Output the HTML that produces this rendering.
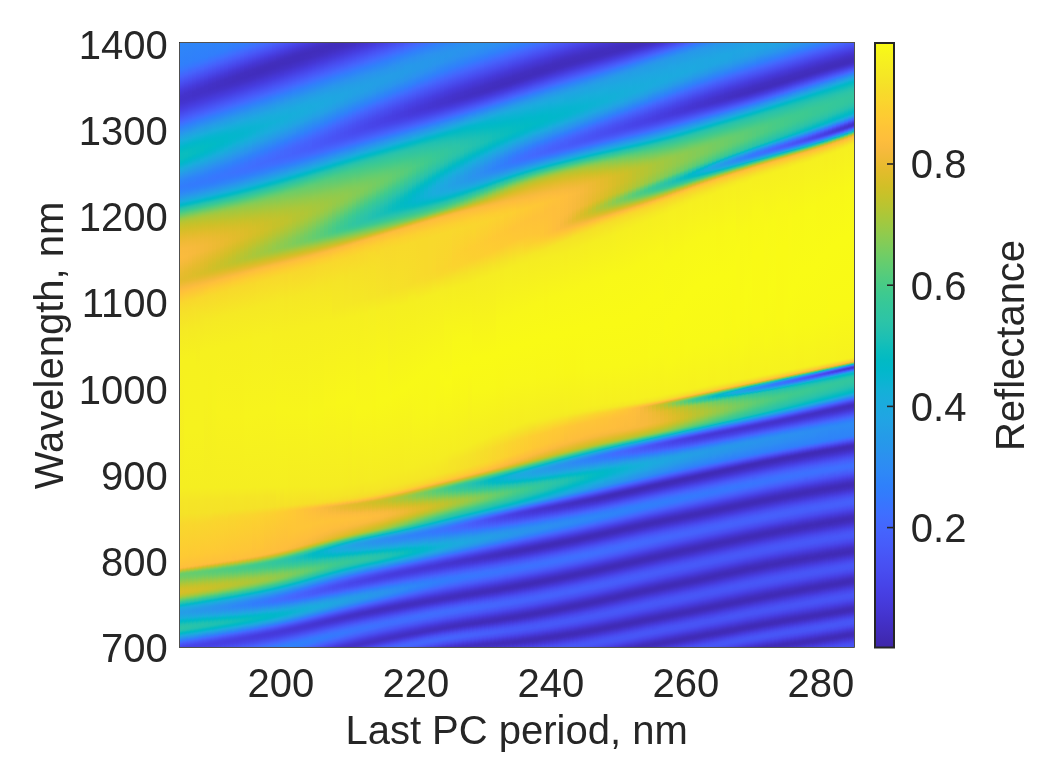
<!DOCTYPE html>
<html lang="en"><head><meta charset="utf-8"><title>Reflectance map</title>
<style>
html,body{margin:0;padding:0;background:#fff;}
body{width:1042px;height:769px;overflow:hidden;}
svg{display:block;position:absolute;left:0;top:0;}
#hm{position:absolute;left:179.6px;top:42.6px;width:674.8px;height:604.8px;overflow:hidden;}
#sk{position:absolute;left:0.4px;top:0.4px;width:675px;height:776px;transform-origin:0 0;transform:skewY(-14deg);}
#hm i{position:absolute;top:0;height:776px;display:block;}
text{font-family:"Liberation Sans",Arial,sans-serif;fill:#262626;}
.t{font-size:40.00px;}
.l{font-size:40.00px;}
</style></head><body>
<div id="hm"><div id="sk">
<i style="left:0px;width:4px;background:linear-gradient(#2e87f7 0px,#3080fa 22px,#3777fe 27px,#4562fc 34px,#484ff2 40px,#463bdd 47px,#4433cc 53px,#4332ca 57px,#4435d1 61px,#473fe3 67px,#475cfa 76px,#4368fe 79px,#3d71ff 81px,#2f82f9 85px,#2b91ef 89px,#22a2e4 94px,#19addc 98px,#02b7cb 104px,#02bac4 107px,#09bdbe 111px,#09bcbe 116px,#02bac5 119px,#02b7cb 121px,#1aacdd 126px,#249fe6 130px,#2b91ef 134px,#2e85f8 138px,#327cfc 144px,#2e84f9 149px,#2d8df2 152px,#249ee6 156px,#1aacdd 159px,#01b7ca 162px,#02bbc3 163px,#28c2ab 166px,#3eca90 169px,#56cc7b 171px,#96ca48 176px,#aac73a 178px,#b9c431 180px,#c6c22a 183px,#d3bf27 187px,#e6bb2d 194px,#efba35 199px,#f8ba3d 206px,#fabb3d 215px,#f7ba3c 219px,#e7bb2e 231px,#e3bb2c 237px,#e9bb2f 240px,#f8ba3d 245px,#febe3c 248px,#fec437 251px,#f9d82c 261px,#f6e028 270px,#f5ea23 289px,#f6f11e 318px,#f5ee21 445px,#f5e526 459px,#f5e227 472px,#f8d82c 481px,#feca33 514px,#fec338 522px,#febe3c 525px,#f3ba39 526px,#dfbc2a 527px,#c2c22c 528px,#84cc56 530px,#6fcd65 531px,#6acd6a 532px,#6fcd66 534px,#7ccc5c 536px,#b3c534 542px,#c4c22b 544px,#d0c027 546px,#d8be28 549px,#d2bf27 551px,#bcc42f 553px,#acc739 554px,#97ca48 555px,#66cd6d 557px,#3bc993 559px,#20c1b1 561px,#09bdbe 562px,#01b8c9 563px,#18addb 565px,#1da8e0 566px,#249ee6 569px,#249ee6 571px,#1aabdd 575px,#14b0d8 576px,#02b7cb 578px,#02bac4 579px,#21c1b0 582px,#2bc3a8 584px,#2cc4a7 586px,#28c3aa 587px,#22c1b0 588px,#15bfb7 589px,#06bcc0 590px,#01b8ca 591px,#1babde 593px,#2699e9 595px,#3479fd 598px,#3f6efe 599px,#4563fd 600px,#484cef 603px,#4743e7 605px,#4742e6 607px)"></i>
<i style="left:4px;width:4px;background:linear-gradient(#2e87f7 0px,#307ffb 22px,#3876fe 27px,#4564fd 33px,#484df1 40px,#463adb 47px,#4433cc 52px,#4332ca 57px,#4435d1 61px,#4740e4 67px,#475af9 75px,#3f6eff 80px,#3080fb 84px,#259de7 92px,#18aedb 98px,#04b6cd 103px,#01b8ca 104px,#02bac3 107px,#06bcc0 109px,#0abdbe 112px,#09bcbe 115px,#02bac4 118px,#01b8ca 120px,#08b4d0 122px,#18addb 125px,#23a1e4 129px,#2c90f0 134px,#2e84f8 138px,#327cfc 144px,#2e83f9 149px,#2d8df2 152px,#249ee6 156px,#1aabdd 159px,#14b0d8 160px,#02b7cb 162px,#02bac4 163px,#27c2ac 166px,#3dc991 169px,#54cc7c 171px,#94ca4a 176px,#a8c73b 178px,#b7c532 180px,#c4c22a 183px,#d2bf27 187px,#e5bb2d 194px,#f0ba36 200px,#f8ba3d 207px,#f9bb3d 215px,#f6ba3b 219px,#e6bb2d 230px,#e2bc2b 236px,#e5bb2d 239px,#f8ba3d 245px,#febe3c 248px,#fec537 251px,#f9d72d 260px,#f6df29 269px,#f5ea24 288px,#f6f11e 318px,#f6f21e 391px,#f5ee21 446px,#f5e626 459px,#f5e327 472px,#f9d82c 482px,#feca33 514px,#fec03b 525px,#f9bb3d 526px,#e9bb2f 527px,#d0bf27 528px,#b1c635 529px,#91ca4c 530px,#77cc60 531px,#6acd6a 532px,#69cd6b 533px,#76cc60 536px,#adc638 542px,#bec32e 544px,#ccc028 546px,#d6be28 549px,#d3bf27 551px,#c1c32c 553px,#b2c635 554px,#9fc942 555px,#70cd65 557px,#41ca8c 559px,#27c2ac 561px,#12beb9 562px,#02bac5 563px,#07b5d0 564px,#15afd9 565px,#1caadf 566px,#249ee6 569px,#259de7 571px,#23a1e4 573px,#19addc 576px,#01b8c9 579px,#04bbc1 580px,#24c1af 583px,#2bc3a8 585px,#29c3a9 587px,#25c2ae 588px,#1bc0b4 589px,#0bbdbd 590px,#01b9c6 591px,#08b4d0 592px,#17aeda 593px,#1fa6e2 594px,#317efb 598px,#3c72ff 599px,#4367fd 600px,#465dfb 601px,#4848ec 604px,#4742e6 606px,#4743e7 608px)"></i>
<i style="left:8px;width:4px;background:linear-gradient(#2e86f7 1px,#3080fa 21px,#3777fe 26px,#4562fc 33px,#484ff2 39px,#463bdd 46px,#4433cd 51px,#4332c9 56px,#4434cf 60px,#473fe2 66px,#475bfa 75px,#3e6fff 80px,#2f81fa 84px,#22a1e4 93px,#17aeda 98px,#03b7cc 103px,#02bac3 107px,#07bcbf 110px,#07bcc0 115px,#02bac3 117px,#01b8c9 119px,#06b5cf 121px,#1aacdd 125px,#239fe5 129px,#2c8ff1 134px,#2e83f9 138px,#337bfc 144px,#317efb 147px,#2e85f8 150px,#2b90f0 153px,#22a2e4 157px,#15afd9 160px,#03b7cc 162px,#02bac5 163px,#0bbdbd 164px,#26c2ad 166px,#3cc992 169px,#5fcd73 172px,#92ca4b 176px,#a6c83d 178px,#b5c533 180px,#c3c22b 183px,#d0bf27 187px,#dcbd29 191px,#efba35 200px,#f7ba3c 207px,#f8ba3d 214px,#f3ba38 220px,#e5bb2d 229px,#e0bc2a 236px,#e7bb2e 240px,#f8ba3d 245px,#febe3c 248px,#fec338 250px,#f9d72c 260px,#f6e028 270px,#f5ea23 289px,#f6f11e 319px,#f6f21e 391px,#f5ee21 447px,#f5e526 460px,#f5e227 473px,#f9d82c 482px,#fdca33 514px,#fec13a 525px,#fdbd3d 526px,#f1ba37 527px,#dcbd29 528px,#bfc32d 529px,#82cc58 531px,#6dcd67 532px,#67cd6c 533px,#6ccd69 535px,#77cc5f 537px,#b0c636 543px,#c0c32d 545px,#cdc028 547px,#d5be28 550px,#cec028 552px,#c4c22b 553px,#a6c83d 555px,#79cc5e 557px,#49cb85 559px,#37c897 560px,#2dc4a6 561px,#1bc0b4 562px,#06bbc1 563px,#03b7cc 564px,#11b1d6 565px,#1aacdd 566px,#1fa6e1 567px,#259ce7 570px,#259ce7 572px,#1ca9df 576px,#17aedb 577px,#05b6ce 579px,#01b9c6 580px,#07bcbf 581px,#1ec0b2 583px,#29c3aa 585px,#2ac3a9 587px,#26c2ac 588px,#1fc0b2 589px,#11beb9 590px,#03bbc2 591px,#03b6cc 592px,#12b1d6 593px,#1ca9df 594px,#2d8df2 597px,#2f82fa 598px,#3776fe 599px,#416bfe 600px,#4661fc 601px,#484aee 604px,#4742e6 606px,#4743e7 609px)"></i>
<i style="left:12px;width:4px;background:linear-gradient(#2e86f7 2px,#307ffb 21px,#3876fe 26px,#4564fd 32px,#484df0 39px,#463ada 46px,#4332c9 52px,#4331c8 56px,#4434cf 60px,#473fe3 66px,#475dfa 75px,#4368fe 78px,#3c71ff 80px,#317efb 83px,#249fe5 92px,#19addc 97px,#05b6ce 102px,#01b8c9 104px,#05bbc1 109px,#06bcc0 114px,#02bac3 116px,#02b7cb 119px,#18addb 124px,#22a1e4 128px,#2b91ef 133px,#2f83f9 138px,#337bfd 144px,#317dfc 147px,#2e85f8 150px,#2c90f0 153px,#22a1e4 157px,#16afd9 160px,#04b6cd 162px,#01bac5 163px,#09bdbe 164px,#25c2ae 166px,#3ac993 169px,#44cb89 170px,#5dcc74 172px,#90ca4d 176px,#a4c83e 178px,#b3c534 180px,#c5c22a 184px,#d2bf27 188px,#e4bb2c 195px,#eeba34 200px,#f6ba3b 207px,#f7ba3c 214px,#e6bb2d 227px,#dfbc2a 232px,#debd29 236px,#e7bb2e 240px,#f8ba3d 245px,#febf3c 248px,#fec338 250px,#f9d72c 260px,#f6e029 269px,#f5ea23 289px,#f6f11e 319px,#f6f21e 391px,#f5ee21 448px,#f5e526 461px,#f5e227 474px,#f9d72c 484px,#fec934 516px,#febf3c 526px,#f7ba3c 527px,#e6bb2d 528px,#cdc028 529px,#aec637 530px,#8fcb4e 531px,#75cc61 532px,#67cd6d 533px,#65cd6e 534px,#71cd64 537px,#82cc58 539px,#a9c73a 543px,#bbc430 545px,#c9c129 547px,#d3bf27 550px,#cfc028 552px,#c7c12a 553px,#acc739 555px,#98c946 556px,#69cd6a 558px,#3dc990 560px,#23c1af 562px,#0cbdbc 563px,#01b8c8 564px,#18aedb 566px,#1da8e0 567px,#259be7 570px,#269ae8 572px,#22a2e4 575px,#1baade 577px,#15afd9 578px,#03b7cc 580px,#02bac4 581px,#20c1b1 584px,#28c3aa 586px,#27c2ab 588px,#22c1b0 589px,#17bfb7 590px,#08bcbf 591px,#01b8c8 592px,#19addc 594px,#2b91ef 597px,#337bfd 599px,#3e6fff 600px,#4464fd 601px,#4853f5 603px,#4746eb 605px,#4741e5 607px,#4744e9 610px)"></i>
<i style="left:16px;width:4px;background:linear-gradient(#2e86f8 3px,#307ffb 21px,#327cfc 23px,#3c72ff 27px,#4562fc 32px,#484bef 39px,#4538d8 46px,#4332c9 51px,#4331c8 56px,#4435d0 60px,#4740e4 66px,#475af9 74px,#3f6eff 79px,#3080fb 83px,#259de7 91px,#18addb 97px,#05b6ce 102px,#01b8c9 104px,#04bbc2 109px,#04bbc2 114px,#01b8ca 118px,#1ca9df 125px,#2c90f0 133px,#2e87f7 136px,#317efb 140px,#347afd 144px,#317dfc 147px,#2e84f8 150px,#2c8ff0 153px,#23a1e5 157px,#17aeda 160px,#05b6cd 162px,#01b9c6 163px,#08bcbf 164px,#23c1af 166px,#43ca8b 170px,#5bcc76 172px,#8ecb4f 176px,#a2c840 178px,#b1c635 180px,#c2c22b 184px,#d0bf27 188px,#e3bc2c 195px,#eeba34 201px,#f5ba3a 208px,#f5ba3a 214px,#e5bb2d 226px,#dbbd29 235px,#ddbd29 237px,#e6bb2d 240px,#f7ba3c 245px,#febf3b 248px,#f9d82c 260px,#f5e327 274px,#f5ec22 294px,#f6f11e 329px,#f6f21e 392px,#f5ee21 449px,#f5e526 462px,#f5e228 475px,#f9d72d 485px,#feca33 515px,#fec03a 526px,#fbbc3d 527px,#eeba34 528px,#d9be28 529px,#bcc42f 530px,#7fcc5a 532px,#6acd6a 533px,#63cd70 534px,#67cd6c 536px,#72cd63 538px,#acc739 544px,#c4c22b 547px,#d0bf27 550px,#cfc028 552px,#bfc32d 554px,#9fc941 556px,#72cd64 558px,#44ca8a 560px,#29c3aa 562px,#02bac4 564px,#06b5cf 565px,#15afd8 566px,#1caadf 567px,#259be7 570px,#2698ea 572px,#249ee6 575px,#1aacdd 578px,#01b8ca 581px,#03bbc2 582px,#19bfb5 584px,#26c2ad 586px,#27c2ab 588px,#24c1af 589px,#1bc0b4 590px,#0dbdbc 591px,#02bac5 592px,#06b5cf 593px,#15afd9 594px,#1ea8e1 595px,#307ffb 599px,#3a73fe 600px,#4368fe 601px,#465efb 602px,#484ef1 604px,#4744e8 606px,#4741e5 608px,#4746ea 611px)"></i>
<i style="left:20px;width:4px;background:linear-gradient(#2e85f8 4px,#307ffb 20px,#3876fe 25px,#4564fd 31px,#484df0 38px,#4639d9 45px,#4331c8 51px,#4331c6 55px,#4434ce 59px,#473ee1 65px,#475bf9 74px,#3e6fff 79px,#2f81fa 83px,#269be8 90px,#18aedb 97px,#08b5d0 101px,#01b8c9 104px,#03bbc2 109px,#03bbc2 113px,#01b8ca 117px,#07b5cf 119px,#19addc 123px,#2b92ee 132px,#307ffb 139px,#3479fd 144px,#327cfc 147px,#2e84f9 150px,#2c8ff1 153px,#23a0e5 157px,#18aedb 160px,#06b6ce 162px,#01b9c7 163px,#07bcc0 164px,#22c1b0 166px,#2bc3a8 167px,#41ca8c 170px,#59cc78 172px,#8bcb51 176px,#9fc941 178px,#afc637 180px,#c4c22b 185px,#d1bf27 189px,#e4bb2c 196px,#eeba34 202px,#f3ba39 208px,#f3ba39 214px,#e2bc2b 226px,#d8be28 235px,#dbbd29 237px,#e5bb2d 240px,#f7ba3c 245px,#febf3b 248px,#f9d82c 260px,#f5e626 279px,#f6f11f 314px,#f6f21e 344px,#f6f21e 396px,#f5ee21 450px,#f5e626 462px,#f5e227 475px,#f9d62d 486px,#fec834 518px,#fec239 525px,#febe3c 527px,#f5ba3a 528px,#e3bc2c 529px,#c9c129 530px,#abc739 531px,#8bcb50 532px,#71cd64 533px,#63cd70 534px,#61cd72 535px,#67cd6d 537px,#74cd62 539px,#aec637 545px,#c5c22a 548px,#cdc028 550px,#cec028 552px,#c1c32c 554px,#a5c83d 556px,#91ca4c 557px,#62cd70 559px,#4bcb84 560px,#39c895 561px,#2dc4a5 562px,#1dc0b3 563px,#07bcc0 564px,#03b7cb 565px,#11b1d6 566px,#1aabdd 567px,#1fa5e2 568px,#2699e9 571px,#2797eb 573px,#259be8 575px,#1da8e0 578px,#19addc 579px,#06b5cf 581px,#01b9c7 582px,#06bcc0 583px,#1bc0b4 585px,#26c2ad 587px,#24c1ae 589px,#1dc0b3 590px,#12beb9 591px,#04bbc1 592px,#02b7cb 593px,#1babde 595px,#2699ea 597px,#2e83f9 599px,#3678fe 600px,#416cfe 601px,#4561fc 602px,#4850f3 604px,#4745e9 606px,#4740e4 608px,#4848ec 612px)"></i>
<i style="left:24px;width:4px;background:linear-gradient(#2e85f8 5px,#307ffb 20px,#327cfc 22px,#3c72ff 26px,#4562fc 31px,#484bef 38px,#4538d7 45px,#4331c8 50px,#4331c6 55px,#4434ce 59px,#473fe2 65px,#475cfa 74px,#4368fe 77px,#3d71ff 79px,#317efb 82px,#259be7 90px,#17aeda 97px,#07b5d0 101px,#01b8c9 104px,#02bbc3 110px,#01b8c9 116px,#06b5cf 118px,#17aedb 122px,#23a0e5 127px,#2d8df2 133px,#3080fa 138px,#3579fd 144px,#327cfc 147px,#2e83f9 150px,#2c8ef1 153px,#23a0e5 157px,#18addb 160px,#06b5cf 162px,#01b8c8 163px,#06bbc1 164px,#20c1b1 166px,#2ac3a9 167px,#3fca8e 170px,#57cc7a 172px,#93ca4b 177px,#acc738 180px,#c5c22a 186px,#d2bf27 190px,#e2bc2b 196px,#ecba33 202px,#f2ba37 208px,#f1ba37 214px,#dfbc2a 226px,#d6be28 234px,#d9bd28 237px,#e4bb2c 240px,#f7ba3c 245px,#febf3b 248px,#fccf30 255px,#f8d82c 260px,#f5e825 282px,#f6f11f 314px,#f6f21e 356px,#f5ee21 451px,#f5e526 463px,#f5e227 476px,#f9d62d 486px,#fec934 516px,#fec03b 527px,#fabb3d 528px,#ebba32 529px,#d5be28 530px,#b9c431 531px,#7ccc5c 533px,#67cd6c 534px,#5ecd74 535px,#62cd71 537px,#6dcd67 539px,#a7c73c 545px,#bfc32d 548px,#ccc028 551px,#cac129 553px,#b8c431 555px,#aac73a 556px,#82cc58 558px,#3eca8f 561px,#24c2ae 563px,#0dbdbb 564px,#01b9c8 565px,#18addb 567px,#22a1e4 569px,#2896eb 572px,#2896eb 574px,#249fe5 577px,#1da9e0 579px,#17aedb 580px,#04b6cd 582px,#01bac6 583px,#08bcbf 584px,#1cc0b3 586px,#22c1b0 587px,#24c1ae 589px,#1fc1b1 590px,#16bfb7 591px,#08bcbe 592px,#01b9c8 593px,#0ab4d1 594px,#18aedb 595px,#1fa5e2 596px,#327cfc 600px,#3e70ff 601px,#4465fd 602px,#4853f5 604px,#4742e6 607px,#4740e4 609px,#484aed 613px)"></i>
<i style="left:28px;width:4px;background:linear-gradient(#2e85f8 6px,#317efb 20px,#3d70ff 26px,#4660fc 31px,#484cf0 37px,#4538d8 44px,#4331c8 49px,#4230c4 54px,#4433cb 58px,#463de0 64px,#4756f7 72px,#4561fc 75px,#3f6efe 78px,#307ffb 82px,#259ce7 90px,#19acdc 96px,#07b5d0 101px,#01b8ca 104px,#02bac4 110px,#01b8c9 115px,#09b4d1 118px,#19acdc 122px,#22a1e4 126px,#2c8ff1 132px,#2f81fa 137px,#347afd 141px,#3678fd 144px,#337bfc 147px,#2e83f9 150px,#2c8ef2 153px,#249fe5 157px,#19addc 160px,#01b8c9 163px,#04bbc1 164px,#29c3aa 167px,#3eca8f 170px,#55cc7b 172px,#91ca4d 177px,#aac73a 180px,#c3c22b 186px,#d0bf27 190px,#e2bc2b 197px,#ecba32 203px,#f0ba36 209px,#efba35 214px,#ddbd29 225px,#d5be28 230px,#d3bf27 234px,#d5be28 236px,#dfbc2a 239px,#f7ba3c 245px,#fec03b 248px,#fdce31 254px,#f8d92c 260px,#f5e825 283px,#f6f11f 314px,#f6f21d 365px,#f5ee21 452px,#f5e526 464px,#f5e228 477px,#f9d62d 486px,#fec934 517px,#fec13a 527px,#fdbd3d 528px,#f3ba38 529px,#e0bc2a 530px,#c6c22a 531px,#a7c73c 532px,#88cb53 533px,#6ecd67 534px,#5fcd73 535px,#5ccc76 536px,#61cd71 538px,#6ecd67 540px,#a9c73a 546px,#c0c32d 549px,#c8c129 551px,#c9c129 553px,#c4c22b 554px,#bbc430 555px,#9dc943 557px,#71cd64 559px,#44cb89 561px,#29c3a9 563px,#02bac4 565px,#07b5cf 566px,#15afd9 567px,#1da9e0 568px,#2699e9 571px,#2994ed 574px,#259ce7 577px,#1caadf 580px,#15afd9 581px,#02b7cb 583px,#02bac4 584px,#1dc0b3 587px,#23c1af 589px,#20c1b1 590px,#19bfb5 591px,#0cbdbc 592px,#02bac4 593px,#05b6ce 594px,#14b0d8 595px,#1da9e0 596px,#2d8bf3 599px,#2f80fa 600px,#3974fe 601px,#4369fe 602px,#465efb 603px,#4747eb 606px,#4740e4 608px,#4740e3 609px,#4742e6 611px,#484cef 614px)"></i>
<i style="left:32px;width:4px;background:linear-gradient(#2e84f8 7px,#317efb 20px,#3e6fff 26px,#4562fc 30px,#484bee 37px,#4537d6 44px,#4331c6 49px,#4230c4 54px,#4433cc 58px,#463ee0 64px,#4757f7 72px,#4562fc 75px,#3e6fff 78px,#2f80fa 82px,#259de7 90px,#19addc 96px,#07b5d0 101px,#01b8ca 104px,#01bac5 110px,#01b8ca 114px,#08b4d0 117px,#18addb 121px,#23a0e5 126px,#2d8df2 132px,#3080fa 137px,#3579fd 141px,#3777fe 144px,#337afd 147px,#2f82f9 150px,#2d8df2 153px,#249fe6 157px,#19acdc 160px,#01b8c9 163px,#03bbc2 164px,#28c3ab 167px,#3dc991 170px,#53cc7d 172px,#8ecb4f 177px,#a0c841 179px,#adc638 181px,#c4c22b 187px,#d1bf27 191px,#e0bc2b 197px,#eaba31 203px,#eeba34 209px,#edba33 214px,#dcbd29 224px,#d2bf27 230px,#cfc028 234px,#d3bf27 236px,#debc2a 239px,#efba35 243px,#f7ba3c 245px,#fec03b 248px,#fdce31 254px,#f8d92c 260px,#f5e924 284px,#f6f11f 315px,#f6f31d 372px,#f5ee21 453px,#f5e526 465px,#f5e227 477px,#f8d92b 483px,#fad52d 488px,#fec934 517px,#febf3b 528px,#f8ba3d 529px,#e8bb2f 530px,#d2bf27 531px,#b4c533 532px,#78cc5f 534px,#63cd70 535px,#5acc77 536px,#5dcc75 538px,#67cd6c 540px,#78cc5f 542px,#a2c840 546px,#bbc430 549px,#c5c22a 551px,#c7c129 553px,#c4c22b 554px,#bdc42f 555px,#a2c83f 557px,#8fcb4e 558px,#62cd71 560px,#4bcb84 561px,#39c895 562px,#2ec4a5 563px,#1dc0b3 564px,#07bcc0 565px,#03b7cc 566px,#12b1d6 567px,#20a4e3 569px,#2895ec 572px,#2a92ee 575px,#23a1e4 579px,#1aabdd 581px,#01b8c9 584px,#03bbc2 585px,#17bfb6 587px,#20c1b1 589px,#20c1b1 590px,#1bc0b4 591px,#10beba 592px,#04bbc1 593px,#02b7ca 594px,#1aabdd 596px,#269ae9 598px,#3578fd 601px,#406cfe 602px,#4562fc 603px,#4850f3 605px,#4744e8 607px,#473fe3 609px,#4740e3 610px,#4744e8 612px,#484ff1 615px)"></i>
<i style="left:36px;width:4px;background:linear-gradient(#2e84f9 8px,#2f81fa 16px,#317dfc 20px,#3d70ff 25px,#4660fc 30px,#484cf0 36px,#4538d7 43px,#4331c6 48px,#422fc2 53px,#4332c9 57px,#473ee1 64px,#475cfa 73px,#3d70ff 78px,#2f81fa 82px,#269ae8 89px,#19addc 96px,#0bb3d2 100px,#02b7cb 104px,#01b9c7 109px,#01b8ca 113px,#08b5d0 116px,#17aedb 120px,#23a1e4 125px,#2c8ff1 131px,#307ffb 137px,#3678fe 141px,#3776fe 144px,#307ffb 149px,#2d8df2 153px,#249ee6 157px,#19acdc 160px,#01b8ca 163px,#02bbc3 164px,#27c2ac 167px,#3cc992 170px,#51cc7f 172px,#8bcb51 177px,#9dc943 179px,#aac73a 181px,#c5c22a 188px,#cfc028 191px,#debc2a 197px,#e8bb2f 203px,#ecba33 209px,#eaba31 214px,#ddbd29 222px,#cfc028 229px,#ccc028 233px,#d1bf27 236px,#ddbd29 239px,#e7bb2e 241px,#f7ba3c 245px,#febe3c 247px,#fcce31 254px,#f8d92b 260px,#f5e924 284px,#f6f11f 315px,#f7f31d 377px,#f5ee21 454px,#f5e526 466px,#f5e227 478px,#f8d82c 484px,#fad52d 488px,#fec835 519px,#fec03a 528px,#fcbc3d 529px,#f0ba36 530px,#dcbd29 531px,#c1c32c 532px,#a2c83f 533px,#84cc57 534px,#6acd6a 535px,#5bcc77 536px,#57cc7a 537px,#5ccc76 539px,#68cd6b 541px,#a4c83e 547px,#bbc42f 550px,#c4c22b 552px,#c3c22b 554px,#b4c534 556px,#a6c83c 557px,#95ca49 558px,#69cd6b 560px,#3eca90 562px,#24c1ae 564px,#0dbdbc 565px,#01b8c8 566px,#19addc 568px,#1fa6e2 569px,#2895ec 572px,#2c90f0 575px,#2798ea 578px,#1ea7e1 581px,#11b1d6 583px,#06b5cf 584px,#01b9c7 585px,#06bcc0 586px,#0fbebb 587px,#18bfb6 588px,#1dc0b3 589px,#1ec0b2 590px,#1bc0b4 591px,#13beb8 592px,#08bcbf 593px,#01b9c7 594px,#09b4d1 595px,#17aeda 596px,#1fa6e1 597px,#317dfc 601px,#3d71ff 602px,#4465fd 603px,#4853f4 605px,#4745e9 607px,#473fe2 609px,#4740e4 611px,#4851f4 616px)"></i>
<i style="left:40px;width:4px;background:linear-gradient(#2e83f9 9px,#2f81fa 16px,#327cfc 20px,#3e6fff 25px,#465ffb 30px,#4747eb 37px,#4537d5 43px,#4230c4 48px,#422fc2 53px,#4332c9 57px,#463cdf 63px,#4756f6 71px,#406dfe 77px,#307efb 81px,#259be8 89px,#19addc 96px,#0bb3d2 100px,#01b8ca 105px,#01b8c8 109px,#01b7ca 112px,#0bb3d2 116px,#19acdc 120px,#249fe5 125px,#2d87f6 133px,#317dfc 137px,#3777fe 141px,#3876fe 144px,#3479fd 147px,#2e85f8 151px,#2b91ef 154px,#249ee6 157px,#1aacdd 160px,#02b7cb 163px,#02bac3 164px,#26c2ac 167px,#3bc993 170px,#4fcc80 172px,#89cb53 177px,#9bc945 179px,#a8c73b 181px,#c3c22b 188px,#d0bf27 192px,#dcbd29 197px,#e6bb2d 203px,#eaba30 208px,#e9bb2f 213px,#d5be28 224px,#cbc029 229px,#c9c129 233px,#cfc028 236px,#dcbd29 239px,#e6bb2d 241px,#f7ba3c 245px,#febe3c 247px,#fccf30 254px,#f8d92b 260px,#f5e924 284px,#f6f01f 315px,#f7f31d 380px,#f5ee21 455px,#f5e626 466px,#f5e228 479px,#f9d82c 485px,#fad52e 489px,#fec835 519px,#fec239 527px,#febe3c 529px,#f6ba3b 530px,#e5bb2d 531px,#cdc028 532px,#b0c636 533px,#73cd63 535px,#5fcd73 536px,#55cc7b 537px,#58cc7a 539px,#62cd71 541px,#72cd63 543px,#9cc944 547px,#b6c533 550px,#c0c32d 552px,#c2c22c 554px,#bec32e 555px,#b6c533 556px,#aac73a 557px,#9ac946 558px,#70cd65 560px,#44ca8a 562px,#29c3aa 564px,#02bac4 566px,#07b5d0 567px,#16aeda 568px,#22a1e4 570px,#2b92ee 573px,#2c8ef1 575px,#2994ed 578px,#21a3e3 581px,#18aedb 583px,#04b6cd 585px,#01bac6 586px,#18bfb6 589px,#1bc0b4 590px,#1bc0b4 591px,#15bfb7 592px,#0abdbd 593px,#02bac5 594px,#05b6cd 595px,#13b0d7 596px,#1ca9df 597px,#2d8cf3 600px,#2f81fa 601px,#3975fe 602px,#4269fe 603px,#465efb 604px,#484df0 606px,#4742e6 608px,#473fe2 610px,#4741e5 612px,#4855f6 617px)"></i>
<i style="left:44px;width:4px;background:linear-gradient(#2e83f9 10px,#2f81fa 16px,#337bfc 20px,#3f6efe 25px,#465dfa 30px,#4849ed 36px,#4538d7 42px,#422fc2 48px,#422fc1 53px,#4332ca 57px,#463ddf 63px,#4757f7 71px,#4562fc 74px,#3f6eff 77px,#307ffb 81px,#2699ea 88px,#18addb 96px,#0fb2d5 99px,#08b4d1 101px,#03b7cc 104px,#01b8ca 110px,#07b5d0 114px,#13b1d7 117px,#23a0e5 124px,#2c8ef1 130px,#2e83f9 134px,#3578fd 139px,#3975fe 143px,#3579fd 147px,#2d88f6 152px,#2b91ef 154px,#1ea7e1 159px,#14b0d8 161px,#02b7cb 163px,#02bac4 164px,#0bbdbc 165px,#25c2ad 167px,#3ac994 170px,#4ecc81 172px,#86cb54 177px,#98c947 179px,#a5c83d 181px,#c7c129 190px,#dabd28 197px,#e4bb2c 203px,#e8bb2f 208px,#e6bb2d 213px,#d3bf27 223px,#c9c129 228px,#c5c22a 233px,#cdc028 236px,#dbbd29 239px,#e5bb2d 241px,#f8ba3d 245px,#febe3c 247px,#fccf30 254px,#f8d92b 260px,#f5e924 284px,#f6f01f 315px,#f7f31d 383px,#f5ee21 456px,#f5e526 467px,#f5e227 479px,#fad52e 489px,#fec735 520px,#fec03b 529px,#fabb3d 530px,#edba33 531px,#d8be28 532px,#bdc32f 533px,#7fcc5a 535px,#65cd6e 536px,#57cc7a 537px,#52cc7e 538px,#57cc7a 540px,#63cd70 542px,#74cc62 544px,#9ec942 548px,#b0c636 550px,#bbc42f 552px,#bfc32d 554px,#bdc32e 555px,#b7c532 556px,#9ec942 558px,#8ccb50 559px,#60cd72 561px,#4acb85 562px,#38c896 563px,#2dc4a5 564px,#1dc0b3 565px,#06bcc0 566px,#04b6cc 567px,#13b0d7 568px,#21a3e4 570px,#2b92ee 573px,#2d8cf3 576px,#2994ed 579px,#20a4e3 582px,#15afd9 584px,#02b7cb 586px,#02bac4 587px,#12beb9 589px,#17bfb6 590px,#19bfb5 591px,#16bfb7 592px,#0dbdbc 593px,#03bbc2 594px,#02b7cb 595px,#1aacdd 597px,#269ae8 599px,#3579fd 602px,#406dfe 603px,#4562fc 604px,#4850f2 606px,#4743e7 608px,#473ee1 610px,#4740e4 612px,#484aed 615px,#4758f8 618px)"></i>
<i style="left:48px;width:4px;background:linear-gradient(#2f83f9 11px,#327cfc 19px,#3e6fff 24px,#465ffb 29px,#4747eb 36px,#4536d4 42px,#4230c3 47px,#422ec0 52px,#4331c7 56px,#463de0 63px,#4757f8 71px,#4563fc 74px,#3e6fff 77px,#2f80fa 81px,#2699e9 88px,#18addb 96px,#0fb2d5 99px,#04b6cd 104px,#03b7cc 110px,#07b5d0 113px,#12b1d7 116px,#22a1e4 123px,#2c90f0 129px,#2f82fa 134px,#3777fe 139px,#3a74fe 143px,#3578fd 147px,#2d88f6 152px,#2b91ef 154px,#1ea7e1 159px,#14b0d8 161px,#02b7cb 163px,#02bac4 164px,#0bbdbd 165px,#25c2ae 167px,#39c895 170px,#4ccb83 172px,#84cc56 177px,#95ca49 179px,#a2c83f 181px,#c5c22a 190px,#d8be28 197px,#e2bc2b 203px,#e6bb2d 209px,#e3bc2c 213px,#d2bf27 222px,#c5c22a 228px,#c1c32c 232px,#c7c12a 235px,#dabd28 239px,#e5bb2d 241px,#f8ba3d 245px,#febe3c 247px,#fdcd31 253px,#f8d92c 259px,#f5e924 284px,#f6f01f 315px,#f7f31d 385px,#f5ee21 457px,#f5e526 468px,#f5e228 480px,#f9d72c 486px,#fad42e 490px,#fec735 520px,#fec13a 529px,#fdbd3d 530px,#f3ba38 531px,#e1bc2b 532px,#c8c129 533px,#abc739 534px,#6ecd66 536px,#5bcc77 537px,#50cc7f 538px,#50cc80 539px,#56cc7a 541px,#64cd6f 543px,#a0c841 549px,#b0c636 551px,#bac430 553px,#bcc42f 555px,#b7c532 556px,#aec637 557px,#91ca4d 559px,#66cd6d 561px,#3dc991 563px,#23c1af 565px,#0bbdbc 566px,#01b8c9 567px,#1aacdd 569px,#20a4e3 570px,#2c8ef1 574px,#2d8bf4 577px,#2b90ef 579px,#1fa6e2 583px,#13b0d7 585px,#07b5d0 586px,#01b8c9 587px,#03bbc2 588px,#12beb9 590px,#16bfb7 591px,#15bfb7 592px,#0fbebb 593px,#06bcc0 594px,#01b9c8 595px,#09b4d1 596px,#16aeda 597px,#1ea7e1 598px,#317dfc 602px,#3d71ff 603px,#4465fd 604px,#475bf9 605px,#484aee 607px,#4740e4 609px,#463ee1 611px,#4741e5 613px,#475bfa 619px)"></i>
<i style="left:52px;width:4px;background:linear-gradient(#2f82f9 12px,#327bfc 19px,#3f6eff 24px,#465dfb 29px,#4849ed 35px,#4537d6 41px,#422fc1 47px,#422ebf 52px,#4331c8 56px,#463bde 62px,#4755f6 70px,#406cfe 76px,#2f81fa 81px,#269ae9 88px,#1ca9df 94px,#10b2d5 99px,#06b5ce 103px,#03b7cc 108px,#08b5d0 112px,#12b1d6 115px,#249fe5 123px,#2c8ef2 129px,#2f82f9 133px,#3777fe 138px,#3b73fe 143px,#3678fd 147px,#2d88f6 152px,#2b91ef 154px,#1ea7e1 159px,#14b0d8 161px,#02b7cb 163px,#02bac4 164px,#0abdbd 165px,#24c2ae 167px,#38c896 170px,#4bcb84 172px,#82cc58 177px,#93ca4b 179px,#a0c841 181px,#b8c431 187px,#c6c22a 191px,#d6be28 197px,#e0bc2a 203px,#e3bb2c 208px,#e2bc2b 212px,#d0bf27 221px,#c3c22b 227px,#bec32e 232px,#c5c22a 235px,#d9bd28 239px,#e9bb2f 242px,#f8ba3d 245px,#febf3c 247px,#fdce31 253px,#f8d92c 259px,#f5e924 284px,#f6f01f 315px,#f7f31d 386px,#f5ee21 458px,#f5e526 469px,#f5e227 480px,#f9d82c 486px,#fad42e 491px,#fec636 522px,#febe3c 530px,#f8ba3d 531px,#e9bb2f 532px,#d3bf27 533px,#b7c532 534px,#79cc5f 536px,#60cd72 537px,#52cc7e 538px,#4dcc82 539px,#51cc7e 541px,#5dcc75 543px,#6ecd66 545px,#99c946 549px,#aac739 551px,#b6c532 553px,#b9c430 555px,#b6c532 556px,#afc637 557px,#95ca49 559px,#6ccd68 561px,#42ca8c 563px,#28c3ab 565px,#01bac5 567px,#09b4d1 568px,#18aedb 569px,#249fe5 571px,#2c8ef1 574px,#2d88f6 577px,#2b91ef 580px,#22a1e4 583px,#19addc 585px,#05b6ce 587px,#01b9c7 588px,#11beb9 591px,#13beb8 592px,#0fbeba 593px,#01bac6 595px,#05b6ce 596px,#13b1d7 597px,#1caadf 598px,#2d8df2 601px,#2f81fa 602px,#3975fe 603px,#4269fe 604px,#465efb 605px,#4746ea 608px,#463ee1 610px,#473ee1 612px,#4743e7 614px,#465ffb 620px)"></i>
<i style="left:56px;width:4px;background:linear-gradient(#2f82fa 13px,#3578fd 20px,#4269fe 25px,#475cfa 29px,#4747eb 35px,#4536d4 41px,#422fc2 46px,#422ebe 48px,#422ebe 51px,#4331c8 56px,#463cdf 62px,#4852f4 69px,#4561fc 73px,#406dfe 76px,#317efb 80px,#269ae8 88px,#1caadf 94px,#10b2d5 99px,#08b4d0 102px,#04b6cd 107px,#08b4d1 111px,#12b1d6 114px,#23a0e5 122px,#2c8ff1 128px,#2e83f9 132px,#3876fe 138px,#3c72ff 143px,#3677fe 147px,#2d88f6 152px,#2b91ef 154px,#1ea7e1 159px,#14b0d8 161px,#03b7cb 163px,#02bac4 164px,#0abdbd 165px,#24c1ae 167px,#38c896 170px,#4acb85 172px,#7fcc5a 177px,#91ca4d 179px,#9dc943 181px,#b6c532 187px,#c7c12a 192px,#d4bf28 197px,#debd2a 203px,#e1bc2b 208px,#dfbc2a 212px,#d1bf27 219px,#bec32e 227px,#bac430 232px,#c2c22b 235px,#d3bf27 238px,#e8bb2f 242px,#f8ba3d 245px,#febf3b 247px,#fdce31 253px,#f8d92c 259px,#f5e924 284px,#f6f01f 315px,#f7f31d 388px,#f5ee21 459px,#f5e626 469px,#f5e227 481px,#f9d72c 487px,#fbd32e 492px,#fec636 522px,#fec03b 530px,#fbbc3d 531px,#efba35 532px,#dcbd29 533px,#c2c22c 534px,#a4c83e 535px,#68cd6b 537px,#55cc7b 538px,#4bcb83 539px,#4acb84 540px,#51cc7f 542px,#5ecd74 544px,#9bc944 550px,#abc739 552px,#b5c533 554px,#b5c533 556px,#afc636 557px,#98c947 559px,#72cd64 561px,#47cb87 563px,#37c898 564px,#2cc4a7 565px,#1ac0b4 566px,#04bbc2 567px,#05b6ce 568px,#15afd8 569px,#1da8e0 570px,#2c8ef1 574px,#2e86f7 577px,#2d8df2 580px,#21a3e3 584px,#17aeda 586px,#03b7cc 588px,#01bac6 589px,#0cbdbc 591px,#10beba 592px,#0fbebb 593px,#02bac4 595px,#02b7cb 596px,#1aacdd 598px,#20a4e3 599px,#3479fd 603px,#406dfe 604px,#4561fc 605px,#4847ec 608px,#473ee1 610px,#463de0 612px,#4741e5 614px,#484ef1 617px,#4563fd 621px)"></i>
<i style="left:60px;width:4px;background:linear-gradient(#2f81fa 14px,#327cfc 18px,#3677fe 20px,#416bfe 24px,#465efb 28px,#4849ed 34px,#4537d6 40px,#422fc0 46px,#412ebe 51px,#4331c6 55px,#463de0 62px,#4757f7 70px,#4562fc 73px,#3f6eff 76px,#307ffb 80px,#2798ea 87px,#1ea8e0 93px,#13b0d7 98px,#09b4d1 102px,#06b5ce 106px,#09b4d1 110px,#14b0d8 114px,#1fa6e2 119px,#2c90f0 127px,#2f81fa 132px,#3876fe 137px,#3d71ff 142px,#3975fe 146px,#2f81fa 150px,#2d88f6 152px,#2b91ef 154px,#1ea7e1 159px,#14b0d8 161px,#02b7cb 163px,#02bac4 164px,#0abdbd 165px,#24c1af 167px,#37c897 170px,#49cb85 172px,#7dcc5b 177px,#8ecb4e 179px,#9bc945 181px,#acc739 185px,#c5c22a 192px,#d2bf27 197px,#dcbd29 203px,#dfbc2a 208px,#dcbd29 212px,#d0bf27 218px,#bcc42f 226px,#b6c532 231px,#bcc42f 234px,#d2bf27 238px,#e8bb2f 242px,#f8ba3d 245px,#febf3b 247px,#fdce31 253px,#f8d92b 259px,#f5e924 284px,#f6f01f 315px,#f7f31c 389px,#f5ee21 460px,#f5e626 470px,#f5e228 482px,#f9d62d 488px,#fbd32e 492px,#fec537 524px,#fec13a 530px,#fdbd3d 531px,#f4ba3a 532px,#e4bb2c 533px,#cdc028 534px,#b0c636 535px,#71cd64 537px,#5bcc77 538px,#4ccb83 539px,#48cb86 540px,#4ccb83 542px,#58cc79 544px,#69cd6b 546px,#94ca4a 550px,#a5c83d 552px,#b0c636 554px,#b3c534 556px,#afc637 557px,#a7c73c 558px,#8bcb51 560px,#62cd71 562px,#3bc993 564px,#21c1b1 566px,#09bcbe 567px,#02b7cb 568px,#11b1d6 569px,#1baade 570px,#21a3e4 571px,#2d8af5 575px,#2e84f8 578px,#2d8df2 581px,#20a5e3 585px,#14b0d8 587px,#01b8ca 589px,#02bac4 590px,#0bbdbd 592px,#0dbdbc 593px,#09bdbe 594px,#03bbc2 595px,#01b8c9 596px,#0ab4d1 597px,#17aeda 598px,#1ea7e1 599px,#317dfc 603px,#3d71ff 604px,#4465fd 605px,#475af9 606px,#4849ed 608px,#473fe2 610px,#463ddf 611px,#463ee1 613px,#4743e7 615px,#4757f7 619px,#4367fd 622px)"></i>
<i style="left:64px;width:4px;background:linear-gradient(#3080fb 15px,#337bfc 18px,#3d70ff 22px,#475cfa 28px,#4847ec 34px,#4536d4 40px,#4331c8 43px,#422ebf 46px,#412ebe 51px,#4331c6 55px,#463ee1 62px,#4758f8 70px,#4563fd 73px,#3e6fff 76px,#2f80fa 80px,#2698ea 87px,#1da8e0 93px,#13b0d7 98px,#0ab4d2 102px,#07b5d0 106px,#0ab4d1 109px,#14b0d8 113px,#1ea6e1 118px,#2b91ef 126px,#2f82f9 131px,#3a74fe 137px,#3e70ff 142px,#3974fe 146px,#2f81fa 150px,#2d88f6 152px,#2b91ef 154px,#1ea8e1 159px,#14b0d8 161px,#02b7cb 163px,#02bac4 164px,#0abdbd 165px,#24c1af 167px,#37c897 170px,#48cb86 172px,#7ccc5c 177px,#8ccb50 179px,#98c947 181px,#adc638 186px,#c5c22a 193px,#d2bf27 198px,#dabd28 203px,#dcbd29 208px,#d9be28 212px,#c7c12a 220px,#b8c431 226px,#b2c535 231px,#b9c430 234px,#d1bf27 238px,#e8bb2e 242px,#f9ba3d 245px,#febf3b 247px,#fccf31 253px,#f8d92b 259px,#f5e924 284px,#f6f01f 315px,#f7f41c 389px,#f5ee21 461px,#f5e526 471px,#f5e227 482px,#f9d72d 488px,#fbd22f 493px,#fec537 524px,#febf3c 531px,#f9ba3d 532px,#eaba31 533px,#d6be28 534px,#bac430 535px,#7ccc5c 537px,#61cd71 538px,#4fcc80 539px,#46cb88 540px,#46cb88 541px,#4ccb83 543px,#59cc78 545px,#96ca48 551px,#a6c83d 553px,#afc637 555px,#b0c636 556px,#aec637 557px,#a7c73c 558px,#9dc943 559px,#7ccc5c 561px,#52cc7e 563px,#3eca8f 564px,#26c2ad 566px,#0fbeba 567px,#01b9c7 568px,#1aacdd 570px,#20a4e3 571px,#2d8af5 575px,#2f82fa 578px,#2d89f5 581px,#23a0e5 585px,#19acdc 587px,#06b5cf 589px,#01b8c8 590px,#02bbc3 591px,#07bcbf 592px,#09bcbe 594px,#01b9c7 596px,#06b5cf 597px,#14b0d8 598px,#1ca9df 599px,#2d8cf3 602px,#2f81fa 603px,#3975fe 604px,#4368fe 605px,#465dfb 606px,#4745e9 609px,#463ddf 611px,#463de0 613px,#4746ea 616px,#475af9 620px,#416cfe 623px)"></i>
<i style="left:68px;width:4px;background:linear-gradient(#317efb 16px,#3e6fff 22px,#4757f8 29px,#4746ea 34px,#4535d2 40px,#422fc0 45px,#412dbd 50px,#4331c7 55px,#463cde 61px,#4852f4 68px,#4660fc 72px,#406cfe 75px,#2f81fa 80px,#2699e9 87px,#1da8e0 93px,#13b0d8 98px,#0bb3d2 102px,#09b4d1 106px,#0cb3d3 109px,#16afda 113px,#20a5e3 118px,#2b92ef 125px,#2f80fa 131px,#3b72fe 137px,#3f6fff 142px,#3a74fe 146px,#2f81fa 150px,#2d89f6 152px,#2b91ef 154px,#1da8e0 159px,#13b0d7 161px,#02b7cb 163px,#02bac4 164px,#0abdbd 165px,#24c1af 167px,#37c898 170px,#48cb87 172px,#70cd65 176px,#83cc57 178px,#96ca48 181px,#abc739 186px,#c3c22b 193px,#d0c028 198px,#d7be28 203px,#d9bd28 208px,#d6be28 212px,#c5c22a 219px,#b3c534 226px,#aec637 231px,#b7c532 234px,#d0c028 238px,#dcbd29 240px,#e7bb2e 242px,#f9ba3d 245px,#fec03b 247px,#fccf30 253px,#f8d92b 259px,#f5e924 284px,#f6f01f 315px,#f7f41c 390px,#f5ee21 462px,#f5e526 472px,#f5e228 483px,#fad62d 489px,#fbd22f 494px,#fec537 524px,#fec03b 531px,#fbbc3d 532px,#f0ba36 533px,#ddbd29 534px,#c4c22b 535px,#a6c83d 536px,#68cd6b 538px,#53cc7d 539px,#46cb88 540px,#43ca8b 541px,#47cb87 543px,#53cc7d 545px,#64cd6f 547px,#8fcb4e 551px,#a0c841 553px,#abc739 555px,#acc738 557px,#a7c73c 558px,#90ca4d 560px,#6bcd69 562px,#43ca8b 564px,#29c3a9 566px,#02bac4 568px,#08b4d0 569px,#18aedb 570px,#249ee6 572px,#2b90f0 574px,#2e85f8 576px,#3080fb 579px,#2d8af5 582px,#22a2e4 586px,#17aeda 588px,#04b6cd 590px,#01b9c7 591px,#07bcc0 593px,#08bcbf 594px,#01b9c6 596px,#04b6cd 597px,#1aabdd 599px,#21a3e3 600px,#2e85f8 603px,#3578fd 604px,#416cfe 605px,#4660fc 606px,#4746ea 609px,#463de0 611px,#463cdf 613px,#4744e8 616px,#465ffb 621px,#3d70ff 624px)"></i>
<i style="left:72px;width:4px;background:linear-gradient(#327bfc 17px,#3f6efe 22px,#475af9 28px,#4848ec 33px,#4536d5 39px,#422ebf 45px,#412dbd 50px,#4330c5 54px,#463cdf 61px,#4853f5 68px,#4561fc 72px,#3f6dfe 75px,#317efb 79px,#2797eb 86px,#1fa6e2 92px,#16afd9 97px,#0cb3d3 102px,#0ab4d2 105px,#0db3d3 108px,#16afda 112px,#1fa5e2 117px,#2c8ff0 125px,#2f81fa 130px,#3d71ff 137px,#3f6efe 142px,#3a74fe 146px,#2f81fa 150px,#2d89f5 152px,#2b92ef 154px,#1da8e0 159px,#13b0d7 161px,#02b7cb 163px,#02bac4 164px,#0bbdbd 165px,#24c1ae 167px,#37c898 170px,#47cb87 172px,#6fcd66 176px,#81cc59 178px,#8fcb4e 180px,#a8c73b 186px,#bbc430 191px,#c6c12a 195px,#d4bf28 202px,#d7be28 207px,#d4bf28 211px,#c7c12a 217px,#b1c635 225px,#aac73a 230px,#b0c636 233px,#c8c129 237px,#d5be28 239px,#e7bb2e 242px,#f9bb3d 245px,#fec03b 247px,#fccf30 253px,#f8d92b 259px,#f5e924 284px,#f6f020 315px,#f7f41c 389px,#f5ee21 462px,#f5e526 473px,#f5e128 484px,#fad52d 490px,#fcd12f 495px,#fec03a 531px,#fdbd3d 532px,#f4ba39 533px,#e3bb2c 534px,#ccc028 535px,#b0c636 536px,#70cd65 538px,#58cc79 539px,#48cb86 540px,#40ca8d 541px,#43ca8b 543px,#4dcb82 545px,#66cd6d 548px,#9ac946 553px,#a6c83d 555px,#a9c73a 557px,#a6c83d 558px,#9ec942 559px,#92ca4c 560px,#6fcd66 562px,#47cb87 564px,#37c897 565px,#2cc4a6 566px,#1bc0b4 567px,#05bbc1 568px,#05b6ce 569px,#15afd9 570px,#1da8e0 571px,#2b91ef 574px,#2e85f8 576px,#317dfc 579px,#2f81fa 581px,#2b91ef 584px,#1baade 588px,#02b7cb 591px,#03bbc2 593px,#04bbc2 595px,#03b7cb 597px,#18addb 599px,#259de7 601px,#327cfc 604px,#3e6fff 605px,#4563fd 606px,#4759f8 607px,#4848ec 609px,#463de0 611px,#463bdd 612px,#463de0 614px,#4747eb 617px,#4563fd 622px,#3974fe 625px)"></i>
<i style="left:76px;width:4px;background:linear-gradient(#3578fd 18px,#4269fe 23px,#4758f8 28px,#4747eb 33px,#4538d7 38px,#422fc0 44px,#412dbc 47px,#412dbd 50px,#4331c6 54px,#463de0 61px,#4757f7 69px,#4562fc 72px,#3f6eff 75px,#307ffb 79px,#2797eb 86px,#1fa6e1 92px,#16afda 97px,#0db3d4 102px,#0cb3d3 105px,#18addb 112px,#21a3e3 117px,#2b90f0 124px,#2f82fa 129px,#3d70ff 136px,#406cfe 141px,#3a73fe 146px,#2e85f8 151px,#2b92ee 154px,#20a4e3 158px,#19addc 160px,#01b8ca 163px,#02bac3 164px,#24c1ae 167px,#3eca8f 171px,#6ecd67 176px,#7fcc5a 178px,#8ccb50 180px,#a6c83c 186px,#b9c431 191px,#c7c12a 196px,#d1bf27 202px,#d4bf28 207px,#d1bf27 211px,#c6c22a 216px,#acc738 225px,#a6c83c 230px,#adc638 233px,#c6c22a 237px,#d4bf28 239px,#e7bb2d 242px,#f9bb3d 245px,#fec03b 247px,#fccf30 253px,#f8da2b 259px,#f5e924 284px,#f6f020 315px,#f7f41c 389px,#f5ee21 464px,#f5e626 473px,#f5e228 484px,#fad52d 490px,#fcd130 495px,#fec437 525px,#febe3c 532px,#f7ba3c 533px,#e9bb2f 534px,#d3bf27 535px,#b8c431 536px,#78cc5f 538px,#5dcc74 539px,#4acb84 540px,#3fca8e 541px,#3fca8e 543px,#47cb87 545px,#5fcd73 548px,#8acb52 552px,#9bc945 554px,#a4c83e 556px,#a4c83e 558px,#9dc943 559px,#84cc56 561px,#4acb84 564px,#3ac994 565px,#2fc5a3 566px,#20c1b1 567px,#08bcbf 568px,#02b7cb 569px,#12b1d7 570px,#22a1e4 572px,#2b92ee 574px,#2e85f8 576px,#327bfc 579px,#2f82fa 582px,#2d8cf3 584px,#23a0e5 587px,#19addc 589px,#07b5cf 591px,#01b8c9 592px,#03bbc3 594px,#03bbc2 595px,#01b7ca 597px,#16afd9 599px,#249fe5 601px,#307ffb 604px,#3b73fe 605px,#4366fd 606px,#475cfa 607px,#484aed 609px,#463ee1 611px,#463bdd 612px,#463cde 614px,#4741e5 616px,#475cfa 621px,#4368fe 623px,#3578fd 626px)"></i>
<i style="left:80px;width:4px;background:linear-gradient(#3975fe 19px,#4368fe 23px,#4757f7 28px,#4745e9 33px,#4537d5 38px,#422ebf 44px,#412dbb 47px,#412dbd 50px,#4331c7 54px,#463bde 60px,#4755f6 68px,#416cfe 74px,#2f80fa 79px,#2995ec 85px,#20a4e3 91px,#18addb 96px,#0eb2d4 104px,#18addb 111px,#249fe5 118px,#307ffb 129px,#3f6fff 136px,#416bfe 141px,#3d70ff 145px,#2e85f8 151px,#2a92ee 154px,#1da9e0 159px,#12b1d6 161px,#01b8ca 163px,#02bbc3 164px,#25c2ae 167px,#37c897 170px,#47cb87 172px,#6dcd68 176px,#8acb51 180px,#a8c73b 187px,#b9c430 192px,#c7c12a 197px,#cfc028 202px,#d1bf27 207px,#cdc028 211px,#c4c22a 215px,#a8c73b 225px,#a2c83f 230px,#aac739 233px,#c5c22a 237px,#d3bf27 239px,#e6bb2d 242px,#f9bb3d 245px,#fec03b 247px,#fccf30 253px,#f8da2b 259px,#f5e825 283px,#f6f020 315px,#f7f41c 388px,#f5ee21 464px,#f5e626 474px,#f5e228 485px,#fad42e 491px,#fcd030 496px,#fec437 525px,#febf3c 532px,#f9bb3d 533px,#edba33 534px,#d9bd28 535px,#bfc32d 536px,#a0c840 537px,#62cd70 539px,#4dcc82 540px,#3fca8e 541px,#3bc992 542px,#42ca8c 545px,#58cc79 548px,#94ca4a 554px,#a0c941 556px,#a1c840 558px,#9cc944 559px,#85cb55 561px,#74cc62 562px,#3cc992 565px,#24c1af 567px,#0cbdbc 568px,#01b8c9 569px,#1babde 571px,#21a3e4 572px,#2d8cf3 575px,#3080fa 577px,#3579fd 580px,#2f82f9 583px,#2c8ff1 585px,#259ce7 587px,#1ca9e0 589px,#0db3d3 591px,#04b6cd 592px,#02bac5 594px,#01bac5 596px,#01b8ca 597px,#07b5d0 598px,#14b0d8 599px,#22a1e4 601px,#2f82f9 604px,#3876fe 605px,#4269fe 606px,#465efb 607px,#4744e8 610px,#463bdd 612px,#463bdd 614px,#4740e4 616px,#4660fc 622px,#3b72fe 625px,#327cfc 627px)"></i>
<i style="left:84px;width:4px;background:linear-gradient(#3d71ff 20px,#4563fd 24px,#4852f4 29px,#4744e8 33px,#4538d8 37px,#422fc0 43px,#412dbb 46px,#412dbc 49px,#4330c5 53px,#463cdf 60px,#4852f4 67px,#4369fe 73px,#317dfc 78px,#2895ec 85px,#20a5e2 91px,#18addb 96px,#10b2d5 104px,#1aacdd 111px,#259de7 118px,#317dfc 129px,#3f6fff 135px,#426afe 140px,#3d70ff 145px,#2e85f8 151px,#2a93ee 154px,#1ca9df 159px,#18aedb 160px,#01b8c9 163px,#03bbc2 164px,#25c2ad 167px,#3eca8f 171px,#63cd70 175px,#7ccc5c 178px,#88cb53 180px,#9ec942 185px,#bac430 193px,#cbc029 201px,#cec028 208px,#c3c22b 214px,#a3c83e 225px,#9ec942 230px,#a8c73b 233px,#c4c22b 237px,#d2bf27 239px,#e6bb2d 242px,#f9bb3d 245px,#fec03b 247px,#fccf30 253px,#f8da2b 259px,#f5e825 283px,#f6f020 315px,#f7f41c 388px,#f5ee21 465px,#f5e526 475px,#f5e128 486px,#fad42e 491px,#fccf30 496px,#febf3b 532px,#fbbc3d 533px,#f0ba36 534px,#debd29 535px,#c5c22a 536px,#a7c73c 537px,#67cd6c 539px,#50cc80 540px,#40ca8d 541px,#3ac994 542px,#3ac993 544px,#42ca8b 546px,#5bcc77 549px,#8ecb4f 554px,#9ac945 556px,#9ec942 558px,#9ac945 559px,#92ca4c 560px,#86cb55 561px,#75cc61 562px,#3eca8f 565px,#26c2ad 567px,#10beba 568px,#01b9c7 569px,#1aacdd 571px,#20a4e3 572px,#2d8cf3 575px,#3080fb 577px,#3776fe 580px,#317efb 583px,#2b91ef 586px,#249fe5 588px,#1aabdd 590px,#09b4d1 592px,#03b7cc 593px,#01b9c6 595px,#01b8c9 597px,#06b5cf 598px,#1babde 600px,#269ae8 602px,#2e85f8 604px,#3579fd 605px,#406cfe 606px,#4756f7 608px,#4745e9 610px,#463bde 612px,#463adb 613px,#463cdf 615px,#4743e7 617px,#465ffb 622px,#3c71ff 625px,#307ffb 628px)"></i>
<i style="left:88px;width:4px;background:linear-gradient(#406cfe 21px,#465ffb 25px,#4851f3 29px,#4743e7 33px,#4537d6 37px,#422ebf 43px,#412dbb 46px,#412dbd 49px,#4331c5 53px,#463de0 60px,#4853f5 67px,#426afe 73px,#307efb 78px,#2896eb 85px,#20a5e2 91px,#18addb 96px,#11b1d6 103px,#1babde 111px,#259be8 118px,#2e87f7 125px,#337bfc 129px,#3f6eff 134px,#4269fe 140px,#3e70ff 145px,#317efb 149px,#2e86f8 151px,#2c8ff1 153px,#1caadf 159px,#17aeda 160px,#06b5cf 162px,#01b8c8 163px,#04bbc2 164px,#26c2ad 167px,#3eca8f 171px,#63cd70 175px,#7bcc5d 178px,#86cb54 180px,#a0c841 186px,#b8c431 193px,#c9c129 201px,#cbc129 208px,#bfc32d 214px,#9fc942 225px,#9ac945 230px,#a5c83d 233px,#c2c22c 237px,#d1bf27 239px,#e5bb2d 242px,#f9bb3d 245px,#fec03b 247px,#fccf30 253px,#f8da2b 259px,#f5e825 283px,#f6f020 315px,#f7f41c 389px,#f5ee21 466px,#f5e526 476px,#f5e228 486px,#fbd32f 492px,#fccf30 496px,#febf3b 532px,#fbbc3d 533px,#f2ba38 534px,#e1bc2b 535px,#cac129 536px,#adc638 537px,#6ccd69 539px,#52cc7e 540px,#40ca8d 541px,#38c896 542px,#37c897 544px,#43ca8b 547px,#53cc7d 549px,#7dcc5b 553px,#8fcb4e 555px,#98c946 557px,#9ac945 558px,#97ca47 559px,#90ca4d 560px,#85cb55 561px,#64cd6f 563px,#3fca8e 565px,#28c2ab 567px,#01bac5 569px,#0ab4d2 570px,#19addc 571px,#20a5e2 572px,#2d8df2 575px,#2e86f8 576px,#347afd 578px,#3a74fe 580px,#3776fe 582px,#2e86f7 585px,#22a2e4 589px,#18aedb 591px,#0fb2d5 592px,#06b5cf 593px,#02b7cb 594px,#01b9c7 596px,#01b8ca 597px,#06b5cf 598px,#19acdc 600px,#259ce7 602px,#327cfc 605px,#3f6fff 606px,#4563fc 607px,#4758f8 608px,#4747eb 610px,#463cde 612px,#463adb 613px,#463bdd 615px,#4741e6 617px,#4757f7 621px,#4564fd 623px,#3d70ff 625px,#337bfc 627px,#2f81fa 629px)"></i>
<i style="left:92px;width:4px;background:linear-gradient(#4368fd 22px,#484ff2 29px,#4742e6 33px,#4537d5 37px,#422ebe 43px,#412dbb 46px,#412dbd 49px,#4331c7 53px,#463bde 59px,#4755f6 67px,#416bfe 73px,#3080fb 78px,#2797eb 85px,#1fa5e2 91px,#19addb 96px,#12b1d7 103px,#1babde 110px,#259ce7 117px,#327cfc 128px,#3f6eff 133px,#4368fd 140px,#3e6fff 145px,#317efb 149px,#2e86f7 151px,#2c8ff1 153px,#1baade 159px,#17aeda 160px,#06b6ce 162px,#01b9c8 163px,#05bbc1 164px,#26c2ac 167px,#3eca8f 171px,#62cd70 175px,#79cc5e 178px,#85cb56 180px,#9ec942 186px,#b9c431 194px,#c6c22a 201px,#c7c129 208px,#b8c431 215px,#9dc943 224px,#97ca48 227px,#96ca49 230px,#a2c83f 233px,#c1c32c 237px,#d0bf27 239px,#e5bb2d 242px,#f9bb3d 245px,#fec03b 247px,#fccf30 253px,#f8d92c 258px,#f5e825 283px,#f6ef20 315px,#f7f41c 389px,#f5ee21 467px,#f5e526 477px,#f5e128 487px,#fbd32e 492px,#fccf30 495px,#febf3c 532px,#fcbc3d 533px,#f3ba39 534px,#e4bb2c 535px,#cdc028 536px,#b1c636 537px,#6fcd66 539px,#54cc7c 540px,#40ca8d 541px,#37c897 542px,#34c79b 543px,#36c899 545px,#3dc990 547px,#4ccb83 549px,#88cb53 555px,#93ca4b 557px,#95ca49 558px,#94ca4a 559px,#8ecb4f 560px,#83cc57 561px,#64cd6e 563px,#40ca8d 565px,#29c3aa 567px,#02bac4 569px,#08b4d0 570px,#18addb 571px,#1fa5e2 572px,#2d8df2 575px,#2e86f8 576px,#3975fe 579px,#3c71ff 581px,#3776fe 583px,#2f82fa 585px,#2c90f0 587px,#20a5e3 590px,#14b0d8 592px,#05b6ce 594px,#01b7ca 595px,#01b7ca 597px,#06b5ce 598px,#19addc 600px,#249ee6 602px,#317efb 605px,#3c71ff 606px,#4465fd 607px,#475af9 608px,#4848ec 610px,#463cde 612px,#463ada 613px,#463adc 615px,#4740e4 617px,#4756f7 621px,#4563fc 623px,#3e6fff 625px,#337afd 627px,#2f82f9 630px)"></i>
<i style="left:96px;width:4px;background:linear-gradient(#4563fd 23px,#484aee 30px,#4536d3 37px,#4331c6 40px,#412ebe 43px,#412dbb 46px,#412ebe 49px,#4331c8 53px,#463cdf 59px,#4852f4 66px,#4368fe 72px,#3975fe 75px,#2f81fa 78px,#2995ec 84px,#21a4e3 90px,#1aacdd 95px,#13b0d7 102px,#1caadf 110px,#269ae9 117px,#2e85f8 124px,#3479fd 128px,#406dfe 133px,#4466fd 139px,#406cfe 144px,#3876fe 147px,#2f82f9 150px,#2c8ff0 153px,#1fa6e1 158px,#16afd9 160px,#05b6cd 162px,#01b9c7 163px,#06bcc0 164px,#27c2ab 167px,#3fca8e 171px,#62cd71 175px,#78cc5f 178px,#9fc941 187px,#b6c532 194px,#c4c22b 201px,#c5c22a 207px,#bac430 213px,#98c947 224px,#92ca4b 227px,#92ca4c 230px,#9fc941 233px,#bfc32d 237px,#cfc028 239px,#e4bb2c 242px,#f9ba3d 245px,#fec03b 247px,#fccf30 253px,#f8d92c 258px,#f5e825 282px,#f6ef20 315px,#f7f51b 390px,#f5ee21 468px,#f6e128 488px,#fcd130 493px,#fdce31 495px,#febe3c 532px,#fcbc3d 533px,#f4ba39 534px,#e5bb2d 535px,#cfc028 536px,#b3c534 537px,#71cd64 539px,#55cc7c 540px,#40ca8d 541px,#36c899 542px,#32c69e 543px,#33c69d 545px,#3eca8f 548px,#4ecc81 550px,#81cc59 555px,#8dcb4f 557px,#8fca4d 559px,#8acb51 560px,#81cc58 561px,#74cd62 562px,#41ca8c 565px,#2ac3a9 567px,#02bac3 569px,#07b5d0 570px,#17aeda 571px,#1fa6e2 572px,#2d8df2 575px,#317efb 577px,#3d70ff 580px,#3e70ff 582px,#3678fe 584px,#2e85f8 586px,#2a93ed 588px,#19addc 592px,#09b4d1 594px,#04b6cd 595px,#03b7cc 597px,#06b5cf 598px,#18aedb 600px,#249fe5 602px,#3080fa 605px,#3a73fe 606px,#4367fd 607px,#475cfa 608px,#4849ed 610px,#463cdf 612px,#4539d9 614px,#463cde 616px,#4743e8 618px,#4561fc 623px,#3f6eff 625px,#317efb 628px,#2f82f9 631px)"></i>
<i style="left:100px;width:4px;background:linear-gradient(#465efb 24px,#484df0 29px,#463cdf 34px,#4332c9 39px,#422ebf 42px,#412dbb 46px,#4230c3 51px,#4538d8 57px,#484df0 64px,#465efb 69px,#3f6efe 73px,#2f82fa 78px,#23a0e5 88px,#1babde 94px,#14b0d8 101px,#18aedb 106px,#20a4e3 112px,#2c8ff0 120px,#3080fa 125px,#3777fe 128px,#4269fe 134px,#4466fd 140px,#3e6fff 145px,#317efb 149px,#2e87f7 151px,#2c90f0 153px,#1ea7e1 158px,#15afd9 160px,#04b6cd 162px,#01b9c6 163px,#07bcbf 164px,#28c3ab 167px,#3fca8e 171px,#70cd65 177px,#7ccc5c 179px,#92ca4c 184px,#b1c635 193px,#c0c32d 200px,#c2c22c 207px,#b8c431 212px,#93ca4b 224px,#8ecb4f 227px,#8ecb4f 230px,#9cc943 233px,#bec32e 237px,#cec028 239px,#e4bb2c 242px,#f9ba3d 245px,#fec03b 247px,#fccf30 253px,#f8d92c 258px,#f5e825 282px,#f6ef20 315px,#f7f51b 392px,#f5ee21 469px,#f5e626 478px,#f5e128 488px,#fcd12f 493px,#fdcd31 495px,#febe3c 532px,#fbbc3d 533px,#f4ba3a 534px,#e6bb2d 535px,#d0bf27 536px,#b5c533 537px,#72cd64 539px,#55cc7c 540px,#3fca8e 541px,#35c79b 542px,#30c5a1 543px,#2fc5a2 544px,#32c69e 546px,#3fca8e 549px,#70cd65 554px,#81cc58 556px,#8acb51 558px,#8bcb51 559px,#87cb54 560px,#7ecc5b 561px,#71cd64 562px,#41ca8d 565px,#2ac3a9 567px,#02bbc3 569px,#07b5cf 570px,#17aeda 571px,#1fa6e2 572px,#2d8df2 575px,#2e85f8 576px,#3777fe 578px,#406dfe 581px,#3e6fff 583px,#2f81fa 586px,#2c8ff0 588px,#20a5e3 591px,#15afd9 593px,#07b5d0 595px,#04b6cd 597px,#07b5cf 598px,#17aedb 600px,#23a0e5 602px,#2f82fa 605px,#3975fe 606px,#4368fe 607px,#465dfa 608px,#4742e6 611px,#4639da 613px,#4538d8 614px,#463bdd 616px,#4742e6 618px,#4660fc 623px,#3a73fe 626px,#317dfc 628px,#2f82fa 630px,#2f81fa 632px)"></i>
<i style="left:104px;width:4px;background:linear-gradient(#4759f9 25px,#4848ec 30px,#463bdd 34px,#4331c7 39px,#412ebe 42px,#412dbc 47px,#4331c7 52px,#463cde 58px,#484ef1 64px,#4563fd 70px,#3e6fff 73px,#307ffb 77px,#2a93ed 83px,#23a0e5 88px,#1babde 94px,#15afd9 101px,#19acdc 106px,#20a5e3 111px,#2c90f0 119px,#2f81fa 124px,#3677fe 127px,#3e6fff 130px,#4367fd 134px,#4465fd 140px,#3f6fff 145px,#2e83f9 150px,#2b90f0 153px,#1ea7e1 158px,#14b0d8 160px,#03b7cc 162px,#01bac5 163px,#08bcbe 164px,#20c1b1 166px,#29c3aa 167px,#40ca8d 171px,#5acc78 174px,#70cd65 177px,#94ca4a 185px,#afc637 193px,#bdc32e 200px,#c0c32d 204px,#bec32e 207px,#aec637 214px,#91ca4c 223px,#8bcb51 226px,#88cb53 229px,#8dcb4f 231px,#9ac946 233px,#bcc42f 237px,#cdc028 239px,#dbbd29 241px,#e3bc2c 242px,#f8ba3d 245px,#fec03b 247px,#fccf30 253px,#f8d82c 258px,#f5e725 282px,#f6ef20 316px,#f7f51b 394px,#f5ee21 470px,#f6e128 489px,#fdcc32 495px,#febe3c 531px,#fbbc3d 533px,#f4ba39 534px,#e5bb2d 535px,#d0bf27 536px,#b5c533 537px,#71cd64 539px,#53cc7d 540px,#3dca90 541px,#33c69d 542px,#2ec4a4 543px,#2dc4a5 545px,#32c69f 547px,#3ac994 549px,#49cb85 551px,#7acc5e 556px,#84cc56 558px,#85cb55 559px,#82cc58 560px,#6fcd66 562px,#40ca8d 565px,#2ac3a9 567px,#02bbc3 569px,#07b5cf 570px,#17aeda 571px,#1fa6e2 572px,#2d8df3 575px,#2e84f8 576px,#3d70ff 579px,#426afe 581px,#406cfe 583px,#3d70ff 584px,#317dfc 586px,#2a93ed 589px,#19addc 593px,#07b5cf 596px,#08b4d0 598px,#0fb2d5 599px,#23a1e5 602px,#2e83f9 605px,#3776fe 606px,#426afe 607px,#465efb 608px,#4743e7 611px,#4639da 613px,#4538d7 614px,#463adb 616px,#4741e5 618px,#465ffb 623px,#3b73fe 626px,#3080fb 629px,#2f82fa 631px,#317efb 633px)"></i>
<i style="left:108px;width:4px;background:linear-gradient(#4755f6 26px,#4747eb 30px,#4538d7 35px,#4331c6 39px,#412ebd 42px,#412dbc 47px,#4331c8 52px,#463adb 57px,#484cef 63px,#465dfa 68px,#406cfe 72px,#2f80fa 77px,#259ce7 86px,#1ca9df 93px,#16aeda 100px,#19acdc 105px,#21a3e3 111px,#2b91ef 118px,#2f82fa 123px,#3975fe 127px,#406dfe 130px,#4466fd 134px,#4564fd 140px,#3f6eff 145px,#2e83f9 150px,#2b91ef 153px,#21a4e3 157px,#19acdc 159px,#02b7cb 162px,#02bac4 163px,#0abdbd 164px,#22c1b0 166px,#2ac3a9 167px,#41ca8c 171px,#5acc77 174px,#6fcd66 177px,#92ca4c 185px,#adc638 193px,#bac430 200px,#bdc42f 204px,#bbc430 207px,#adc738 213px,#8ccb50 223px,#86cb55 226px,#84cc56 229px,#8acb52 231px,#97ca48 233px,#bbc430 237px,#ccc028 239px,#d3bf27 240px,#e3bc2c 242px,#f8ba3d 245px,#fec03b 247px,#fccf30 253px,#f8da2b 259px,#f5e825 283px,#f6ef20 316px,#f7f51b 397px,#f5ed21 471px,#f5e128 489px,#f7dc2a 491px,#fdce31 494px,#feca33 496px,#fec437 519px,#febe3c 530px,#fabb3d 533px,#f3ba38 534px,#e5bb2c 535px,#cfc028 536px,#b3c534 537px,#6fcd66 539px,#51cc7f 540px,#3bc992 541px,#31c6a0 542px,#2bc3a8 543px,#28c3aa 544px,#2ec5a4 547px,#3bc992 550px,#72cd63 556px,#7ecc5b 558px,#7fcc5a 559px,#7dcc5b 560px,#6bcd69 562px,#3eca8f 565px,#29c3aa 567px,#02bac3 569px,#07b5d0 570px,#17aeda 571px,#1fa6e2 572px,#2d8cf3 575px,#2e84f9 576px,#3975fe 578px,#3f6fff 579px,#4368fe 581px,#4269fe 583px,#3b72ff 585px,#2f80fa 587px,#2c90f0 589px,#1baade 593px,#0ab4d2 596px,#08b4d1 597px,#0ab4d2 598px,#18aedb 600px,#23a1e4 602px,#2e84f9 605px,#3678fe 606px,#416bfe 607px,#4755f6 609px,#4743e7 611px,#4639da 613px,#4537d6 614px,#4639da 616px,#4740e4 618px,#465efb 623px,#3c72ff 626px,#327cfc 628px,#2f82fa 631px,#3479fd 634px)"></i>
<i style="left:112px;width:4px;background:linear-gradient(#4850f2 27px,#4742e6 31px,#4537d5 35px,#4230c4 39px,#412dbd 42px,#412dbd 47px,#4332c9 52px,#463bdd 57px,#484df0 63px,#465efb 68px,#3f6efe 72px,#2f82fa 77px,#259de7 86px,#1ca9df 93px,#17aedb 99px,#19acdc 104px,#21a3e3 110px,#2c8ff1 118px,#2f82f9 122px,#3876fe 126px,#406dfe 129px,#4465fd 133px,#4562fc 139px,#416bfe 144px,#3876fe 147px,#2e83f9 150px,#2b91ef 153px,#1da9e0 158px,#12b1d6 160px,#01b8ca 162px,#02bbc3 163px,#23c1af 166px,#42ca8c 171px,#5acc77 174px,#6ecd67 177px,#90ca4d 185px,#abc739 193px,#b7c531 200px,#b8c431 206px,#abc739 212px,#87cb54 223px,#81cc59 226px,#7fcc5a 229px,#8ccb50 232px,#b9c431 237px,#cac129 239px,#d2bf27 240px,#e2bc2b 242px,#f8ba3d 245px,#fec03b 247px,#fccf30 253px,#f8d82c 258px,#f5e725 282px,#f6ef20 316px,#f7f51b 398px,#f5ed21 472px,#f6e128 490px,#fec934 496px,#fec537 517px,#febe3c 529px,#f9bb3d 533px,#f1ba37 534px,#e3bc2c 535px,#cdc028 536px,#b1c635 537px,#6ccd68 539px,#4ecc81 540px,#39c895 541px,#2fc5a3 542px,#27c2ab 543px,#24c1af 544px,#2ac3a9 547px,#36c898 550px,#45cb89 552px,#6bcd69 556px,#77cc60 558px,#79cc5e 559px,#77cc60 560px,#67cd6c 562px,#3dc991 565px,#28c2ab 567px,#02bac4 569px,#08b4d0 570px,#18aedb 571px,#1fa5e2 572px,#337bfd 577px,#406dfe 579px,#4369fe 580px,#4466fd 583px,#3f6eff 585px,#317dfc 587px,#2d8cf3 589px,#259be8 591px,#1da8e0 593px,#0eb2d4 596px,#0db3d3 598px,#18addb 600px,#22a1e4 602px,#2e84f8 605px,#3578fd 606px,#416cfe 607px,#4756f6 609px,#4744e8 611px,#4639d9 613px,#4537d6 614px,#4538d8 616px,#473fe2 618px,#465dfa 623px,#3d71ff 626px,#327bfc 628px,#307ffb 629px,#3080fa 632px,#317dfc 633px,#3a73fe 635px)"></i>
<i style="left:116px;width:4px;background:linear-gradient(#484bef 28px,#4536d4 35px,#4230c3 39px,#412dbc 42px,#412dbd 47px,#4332cb 52px,#463cde 57px,#484ef1 63px,#4563fd 69px,#3e6fff 72px,#307ffb 76px,#249de7 86px,#1caadf 93px,#18addb 99px,#1aabdd 104px,#22a2e4 110px,#3080fa 122px,#3776fe 125px,#416bfe 129px,#4563fd 133px,#4661fc 139px,#416bfe 144px,#3876fe 147px,#2e84f9 150px,#2b92ee 153px,#1caadf 158px,#18aedb 159px,#06b5cf 161px,#01b8c9 162px,#03bbc2 163px,#25c2ae 166px,#3bc992 170px,#67cd6c 176px,#92ca4b 186px,#abc739 194px,#b5c533 200px,#b4c533 206px,#a9c73a 211px,#81cc58 223px,#7ccc5c 226px,#7acc5d 229px,#89cb53 232px,#b7c532 237px,#c9c129 239px,#d1bf27 240px,#e2bc2b 242px,#f8ba3d 245px,#fec03b 247px,#fccf30 253px,#f8d82c 258px,#f5e725 282px,#f6ef20 316px,#f7f51b 400px,#f5ed21 473px,#f6e028 491px,#fdcc32 495px,#fec636 497px,#fec537 516px,#febe3c 528px,#f8ba3d 533px,#efba36 534px,#e1bc2b 535px,#cbc129 536px,#aec637 537px,#68cd6c 539px,#49cb85 540px,#36c898 541px,#2dc4a6 542px,#23c1af 543px,#1dc0b3 544px,#1ec0b2 545px,#25c2ad 547px,#38c896 551px,#3eca8f 552px,#64cd6f 556px,#70cd65 558px,#72cd63 559px,#71cd64 560px,#63cd70 562px,#3bc993 565px,#26c2ac 567px,#01bac5 569px,#0ab4d1 570px,#19addc 571px,#20a5e3 572px,#2a93ee 574px,#2f82fa 576px,#3479fd 577px,#3c71ff 578px,#4367fd 580px,#4563fd 583px,#416bfe 585px,#3579fd 587px,#2f81fa 588px,#2b91ef 590px,#1fa5e2 593px,#12b1d7 596px,#0fb2d5 598px,#19addc 600px,#22a1e4 602px,#2e85f8 605px,#3579fd 606px,#406cfe 607px,#4756f7 609px,#4744e8 611px,#4639d9 613px,#4537d5 614px,#4538d7 616px,#463ee1 618px,#475cfa 623px,#3d70ff 626px,#317efb 629px,#307ffb 632px,#3578fd 634px,#406cfe 636px)"></i>
<i style="left:120px;width:4px;background:linear-gradient(#4746ea 29px,#4435d2 35px,#422fc2 39px,#412dbc 42px,#412ebe 47px,#4433cc 52px,#463ddf 57px,#484ff2 63px,#4561fc 68px,#3d70ff 72px,#2f80fa 76px,#259be8 85px,#1da8e0 92px,#19addc 98px,#1babde 103px,#22a2e4 109px,#2f81fa 121px,#3777fe 124px,#416bfe 128px,#4563fd 132px,#465ffb 136px,#4660fb 139px,#416afe 144px,#3776fe 147px,#3080fb 149px,#2c8ef2 152px,#1fa6e2 157px,#16aeda 159px,#05b6ce 161px,#01b9c8 162px,#05bbc1 163px,#26c2ad 166px,#3cc991 170px,#66cd6d 176px,#90ca4d 186px,#a9c73b 194px,#b2c535 201px,#b0c636 206px,#a4c83e 211px,#7ccc5c 223px,#76cc60 226px,#76cc61 229px,#79cc5e 230px,#85cb55 232px,#acc739 236px,#c8c129 239px,#d0bf27 240px,#e1bc2b 242px,#f8ba3d 245px,#fec03b 247px,#fccf30 253px,#f8d82c 258px,#f5e725 282px,#f6ef20 316px,#f7f51b 401px,#f5ed22 474px,#f6e028 491px,#f8da2b 493px,#fec537 497px,#fec537 516px,#febe3c 527px,#f9bb3d 532px,#f6ba3b 533px,#edba33 534px,#debd29 535px,#c7c12a 536px,#a9c73a 537px,#63cd70 539px,#45cb89 540px,#34c79c 541px,#29c3aa 542px,#1dc0b3 543px,#16bfb7 544px,#19bfb5 546px,#25c2ae 548px,#39c994 552px,#64cd6f 557px,#6ccd68 559px,#6bcd69 560px,#66cd6d 561px,#53cc7e 563px,#39c895 565px,#24c2ae 567px,#0fbeba 568px,#01b9c7 569px,#1aacdd 571px,#21a4e3 572px,#2b92ee 574px,#2f80fa 576px,#3678fe 577px,#4269fe 579px,#4660fc 582px,#4368fe 585px,#3875fe 587px,#317efb 588px,#2896ec 591px,#1da8e0 594px,#12b1d7 597px,#15afd9 599px,#1ea7e1 601px,#2699e9 603px,#3479fd 606px,#406dfe 607px,#4756f7 609px,#4744e8 611px,#463de0 612px,#4536d4 614px,#4537d6 616px,#463de0 618px,#484ef1 621px,#4562fc 624px,#3875fe 627px,#307ffb 630px,#327cfc 633px,#3c72ff 635px,#4464fd 637px)"></i>
<i style="left:124px;width:4px;background:linear-gradient(#4742e6 30px,#4537d5 34px,#4230c4 38px,#412dbb 42px,#422ebf 47px,#4435d1 53px,#463ee1 57px,#484df0 62px,#465efb 67px,#3f6efe 71px,#2f81fa 76px,#2699e9 84px,#1ea7e1 91px,#1aacdd 97px,#1babde 102px,#22a2e4 108px,#2f81fa 120px,#3974fe 124px,#4269fe 128px,#4561fc 132px,#465efb 136px,#465ffb 139px,#426afe 144px,#3776fe 147px,#3080fa 149px,#2c8ef1 152px,#1ea7e1 157px,#15afd9 159px,#04b6cd 161px,#01b9c6 162px,#07bcc0 163px,#27c2ac 166px,#3dc990 170px,#4ccb83 172px,#65cd6e 176px,#92ca4b 187px,#aac73a 196px,#b0c636 202px,#acc738 206px,#9fc941 211px,#76cc61 223px,#70cd65 226px,#71cd65 229px,#74cc62 230px,#82cc58 232px,#aac73a 236px,#c7c12a 239px,#cfc028 240px,#e1bc2b 242px,#f8ba3d 245px,#fec03b 247px,#fccf30 253px,#f8d82c 258px,#f5e725 282px,#f6ef20 316px,#f7f51b 402px,#f5ed22 475px,#f6e028 492px,#f7dc2a 493px,#fec537 497px,#fec239 498px,#fec537 515px,#febe3c 527px,#f7ba3d 532px,#f4ba39 533px,#ebba31 534px,#dbbd28 535px,#c3c22b 536px,#a4c83e 537px,#5dcc75 539px,#40ca8d 540px,#31c6a0 541px,#25c2ae 542px,#16bfb7 543px,#0dbdbc 544px,#10beba 546px,#1dc0b3 548px,#2bc3a8 550px,#3bc992 553px,#5dcc75 557px,#65cd6e 559px,#65cd6e 560px,#59cc78 562px,#37c898 565px,#2ec5a4 566px,#22c1b0 567px,#0cbdbc 568px,#01b8c8 569px,#1babde 571px,#2b91ef 574px,#2d88f6 575px,#307ffb 576px,#3876fe 577px,#4368fd 579px,#465ffb 581px,#4661fc 584px,#416bfe 586px,#337afd 588px,#23a0e5 593px,#18addb 596px,#14b0d8 598px,#1aabdd 600px,#23a0e5 602px,#2e85f8 605px,#347afd 606px,#406dfe 607px,#4757f7 609px,#4744e8 611px,#463de0 612px,#4536d3 614px,#4536d5 616px,#463cdf 618px,#484df0 621px,#4561fc 624px,#3974fe 627px,#307ffb 630px,#337bfc 633px,#3d71ff 635px,#475cfa 638px)"></i>
<i style="left:128px;width:4px;background:linear-gradient(#463de0 31px,#4230c3 38px,#412dbb 42px,#422ebf 47px,#4536d3 53px,#4741e6 58px,#4852f4 63px,#4563fd 68px,#3e6fff 71px,#307ffb 75px,#269ae8 84px,#1fa6e2 90px,#1aabdd 96px,#1caadf 102px,#23a0e5 108px,#2f82fa 119px,#3975fe 123px,#4269fe 127px,#4661fc 131px,#475dfa 138px,#4561fc 141px,#426afe 144px,#3777fe 147px,#2f81fa 149px,#2c8ff0 152px,#1ea7e1 157px,#14b0d8 159px,#03b7cc 161px,#01bac5 162px,#09bcbe 163px,#20c1b1 165px,#28c3aa 166px,#3eca90 170px,#60cd73 175px,#90ca4d 187px,#9fc941 192px,#a8c73b 196px,#acc738 201px,#aac73a 205px,#9dc943 210px,#72cd63 222px,#6bcd69 226px,#6ccd69 229px,#70cd65 230px,#7ecc5b 232px,#a8c73b 236px,#c5c22a 239px,#d7be28 241px,#e0bc2b 242px,#f1ba37 244px,#f8ba3d 245px,#fec03b 247px,#fccf30 253px,#f8d82c 258px,#f5e725 282px,#f6ef20 316px,#f7f61b 403px,#f5ed22 476px,#f6e028 492px,#f8da2b 494px,#fec636 497px,#fec03b 499px,#fec537 515px,#febe3c 526px,#f8ba3d 531px,#f2ba38 533px,#e8bb2f 534px,#d7be28 535px,#bec32e 536px,#9fc942 537px,#7acc5d 538px,#57cc7a 539px,#3cc992 540px,#2ec4a4 541px,#1fc0b2 542px,#0ebdbb 543px,#06bcc0 544px,#08bcbf 546px,#15bfb8 548px,#2cc4a6 551px,#3dca90 554px,#56cc7b 557px,#5fcd73 559px,#5fcd73 560px,#5ccc76 561px,#4acb85 563px,#2cc4a6 566px,#1ec0b2 567px,#09bcbe 568px,#01b8ca 569px,#11b1d6 570px,#1caadf 571px,#2c8ff0 574px,#2e86f7 575px,#317dfc 576px,#3a74fe 577px,#4466fd 579px,#465dfa 581px,#465efb 584px,#4368fd 586px,#3777fe 588px,#3080fb 589px,#2797ea 592px,#21a4e3 594px,#1aacdd 596px,#17aeda 598px,#1babde 600px,#23a0e5 602px,#2e85f8 605px,#3479fd 606px,#406dfe 607px,#4757f7 609px,#4744e8 611px,#463de0 612px,#4536d3 614px,#4536d3 616px,#463bde 618px,#484cf0 621px,#4661fc 624px,#3a74fe 627px,#317efb 630px,#317dfc 632px,#3876fe 634px,#4269fe 636px,#4854f5 639px)"></i>
<i style="left:132px;width:4px;background:linear-gradient(#463ada 32px,#422fc2 38px,#412dbb 42px,#422fc0 47px,#4536d4 53px,#4743e7 58px,#4853f5 63px,#4465fd 68px,#3d70ff 71px,#3080fa 75px,#269ae8 84px,#1fa6e2 90px,#1babde 96px,#1ca9df 101px,#23a0e5 107px,#2f82f9 118px,#3975fe 122px,#4269fe 126px,#465efb 131px,#475bf9 135px,#475cfa 138px,#4561fc 141px,#426afe 144px,#3677fe 147px,#2f81fa 149px,#2c90f0 152px,#21a4e3 156px,#19addc 158px,#01b7ca 161px,#02bac4 162px,#0abdbd 163px,#22c1b0 165px,#2ac3a9 166px,#3eca8f 170px,#5fcd73 175px,#8fcb4e 187px,#9dc943 192px,#a5c83d 196px,#a9c73a 201px,#a5c83d 205px,#98ca47 210px,#6ccd68 222px,#65cd6e 226px,#67cd6d 229px,#72cd64 231px,#7acc5d 232px,#a6c83d 236px,#c4c22b 239px,#d7be28 241px,#e0bc2b 242px,#f2ba37 244px,#f9ba3d 245px,#fec03b 247px,#fdcd31 252px,#f8d82c 258px,#f5e626 281px,#f6ef20 316px,#f7f61a 403px,#f5ed22 477px,#f6df29 493px,#f9d72d 495px,#fec835 497px,#febe3c 499px,#fec437 514px,#febe3c 525px,#f8ba3d 530px,#efba35 533px,#e5bb2d 534px,#d3bf27 535px,#bac430 536px,#99c946 537px,#51cc7f 539px,#38c897 540px,#2ac3a8 541px,#18bfb6 542px,#07bcbf 543px,#02bac4 544px,#02bac3 546px,#06bcc0 547px,#0bbdbc 548px,#27c2ab 551px,#39c895 554px,#4fcc80 557px,#59cc79 559px,#59cc78 560px,#56cc7b 561px,#45cb88 563px,#2ac3a9 566px,#1bc0b4 567px,#06bcc0 568px,#03b7cc 569px,#13b0d7 570px,#1da9e0 571px,#2c8ef2 574px,#2e84f8 575px,#327bfc 576px,#3c72ff 577px,#4563fd 579px,#475bf9 581px,#475bfa 584px,#4465fd 586px,#3a74fe 588px,#327cfc 589px,#2995ec 592px,#22a1e4 594px,#1caadf 596px,#19addc 598px,#1caadf 600px,#249fe5 602px,#2e85f8 605px,#3479fd 606px,#406dfe 607px,#4757f7 609px,#4744e8 611px,#463de0 612px,#4535d2 614px,#4535d2 616px,#463bdc 618px,#484bef 621px,#4660fb 624px,#3b73fe 627px,#327bfc 629px,#317dfb 630px,#327cfc 632px,#3975fe 634px,#4561fc 637px,#484cef 640px)"></i>
<i style="left:136px;width:4px;background:linear-gradient(#4536d4 33px,#422fc1 38px,#412dbb 42px,#422fc1 47px,#4537d6 53px,#4851f3 62px,#4562fc 67px,#3f6efe 70px,#2f81fa 75px,#2699e9 83px,#20a4e3 89px,#1caadf 95px,#1da9e0 100px,#23a1e5 106px,#2895ec 111px,#3080fb 118px,#3875fe 121px,#4269fe 125px,#465efb 130px,#475af9 134px,#475bf9 138px,#426afe 144px,#317dfc 148px,#2b91ef 152px,#1ca9df 157px,#18aedb 158px,#01b8c9 161px,#03bbc2 162px,#24c1af 165px,#2bc3a8 166px,#46cb88 171px,#5ecc74 175px,#8dcb4f 187px,#9bc944 192px,#a3c83f 196px,#a6c83d 201px,#a1c840 205px,#95ca49 209px,#72cd64 218px,#65cd6e 222px,#5fcd73 226px,#62cd71 229px,#77cc60 232px,#afc637 237px,#c3c22b 239px,#d6be28 241px,#e0bc2b 242px,#f9bb3d 245px,#fdbd3d 246px,#fdce31 252px,#f8d92c 258px,#f5e626 280px,#f6ef20 316px,#f7f61a 403px,#f5ed22 478px,#f5e426 490px,#f6de29 494px,#f8da2b 495px,#fdcb33 497px,#febe3c 499px,#fcbc3d 500px,#fec438 514px,#febd3c 525px,#f8ba3d 529px,#edba33 533px,#e2bc2b 534px,#cfc028 535px,#b5c533 536px,#93ca4b 537px,#6dcd67 538px,#4bcb84 539px,#34c79b 540px,#26c2ad 541px,#10beba 542px,#02bac4 543px,#01b8c9 544px,#01b8c9 545px,#05bbc1 548px,#0cbdbc 549px,#2ac3a9 552px,#49cb86 557px,#52cc7e 559px,#53cc7d 560px,#51cc7f 561px,#41ca8c 563px,#28c2ab 566px,#04bbc2 568px,#05b6ce 569px,#15afd8 570px,#1ea8e1 571px,#2d8cf3 574px,#2e83f9 575px,#3d70ff 577px,#4561fc 579px,#4759f8 581px,#4759f8 584px,#4369fe 587px,#3479fd 589px,#2f82f9 590px,#249fe5 594px,#1baade 597px,#1babde 599px,#20a4e3 601px,#2797eb 603px,#2e84f8 605px,#3579fd 606px,#406dfe 607px,#4757f7 609px,#4744e8 611px,#463de0 612px,#4435d1 614px,#4435d1 616px,#463adb 618px,#484bee 621px,#465ffb 624px,#3b72ff 627px,#317dfc 630px,#3578fd 633px,#4367fd 636px,#4759f8 638px,#4744e8 641px)"></i>
<i style="left:140px;width:4px;background:linear-gradient(#4434ce 34px,#412ebd 39px,#412dbc 44px,#4330c5 48px,#463cdf 55px,#4755f6 63px,#4563fd 67px,#3e6fff 70px,#307efb 74px,#2699e9 83px,#20a4e3 89px,#1ca9df 95px,#1ea8e1 100px,#249fe6 106px,#3080fa 117px,#3876fe 120px,#4269fe 124px,#465dfb 129px,#4758f8 133px,#4758f8 137px,#465dfb 140px,#426afe 144px,#317dfb 148px,#2b92ee 152px,#1fa5e2 156px,#17aeda 158px,#05b6ce 160px,#01b9c8 161px,#05bbc1 162px,#25c2ad 165px,#2cc4a7 166px,#3fca8e 170px,#58cc79 174px,#8bcb51 187px,#99c946 192px,#a0c841 196px,#a3c83f 200px,#9ec942 204px,#8fcb4e 209px,#64cd6f 220px,#5bcc77 224px,#5acc78 228px,#62cd70 230px,#73cd63 232px,#adc638 237px,#ccc028 240px,#e1bc2b 242px,#f3ba38 244px,#f9bb3d 245px,#febd3c 246px,#fdce31 252px,#f8d92c 258px,#f5e526 280px,#f6ef20 317px,#f7f61a 403px,#f5ec22 479px,#f5e427 491px,#f6df29 494px,#f9d72d 496px,#fec636 498px,#fbbc3d 500px,#fbbc3d 504px,#fec438 514px,#febe3c 524px,#f9bb3d 528px,#f2ba38 531px,#eaba31 533px,#dfbc2a 534px,#cbc029 535px,#b0c636 536px,#8dcb4f 537px,#67cd6c 538px,#45cb88 539px,#32c69f 540px,#21c1b0 541px,#09bcbe 542px,#01b9c8 543px,#04b6cd 544px,#05b6ce 545px,#01b8ca 547px,#05bbc1 549px,#24c2ae 552px,#2cc4a7 553px,#43ca8b 557px,#4ccb83 559px,#4ecc81 560px,#46cb88 562px,#2fc5a2 565px,#26c2ad 566px,#02bac4 568px,#07b5cf 569px,#16aeda 570px,#1fa6e1 571px,#2d8bf4 574px,#2f81fa 575px,#3677fe 576px,#3f6eff 577px,#4466fd 578px,#475af9 580px,#4755f6 582px,#4756f7 584px,#4466fd 587px,#3776fe 589px,#307ffb 590px,#2797eb 593px,#22a2e4 595px,#1da9e0 597px,#1caadf 599px,#21a3e3 601px,#2796eb 603px,#2e84f8 605px,#3579fd 606px,#406dfe 607px,#4757f7 609px,#4744e8 611px,#463ddf 612px,#4435d0 614px,#4434cf 616px,#4639da 618px,#484aee 621px,#465efb 624px,#3c71ff 627px,#327cfc 630px,#3677fe 633px,#465ffb 637px,#4851f3 639px,#463ddf 642px)"></i>
<i style="left:144px;width:4px;background:linear-gradient(#4332c8 35px,#412dbb 40px,#422ebe 45px,#4332c9 49px,#463de0 55px,#4853f5 62px,#4561fc 66px,#406cfe 69px,#307ffb 74px,#2797eb 82px,#21a3e4 88px,#1da8e0 94px,#1ea7e1 99px,#249fe6 105px,#2f80fa 116px,#3876fe 119px,#4269fe 123px,#475bf9 129px,#4756f7 133px,#4757f7 137px,#4367fd 143px,#3e6fff 145px,#317efb 148px,#2c8ef2 151px,#1ea6e1 156px,#15afd9 158px,#04b6cd 160px,#01b9c6 161px,#07bcc0 162px,#26c2ac 165px,#47cb87 171px,#58cc7a 174px,#8acb52 187px,#9cc943 195px,#9fc941 199px,#9bc944 203px,#8dcb50 208px,#6bcd69 216px,#5dcc75 220px,#53cc7d 225px,#54cc7c 228px,#5ecd74 230px,#70cd65 232px,#acc738 237px,#cbc029 240px,#e1bc2b 242px,#f3ba39 244px,#fabb3d 245px,#febe3c 246px,#fdce31 252px,#f8d92c 258px,#f5e426 278px,#f6ef20 316px,#f8f61a 397px,#f5ec22 480px,#f5e526 491px,#f6de29 495px,#f8da2b 496px,#fec13a 499px,#f7ba3c 501px,#febe3c 509px,#fec338 515px,#febe3c 524px,#f8ba3d 528px,#e8bb2f 533px,#dcbd29 534px,#c8c129 535px,#abc739 536px,#61cd71 538px,#41ca8d 539px,#2fc5a3 540px,#04bbc2 542px,#03b7cc 543px,#09b4d1 544px,#0bb3d2 545px,#06b6ce 547px,#01b9c6 549px,#06bcc0 550px,#27c2ac 553px,#2ec4a5 554px,#43ca8b 558px,#48cb86 560px,#42ca8c 562px,#2ec4a5 565px,#23c1af 566px,#10beba 567px,#01bac5 568px,#09b4d1 569px,#18addb 570px,#1fa5e2 571px,#2a93ee 573px,#3080fb 575px,#3876fe 576px,#4464fd 578px,#4758f8 580px,#4853f4 582px,#4854f5 584px,#4563fc 587px,#3a73fe 589px,#327cfc 590px,#2994ed 593px,#23a0e5 595px,#1ea7e1 597px,#1da8e0 599px,#22a2e4 601px,#2896ec 603px,#2e84f9 605px,#406cfe 607px,#4756f7 609px,#4744e8 611px,#463cdf 612px,#4434cf 614px,#4433cd 615px,#4434ce 616px,#4539d8 618px,#4849ed 621px,#465efb 624px,#3876fe 628px,#327bfc 631px,#3c71ff 634px,#465efb 637px,#4849ed 640px,#4537d6 643px)"></i>
<i style="left:148px;width:4px;background:linear-gradient(#4230c3 36px,#412dbc 39px,#412dbc 43px,#4230c4 47px,#4537d6 52px,#4851f3 61px,#4562fc 66px,#3f6dfe 69px,#2f80fa 74px,#2895ec 81px,#22a1e4 87px,#1ea7e1 93px,#1ea7e1 98px,#249fe6 104px,#2f81fa 115px,#3876fe 118px,#4269fe 122px,#475af9 128px,#4755f6 132px,#4755f6 136px,#475af9 139px,#4367fd 143px,#3e6fff 145px,#347afd 147px,#2c8ff1 151px,#1ea7e1 156px,#14b0d8 158px,#03b7cc 160px,#01bac5 161px,#08bcbf 162px,#27c2ab 165px,#40ca8d 170px,#52cc7e 173px,#85cb55 186px,#93ca4b 191px,#9ac945 195px,#9cc944 199px,#97ca48 203px,#8acb52 207px,#63cd70 216px,#56cc7b 220px,#4ccb83 225px,#4fcc81 228px,#5acc77 230px,#6ccd68 232px,#aac739 237px,#cbc129 240px,#e2bc2b 242px,#f4ba3a 244px,#fbbc3d 245px,#febe3c 246px,#fcce31 252px,#f8d92c 258px,#f5e426 278px,#f6ef20 317px,#f8f61a 398px,#f5ec22 481px,#f5e426 492px,#f6df29 495px,#f9d62d 497px,#fec537 499px,#fdbd3d 500px,#f7ba3c 501px,#f4ba39 503px,#f8ba3d 506px,#febe3c 510px,#fec338 515px,#febe3c 523px,#f9bb3d 527px,#f1ba37 530px,#e6bb2d 533px,#d9be28 534px,#c4c22b 535px,#a7c73c 536px,#5dcc75 538px,#3dc990 539px,#2cc4a6 540px,#15bfb8 541px,#01bac5 542px,#07b5cf 543px,#10b2d5 544px,#12b1d6 545px,#0cb3d3 547px,#01b7ca 549px,#02bac5 550px,#08bcbe 551px,#21c1b1 553px,#29c3a9 554px,#3eca90 558px,#43ca8a 560px,#3eca8f 562px,#2cc4a7 565px,#20c1b1 566px,#0dbdbc 567px,#01b9c7 568px,#0bb3d2 569px,#19addc 570px,#20a4e3 571px,#2b92ee 573px,#317efb 575px,#3a74fe 576px,#416afe 577px,#4562fc 578px,#4756f7 580px,#4850f3 582px,#4852f4 584px,#4660fc 587px,#3d70ff 589px,#2f82f9 591px,#2798ea 594px,#1fa5e2 597px,#1ea7e1 599px,#22a1e4 601px,#2895ec 603px,#2e83f9 605px,#406cfe 607px,#4756f7 609px,#4744e8 611px,#4537d6 613px,#4434cf 614px,#4433cc 615px,#4433cd 616px,#4538d7 618px,#4848ec 621px,#475dfa 624px,#426afe 626px,#3975fe 628px,#337afd 631px,#3d70ff 634px,#465dfb 637px,#4848ec 640px,#463cde 642px,#4434ce 644px)"></i>
<i style="left:152px;width:4px;background:linear-gradient(#422ebf 37px,#412dbb 40px,#412ebe 44px,#4330c5 47px,#4538d7 52px,#4852f4 61px,#416bfe 68px,#3776fe 71px,#2f81fa 74px,#2896ec 81px,#22a1e4 87px,#1ea6e1 93px,#1fa5e2 98px,#259de7 104px,#2f81fa 114px,#3776fe 117px,#4369fe 121px,#475af9 127px,#4853f5 132px,#4854f5 136px,#475af9 139px,#4367fd 143px,#3d70ff 145px,#337bfd 147px,#21a4e3 155px,#19addc 157px,#01b7ca 160px,#02bac4 161px,#29c3aa 165px,#41ca8c 170px,#51cc7f 173px,#83cc57 186px,#91ca4c 191px,#97ca47 195px,#98c947 199px,#91ca4c 203px,#51cc7f 219px,#48cb86 223px,#47cb87 227px,#4fcc80 229px,#5fcd73 231px,#75cc61 233px,#a9c73a 237px,#cbc129 240px,#d7be28 241px,#e2bc2b 242px,#f5ba3b 244px,#febf3b 246px,#fdcd32 251px,#f9d82c 257px,#f5e427 278px,#f5e924 304px,#f6ef20 317px,#f8f61a 399px,#f5ec22 481px,#f5e526 492px,#f6de29 496px,#f8da2b 497px,#fec934 499px,#fec03b 500px,#f8ba3d 501px,#f2ba37 502px,#f0ba36 503px,#f9bb3d 508px,#febe3c 511px,#fec239 516px,#febe3c 523px,#f8ba3d 527px,#edba33 531px,#e3bb2c 533px,#d6be28 534px,#c1c32c 535px,#a4c83e 536px,#59cc78 538px,#3ac993 539px,#2ac3a9 540px,#0fbebb 541px,#01b8c9 542px,#0cb3d3 543px,#15afd8 544px,#16aeda 545px,#13b1d7 547px,#01b8ca 550px,#02bac3 551px,#0bbdbc 552px,#24c2ae 554px,#2cc4a7 555px,#3ac994 558px,#3fca8e 560px,#3cc992 562px,#2ac3a8 565px,#1ec0b2 566px,#0bbdbd 567px,#01b8c8 568px,#1aacdd 570px,#2b91ef 573px,#317dfc 575px,#3b72fe 576px,#4269fe 577px,#4755f6 580px,#484ef1 582px,#484ff2 584px,#4757f8 586px,#4465fd 588px,#3776fe 590px,#307ffb 591px,#259ce7 595px,#21a3e3 597px,#1fa5e2 599px,#23a0e5 601px,#2994ed 603px,#2e83f9 605px,#406cfe 607px,#4756f7 609px,#4744e8 611px,#4537d6 613px,#4434ce 614px,#4332cb 615px,#4433cb 616px,#4537d6 618px,#4747eb 621px,#475cfa 624px,#4269fe 626px,#3a74fe 628px,#3479fd 631px,#3e6fff 634px,#475dfa 637px,#4848ec 640px,#463bdd 642px,#4331c8 645px)"></i>
<i style="left:156px;width:4px;background:linear-gradient(#412dbd 38px,#412dbb 41px,#422ebe 44px,#4331c6 47px,#4536d5 51px,#484cf0 59px,#465dfa 64px,#4368fe 67px,#3a73fe 70px,#307ffb 73px,#2993ed 80px,#239fe5 86px,#1fa5e2 92px,#20a5e2 97px,#259ce7 103px,#2f81fa 113px,#3b73fe 117px,#4466fd 121px,#4757f7 127px,#4852f4 131px,#4852f4 135px,#4757f7 138px,#4563fd 142px,#416cfe 144px,#3876fe 146px,#2f81fa 148px,#2b91ef 151px,#1ca9df 156px,#18aedb 157px,#01b8c9 160px,#03bbc3 161px,#22c1af 164px,#2ac3a9 165px,#4bcb83 172px,#82cc58 186px,#8dcb4f 190px,#94ca4a 194px,#95ca49 198px,#8ecb4e 202px,#80cc59 206px,#60cd72 213px,#4acb85 219px,#40ca8d 224px,#42ca8c 227px,#4bcb84 229px,#66cd6d 232px,#a8c73b 237px,#cbc029 240px,#d8be28 241px,#e3bb2c 242px,#f7ba3c 244px,#fec03b 246px,#fdcd31 251px,#f9d82c 257px,#f5e427 277px,#f5e924 304px,#f6ef20 317px,#f8f719 399px,#f5ec22 482px,#f5e526 492px,#f6df29 496px,#fad62d 498px,#fec338 500px,#fbbc3d 501px,#f2ba38 502px,#edba33 503px,#efba35 505px,#f8ba3d 509px,#febe3c 512px,#fec239 517px,#febe3c 523px,#fabb3d 526px,#efba35 530px,#e1bc2b 533px,#d4bf28 534px,#bfc32d 535px,#a1c840 536px,#56cc7a 538px,#38c895 539px,#27c2ab 540px,#0abdbd 541px,#02b7cb 542px,#11b1d6 543px,#18addb 544px,#19acdc 546px,#14b0d8 548px,#01b8c8 551px,#05bbc1 552px,#1dc0b3 554px,#2ec4a5 556px,#39c994 559px,#3cc992 561px,#35c79a 563px,#29c3aa 565px,#1cc0b3 566px,#09bcbe 567px,#01b8c9 568px,#1aabdd 570px,#2c90f0 573px,#327cfc 575px,#4368fd 577px,#465ffb 578px,#484ff2 581px,#484cef 583px,#4755f6 586px,#4562fc 588px,#3a73fe 590px,#327cfc 591px,#2699e9 595px,#21a4e3 598px,#21a3e4 600px,#269ae8 602px,#2f82f9 605px,#406cfe 607px,#4756f7 609px,#463cdf 612px,#4434cd 614px,#4332ca 615px,#4434ce 617px,#463adc 619px,#484df0 622px,#475bf9 624px,#3f6efe 627px,#3776fe 629px,#3579fd 631px,#3f6fff 634px,#4563fc 636px,#4755f6 638px,#463bdd 642px,#4433cd 644px,#4330c5 646px)"></i>
<i style="left:160px;width:4px;background:linear-gradient(#412dbb 39px,#412dbc 42px,#422fc1 45px,#4537d6 51px,#484df0 59px,#4465fd 66px,#3975fe 70px,#3080fb 73px,#2994ed 80px,#239fe5 86px,#20a5e2 92px,#21a4e3 97px,#269ae8 103px,#2f81fa 112px,#3b73fe 116px,#4465fd 120px,#4756f7 126px,#4850f2 131px,#4851f3 135px,#4756f7 138px,#4563fd 142px,#406cfe 144px,#3777fe 146px,#2f82fa 148px,#2b92ef 151px,#1baade 156px,#16aeda 157px,#05b6ce 159px,#01b9c8 160px,#04bbc1 161px,#24c1ae 164px,#2ac3a8 165px,#3cc991 169px,#4bcb84 172px,#80cc59 186px,#8bcb51 190px,#91ca4c 194px,#91ca4c 198px,#89cb53 202px,#74cc62 207px,#50cc80 215px,#43ca8b 219px,#3cc992 224px,#3dca90 227px,#47cb87 229px,#64cd6f 232px,#a7c73c 237px,#ccc028 240px,#d9be28 241px,#e5bb2d 242px,#efba35 243px,#f8ba3d 244px,#fdbd3d 245px,#fdce31 251px,#f9d82c 257px,#f5e327 275px,#f5e924 304px,#f6ef20 317px,#f8f719 399px,#f5ec23 483px,#f5e526 493px,#f6dd29 497px,#fcd12f 499px,#febe3c 501px,#f5ba3a 502px,#ecba33 503px,#eaba31 504px,#ecba33 506px,#f8ba3d 510px,#febe3c 513px,#fec239 518px,#fbbc3d 525px,#f7ba3c 527px,#e9bb30 531px,#dfbc2a 533px,#d3bf27 534px,#bdc32e 535px,#a0c941 536px,#55cc7c 538px,#37c897 539px,#26c2ad 540px,#08bcbf 541px,#05b6ce 542px,#14b0d8 543px,#1babde 544px,#1ca9df 546px,#18addb 548px,#14b0d8 549px,#04b6cd 551px,#01b9c6 552px,#08bcbf 553px,#21c1b0 555px,#2ac3a9 556px,#33c69d 558px,#38c896 560px,#37c897 562px,#2fc5a2 564px,#28c3ab 565px,#1bc0b4 566px,#08bcbe 567px,#01b8c9 568px,#1babde 570px,#2c8ff0 573px,#337bfc 575px,#3d70ff 576px,#4366fd 577px,#4851f4 580px,#484bee 582px,#484bef 584px,#4853f5 586px,#465ffb 588px,#3d70ff 590px,#2f82f9 592px,#2797eb 595px,#23a0e5 597px,#21a2e4 599px,#249ee6 601px,#2a93ed 603px,#2f82f9 605px,#406cfe 607px,#4757f7 609px,#4744e8 611px,#4537d5 613px,#4433cd 614px,#4332c9 615px,#4332c9 616px,#4433cc 617px,#4639da 619px,#484cef 622px,#4660fc 625px,#3c72ff 628px,#3678fe 631px,#3f6eff 634px,#475bfa 637px,#4747eb 640px,#4536d4 643px,#4331c8 645px,#4330c5 646px,#4331c7 647px)"></i>
<i style="left:164px;width:4px;background:linear-gradient(#412dbb 40px,#422fc2 45px,#463adb 52px,#4852f4 60px,#4366fd 66px,#3876fe 70px,#2f80fa 73px,#2b92ee 79px,#249ee6 85px,#21a4e3 91px,#21a3e3 96px,#269ae8 102px,#2f82fa 111px,#3a73fe 115px,#4465fd 119px,#4854f5 126px,#484ef1 131px,#4850f2 135px,#4756f6 138px,#4564fd 142px,#406dfe 144px,#3678fe 146px,#2e83f9 148px,#2d8df2 150px,#1ea7e1 155px,#15afd9 157px,#04b6cd 159px,#01b9c7 160px,#06bcc0 161px,#1cc0b4 163px,#2bc3a8 165px,#45cb88 171px,#7ccc5c 185px,#87cb54 189px,#8ecb4f 193px,#8ecb4e 197px,#86cb55 201px,#71cd64 206px,#4ccb83 214px,#3fca8e 218px,#37c897 224px,#3ac993 227px,#44cb89 229px,#62cd71 232px,#a5c83d 237px,#ccc028 240px,#dabd28 241px,#e6bb2d 242px,#f1ba37 243px,#f9bb3d 244px,#febe3c 245px,#fdcc32 250px,#f9d82c 257px,#f5e227 275px,#f5e825 303px,#f6ef20 317px,#f8f719 399px,#f5ec22 483px,#f5e526 493px,#f6de29 497px,#fad52e 499px,#fec13a 501px,#f9ba3d 502px,#eeba34 503px,#e8bb2e 504px,#e7bb2e 505px,#ebba31 507px,#f8ba3d 511px,#febe3c 514px,#fec13a 518px,#febe3c 523px,#fbbc3d 525px,#f7ba3c 527px,#e8bb2f 531px,#ddbd29 533px,#d2bf27 534px,#bdc32f 535px,#9fc941 536px,#54cc7c 538px,#37c898 539px,#25c2ae 540px,#06bcc0 541px,#07b5cf 542px,#17aeda 543px,#1da9e0 544px,#1fa6e1 546px,#19addc 549px,#02b7cb 552px,#02bac4 553px,#25c2ae 556px,#30c5a1 558px,#36c899 560px,#36c799 562px,#2ec5a4 564px,#27c2ab 565px,#1ac0b5 566px,#08bcbf 567px,#01b8ca 568px,#1babde 570px,#2c8ff0 573px,#337afd 575px,#3e6fff 576px,#4466fd 577px,#4850f3 580px,#4849ed 582px,#4849ed 584px,#4850f3 586px,#4465fd 589px,#3776fe 591px,#307ffb 592px,#2995ec 595px,#249ee6 597px,#22a1e4 599px,#249de6 601px,#2a93ee 603px,#2f82f9 605px,#406cfe 607px,#4757f7 609px,#4744e8 611px,#4537d5 613px,#4433cd 614px,#4331c8 615px,#4331c8 616px,#4432cb 617px,#4539d9 619px,#484bee 622px,#465ffb 625px,#3d71ff 628px,#3777fe 631px,#3f6dfe 634px,#475bf9 637px,#4747eb 640px,#4536d4 643px,#4331c8 645px,#4330c5 646px,#4331c7 647px,#4434ce 648px)"></i>
<i style="left:168px;width:4px;background:linear-gradient(#412dbc 41px,#4331c6 46px,#463bdc 52px,#484cf0 58px,#4564fd 65px,#3b73fe 69px,#2f81fa 73px,#2a92ee 79px,#249ee6 85px,#21a3e3 91px,#22a2e4 96px,#2698ea 102px,#2f82fa 110px,#3a74fe 114px,#4466fd 118px,#4853f5 125px,#484df0 130px,#484df1 134px,#4756f6 138px,#4564fd 142px,#3f6efe 144px,#3578fd 146px,#1ea7e1 155px,#14b0d8 157px,#03b7cc 159px,#01bac6 160px,#07bcbf 161px,#1dc0b3 163px,#2cc4a7 165px,#45cb89 171px,#7acc5d 185px,#85cb55 189px,#8bcb51 193px,#8bcb51 196px,#83cc57 200px,#73cd63 204px,#49cb85 213px,#3eca8f 216px,#37c898 220px,#34c79b 223px,#34c79b 225px,#38c896 227px,#42ca8c 229px,#55cc7c 231px,#6dcd68 233px,#a4c83e 237px,#cdc028 240px,#dbbd29 241px,#f2ba38 243px,#fabb3d 244px,#febf3c 245px,#fdcc32 250px,#f9d72c 256px,#f5e228 274px,#f5e825 303px,#f6ef20 317px,#f8f719 398px,#f5eb23 484px,#f5e526 494px,#f7dd2a 498px,#f9d82c 499px,#fec537 501px,#fcbc3d 502px,#f1ba37 503px,#e7bb2e 504px,#e4bb2c 505px,#e9bb30 508px,#f8ba3d 512px,#febe3c 515px,#fec13a 519px,#fbbc3d 525px,#f6ba3b 527px,#efba35 529px,#dcbd29 533px,#d1bf27 534px,#bdc42f 535px,#a0c941 536px,#55cc7c 538px,#37c897 539px,#25c2ae 540px,#06bbc1 541px,#08b5d0 542px,#18addb 543px,#21a4e3 545px,#21a3e3 546px,#18addb 550px,#01b8c9 553px,#05bbc1 554px,#1ec0b2 556px,#27c2ab 557px,#34c79c 560px,#34c79b 562px,#2ec4a4 564px,#27c2ac 565px,#1ac0b5 566px,#08bcbf 567px,#01b8c9 568px,#1aabdd 570px,#2c8ff0 573px,#347afd 575px,#3e6fff 576px,#4465fd 577px,#484ff2 580px,#4747eb 582px,#4747eb 584px,#484ef1 586px,#4562fc 589px,#3a73fe 591px,#327cfc 592px,#2a92ee 595px,#259ce7 597px,#239fe5 599px,#259ce7 601px,#2a92ee 603px,#2f82f9 605px,#406cfe 607px,#4561fc 608px,#484df1 610px,#463ddf 612px,#4433cc 614px,#4331c7 615px,#4331c6 616px,#4332c9 617px,#4538d7 619px,#4849ed 622px,#465efb 625px,#3e6fff 628px,#3876fe 631px,#406dfe 634px,#475bf9 637px,#484df1 639px,#463bdc 642px,#4433cd 644px,#4330c5 646px,#4331c7 647px,#4538d7 649px)"></i>
<i style="left:172px;width:4px;background:linear-gradient(#412ebd 42px,#4331c7 46px,#463cde 52px,#4850f3 59px,#4465fd 65px,#3a74fe 69px,#307ffb 72px,#2b90f0 78px,#259ce7 84px,#22a2e4 90px,#22a1e4 95px,#2699ea 101px,#307ffb 110px,#3a74fe 113px,#4563fc 118px,#4851f3 125px,#484bee 130px,#484cf0 134px,#4755f6 138px,#4464fd 142px,#3f6eff 144px,#3479fd 146px,#1da8e0 155px,#12b1d7 157px,#02b7cb 159px,#02bac5 160px,#09bcbe 161px,#1ec0b2 163px,#2cc4a6 165px,#40ca8d 170px,#6bcd69 181px,#7fcc5a 187px,#87cb54 192px,#87cb54 196px,#80cc59 199px,#70cd65 203px,#4acb84 211px,#39c994 216px,#31c69f 223px,#32c69f 225px,#36c899 227px,#3fca8e 229px,#53cc7d 231px,#7acc5e 234px,#a3c83e 237px,#bfc32d 239px,#cec028 240px,#ddbd29 241px,#f4ba3a 243px,#fbbc3d 244px,#fec03b 245px,#fdcd32 250px,#f9d72c 256px,#f5e128 273px,#f5e725 303px,#f6ef20 317px,#f8f719 396px,#f7f51b 425px,#f5ec22 484px,#f5e526 494px,#f6de29 498px,#fbd32f 500px,#febf3b 502px,#f5ba3a 503px,#e9bb30 504px,#e2bc2b 505px,#e1bc2b 506px,#e8bb2f 509px,#f8ba3d 513px,#fdbd3d 515px,#fec13a 519px,#fcbd3d 524px,#f6ba3b 527px,#eaba31 530px,#dabd28 533px,#d0bf27 534px,#bdc32e 535px,#a1c840 536px,#57cc7a 538px,#38c896 539px,#26c2ad 540px,#06bcc0 541px,#08b4d1 542px,#19acdc 543px,#22a1e4 545px,#23a0e5 546px,#1baade 550px,#17aeda 551px,#05b6cd 553px,#01b9c6 554px,#09bcbe 555px,#22c1af 557px,#2ac3a9 558px,#31c69f 560px,#33c69d 562px,#2ec4a5 564px,#27c2ac 565px,#1bc0b4 566px,#09bcbe 567px,#01b8c9 568px,#1aacdd 570px,#2c90f0 573px,#337afd 575px,#3e6fff 576px,#4465fd 577px,#484ef1 580px,#4745e9 583px,#484cf0 586px,#465ffb 589px,#3d70ff 591px,#2f82fa 593px,#2c90f0 595px,#269ae9 597px,#249ee6 599px,#259be7 601px,#2b92ee 603px,#2f82f9 605px,#406dfe 607px,#4758f8 609px,#463de0 612px,#4433cc 614px,#4331c7 615px,#4331c8 617px,#4537d5 619px,#4848ec 622px,#475dfa 625px,#3f6eff 628px,#3975fe 631px,#406cfe 634px,#475bf9 637px,#484df1 639px,#463bdc 642px,#4433cd 644px,#4330c5 646px,#4331c7 647px,#4433cd 648px,#463de0 650px)"></i>
<i style="left:176px;width:4px;background:linear-gradient(#422ec0 43px,#463cdf 52px,#4852f4 59px,#4466fd 65px,#3975fe 69px,#3080fb 72px,#2b91ef 78px,#259ce7 84px,#22a2e4 90px,#23a0e5 95px,#2797eb 101px,#3080fb 109px,#3d71ff 113px,#4563fc 117px,#4850f3 124px,#484aed 129px,#484aee 133px,#4852f4 137px,#4660fc 141px,#426afe 143px,#3974fe 145px,#3080fa 147px,#2b90f0 150px,#1ca9e0 155px,#18addb 156px,#01b8ca 159px,#02bac4 160px,#27c2ac 164px,#3fca8e 170px,#77cc60 185px,#81cc59 189px,#84cb56 192px,#84cc56 195px,#7acc5e 199px,#43ca8a 211px,#37c897 215px,#31c6a0 219px,#2fc5a3 223px,#30c5a2 225px,#34c79b 227px,#3eca8f 229px,#51cc7e 231px,#87cb54 235px,#c0c32d 239px,#d0bf27 240px,#dfbc2a 241px,#f6ba3b 243px,#fdbd3d 244px,#fec03a 245px,#fdcd31 250px,#f9d82c 256px,#f5e128 274px,#f5e725 303px,#f6ef20 317px,#f8f719 411px,#f5eb23 485px,#f5e526 494px,#f6de29 498px,#fad62d 500px,#fec339 502px,#f9bb3d 503px,#e2bc2b 505px,#debc2a 506px,#e1bc2b 508px,#e8bb2e 510px,#f8ba3d 514px,#fdbd3d 516px,#fec03b 520px,#fbbc3d 525px,#f6ba3b 527px,#debc2a 532px,#cfc028 534px,#bdc32e 535px,#a3c83f 536px,#5acc78 538px,#3ac994 539px,#27c2ac 540px,#07bcc0 541px,#08b4d0 542px,#19acdc 543px,#249fe5 545px,#249ee6 547px,#1babde 551px,#15afd8 552px,#02b7cb 554px,#02bbc3 555px,#25c2ad 558px,#2cc4a7 559px,#31c6a0 561px,#32c69f 562px,#2dc4a5 564px,#27c2ac 565px,#1bc0b4 566px,#0abdbd 567px,#01b9c8 568px,#19acdc 570px,#20a4e3 571px,#337bfd 575px,#3e6fff 576px,#4465fd 577px,#484df1 580px,#4743e7 583px,#484aee 586px,#465dfa 589px,#3f6dfe 591px,#307ffb 593px,#2a93ed 596px,#259be8 598px,#259ce7 600px,#2797eb 602px,#2d8af4 604px,#2f82f9 605px,#3578fd 606px,#406dfe 607px,#4562fc 608px,#484ef1 610px,#463de0 612px,#4433cd 614px,#4331c6 615px,#4230c4 616px,#4331c6 617px,#4536d3 619px,#4746eb 622px,#475bfa 625px,#406dfe 628px,#3974fe 631px,#406cfe 634px,#4561fc 636px,#4854f5 638px,#463bdd 642px,#4433cd 644px,#4330c5 646px,#4331c7 647px,#4433cc 648px,#4744e8 651px)"></i>
<i style="left:180px;width:4px;background:linear-gradient(#4230c3 44px,#4539d9 50px,#4849ed 56px,#4759f9 61px,#4367fd 65px,#3776fe 69px,#2f81fa 72px,#2b91ef 78px,#259ce7 84px,#22a1e4 90px,#249fe5 95px,#2797eb 100px,#2f80fa 108px,#3c72ff 112px,#4563fd 116px,#484ef1 124px,#4848ec 129px,#4849ed 133px,#4852f4 137px,#4661fc 141px,#426afe 143px,#3875fe 145px,#2f81fa 147px,#2b91ef 150px,#1caadf 155px,#01b8c9 159px,#03bbc3 160px,#20c1b1 163px,#2dc4a6 165px,#3eca8f 170px,#68cd6b 181px,#78cc5f 186px,#81cc59 191px,#80cc59 194px,#77cc60 198px,#41ca8c 210px,#37c897 213px,#30c5a1 217px,#2cc4a6 221px,#2cc4a6 224px,#30c5a1 226px,#3dc990 229px,#50cc7f 231px,#87cb54 235px,#a2c840 237px,#c1c32c 239px,#d2bf27 240px,#e1bc2b 241px,#eeba34 242px,#f8ba3d 243px,#febd3c 244px,#fdcb32 249px,#f9d62d 255px,#f6e028 272px,#f5e725 303px,#f5ef20 317px,#f8f61a 380px,#f8f719 412px,#f5eb23 485px,#f5e128 497px,#f9d82c 500px,#fec636 502px,#fcbc3d 503px,#f0ba36 504px,#e4bb2c 505px,#dcbd29 506px,#dbbd29 507px,#e7bb2e 511px,#f9ba3d 515px,#fdbd3d 517px,#fec03b 520px,#fbbc3d 525px,#f5ba3b 527px,#e3bc2c 531px,#cec028 534px,#bec32e 535px,#a5c83d 536px,#83cc57 537px,#5dcc75 538px,#3cc991 539px,#29c3aa 540px,#09bcbe 541px,#07b5d0 542px,#19acdc 543px,#20a4e3 544px,#259be8 546px,#259de7 548px,#19acdc 552px,#12b1d7 553px,#07b5d0 554px,#01b9c8 555px,#06bcc0 556px,#1fc1b1 558px,#28c2ab 559px,#2fc5a2 561px,#30c5a2 563px,#2dc4a5 564px,#27c2ab 565px,#1dc0b3 566px,#0bbdbc 567px,#01b9c7 568px,#0ab4d1 569px,#18addb 570px,#20a5e2 571px,#2b91ef 573px,#327cfc 575px,#3e70ff 576px,#4465fd 577px,#484df0 580px,#4742e6 583px,#4744e8 585px,#484df0 587px,#4562fc 590px,#3a73fe 592px,#327cfc 593px,#2b91ef 596px,#2699e9 598px,#259be8 600px,#2796eb 602px,#2d8af4 604px,#2f82f9 605px,#3579fd 606px,#3f6efe 607px,#4563fd 608px,#484ff2 610px,#463ee1 612px,#4433cd 614px,#4331c6 615px,#4230c3 616px,#4330c5 617px,#4639d9 620px,#484cef 623px,#475af9 625px,#416cfe 628px,#3a73fe 631px,#416cfe 634px,#4854f6 638px,#463bdd 642px,#4434ce 644px,#4330c5 646px,#4331c6 647px,#4433cc 648px,#463cde 650px,#484bee 652px)"></i>
<i style="left:184px;width:4px;background:linear-gradient(#4331c7 45px,#4639da 50px,#4747eb 55px,#4757f7 60px,#4369fe 65px,#3a74fe 68px,#307efb 71px,#2b92ee 78px,#259ce7 84px,#23a0e5 89px,#249fe6 94px,#2797ea 99px,#2f81fa 107px,#3b72fe 111px,#4564fd 115px,#484ef1 123px,#4747eb 128px,#4747eb 132px,#484ff2 136px,#4561fc 141px,#416bfe 143px,#3876fe 145px,#2f82fa 147px,#2b92ee 150px,#1baade 155px,#16afda 156px,#05b6ce 158px,#01b8c8 159px,#04bbc2 160px,#21c1b0 163px,#2dc4a5 165px,#3bc993 169px,#67cd6c 181px,#76cc60 186px,#7dcc5c 190px,#7dcc5b 193px,#74cc62 197px,#3eca8f 209px,#36c899 212px,#2fc5a3 216px,#2ac3a9 220px,#29c3aa 223px,#2fc5a3 226px,#3cc991 229px,#50cc80 231px,#77cc60 234px,#a1c840 237px,#c3c22b 239px,#d4bf28 240px,#e3bc2c 241px,#f0ba36 242px,#f9bb3d 243px,#febe3c 244px,#fdcc32 249px,#f9d72d 255px,#f6df29 271px,#f5e626 302px,#f6ef20 318px,#f8f61a 380px,#f8f719 412px,#f5ec22 484px,#f5e626 494px,#f5e228 497px,#f8da2b 500px,#fec934 502px,#febf3c 503px,#f4ba39 504px,#e6bb2d 505px,#dcbd29 506px,#d8be28 507px,#dbbd29 509px,#e3bc2c 511px,#f9bb3d 516px,#fdbd3d 518px,#febf3b 521px,#fbbc3d 525px,#f5ba3b 527px,#e2bc2b 531px,#ccc028 534px,#bec32e 535px,#a7c73c 536px,#87cb54 537px,#62cd71 538px,#3fca8e 539px,#2cc4a7 540px,#0dbdbc 541px,#05b6ce 542px,#19addc 543px,#259de7 545px,#2698ea 547px,#20a4e3 551px,#18aedb 553px,#04b6cd 555px,#02bac5 556px,#0abdbd 557px,#23c1af 559px,#29c3aa 560px,#2fc5a3 562px,#2dc4a6 564px,#27c2ab 565px,#1ec0b2 566px,#0ebdbb 567px,#01bac5 568px,#07b5d0 569px,#17aeda 570px,#1fa6e2 571px,#317dfc 575px,#3d71ff 576px,#4466fd 577px,#475cfa 578px,#484df0 580px,#4741e5 583px,#4743e7 585px,#484bef 587px,#4660fb 590px,#3d70ff 592px,#2f81fa 594px,#2c8ef1 596px,#2797eb 598px,#269ae9 600px,#2896ec 602px,#2d8af4 604px,#2f82f9 605px,#3579fd 606px,#3f6eff 607px,#4564fd 608px,#4850f3 610px,#473fe2 612px,#4331c6 615px,#422fc3 616px,#4331c8 618px,#463de0 621px,#484aee 623px,#4758f8 625px,#426afe 628px,#3b73fe 631px,#416cfe 634px,#4755f6 638px,#463cde 642px,#4434ce 644px,#4330c5 646px,#4331c6 647px,#4536d3 649px,#4742e6 651px,#4851f4 653px)"></i>
<i style="left:188px;width:4px;background:linear-gradient(#4433cc 46px,#463ddf 51px,#484bef 56px,#475cfa 61px,#426afe 65px,#3975fe 68px,#307ffb 71px,#2a92ee 78px,#259ce7 84px,#23a0e5 89px,#249ee6 94px,#2896ec 99px,#307ffb 107px,#3e6fff 111px,#465efb 116px,#484cef 123px,#4745e9 128px,#4746ea 132px,#484ff1 136px,#4561fc 141px,#416bfe 143px,#3777fe 145px,#2f82f9 147px,#2d8df2 149px,#1ea7e1 154px,#15afd9 156px,#05b6cd 158px,#01b9c7 159px,#05bbc1 160px,#22c1b0 163px,#2dc4a5 165px,#3ac994 169px,#66cd6d 181px,#74cc62 186px,#7acc5e 190px,#78cc5f 193px,#6ecd67 197px,#40ca8d 207px,#37c898 210px,#28c3ab 218px,#25c2ad 222px,#28c2ab 224px,#32c69f 227px,#3cc992 229px,#44cb8a 230px,#68cd6b 233px,#93ca4b 236px,#a1c840 237px,#c5c22a 239px,#d6be28 240px,#e6bb2d 241px,#f2ba38 242px,#fbbc3d 243px,#febf3b 244px,#fcd030 251px,#f8da2b 258px,#f6e028 274px,#f5e526 302px,#f5ef21 316px,#f8f61a 378px,#f8f719 412px,#f5ec23 485px,#f5e526 495px,#f6e028 498px,#f7db2b 500px,#fad52e 501px,#fec139 503px,#f7ba3c 504px,#e9bb30 505px,#dcbd29 506px,#d5be28 507px,#d5be28 508px,#e3bc2c 512px,#f6ba3b 516px,#fbbc3d 518px,#febe3c 522px,#fabc3d 525px,#f5ba3a 527px,#e7bb2e 530px,#d2bf27 533px,#bec32e 535px,#a9c73a 536px,#8bcb51 537px,#66cd6d 538px,#43ca8a 539px,#2ec5a4 540px,#12beb9 541px,#03b7cc 542px,#18aedb 543px,#20a4e3 544px,#2797eb 546px,#2797eb 548px,#23a0e5 551px,#1baade 553px,#15afd9 554px,#01b8ca 556px,#04bbc2 557px,#1cc0b3 559px,#25c2ad 560px,#2dc4a6 562px,#2cc4a7 564px,#28c2ab 565px,#1fc0b2 566px,#10beba 567px,#02bac4 568px,#06b6ce 569px,#15afd9 570px,#1ea7e1 571px,#317efb 575px,#3c72ff 576px,#4367fd 577px,#475dfa 578px,#484df0 580px,#4740e4 583px,#4741e5 585px,#4849ed 587px,#465dfa 590px,#3f6dfe 592px,#307ffb 594px,#2d8cf3 596px,#2895ec 598px,#2698ea 600px,#2995ec 602px,#2d8af4 604px,#2e83f9 605px,#3479fd 606px,#3e6fff 607px,#4465fd 608px,#4851f3 610px,#4539d9 613px,#4331c6 615px,#422fc2 616px,#4331c6 618px,#4537d5 620px,#4849ed 623px,#4757f7 625px,#4269fe 628px,#3c72ff 631px,#416cfe 634px,#4755f6 638px,#463cde 642px,#4434cf 644px,#4331c5 646px,#4330c5 647px,#4535d2 649px,#4849ed 652px,#4758f8 654px)"></i>
<i style="left:192px;width:4px;background:linear-gradient(#4435d1 47px,#4740e4 52px,#4850f2 57px,#4660fc 62px,#3f6fff 66px,#2f80fa 71px,#2a93ee 78px,#259ce7 84px,#239fe5 89px,#259de7 94px,#2994ed 99px,#3080fb 106px,#3d71ff 110px,#465ffb 115px,#484aed 123px,#4744e8 128px,#4745e9 132px,#484ef1 136px,#4562fc 141px,#406cfe 143px,#3677fe 145px,#317dfc 146px,#2c8ef1 149px,#1ea7e1 154px,#14b0d8 156px,#04b6cd 158px,#01b9c7 159px,#05bbc1 160px,#22c1af 163px,#2dc4a5 165px,#3fca8e 171px,#61cd71 180px,#70cd65 185px,#76cc61 189px,#75cc61 192px,#6ecd67 195px,#5fcd73 199px,#3fca8e 206px,#36c799 209px,#2cc4a7 214px,#24c1ae 218px,#21c1b0 222px,#26c2ad 224px,#31c6a0 227px,#3bc992 229px,#43ca8a 230px,#68cd6c 233px,#92ca4b 236px,#a2c840 237px,#c7c12a 239px,#d9be28 240px,#e8bb2f 241px,#f4ba3a 242px,#fcbc3d 243px,#fec03b 244px,#fcd12f 251px,#f8da2b 258px,#f6e028 274px,#f5e526 302px,#f5ef21 316px,#f8f61a 377px,#f8f718 411px,#f5ec22 485px,#f5e626 495px,#f6e128 498px,#f9d62d 501px,#fec438 503px,#fabb3d 504px,#debd29 506px,#d4bf27 507px,#d1bf27 508px,#d5be28 510px,#ddbd29 512px,#f9bb3d 518px,#febd3c 521px,#fabb3d 525px,#f8ba3d 526px,#f0ba36 528px,#e6bb2d 530px,#d8be28 532px,#d0bf27 533px,#bdc32e 535px,#aac73a 536px,#8ecb4e 537px,#6bcd69 538px,#48cb86 539px,#31c6a0 540px,#01b8c9 542px,#16afd9 543px,#20a5e2 544px,#2896eb 546px,#2994ed 548px,#2699e9 550px,#1ea7e1 553px,#1aacdd 554px,#12b1d6 555px,#06b5cf 556px,#01b9c7 557px,#07bcbf 558px,#1fc1b1 560px,#2ac3a9 562px,#2bc3a8 564px,#27c2ab 565px,#20c1b1 566px,#12beb9 567px,#03bbc2 568px,#04b6cd 569px,#13b0d7 570px,#1da9e0 571px,#2d8bf4 574px,#3080fb 575px,#3a73fe 576px,#4368fe 577px,#465efb 578px,#484df0 580px,#473fe3 583px,#4740e3 585px,#4747eb 587px,#475bf9 590px,#416bfe 592px,#327cfc 594px,#2e83f9 595px,#2a93ee 598px,#2797eb 600px,#2994ed 602px,#2d8af5 604px,#2e83f9 605px,#347afd 606px,#4465fd 608px,#4852f4 610px,#4639da 613px,#4331c7 615px,#422fc2 616px,#4330c5 618px,#4536d3 620px,#4747eb 623px,#4755f6 625px,#4368fd 628px,#3c71ff 631px,#416cfe 634px,#4756f6 638px,#4849ed 640px,#4538d7 643px,#4332ca 645px,#4330c5 647px,#4332c9 648px,#4639da 650px,#4848ec 652px,#465dfa 655px)"></i>
<i style="left:196px;width:4px;background:linear-gradient(#4538d7 48px,#4851f3 57px,#465efb 61px,#406cfe 65px,#2f81fa 71px,#2895ec 79px,#249ee6 86px,#249ee6 91px,#2796eb 97px,#2f81fa 105px,#3c72ff 109px,#426afe 111px,#475cfa 115px,#484aed 122px,#4743e7 127px,#4743e7 131px,#484bef 135px,#4562fc 141px,#3b72ff 144px,#317efb 146px,#2c8ff1 149px,#1da8e0 154px,#13b0d7 156px,#03b7cc 158px,#01b9c6 159px,#06bcc0 160px,#23c1af 163px,#2dc4a5 165px,#3eca8f 171px,#63cd70 181px,#6dcd67 185px,#72cd63 189px,#70cd65 192px,#68cd6c 195px,#41ca8c 204px,#37c898 207px,#25c2ad 215px,#1cc0b3 221px,#20c1b1 223px,#2dc4a6 226px,#35c79a 228px,#43ca8a 230px,#67cd6c 233px,#92ca4c 236px,#b6c532 238px,#cac129 239px,#dcbd29 240px,#ebba31 241px,#f6ba3b 242px,#fdbd3d 243px,#fdcb33 248px,#fad42e 253px,#f7dd2a 265px,#f5e427 302px,#f6ef20 318px,#f8f719 377px,#f8f818 410px,#f5ec22 485px,#f5e626 495px,#f6e128 498px,#f9d82c 501px,#fec636 503px,#fcbc3d 504px,#eeba35 505px,#dfbc2a 506px,#d3bf27 507px,#cdc028 508px,#d0c028 510px,#ddbd29 513px,#f2ba38 517px,#f9bb3d 519px,#fdbd3d 522px,#fabb3d 525px,#f8ba3d 526px,#f0ba36 528px,#e5bb2d 530px,#d7be28 532px,#c5c22a 534px,#bbc42f 535px,#abc739 536px,#91ca4c 537px,#4dcb82 539px,#33c79d 540px,#1dc0b3 541px,#01b9c6 542px,#13b0d7 543px,#1fa6e1 544px,#2896ec 546px,#2b91ef 548px,#2699e9 551px,#1da8e0 554px,#18aedb 555px,#03b7cc 557px,#02bac4 558px,#21c1b0 561px,#29c3a9 563px,#27c2ac 565px,#20c1b1 566px,#14beb8 567px,#05bbc1 568px,#02b7cb 569px,#1caadf 571px,#2d8df2 574px,#2f81fa 575px,#3975fe 576px,#4269fe 577px,#484df1 580px,#4742e6 582px,#463ee1 584px,#4741e5 586px,#484bef 588px,#4660fb 591px,#3d70ff 593px,#2f80fa 595px,#2b91ef 598px,#2895ec 600px,#2a93ee 602px,#2d8af5 604px,#337afd 606px,#4466fd 608px,#4853f5 610px,#463adb 613px,#4331c8 615px,#422fc2 616px,#4230c3 618px,#4435d1 620px,#4745ea 623px,#4853f5 625px,#4466fd 628px,#3d70ff 631px,#416cfe 634px,#4756f7 638px,#4849ed 640px,#4538d8 643px,#4332ca 645px,#4330c5 647px,#4331c8 648px,#4539d9 650px,#484ef1 653px,#4562fc 656px)"></i>
<i style="left:200px;width:4px;background:linear-gradient(#463adc 49px,#4852f4 57px,#4563fc 62px,#3f6efe 65px,#327cfc 69px,#2f82f9 71px,#2896ec 79px,#249ee6 86px,#249de6 91px,#2895ec 97px,#2f82fa 104px,#3e6fff 109px,#4661fc 113px,#484ff1 119px,#4742e6 126px,#4741e5 130px,#4848ec 134px,#465efb 140px,#4367fd 142px,#3b73fe 144px,#307ffb 146px,#2c8ff0 149px,#1da8e0 154px,#13b1d7 156px,#02b7cb 158px,#01bac5 159px,#07bcbf 160px,#23c1af 163px,#2dc4a5 165px,#40ca8d 172px,#5ecd74 180px,#69cd6b 184px,#6ecd66 188px,#6ccd68 191px,#62cd71 195px,#3fca8e 203px,#28c2ab 212px,#1bc0b4 217px,#18bfb6 221px,#1ec0b2 223px,#2cc4a7 226px,#35c79b 228px,#43ca8b 230px,#67cd6c 233px,#92ca4c 236px,#b9c431 238px,#ccc028 239px,#debc2a 240px,#edba33 241px,#f8ba3d 242px,#febe3c 243px,#fbd12f 251px,#f8da2b 258px,#f5e427 302px,#f5ee21 316px,#f8f619 375px,#f8f818 409px,#f5ec22 484px,#f5e725 494px,#f5e327 497px,#f8d92c 501px,#fbd12f 502px,#febd3c 504px,#f1ba37 505px,#e1bc2b 506px,#d3bf27 507px,#cac129 508px,#c8c129 509px,#cdc028 511px,#ddbd29 514px,#f6ba3c 519px,#fbbc3d 522px,#f9bb3d 525px,#f3ba39 527px,#eabb30 529px,#d5be28 532px,#ccc028 533px,#b8c431 535px,#aac73a 536px,#92ca4b 537px,#73cd63 538px,#51cc7f 539px,#36c899 540px,#23c1af 541px,#02bac3 542px,#0fb2d5 543px,#1da8e0 544px,#2896ec 546px,#2c8ff1 548px,#2896eb 551px,#20a5e2 554px,#14b0d8 556px,#01b8c9 558px,#04bbc2 559px,#1bc0b4 561px,#26c2ac 563px,#26c2ad 565px,#20c1b1 566px,#06bcc0 568px,#01b8ca 569px,#1aabdd 571px,#2c8ef1 574px,#2e83f9 575px,#3777fe 576px,#416bfe 577px,#4660fb 578px,#484ef1 580px,#4742e6 582px,#463ddf 584px,#4740e3 586px,#4849ed 588px,#465dfb 591px,#3f6dfe 593px,#317efb 595px,#2c8ff1 598px,#2994ed 600px,#2b92ee 602px,#2d89f5 604px,#337bfd 606px,#4367fd 608px,#4854f5 610px,#463bdd 613px,#4332c9 615px,#422fc2 616px,#422fc0 617px,#4331c7 619px,#4538d7 621px,#4744e8 623px,#4852f4 625px,#4465fd 628px,#3e70ff 631px,#416cfe 634px,#4757f7 638px,#484aee 640px,#4639d9 643px,#4432cb 645px,#4230c4 647px,#4331c6 648px,#4538d7 650px,#484df0 653px,#475bfa 655px,#4465fd 657px)"></i>
<i style="left:204px;width:4px;background:linear-gradient(#463ee1 50px,#4756f7 58px,#4464fd 62px,#3e6fff 65px,#2f80fa 70px,#2994ed 78px,#259de7 85px,#249de6 90px,#2895ec 96px,#307ffb 104px,#3d70ff 108px,#4562fc 112px,#484ff2 118px,#4740e4 126px,#4740e4 130px,#4747ec 134px,#4563fc 141px,#3a73fe 144px,#307ffb 146px,#2c90f0 149px,#1ca9e0 154px,#12b1d6 156px,#02b7cb 158px,#02bac5 159px,#08bcbf 160px,#23c1af 163px,#2dc4a5 165px,#3fca8e 172px,#5dcc75 180px,#67cd6d 184px,#6acd6a 187px,#69cd6b 190px,#5fcd73 194px,#3dca90 202px,#26c2ad 211px,#17bfb6 216px,#13beb9 220px,#17bfb6 222px,#26c2ac 225px,#35c79b 228px,#43ca8b 230px,#66cd6d 233px,#82cc57 235px,#92ca4b 236px,#bbc42f 238px,#d0c028 239px,#e1bc2b 240px,#f0ba36 241px,#fabb3d 242px,#febf3c 243px,#fcd030 250px,#f8d92c 257px,#f5e327 301px,#f5ee21 316px,#f8f619 374px,#f8f818 408px,#f5ec22 483px,#f5e725 494px,#f5e327 497px,#f8d92b 501px,#fec934 503px,#febf3c 504px,#f3ba38 505px,#e2bc2b 506px,#d2bf27 507px,#c7c12a 508px,#c3c22b 509px,#ccc028 512px,#ddbd29 515px,#f6ba3b 520px,#fabb3d 522px,#f8ba3d 525px,#e9bb2f 529px,#d3bf27 532px,#cac129 533px,#b4c533 535px,#a7c73c 536px,#93ca4b 537px,#75cc61 538px,#55cc7c 539px,#39c895 540px,#27c2ac 541px,#06bcc0 542px,#0bb3d2 543px,#1caadf 544px,#2796eb 546px,#2d8df2 548px,#2a93ee 551px,#22a1e4 554px,#19acdc 556px,#06b6ce 558px,#01b9c7 559px,#07bcbf 560px,#12beb9 561px,#22c1b0 563px,#24c1ae 565px,#1fc0b2 566px,#08bcbf 568px,#01b8c8 569px,#19addc 571px,#269be8 573px,#3579fd 576px,#406cfe 577px,#4561fc 578px,#4747ec 581px,#463ee1 583px,#463cdf 584px,#473fe2 586px,#4747eb 588px,#475bf9 591px,#416bfe 593px,#337bfc 595px,#2f82fa 596px,#2d8cf3 598px,#2b92ee 600px,#2b91ef 602px,#2d89f5 604px,#337bfc 606px,#3c72ff 607px,#465efb 609px,#484cf0 611px,#463cde 613px,#4332ca 615px,#422ec0 617px,#4330c5 619px,#4537d5 621px,#4742e6 623px,#4757f7 626px,#4369fe 629px,#3e6fff 631px,#406cfe 634px,#4758f8 638px,#484bef 640px,#463ada 643px,#4433cc 645px,#4230c4 647px,#4331c5 648px,#4537d5 650px,#4744e8 652px,#4853f5 654px,#4660fc 656px,#4367fd 658px)"></i>
<i style="left:208px;width:4px;background:linear-gradient(#4742e6 51px,#4758f8 58px,#4465fd 62px,#3d70ff 65px,#2f81fa 70px,#2995ec 78px,#259de7 85px,#259ce7 90px,#2994ed 96px,#2f80fa 103px,#3f6efe 108px,#465ffb 112px,#484df0 118px,#473fe2 126px,#473fe3 130px,#4747eb 134px,#4563fd 141px,#3a74fe 144px,#3080fa 146px,#2b91ef 149px,#1caadf 154px,#18aedb 155px,#01b8ca 158px,#02bac4 159px,#24c1af 163px,#2dc4a6 165px,#3eca8f 172px,#5bcc77 180px,#64cd6f 184px,#67cd6d 187px,#64cd6f 190px,#5ccc76 193px,#3fca8e 200px,#23c1af 210px,#13beb9 215px,#0dbdbc 219px,#14bfb8 222px,#26c2ad 225px,#34c79b 228px,#42ca8b 230px,#66cd6d 233px,#82cc58 235px,#94ca4a 236px,#bec32e 238px,#d3bf27 239px,#e4bb2c 240px,#f2ba38 241px,#fbbc3d 242px,#fec03b 243px,#fcd030 250px,#f8d92c 257px,#f5e227 301px,#f5ee21 316px,#f8f818 407px,#f5ec22 483px,#f5e725 494px,#f5e427 497px,#f8d92b 501px,#fbd42e 502px,#fec03b 504px,#f4ba39 505px,#e3bc2c 506px,#d2bf27 507px,#c4c22b 508px,#bdc32e 509px,#c1c32d 511px,#d7be28 515px,#e3bc2c 517px,#f2ba38 520px,#f7ba3d 522px,#f7ba3c 525px,#e7bb2e 529px,#d1bf27 532px,#c7c12a 533px,#b0c636 535px,#a4c83e 536px,#92ca4c 537px,#77cc60 538px,#58cc79 539px,#3bc992 540px,#2ac3a9 541px,#0abdbd 542px,#07b5cf 543px,#1aabdd 544px,#23a1e5 545px,#2c90f0 547px,#2d8bf4 549px,#2a93ed 552px,#21a3e3 555px,#17aeda 557px,#03b7cc 559px,#02bac4 560px,#1cc0b4 563px,#21c1b1 565px,#1dc0b3 566px,#15bfb8 567px,#08bcbf 568px,#01b9c7 569px,#09b4d1 570px,#18aedb 571px,#1fa5e2 572px,#337bfd 576px,#3f6eff 577px,#4759f8 579px,#4848ec 581px,#463ee1 583px,#463cde 584px,#463de0 586px,#4745e9 588px,#4660fb 592px,#3d70ff 594px,#307ffb 596px,#2c8ef2 599px,#2b91ef 601px,#2d8df2 603px,#2f83f9 605px,#337bfc 606px,#3b72ff 607px,#465ffb 609px,#484df1 611px,#463de0 613px,#4433cc 615px,#422ec0 617px,#4230c3 619px,#4536d3 621px,#4747ec 624px,#4755f6 626px,#4367fd 629px,#3f6eff 631px,#406cfe 634px,#4759f8 638px,#484cf0 640px,#463adc 643px,#4433cc 645px,#4230c4 647px,#4330c5 648px,#4536d3 650px,#4742e6 652px,#4852f4 654px,#4464fd 657px,#4466fd 659px)"></i>
<i style="left:212px;width:4px;background:linear-gradient(#4746ea 52px,#4660fb 60px,#3c72ff 65px,#307ffb 69px,#2c8ff0 75px,#259ce7 84px,#259ce7 89px,#2994ed 95px,#2f81fa 102px,#3e6fff 107px,#465dfa 112px,#484bef 118px,#4742e6 122px,#463ee1 126px,#473ee2 130px,#4747eb 134px,#4563fd 141px,#3974fe 144px,#2f81fa 146px,#2b91ef 149px,#1caadf 154px,#01b8ca 158px,#02bac4 159px,#24c1af 163px,#2dc4a6 165px,#3eca8f 172px,#53cc7d 178px,#5ecc74 182px,#62cd70 186px,#60cd72 189px,#59cc78 192px,#3dc990 199px,#2bc3a8 206px,#1cc0b3 210px,#0cbdbc 215px,#09bcbe 219px,#0dbdbc 221px,#25c2ae 225px,#34c79c 228px,#42ca8b 230px,#65cd6e 233px,#82cc58 235px,#c2c22c 238px,#d6be28 239px,#e7bb2e 240px,#f4ba3a 241px,#fcbd3d 242px,#fec03a 243px,#fcd030 250px,#f8d92b 257px,#f5e228 301px,#f5ee21 316px,#f8f817 406px,#f5ec22 483px,#f5e725 494px,#f5e427 497px,#f8da2b 501px,#fad42e 502px,#fec13a 504px,#f5ba3a 505px,#e4bb2c 506px,#d2bf27 507px,#c2c22c 508px,#b8c431 509px,#b7c531 510px,#bdc32e 512px,#d0c028 515px,#ddbd29 517px,#eeba34 520px,#f6ba3b 523px,#f5ba3a 525px,#ebba31 528px,#d7be28 531px,#c4c22b 533px,#acc738 535px,#8fcb4e 537px,#77cc60 538px,#3dc990 540px,#2cc4a6 541px,#0fbeba 542px,#04b6cd 543px,#19addc 544px,#22a2e4 545px,#2b90ef 547px,#2d89f5 549px,#2b90f0 552px,#1fa5e2 556px,#14b0d8 558px,#01b8c9 560px,#03bbc3 561px,#14bfb8 563px,#1cc0b3 565px,#1ac0b4 566px,#08bcbf 568px,#01b9c7 569px,#08b5d0 570px,#16afda 571px,#1ea7e1 572px,#317dfc 576px,#3d70ff 577px,#4464fd 578px,#475af9 579px,#4849ed 581px,#463ee1 583px,#463bdd 584px,#463cdf 586px,#4744e8 588px,#465dfb 592px,#406dfe 594px,#327cfc 596px,#2e83f9 597px,#2d8cf3 599px,#2c8ff0 601px,#2d8cf3 603px,#2f82f9 605px,#327bfc 606px,#3b73fe 607px,#4660fc 609px,#484ef1 611px,#4538d7 614px,#4330c5 616px,#422fc0 617px,#422fc2 619px,#4435d0 621px,#4746ea 624px,#4854f5 626px,#4466fd 629px,#3e6fff 632px,#4269fe 635px,#4853f5 639px,#4747eb 641px,#4537d5 644px,#4331c7 646px,#4230c4 648px,#4332c8 649px,#463adb 651px,#4849ed 653px,#4758f8 655px,#4466fd 658px,#4564fd 660px)"></i>
<i style="left:216px;width:4px;background:linear-gradient(#484aee 53px,#465efb 59px,#3e6fff 64px,#2f81fa 69px,#2994ed 77px,#259ce7 84px,#259be8 89px,#2994ec 94px,#307ffb 102px,#3d70ff 106px,#465efb 111px,#4849ed 118px,#4741e5 122px,#463cdf 126px,#463ee1 130px,#4746ea 134px,#4564fd 141px,#3975fe 144px,#2f81fa 146px,#2b92ee 149px,#1fa6e2 153px,#16afda 155px,#06b5cf 157px,#01b8c9 158px,#02bac3 159px,#24c1af 163px,#2cc4a6 165px,#3dc990 172px,#51cc7f 178px,#5bcc76 182px,#5ecd74 185px,#5dcc75 188px,#52cc7e 192px,#3fca8e 197px,#2cc4a7 204px,#19bfb5 209px,#0abdbd 213px,#05bbc1 218px,#0abdbd 221px,#1dc0b3 224px,#2fc5a3 227px,#42ca8c 230px,#65cd6e 233px,#83cc57 235px,#aec637 237px,#c5c22a 238px,#dabd28 239px,#eaba31 240px,#f7ba3c 241px,#fdbd3d 242px,#fbd22f 251px,#f8da2b 259px,#f6e128 300px,#f5ef20 318px,#f8f817 404px,#f5ec22 483px,#f5e725 494px,#f5e427 497px,#f8da2b 501px,#fad52e 502px,#fec239 504px,#f6ba3b 505px,#e4bb2c 506px,#d1bf27 507px,#bfc32d 508px,#b3c534 509px,#b0c636 510px,#b6c533 512px,#cfc028 516px,#ddbd29 518px,#edba33 521px,#f2ba38 523px,#f2ba38 525px,#e9bb30 528px,#d5be28 531px,#cbc129 532px,#b5c533 534px,#8bcb51 537px,#75cc61 538px,#3fca8e 540px,#2ec4a4 541px,#14bfb8 542px,#01b7ca 543px,#16aeda 544px,#20a4e3 545px,#2b91ef 547px,#2d88f6 549px,#2d8df2 552px,#22a2e4 556px,#19addc 558px,#06b5ce 560px,#01b9c8 561px,#04bbc1 562px,#13beb8 564px,#17bfb6 565px,#16bfb7 566px,#11beba 567px,#01b9c7 569px,#07b5d0 570px,#15afd9 571px,#1ea8e0 572px,#307efb 576px,#3c72ff 577px,#4466fd 578px,#475bfa 579px,#484aed 581px,#463ee1 583px,#463bdd 584px,#463bdd 586px,#4742e6 588px,#475bf9 592px,#426afe 594px,#3080fa 597px,#2d89f5 599px,#2d8df2 601px,#2d8bf4 603px,#2f82fa 605px,#337bfc 606px,#3b73fe 607px,#4561fc 609px,#4747eb 612px,#4639d9 614px,#4331c6 616px,#422fc1 617px,#422fc1 619px,#4331c6 620px,#4538d7 622px,#4744e8 624px,#4759f8 627px,#426afe 630px,#3f6fff 632px,#426afe 635px,#4854f6 639px,#4848ec 641px,#4537d6 644px,#4331c8 646px,#4230c3 648px,#4331c7 649px,#4539d9 651px,#4747ec 653px,#4757f7 655px,#4466fd 658px,#4367fd 659px,#4660fb 661px)"></i>
<i style="left:220px;width:4px;background:linear-gradient(#484ef1 54px,#4562fc 60px,#3974fe 65px,#2f82fa 69px,#2b91ef 75px,#259be7 84px,#269ae8 89px,#2a93ee 94px,#3080fa 101px,#3f6efe 106px,#465ffb 110px,#484aee 117px,#463cde 125px,#463cde 129px,#4746ea 134px,#4564fd 141px,#3876fe 144px,#2f82fa 146px,#2a93ee 149px,#1babde 154px,#05b6ce 157px,#01b8c8 158px,#02bbc3 159px,#24c1af 163px,#2cc4a7 165px,#3fca8e 173px,#4fcc80 178px,#5acc77 184px,#59cc78 187px,#52cc7e 190px,#3ac994 197px,#26c2ac 204px,#09bcbe 211px,#02bac3 215px,#02bbc3 219px,#0cbdbc 222px,#23c1af 225px,#39c995 229px,#4ccb83 231px,#72cd64 234px,#84cc56 235px,#b2c635 237px,#c9c129 238px,#ddbd29 239px,#edba33 240px,#f9ba3d 241px,#febe3c 242px,#fcd12f 250px,#f8da2b 258px,#f6e028 300px,#f5ef20 318px,#f8f917 403px,#f5ec22 483px,#f5e725 494px,#f5e427 497px,#f8da2b 501px,#fad52e 502px,#fec239 504px,#f7ba3c 505px,#e4bb2c 506px,#d0bf27 507px,#bdc32f 508px,#aec637 509px,#a9c73b 510px,#b2c535 513px,#cfc028 517px,#e3bc2c 520px,#ecba32 522px,#f0ba36 524px,#eeba34 526px,#e7bb2e 528px,#d2bf27 531px,#c8c129 532px,#b0c636 534px,#86cb55 537px,#72cd63 538px,#3fca8e 540px,#2fc5a3 541px,#01b8c8 543px,#14b0d8 544px,#1fa5e2 545px,#2b92ee 547px,#2d8bf4 548px,#2e86f7 550px,#2c8ef1 553px,#21a4e3 557px,#16aeda 559px,#04b6cc 561px,#01b9c6 562px,#10beba 565px,#11beb9 566px,#0dbdbc 567px,#01b9c7 569px,#07b5cf 570px,#14b0d8 571px,#1da9e0 572px,#2d8cf3 575px,#2f80fa 576px,#3a74fe 577px,#4368fd 578px,#475dfa 579px,#484bee 581px,#473ee1 583px,#463adb 585px,#463ddf 587px,#4745e9 589px,#4759f8 592px,#4368fd 594px,#317dfc 597px,#2e87f7 599px,#2d8cf3 601px,#2d8af5 603px,#2f81fa 605px,#3a73fe 607px,#4562fc 609px,#4851f3 611px,#463adb 614px,#4331c8 616px,#422ebf 618px,#4230c4 620px,#4537d5 622px,#4742e6 624px,#4850f3 626px,#4564fd 629px,#3f6eff 632px,#426afe 635px,#4755f6 639px,#4742e6 642px,#4538d7 644px,#4332c9 646px,#422fc3 648px,#4330c5 649px,#4538d7 651px,#4746ea 653px,#4756f6 655px,#4562fc 657px,#4367fd 659px,#4465fd 660px,#475bf9 662px)"></i>
<i style="left:224px;width:4px;background:linear-gradient(#4853f5 55px,#4564fd 60px,#3b72ff 64px,#3080fb 68px,#2d8df2 73px,#2699ea 80px,#259be8 86px,#2a93ed 93px,#2f81fa 100px,#3e6fff 105px,#465dfa 110px,#4743e7 119px,#463bdc 125px,#463bdd 129px,#4746ea 134px,#465ffb 140px,#426afe 142px,#3776fe 144px,#2f82f9 146px,#2c8ef1 148px,#1aacdd 154px,#05b6cd 157px,#01b9c8 158px,#03bbc2 159px,#24c1af 163px,#2cc4a7 165px,#39c895 171px,#4acb84 177px,#56cc7b 183px,#55cc7c 186px,#4fcc81 189px,#24c1ae 203px,#0cbdbc 208px,#03bbc2 211px,#01b9c7 216px,#02bac3 220px,#0abdbd 222px,#29c3aa 226px,#39c895 229px,#4ccb83 231px,#72cd63 234px,#86cb55 235px,#b6c532 237px,#cdc028 238px,#e1bc2b 239px,#f0ba36 240px,#fabb3d 241px,#febf3b 242px,#fcd12f 250px,#f8da2b 258px,#f6df29 299px,#f5ef20 318px,#f8f917 402px,#f5ed22 482px,#f5e725 494px,#f5e427 497px,#f8d92b 501px,#fad52d 502px,#fec239 504px,#f7ba3c 505px,#e4bb2c 506px,#cfc028 507px,#bac430 508px,#aac73a 509px,#a1c840 510px,#a2c840 511px,#aac73a 513px,#cfc028 518px,#e7bb2e 522px,#ecba33 524px,#ebba32 526px,#e5bb2c 528px,#cfc028 531px,#c5c22a 532px,#acc738 534px,#80cc59 537px,#6fcd66 538px,#40ca8d 540px,#30c5a2 541px,#01b9c6 543px,#12b1d6 544px,#1ea7e1 545px,#259ce7 546px,#2d8bf3 548px,#2e85f8 550px,#2d8bf3 553px,#23a0e5 557px,#1aabdd 559px,#02b7cb 562px,#01bac5 563px,#09bcbe 565px,#09bdbe 567px,#01b9c7 569px,#06b5cf 570px,#14b0d8 571px,#1ca9df 572px,#2d8df2 575px,#2f82fa 576px,#3875fe 577px,#4269fe 578px,#465efb 579px,#484cef 581px,#473fe2 583px,#4639da 585px,#463cde 587px,#4744e8 589px,#4756f7 592px,#4465fd 594px,#3a74fe 596px,#2f80fa 598px,#2d8af5 601px,#2d89f6 603px,#2f81fa 605px,#3a73fe 607px,#4563fc 609px,#4852f4 611px,#463bdd 614px,#4332ca 616px,#422ebf 618px,#422fc3 620px,#4535d2 622px,#4747ec 625px,#4756f6 627px,#4367fd 630px,#3f6eff 632px,#416bfe 635px,#4756f7 639px,#4743e8 642px,#4539d9 644px,#4332ca 646px,#422fc2 648px,#4230c4 649px,#4536d5 651px,#484cf0 654px,#475bf9 656px,#4465fd 658px,#4465fd 660px,#4755f6 663px)"></i>
<i style="left:228px;width:4px;background:linear-gradient(#4758f8 56px,#4369fe 61px,#3a73fe 64px,#2f81fa 68px,#2c8ef2 73px,#2699ea 80px,#269ae8 86px,#2a93ed 92px,#2f82fa 99px,#327bfc 101px,#3d70ff 104px,#465efb 109px,#4741e5 119px,#4639da 125px,#463adb 129px,#473fe3 132px,#4849ed 135px,#465ffb 140px,#3d71ff 143px,#317dfc 145px,#2c8ff1 148px,#19acdc 154px,#04b6cd 157px,#01b9c7 158px,#04bbc2 159px,#24c1af 163px,#2bc3a8 165px,#38c896 171px,#48cb86 177px,#52cc7e 183px,#4fcc80 186px,#48cb86 189px,#2cc4a7 199px,#21c1b0 202px,#0cbdbc 206px,#02bbc3 209px,#02b7cb 216px,#02bac5 220px,#09bcbe 222px,#28c3aa 226px,#39c895 229px,#4bcb83 231px,#73cd63 234px,#88cb53 235px,#bac430 237px,#d1bf27 238px,#e4bb2c 239px,#f2ba38 240px,#fbbc3d 241px,#febf3b 242px,#fcd12f 250px,#f8da2b 258px,#f6de29 299px,#f5ec22 312px,#f5ef20 318px,#f8f917 399px,#f5ed22 482px,#f5e725 494px,#f5e427 497px,#f8d92b 501px,#fad52d 502px,#fec339 504px,#f7ba3c 505px,#e4bb2c 506px,#cdc028 507px,#a5c83e 509px,#9ac945 510px,#99c946 511px,#a7c73c 514px,#bfc32d 517px,#cfc028 519px,#ddbd29 521px,#e6bb2d 523px,#e8bb2f 526px,#dcbd29 529px,#ccc028 531px,#c1c32c 532px,#a8c73b 534px,#6acd6a 538px,#3fca8e 540px,#30c5a1 541px,#1cc0b3 542px,#02bac5 543px,#0fb2d5 544px,#1da8e0 545px,#249ee6 546px,#2d8cf3 548px,#2e83f9 550px,#2e86f8 552px,#2b92ee 555px,#19addc 560px,#01b8ca 563px,#04bbc2 565px,#06bcc0 567px,#01b8c8 569px,#07b5cf 570px,#13b0d7 571px,#22a2e4 573px,#2e83f9 576px,#3677fe 577px,#416bfe 578px,#4660fb 579px,#4745e9 582px,#463bdd 584px,#4639d9 585px,#463bdc 587px,#4742e6 589px,#4854f5 592px,#4562fc 594px,#3d71ff 596px,#317efb 598px,#2e86f7 600px,#2d88f6 602px,#2f80fa 605px,#3a73fe 607px,#416bfe 608px,#475bf9 610px,#484bef 612px,#463cdf 614px,#4433cc 616px,#422ec0 618px,#422fc1 620px,#4434d0 622px,#4746ea 625px,#4854f5 627px,#4466fd 630px,#3f6eff 633px,#4367fd 636px,#465dfb 638px,#4851f4 640px,#4639da 644px,#4332cb 646px,#422fc2 648px,#422fc3 649px,#4535d2 651px,#4742e6 653px,#4853f4 655px,#4660fc 657px,#4367fd 659px,#4562fc 661px,#484ff2 664px)"></i>
<i style="left:232px;width:4px;background:linear-gradient(#475cfa 57px,#426afe 61px,#3975fe 64px,#2f82fa 68px,#2c8ef1 73px,#2698ea 80px,#2699e9 86px,#2b92ef 92px,#3080fb 99px,#3f6dfe 104px,#475cfa 109px,#4742e6 118px,#4639d9 124px,#4539d8 128px,#463ddf 131px,#4849ed 135px,#4660fb 140px,#3c71ff 143px,#317efb 145px,#2c8ff0 148px,#1da9e0 153px,#13b0d7 155px,#03b7cc 157px,#01b9c7 158px,#05bbc1 159px,#23c1af 163px,#2bc3a8 165px,#43ca8a 176px,#4dcc82 182px,#4bcb83 185px,#45cb89 188px,#2dc4a6 197px,#22c1af 200px,#0dbdbc 204px,#02bac3 207px,#02b7cb 211px,#05b6ce 215px,#03b7cb 218px,#02bac3 221px,#0ebdbb 223px,#28c3ab 226px,#39c895 229px,#4bcb83 231px,#64cd6f 233px,#75cc61 234px,#bec32e 237px,#d5be28 238px,#e7bb2e 239px,#f5ba3a 240px,#fcbd3d 241px,#fec03b 242px,#fbd12f 250px,#f8da2b 258px,#f6dd29 298px,#f5ec22 312px,#f5ef20 318px,#f8f917 397px,#f7f51b 436px,#f5ed22 482px,#f5e725 494px,#f5e427 497px,#f8d92c 501px,#fad52d 502px,#fec338 504px,#f7ba3c 505px,#e3bc2c 506px,#ccc028 507px,#a0c841 509px,#93ca4b 510px,#90ca4d 511px,#92ca4b 512px,#9dc943 514px,#c8c129 519px,#d6be28 521px,#e1bc2b 523px,#e5bb2d 526px,#dfbc2a 528px,#d2bf27 530px,#c9c129 531px,#b1c635 533px,#94ca4a 535px,#65cd6e 538px,#3eca8f 540px,#30c5a1 541px,#1dc0b3 542px,#02bac4 543px,#1ca9df 545px,#249fe6 546px,#2d8cf3 548px,#2e86f7 549px,#2f82fa 551px,#2d8af5 554px,#249fe6 558px,#17aeda 561px,#06b5cf 563px,#01b8ca 564px,#02bac4 566px,#01bac5 568px,#01b8ca 569px,#07b5d0 570px,#13b0d7 571px,#22a2e4 573px,#2e85f8 576px,#3579fd 577px,#406cfe 578px,#4757f7 580px,#4746ea 582px,#463bdd 584px,#4539d9 585px,#463ada 587px,#4740e4 589px,#4759f8 593px,#4367fd 595px,#327bfc 598px,#2e84f9 600px,#2e87f7 602px,#3080fb 605px,#3a73fe 607px,#416cfe 608px,#475cfa 610px,#484cf0 612px,#4538d7 615px,#4331c6 617px,#422fc0 618px,#422ec0 620px,#4330c5 621px,#4537d7 623px,#4744e8 625px,#4759f8 628px,#426afe 631px,#3f6eff 633px,#4368fe 636px,#4853f4 640px,#463adc 644px,#4433cc 646px,#422fc2 648px,#422fc2 649px,#4331c6 650px,#4639da 652px,#4851f3 655px,#465ffb 657px,#4466fd 659px,#4563fd 661px,#4758f8 663px,#4848ec 665px)"></i>
<i style="left:236px;width:4px;background:linear-gradient(#4561fc 58px,#416bfe 61px,#3876fe 64px,#3080fb 67px,#2c8ff1 73px,#2798ea 80px,#2698ea 86px,#2c90f0 92px,#2f80fa 98px,#3f6fff 103px,#465dfa 108px,#4742e6 117px,#4539d9 123px,#4537d6 127px,#463cdf 131px,#4745e9 134px,#4660fc 140px,#3c72ff 143px,#307ffb 145px,#2c90f0 148px,#18addb 154px,#03b7cb 157px,#01b9c6 158px,#05bbc1 159px,#16bfb7 161px,#23c1af 163px,#2cc4a6 166px,#41ca8c 176px,#49cb86 182px,#41ca8c 187px,#2bc3a8 196px,#24c1ae 198px,#0ebdbb 202px,#02bac3 205px,#01b8ca 208px,#05b6cd 210px,#09b4d1 215px,#05b6ce 218px,#02bac5 221px,#0cbdbc 223px,#20c1b1 225px,#2ec4a5 227px,#41ca8d 230px,#58cc79 232px,#65cd6e 233px,#77cc60 234px,#a9c73a 236px,#c3c22b 237px,#d9be28 238px,#eaba31 239px,#f7ba3c 240px,#fdbd3d 241px,#fcd030 249px,#f8d92b 257px,#f7dc2a 297px,#f5ef21 317px,#f8f917 394px,#f7f61a 433px,#f5ed22 481px,#f5e725 494px,#f5e427 497px,#f8d92c 501px,#fad52e 502px,#fec338 504px,#f7ba3c 505px,#e3bc2c 506px,#cbc129 507px,#9bc945 509px,#8ccb50 510px,#87cb54 511px,#89cb53 512px,#93ca4b 514px,#b6c532 518px,#c8c129 520px,#dbbd29 523px,#e1bc2b 526px,#d6be28 529px,#c5c22a 531px,#adc638 533px,#7fcc5a 536px,#4fcc80 539px,#1dc0b3 542px,#02bbc3 543px,#0cb3d3 544px,#1caadf 545px,#23a0e5 546px,#2d8df2 548px,#2e86f7 549px,#2f80fa 551px,#2e87f7 554px,#2b90ef 556px,#23a1e4 559px,#15afd8 562px,#06b6ce 564px,#01b7ca 565px,#01b9c8 566px,#01b9c8 568px,#02b7cb 569px,#09b4d1 570px,#1baade 572px,#269ae8 574px,#337afd 577px,#3f6eff 578px,#4758f8 580px,#4747eb 582px,#463bdd 584px,#4539d9 585px,#4539d9 587px,#473fe2 589px,#4756f7 593px,#4464fd 595px,#3b72ff 597px,#317efb 599px,#2e85f8 602px,#307ffb 605px,#3a73fe 607px,#406cfe 608px,#465dfa 610px,#4746ea 613px,#4539d9 615px,#4331c7 617px,#422ebe 619px,#4230c3 621px,#4536d4 623px,#4742e6 625px,#4757f7 628px,#4369fe 631px,#3f6eff 633px,#4269fe 636px,#4854f5 640px,#4747eb 642px,#4537d5 645px,#4331c6 647px,#422fc1 649px,#4230c4 650px,#4538d7 652px,#484ff2 655px,#465dfb 657px,#4466fd 659px,#4466fd 660px,#465ffb 662px,#4852f4 664px,#4742e6 666px)"></i>
<i style="left:240px;width:4px;background:linear-gradient(#4466fd 59px,#3a74fe 63px,#317efb 66px,#2c8ff0 73px,#2797ea 79px,#2798ea 85px,#2c90f0 91px,#2f81fa 97px,#406cfe 103px,#4757f8 109px,#4741e5 117px,#4538d7 123px,#4536d5 127px,#463cde 131px,#4745e9 134px,#4561fc 140px,#3b73fe 143px,#3080fb 145px,#2b91ef 148px,#1caadf 153px,#17aedb 154px,#02b7cb 157px,#01bac5 158px,#06bcc0 159px,#16bfb7 161px,#22c1af 163px,#2cc4a7 166px,#3fca8e 176px,#44cb89 182px,#3cc991 187px,#2cc4a7 194px,#20c1b1 197px,#0abdbd 201px,#02bac3 203px,#02b7cb 206px,#08b5d0 209px,#0eb2d4 214px,#07b5d0 218px,#01b8ca 220px,#01b9c6 221px,#0bbdbd 223px,#1fc0b2 225px,#2ec4a5 227px,#41ca8c 230px,#59cc79 232px,#66cd6d 233px,#7acc5e 234px,#aec637 236px,#c7c12a 237px,#ddbd29 238px,#edba33 239px,#f9bb3d 240px,#febe3c 241px,#fbd22f 250px,#f8d92b 257px,#f8da2b 293px,#f7dd2a 299px,#f5ee21 316px,#f8f917 391px,#f8f61a 431px,#f5ed22 481px,#f5e725 494px,#f5e427 497px,#f8d82c 501px,#fad42e 502px,#fec338 504px,#f7ba3c 505px,#e2bc2b 506px,#c9c129 507px,#96ca48 509px,#85cb55 510px,#7ecc5b 511px,#7fcc5a 512px,#89cb53 514px,#b6c532 519px,#c8c129 521px,#d9bd28 524px,#ddbd29 526px,#dcbd29 527px,#d3bf27 529px,#cbc029 530px,#c2c22c 531px,#a9c73a 533px,#7acc5e 536px,#4bcb84 539px,#2fc5a3 541px,#1dc0b3 542px,#03bbc3 543px,#0bb4d2 544px,#1babde 545px,#23a0e5 546px,#2d8df2 548px,#2e86f7 549px,#307efb 551px,#2e84f8 554px,#2a93ee 557px,#19addc 562px,#0bb3d2 564px,#06b5ce 565px,#01b8ca 567px,#04b6cd 569px,#0ab4d2 570px,#1baade 572px,#259be8 574px,#327cfc 577px,#3e70ff 578px,#4464fd 579px,#475af9 580px,#4741e5 583px,#4539d9 585px,#4537d6 586px,#463adb 588px,#4742e6 590px,#4854f5 593px,#4562fc 595px,#3e6fff 597px,#327bfc 599px,#2e84f9 602px,#317efb 605px,#3a73fe 607px,#465efb 610px,#4747eb 613px,#463adb 615px,#4332c9 617px,#422ebf 619px,#422fc2 621px,#4435d1 623px,#4747eb 626px,#4755f6 628px,#4367fd 631px,#3f6eff 634px,#4466fd 637px,#4755f6 640px,#4742e6 643px,#4537d7 645px,#4331c7 647px,#422fc0 649px,#422fc3 650px,#4536d4 652px,#4744e9 654px,#4755f6 656px,#4561fc 658px,#4466fd 660px,#4660fc 662px,#4853f5 664px,#463cde 667px)"></i>
<i style="left:244px;width:4px;background:linear-gradient(#416bfe 60px,#307ffb 66px,#2c90f0 73px,#2797eb 79px,#2797eb 85px,#2b90f0 90px,#2f82fa 96px,#3975fe 100px,#426afe 103px,#4755f6 109px,#473fe3 117px,#4537d5 123px,#4536d3 127px,#463bde 131px,#4745e9 134px,#4561fc 140px,#3a74fe 143px,#2f80fa 145px,#2b92ee 148px,#1baade 153px,#01b8ca 157px,#02bac5 158px,#0dbdbb 160px,#22c1b0 163px,#2bc3a8 166px,#3bc992 175px,#40ca8d 181px,#3ac994 186px,#2ac3a9 193px,#22c1af 195px,#0bbdbd 199px,#02bbc3 201px,#02b7cb 204px,#0cb3d3 208px,#12b1d6 211px,#12b1d7 215px,#0ab4d1 218px,#02b7cb 220px,#01b9c7 221px,#03bbc2 222px,#0abdbd 223px,#1fc0b2 225px,#2ec4a4 227px,#39c895 229px,#4dcc82 231px,#68cd6b 233px,#7ecc5b 234px,#b2c535 236px,#cbc029 237px,#e0bc2a 238px,#f0ba36 239px,#fabb3d 240px,#febe3c 241px,#fbd22f 250px,#f8d92b 257px,#f8d92b 292px,#f7dc2a 299px,#f5ee21 315px,#f8f917 389px,#f8f619 430px,#f5ed22 480px,#f5e725 494px,#f5e327 497px,#f9d82c 501px,#fad42e 502px,#fec338 504px,#f7ba3c 505px,#e2bc2b 506px,#c8c129 507px,#92ca4c 509px,#7ecc5a 510px,#75cc62 511px,#75cc61 512px,#7ecc5b 514px,#8ecb4e 516px,#b7c532 520px,#c8c129 522px,#d4bf27 524px,#d8be28 526px,#d7be28 527px,#cfc028 529px,#bec32e 531px,#a5c83d 533px,#64cd6f 537px,#39c895 540px,#2ec5a4 541px,#1dc0b3 542px,#03bbc3 543px,#0ab4d2 544px,#1babde 545px,#23a1e4 546px,#2c8ef2 548px,#2e86f8 549px,#317dfc 551px,#2f82fa 554px,#2c8ff0 557px,#20a5e2 561px,#12b1d6 564px,#06b5cf 566px,#04b6cd 567px,#06b5cf 569px,#0cb3d3 570px,#1baade 572px,#259be7 574px,#317dfc 577px,#3c71ff 578px,#4466fd 579px,#475bf9 580px,#4742e6 583px,#4539d9 585px,#4537d6 586px,#4539d9 588px,#4740e3 590px,#465ffb 595px,#3b73fe 598px,#317dfc 600px,#2f82fa 603px,#3579fd 606px,#406dfe 608px,#465efb 610px,#4848ec 613px,#463bdd 615px,#4433cb 617px,#422ebf 619px,#412ebe 620px,#4331c6 622px,#4538d8 624px,#4745e9 626px,#4853f5 628px,#4466fd 631px,#3f6efe 634px,#4367fd 637px,#4756f7 640px,#4743e7 643px,#4538d8 645px,#4332c8 647px,#422fc0 649px,#422fc1 650px,#4435d1 652px,#4742e6 654px,#4853f4 656px,#4660fb 658px,#4466fd 660px,#4561fc 662px,#4755f6 664px,#4745e9 666px,#4537d6 668px)"></i>
<i style="left:248px;width:4px;background:linear-gradient(#3e6fff 61px,#3080fa 66px,#2b92ef 74px,#2797ea 80px,#2896eb 85px,#2c8ff1 90px,#3080fa 96px,#3876fe 99px,#4368fd 103px,#4853f5 109px,#463ee1 117px,#4536d3 123px,#4435d1 127px,#463bdd 131px,#4745e9 134px,#4562fc 140px,#3975fe 143px,#2f81fa 145px,#2d8df2 147px,#1aabdd 153px,#01b8ca 157px,#02bac4 158px,#0ebdbb 160px,#21c1b0 163px,#2cc4a6 167px,#39c994 175px,#3dc990 180px,#39c895 184px,#2bc3a8 191px,#24c1ae 193px,#08bcbf 198px,#02bac5 200px,#02b7cb 202px,#13b1d7 208px,#17aeda 212px,#15afd9 215px,#0cb3d3 218px,#01b9c8 221px,#02bbc3 222px,#0abdbe 223px,#1fc0b2 225px,#2ec4a4 227px,#3ac994 229px,#4fcc81 231px,#6bcd69 233px,#82cc58 234px,#b7c532 236px,#cfc028 237px,#e3bc2c 238px,#f2ba38 239px,#fbbc3d 240px,#febf3c 241px,#fbd22f 250px,#f8d92c 257px,#f8d92c 292px,#f7db2a 298px,#f5ee21 315px,#f8f917 386px,#f8f719 428px,#f5ed22 480px,#f5e725 494px,#f5e327 497px,#f9d72c 501px,#fdcd32 503px,#fec339 504px,#f6ba3c 505px,#e1bc2b 506px,#c6c22a 507px,#8ecb4f 509px,#78cc5f 510px,#6ccd68 511px,#6ecd67 513px,#7acc5d 515px,#b7c532 521px,#cdc028 524px,#d3bf27 526px,#d3bf27 527px,#cbc029 529px,#bbc430 531px,#a2c840 533px,#70cd65 536px,#51cc7f 538px,#37c897 540px,#2dc4a5 541px,#1cc0b4 542px,#03bbc3 543px,#0ab4d1 544px,#1aabdd 545px,#22a1e4 546px,#2c8ef2 548px,#2e85f8 549px,#327bfc 551px,#337bfd 552px,#2f83f9 555px,#2b91ef 558px,#17aeda 564px,#08b4d0 567px,#09b4d1 569px,#0fb2d4 570px,#1caadf 572px,#259ce7 574px,#307ffb 577px,#3b73fe 578px,#4367fd 579px,#475cfa 580px,#4743e7 583px,#4539d9 585px,#4537d5 586px,#4538d7 588px,#473ee1 590px,#484ff2 593px,#4563fd 596px,#3d70ff 598px,#337bfd 600px,#2f81fa 603px,#3579fd 606px,#4466fd 609px,#4758f8 611px,#484aee 613px,#463cdf 615px,#4433cd 617px,#422fc0 619px,#422ebf 621px,#4230c4 622px,#4537d5 624px,#4743e7 626px,#4758f8 629px,#4269fe 632px,#3f6efe 634px,#4367fd 637px,#465efb 639px,#4852f4 641px,#4745e9 643px,#4639da 645px,#4332ca 647px,#422fc0 649px,#422ec0 650px,#4330c5 651px,#4539d9 653px,#4850f3 656px,#4563fd 659px,#4466fd 661px,#4757f7 664px,#4747eb 666px,#4434cf 669px)"></i>
<i style="left:252px;width:4px;background:linear-gradient(#3a74fe 62px,#2f81fa 66px,#2b92ee 74px,#2797eb 80px,#2995ec 85px,#2d8df2 90px,#2f81fa 95px,#3a74fe 99px,#4269fe 102px,#4852f4 109px,#463cdf 117px,#4435d1 123px,#4435d0 127px,#463bdd 131px,#4745e9 134px,#4563fc 140px,#3875fe 143px,#2f82f9 145px,#2c8ef1 147px,#1aacdd 153px,#01b8c9 157px,#02bac4 158px,#0ebdbb 160px,#20c1b1 163px,#2bc3a8 167px,#36c898 174px,#3ac994 180px,#36c799 184px,#2cc4a7 189px,#21c1b0 192px,#0abdbe 196px,#02bac4 198px,#01b8ca 200px,#16afd9 207px,#1aacdd 211px,#18aedb 215px,#0fb2d4 218px,#01b8c8 221px,#02bac3 222px,#28c3ab 226px,#3bc993 229px,#45cb89 230px,#5ecc74 232px,#6fcd66 233px,#bbc42f 236px,#d3bf27 237px,#e6bb2d 238px,#f4ba39 239px,#fcbc3d 240px,#febf3b 241px,#fbd22f 250px,#f8d92c 257px,#f9d82c 291px,#f7db2b 298px,#f5e924 309px,#f5ee21 315px,#f8f917 384px,#f8f719 427px,#f5ed21 479px,#f5e725 494px,#f5e327 497px,#f9d72c 501px,#fdcd32 503px,#fec339 504px,#f6ba3b 505px,#e0bc2b 506px,#c5c22a 507px,#8acb52 509px,#72cd64 510px,#64cd6e 511px,#62cd71 512px,#64cd6f 513px,#6fcd66 515px,#aec637 521px,#c6c22a 524px,#cec028 526px,#ccc028 528px,#c0c32d 530px,#acc739 532px,#9ec942 533px,#6dcd68 536px,#4dcc82 538px,#3fca8e 539px,#2cc4a6 541px,#1bc0b4 542px,#02bbc3 543px,#09b4d1 544px,#1aabdd 545px,#22a1e4 546px,#2c8ef2 548px,#317efb 550px,#3579fd 552px,#327cfc 554px,#2e84f9 556px,#2c8ef1 558px,#1aacdd 564px,#0bb3d2 568px,#11b1d6 570px,#1caadf 572px,#259ce7 574px,#3080fa 577px,#3974fe 578px,#4369fe 579px,#465efb 580px,#4744e8 583px,#4537d5 586px,#4537d6 588px,#463ddf 590px,#484df0 593px,#4661fc 596px,#3578fd 600px,#307ffb 603px,#3578fd 606px,#4367fd 609px,#4759f8 611px,#4744e8 614px,#4538d8 616px,#4331c7 618px,#422ebe 620px,#422fc2 622px,#4435d2 624px,#4848ec 627px,#4756f7 629px,#4368fd 632px,#406dfe 634px,#4368fe 637px,#4853f5 641px,#4746eb 643px,#463bdc 645px,#4433cb 647px,#422fc0 649px,#422ebf 650px,#422fc2 651px,#4537d5 653px,#484ef1 656px,#475cfa 658px,#4465fd 660px,#4563fd 662px,#4852f4 665px,#463bdc 668px,#4332c9 670px)"></i>
<i style="left:256px;width:4px;background:linear-gradient(#3579fd 63px,#2f82fa 66px,#2a93ed 75px,#2796eb 80px,#2994ed 85px,#2f82fa 94px,#3975fe 98px,#4563fd 103px,#4853f5 108px,#463de0 116px,#4435d0 122px,#4434ce 126px,#4536d4 129px,#4741e5 133px,#465efb 139px,#3e70ff 142px,#317dfc 144px,#20a4e3 151px,#19acdc 153px,#05b6cd 156px,#01b8c8 157px,#02bac4 158px,#0ebdbb 160px,#1ec0b2 163px,#2cc4a6 168px,#35c79a 174px,#37c897 179px,#34c79c 183px,#2ac3a8 188px,#23c1af 190px,#02bbc3 196px,#01b8c9 198px,#12b1d7 203px,#19addc 206px,#1caadf 211px,#1aacdd 215px,#10b2d5 218px,#01b8c9 221px,#02bac3 222px,#09bdbe 223px,#29c3aa 226px,#3cc991 229px,#47cb87 230px,#61cd71 232px,#73cd63 233px,#a6c83d 235px,#c0c32d 236px,#d7be28 237px,#e9bb2f 238px,#f6ba3b 239px,#fcbd3d 240px,#febf3b 241px,#fbd22f 250px,#f8d92c 257px,#f9d62d 290px,#f8d92b 297px,#f5ee21 314px,#f8f917 383px,#f8f817 418px,#f5ed22 480px,#f5e426 496px,#fbd32f 502px,#fec239 504px,#f6ba3b 505px,#e0bc2a 506px,#c4c22b 507px,#a4c83e 508px,#86cb55 509px,#6dcd68 510px,#5dcc74 511px,#59cc78 512px,#5bcc77 513px,#65cd6e 515px,#77cc60 517px,#a4c83e 521px,#b7c531 523px,#c4c22a 525px,#c8c129 526px,#c7c129 528px,#bdc42f 530px,#a8c73b 532px,#9ac945 533px,#69cd6b 536px,#4acb85 538px,#3dc990 539px,#2cc4a7 541px,#1ac0b5 542px,#02bbc3 543px,#09b4d1 544px,#1aacdd 545px,#22a2e4 546px,#2c8ef2 548px,#317dfb 550px,#3776fe 552px,#3579fd 554px,#2e85f8 557px,#2c90f0 559px,#19acdc 565px,#10b2d5 568px,#10b2d5 569px,#18aedb 571px,#21a4e3 573px,#2995ec 575px,#2f81fa 577px,#3876fe 578px,#426afe 579px,#4756f6 581px,#4744e9 583px,#4536d4 586px,#4536d4 588px,#463bdd 590px,#484aee 593px,#465efb 596px,#416bfe 598px,#3876fe 600px,#317efb 603px,#3578fd 606px,#4368fe 609px,#475af9 611px,#484cf0 613px,#463ada 616px,#4332c9 618px,#422ebf 620px,#412ebe 621px,#4331c6 623px,#4538d8 625px,#4745e9 627px,#4854f5 629px,#4466fd 632px,#406dfe 635px,#4465fd 638px,#4755f6 641px,#4742e6 644px,#4537d6 646px,#4331c6 648px,#422ebf 650px,#422fc0 651px,#4435d1 653px,#4742e7 655px,#4853f4 657px,#4564fd 660px,#4465fd 661px,#4660fc 663px,#484cf0 666px,#4537d5 669px,#4330c5 671px)"></i>
<i style="left:260px;width:4px;background:linear-gradient(#317dfc 64px,#2d8cf3 70px,#2a93ed 75px,#2896ec 80px,#2a93ee 85px,#3080fb 94px,#3b73fe 98px,#4465fd 102px,#4851f3 108px,#463cde 116px,#4434ce 122px,#4433cc 126px,#4536d4 129px,#4741e5 133px,#465efb 139px,#3d71ff 142px,#317efb 144px,#2c90f0 147px,#19addc 153px,#04b6cd 156px,#02bac3 158px,#07bcbf 159px,#19bfb5 162px,#29c3aa 167px,#32c69e 173px,#35c79a 178px,#32c69e 182px,#2cc4a7 186px,#21c1b0 189px,#09bdbe 193px,#02bac5 195px,#02b7cb 197px,#12b1d6 201px,#1ca9e0 207px,#1ea7e1 212px,#19addc 216px,#12b1d6 218px,#01b8c9 221px,#02bac3 222px,#0abdbd 223px,#22c1b0 225px,#3eca8f 229px,#65cd6e 232px,#78cc5f 233px,#abc739 235px,#c4c22b 236px,#dabd28 237px,#ebba31 238px,#f7ba3c 239px,#fdbd3d 240px,#fec239 242px,#fcd030 249px,#f9d82c 256px,#f9d62d 292px,#f8d92b 297px,#f5ec23 311px,#f6ef20 320px,#f9fa16 400px,#f5ed22 479px,#f5e427 496px,#fbd22f 502px,#fec239 504px,#f6ba3b 505px,#e0bc2a 506px,#c3c22b 507px,#a3c83f 508px,#82cc57 509px,#68cd6c 510px,#57cc7a 511px,#50cc7f 512px,#55cc7c 514px,#62cd70 516px,#76cc60 518px,#a5c83d 522px,#b7c532 524px,#c1c32c 526px,#c3c22b 527px,#bfc32d 529px,#b0c636 531px,#97ca48 533px,#66cd6d 536px,#47cb87 538px,#3bc992 539px,#2ac3a8 541px,#19bfb5 542px,#02bbc3 543px,#09b4d1 544px,#1aacdd 545px,#2d8df2 548px,#327cfc 550px,#3a74fe 552px,#3876fe 554px,#2f82fa 557px,#2b92ee 560px,#1caadf 565px,#13b0d7 569px,#19addc 571px,#21a4e3 573px,#2895ec 575px,#2f82f9 577px,#416cfe 579px,#4757f7 581px,#473fe2 584px,#4536d4 586px,#4435d1 587px,#4537d5 589px,#463de0 591px,#484ef1 594px,#4562fc 597px,#3678fd 601px,#317dfc 604px,#3a74fe 607px,#4369fe 609px,#475bfa 611px,#4747eb 614px,#463bdc 616px,#4433cb 618px,#422ebf 620px,#422ebf 622px,#4230c3 623px,#4537d5 625px,#4743e7 627px,#4758f8 630px,#4369fe 633px,#406dfe 635px,#4466fd 638px,#475cfa 640px,#4850f3 642px,#4743e8 644px,#4538d8 646px,#4331c8 648px,#422ebf 650px,#422ebf 651px,#4230c4 652px,#4539d9 654px,#4848ec 656px,#4757f7 658px,#4465fd 661px,#4562fc 663px,#484ff2 666px,#4539d8 669px,#4331c7 671px,#4230c3 672px)"></i>
<i style="left:264px;width:4px;background:linear-gradient(#2f81fa 65px,#2d8cf3 70px,#2a93ed 75px,#2895ec 80px,#2b91ef 85px,#2f81fa 93px,#3974fe 97px,#4563fc 102px,#4853f4 107px,#463cdf 115px,#4434ce 121px,#4433cb 126px,#4536d3 129px,#4742e6 133px,#465ffb 139px,#3c72ff 142px,#307ffb 144px,#2b91ef 147px,#1caadf 152px,#12b1d6 154px,#03b6cc 156px,#02bac3 158px,#07bcbf 159px,#17bfb6 162px,#28c2ab 167px,#31c6a0 173px,#33c69d 178px,#30c5a2 182px,#27c2ac 186px,#1fc0b2 188px,#03bbc3 193px,#01b9c6 194px,#01b8ca 195px,#14b0d8 200px,#1caadf 204px,#20a5e3 210px,#1caadf 215px,#13b1d7 218px,#01b8c9 221px,#02bbc3 222px,#0bbdbc 223px,#24c1af 225px,#38c896 228px,#4dcc82 230px,#69cd6a 232px,#7ecc5b 233px,#b0c636 235px,#c8c129 236px,#ddbd29 237px,#edba33 238px,#f8ba3d 239px,#fdbd3d 240px,#fec239 242px,#fcd030 249px,#f9d82c 256px,#fad52d 290px,#f9d82c 296px,#f5e227 303px,#f5ed22 313px,#f7f51b 350px,#f9fa16 406px,#f5ed22 478px,#f5e327 496px,#fbd12f 502px,#fec239 504px,#f6ba3b 505px,#dfbc2a 506px,#c2c22c 507px,#a1c840 508px,#7fcc5a 509px,#63cd6f 510px,#51cc7f 511px,#48cb86 512px,#4bcb83 514px,#58cc79 516px,#6bcd69 518px,#9bc945 522px,#b5c533 525px,#bdc32e 527px,#bac430 529px,#acc738 531px,#94ca4a 533px,#63cd6f 536px,#45cb89 538px,#39c994 539px,#2ac3a9 541px,#18bfb6 542px,#02bac3 543px,#09b4d1 544px,#1aacdd 545px,#22a2e4 546px,#2d8df2 548px,#2e83f9 549px,#3975fe 551px,#3c71ff 552px,#3b73fe 554px,#307efb 557px,#249ee6 563px,#1baade 566px,#16afd9 569px,#1aacdd 571px,#21a3e3 573px,#2896ec 575px,#2e83f9 577px,#406dfe 579px,#4758f8 581px,#473fe3 584px,#4536d5 586px,#4435d0 587px,#4536d3 589px,#463cde 591px,#484cef 594px,#465ffb 597px,#3876fe 601px,#327cfc 604px,#3a74fe 607px,#4269fe 609px,#4756f7 612px,#4742e6 615px,#4537d6 617px,#4331c6 619px,#412ebd 621px,#422fc1 623px,#4435d1 625px,#4747ec 628px,#4756f6 630px,#4367fd 633px,#406cfe 635px,#4367fd 638px,#4852f4 642px,#4745e9 644px,#4435d2 647px,#4230c3 649px,#412ebe 651px,#422fc1 652px,#4536d4 654px,#4744e9 656px,#4854f5 658px,#4564fd 661px,#4465fd 662px,#465efb 664px,#484aee 667px,#4535d2 670px,#4230c4 672px,#4230c4 673px)"></i>
<i style="left:268px;width:4px;background:linear-gradient(#2e84f8 66px,#2c8ef1 71px,#2994ed 76px,#2995ec 80px,#2b90ef 85px,#307ffb 93px,#3b72fe 97px,#4465fd 101px,#4851f3 107px,#463bdd 115px,#4433cd 121px,#4332ca 126px,#4538d7 130px,#4742e6 133px,#4660fb 139px,#3b73fe 142px,#2f80fa 144px,#2b92ee 147px,#1fa6e2 151px,#17aeda 153px,#03b7cc 156px,#02bbc3 158px,#15bfb7 162px,#24c1ae 166px,#2dc4a5 171px,#31c6a0 177px,#2dc4a6 182px,#25c2ad 185px,#02bac4 192px,#02b7cb 194px,#16afda 199px,#1fa6e1 204px,#22a2e4 210px,#1da9e0 215px,#18aedb 217px,#01b8c8 221px,#04bbc2 222px,#26c2ad 225px,#2dc4a5 226px,#3bc993 228px,#52cc7e 230px,#6fcd66 232px,#84cc56 233px,#b5c533 235px,#ccc028 236px,#dfbc2a 237px,#eeba34 238px,#f9ba3d 239px,#fdbd3d 240px,#fec239 242px,#fcd030 249px,#f9d82c 256px,#fad42e 289px,#f9d72d 295px,#f5e227 303px,#f5ed21 313px,#f7f51b 351px,#f9fa16 406px,#f5ed21 477px,#f5e626 486px,#f5e327 496px,#fcd030 502px,#fec239 504px,#f5ba3b 505px,#dfbc2a 506px,#c2c22c 507px,#a0c941 508px,#7dcc5c 509px,#60cd73 510px,#4ccb83 511px,#42ca8c 512px,#40ca8d 513px,#47cb87 515px,#56cc7b 517px,#6bcd69 519px,#9bc944 523px,#adc638 525px,#b6c532 527px,#b5c533 529px,#a8c73b 531px,#91ca4c 533px,#61cd71 536px,#43ca8a 538px,#38c896 539px,#29c3aa 541px,#18bfb6 542px,#02bac3 543px,#09b4d1 544px,#1aacdd 545px,#22a2e4 546px,#2d8df2 548px,#2e83f9 549px,#3b73fe 551px,#3f6eff 553px,#3b72ff 555px,#3080fa 558px,#259be7 563px,#1da8e0 566px,#18addb 569px,#1aabdd 571px,#21a3e3 573px,#2896eb 575px,#347afd 578px,#3f6fff 579px,#475af9 581px,#4740e4 584px,#4435d0 587px,#4435d1 589px,#463adb 591px,#484aed 594px,#465dfa 597px,#4269fe 599px,#3a74fe 601px,#337bfd 604px,#3974fe 607px,#4464fd 610px,#4757f8 612px,#4744e8 615px,#4538d8 617px,#4331c8 619px,#412ebe 621px,#412dbd 622px,#4330c5 624px,#4538d8 626px,#4745e9 628px,#4853f5 630px,#4465fd 633px,#416cfe 635px,#4368fe 638px,#4854f5 642px,#4741e5 645px,#4536d4 647px,#4330c5 649px,#412dbd 651px,#422ebf 652px,#4434cf 654px,#4741e5 656px,#4851f3 658px,#465efb 660px,#4464fd 662px,#4660fc 664px,#4854f5 666px,#4745e9 668px,#4537d6 670px,#4330c5 672px,#422fc2 673px,#4330c5 674px)"></i>
<i style="left:272px;width:4px;background:linear-gradient(#2e87f7 67px,#2994ed 76px,#2994ed 80px,#2c8ff0 85px,#2f81fa 92px,#3a74fe 96px,#4563fc 101px,#4850f2 107px,#463cdf 114px,#4433cd 120px,#4331c8 125px,#4434ce 128px,#463ee1 132px,#4850f3 136px,#4561fc 139px,#3a74fe 142px,#2f81fa 144px,#2d8df2 146px,#1ea7e1 151px,#16afd9 153px,#03b7cb 156px,#02bac3 158px,#18bfb6 163px,#25c2ae 167px,#2cc4a7 171px,#2fc5a2 176px,#2cc4a7 181px,#24c1ae 184px,#09bcbe 189px,#01bac5 191px,#03b7cc 193px,#18aedb 198px,#20a5e3 203px,#23a0e5 209px,#1fa5e2 214px,#18addb 217px,#04b6cd 220px,#01b9c7 221px,#05bbc1 222px,#28c3ab 225px,#3eca90 228px,#49cb85 229px,#75cc61 232px,#b9c430 235px,#cfc028 236px,#e1bc2b 237px,#f0ba36 238px,#f9bb3d 239px,#fdbd3d 240px,#fec239 242px,#fcd030 249px,#f9d72d 255px,#fbd22f 281px,#fbd32e 290px,#f9d62d 295px,#f5e327 303px,#f5ee21 314px,#f8f818 367px,#f9fa15 398px,#f5ee21 475px,#f5e526 486px,#f5e427 494px,#f6e028 497px,#f9d72c 500px,#fdca33 503px,#fec239 504px,#f5ba3b 505px,#dfbc2a 506px,#c1c32c 507px,#9ec942 508px,#7acc5d 509px,#5ccc75 510px,#47cb87 511px,#3cc991 512px,#3bc992 514px,#44cb8a 516px,#5fcd73 519px,#91ca4c 523px,#a4c83e 525px,#afc636 527px,#afc636 529px,#a4c83e 531px,#8ecb4f 533px,#5fcd73 536px,#42ca8c 538px,#28c3ab 541px,#18bfb6 542px,#02bbc3 543px,#08b4d1 544px,#1aacdd 545px,#22a2e4 546px,#2d8cf3 548px,#2f82fa 549px,#3d71ff 551px,#416bfe 553px,#3f6eff 555px,#327cfc 558px,#2798ea 563px,#1fa5e2 566px,#1aabdd 569px,#1ea7e1 572px,#2797eb 575px,#327bfc 578px,#3d70ff 579px,#475bf9 581px,#4741e5 584px,#4434d0 587px,#4434cf 589px,#463cdf 592px,#484df1 595px,#4661fc 598px,#3c71ff 601px,#347afd 604px,#3975fe 607px,#4466fd 610px,#4759f8 612px,#4745e9 615px,#463ada 617px,#4332ca 619px,#422ebe 621px,#412ebe 623px,#422fc3 624px,#4536d4 626px,#4742e6 628px,#4757f7 631px,#4367fd 634px,#416cfe 636px,#4465fd 639px,#4850f2 643px,#4743e7 645px,#4538d7 647px,#4331c6 649px,#412dbd 651px,#412dbd 652px,#422fc2 653px,#4537d6 655px,#484ef1 658px,#475bfa 660px,#4563fd 662px,#4561fc 664px,#4850f2 667px,#463ada 670px,#4331c7 672px,#422fc2 673px,#422fc3 674px,#4331c7 675px)"></i>
<i style="left:276px;width:4px;background:linear-gradient(#2d8af5 68px,#2994ed 76px,#2b91ef 83px,#307ffb 92px,#3b72fe 96px,#4465fd 100px,#4851f4 106px,#463bdd 114px,#4433cb 120px,#4331c6 125px,#4434ce 128px,#473ee1 132px,#475cfa 138px,#3f6eff 141px,#327cfc 143px,#21a3e3 150px,#15afd9 153px,#02b7cb 156px,#02bac3 158px,#23c1af 167px,#2cc4a7 172px,#2dc4a5 176px,#2cc4a7 179px,#26c2ad 182px,#19bfb5 185px,#03bbc3 189px,#01b8ca 191px,#19addc 197px,#22a1e4 203px,#249de7 209px,#20a5e3 214px,#18addb 217px,#03b7cc 220px,#01b9c6 221px,#08bcbf 222px,#21c1b0 224px,#31c6a0 226px,#42ca8c 228px,#4fcc81 229px,#7ccc5c 232px,#bec32e 235px,#d2bf27 236px,#e3bb2c 237px,#f1ba36 238px,#f9bb3d 239px,#fdbd3d 240px,#fec239 242px,#fbd22f 250px,#f9d72c 256px,#fcd12f 281px,#fad42e 293px,#f5e327 303px,#f5ed21 313px,#f8f818 366px,#f9fa15 398px,#f5ed21 476px,#f5e526 485px,#f5e128 496px,#fccf31 502px,#fec13a 504px,#f5ba3a 505px,#dfbc2a 506px,#c1c32c 507px,#9dc943 508px,#79cc5f 509px,#59cc78 510px,#43ca8a 511px,#38c896 512px,#35c79a 513px,#36c899 514px,#42ca8c 517px,#55cc7c 519px,#86cb55 523px,#9bc945 525px,#a8c73b 527px,#aac73a 529px,#9fc941 531px,#8acb51 533px,#5ecc74 536px,#40ca8d 538px,#28c2ab 541px,#18bfb6 542px,#02bbc3 543px,#08b4d0 544px,#19acdc 545px,#22a2e4 546px,#2d8cf3 548px,#2f81fa 549px,#3e6fff 551px,#4368fe 553px,#3f6eff 556px,#3678fd 558px,#317efb 559px,#2895ec 563px,#21a3e4 566px,#1caadf 569px,#1ea7e1 572px,#2797eb 575px,#317dfc 578px,#4367fd 580px,#4853f5 582px,#463cde 585px,#4434cf 587px,#4433cc 588px,#4435d0 590px,#463adc 592px,#484bee 595px,#465efb 598px,#3a74fe 602px,#3579fd 605px,#3c71ff 608px,#4561fc 611px,#4854f5 613px,#4747eb 615px,#4536d4 618px,#4330c4 620px,#412dbc 622px,#422fc0 624px,#4435d0 626px,#4746eb 629px,#4854f6 631px,#4466fd 634px,#416bfe 636px,#4466fd 639px,#4852f4 643px,#4745e9 645px,#4435d1 648px,#422fc2 650px,#412dbc 652px,#422ebf 653px,#4435d1 655px,#484aee 658px,#4758f8 660px,#4562fc 662px,#4562fc 664px,#4853f5 667px,#4744e8 669px,#4536d5 671px,#4230c4 673px,#422fc1 674px,#4332c9 676px)"></i>
<i style="left:280px;width:4px;background:linear-gradient(#2d8cf3 69px,#2994ed 76px,#2b90ef 83px,#2f81fa 91px,#3974fe 95px,#4563fd 100px,#484df0 107px,#463adb 114px,#4332ca 120px,#4330c5 125px,#4433cd 128px,#473ee2 132px,#475dfa 138px,#3e6fff 141px,#317dfc 143px,#20a4e3 150px,#19acdc 152px,#02b7cb 156px,#02bac4 158px,#24c1af 168px,#2cc4a7 176px,#25c2ae 181px,#18bfb6 184px,#02bac3 188px,#01b9c7 189px,#01b7ca 190px,#1aacdd 196px,#259de7 204px,#259ce7 210px,#1ea7e1 215px,#18aedb 217px,#02b7cb 220px,#02bac4 221px,#0abdbd 222px,#25c2ad 224px,#3cc992 227px,#47cb87 228px,#83cc57 232px,#adc638 234px,#c2c22c 235px,#d5be28 236px,#e5bb2d 237px,#f1ba37 238px,#fabb3d 239px,#fdbd3d 240px,#fec239 242px,#fbd12f 250px,#f9d72d 256px,#fcd030 280px,#fbd32e 292px,#f5e227 302px,#f5ed21 313px,#f8f818 366px,#f9fa15 397px,#f8f718 426px,#f5ed22 476px,#f5e426 485px,#f6e028 496px,#fdce31 502px,#fec13a 504px,#f5ba3a 505px,#dfbc2a 506px,#c1c32c 507px,#9dc943 508px,#77cc60 509px,#57cc7a 510px,#3fca8e 511px,#35c79a 512px,#31c6a0 513px,#32c69f 514px,#36c799 516px,#40ca8d 518px,#55cc7c 520px,#91ca4c 525px,#a0c841 527px,#a3c83e 529px,#9ac945 531px,#87cb54 533px,#3fca8e 538px,#27c2ac 541px,#18bfb6 542px,#03bbc3 543px,#07b5d0 544px,#19acdc 545px,#22a2e4 546px,#2d8bf3 548px,#2f80fa 549px,#406dfe 551px,#4465fd 553px,#416afe 556px,#347afd 559px,#2797eb 564px,#21a4e3 567px,#1da9e0 570px,#1fa6e2 572px,#2797ea 575px,#317efb 578px,#3b73fe 579px,#4368fe 580px,#4854f6 582px,#463ddf 585px,#4434cf 587px,#4433cb 588px,#4433cd 590px,#4539d9 592px,#4848ec 595px,#475bfa 598px,#3c72ff 602px,#3578fd 605px,#3c72ff 608px,#4562fc 611px,#4756f6 613px,#4742e6 616px,#4537d7 618px,#4331c6 620px,#412dbd 622px,#412dbc 623px,#4230c4 625px,#463de0 628px,#4852f4 631px,#4563fd 634px,#426afe 636px,#4367fd 639px,#4854f5 643px,#4741e5 646px,#4536d4 648px,#4230c4 650px,#412dbc 652px,#412dbd 653px,#422fc3 654px,#4538d7 656px,#484ef1 659px,#475bf9 661px,#4562fc 663px,#4660fc 665px,#484ff2 668px,#4639d9 671px,#4331c6 673px,#422fc1 674px,#422fc1 675px,#4433cc 677px)"></i>
<i style="left:284px;width:4px;background:linear-gradient(#2c8ef1 70px,#2994ed 77px,#2c8ef1 84px,#307ffb 91px,#3b73fe 95px,#4465fd 99px,#4852f4 105px,#463bdd 113px,#4331c8 120px,#4230c4 125px,#4433cd 128px,#473fe2 132px,#465efb 138px,#3d71ff 141px,#307efb 143px,#2b90ef 146px,#20a5e3 150px,#19addc 152px,#06b5cf 155px,#01b9c7 157px,#04bbc2 159px,#24c1af 169px,#29c3aa 175px,#23c1af 180px,#02bac4 187px,#01b9c7 188px,#06b5cf 190px,#18addb 194px,#23a0e5 200px,#269ae9 204px,#2699ea 209px,#21a3e3 214px,#17aedb 217px,#01b8c9 220px,#03bbc2 221px,#28c3aa 224px,#40ca8d 227px,#6acd6a 230px,#8bcb51 232px,#b2c535 234px,#c6c22a 235px,#d8be28 236px,#e7bb2d 237px,#f2ba38 238px,#fabb3d 239px,#fdbd3d 240px,#fec239 242px,#fcd12f 250px,#f9d62d 256px,#fccf30 279px,#fbd22f 291px,#f5e227 302px,#f5ed21 313px,#f8f818 366px,#f9fa15 397px,#f8f718 425px,#f5ed22 475px,#f5e427 484px,#f6df29 496px,#fcd030 501px,#fec835 503px,#fec03a 504px,#f4ba3a 505px,#debc2a 506px,#c0c32d 507px,#9cc944 508px,#75cc61 509px,#54cc7c 510px,#3dc990 511px,#33c69e 512px,#2ec4a4 513px,#2dc4a5 514px,#31c6a0 516px,#39c895 518px,#4acb85 520px,#7bcc5d 524px,#90ca4d 526px,#9cc944 528px,#9dc943 529px,#95ca49 531px,#83cc57 533px,#3fca8e 538px,#27c2ac 541px,#18bfb6 542px,#03bbc2 543px,#07b5cf 544px,#19addc 545px,#22a2e4 546px,#307ffb 549px,#3a74fe 550px,#416bfe 551px,#4562fc 553px,#4367fd 556px,#3876fe 559px,#2f82f9 561px,#2994ed 564px,#22a1e4 567px,#1ea7e1 570px,#1fa5e2 572px,#2798ea 575px,#307ffb 578px,#3974fe 579px,#426afe 580px,#4756f7 582px,#463de0 585px,#4434d0 587px,#4332cb 588px,#4433cb 590px,#4537d6 592px,#4746ea 595px,#4759f8 598px,#3e70ff 602px,#3678fe 605px,#3b72fe 608px,#4564fd 611px,#4757f7 613px,#4744e8 616px,#4539d9 618px,#4331c8 620px,#412dbd 622px,#412dbd 624px,#422fc1 625px,#4535d2 627px,#4741e5 629px,#484ff2 631px,#475cfa 633px,#4369fe 636px,#4368fe 639px,#4756f6 643px,#4743e7 646px,#4538d7 648px,#4331c6 650px,#412dbc 652px,#412dbc 653px,#422ebf 654px,#4535d2 656px,#484aee 659px,#4758f8 661px,#4661fc 663px,#4561fc 665px,#4852f4 668px,#463cde 671px,#422fc3 674px,#422ec0 675px,#422fc2 676px,#4434cf 678px)"></i>
<i style="left:288px;width:4px;background:linear-gradient(#2c90f0 71px,#2a93ed 77px,#2d8df2 84px,#317efb 91px,#3c71ff 95px,#4564fd 99px,#484df1 106px,#463adc 113px,#4332c9 119px,#422fc3 124px,#4332c9 127px,#463bdd 131px,#484ef1 135px,#465ffb 138px,#3b72ff 141px,#3080fb 143px,#2b92ef 146px,#1fa5e2 150px,#18addb 152px,#06b5cf 155px,#01b9c8 157px,#02bbc3 159px,#1abfb5 166px,#23c1af 170px,#27c2ac 176px,#1ec0b2 180px,#05bbc1 185px,#01b9c8 187px,#06b5cf 189px,#16afd9 192px,#1da8e0 195px,#2699e9 202px,#2895ec 207px,#269ae8 211px,#1ea7e1 215px,#16aeda 217px,#05b6ce 219px,#01b9c7 220px,#07bcc0 221px,#22c1af 223px,#3ac993 226px,#46cb88 227px,#72cd63 230px,#92ca4b 232px,#b8c431 234px,#cac129 235px,#dabd28 236px,#e8bb2e 237px,#f2ba38 238px,#fabb3d 239px,#fdbd3d 240px,#fec438 243px,#fcd12f 250px,#f9d62d 256px,#fdce31 278px,#fbd12f 290px,#f5e327 302px,#f5ed21 313px,#f8f818 367px,#f9fa15 398px,#f5ed22 474px,#f5e327 484px,#f6de29 496px,#fccf30 501px,#fec735 503px,#fec03b 504px,#f4ba39 505px,#debd29 506px,#c0c32d 507px,#9bc944 508px,#74cc62 509px,#53cc7e 510px,#3bc993 511px,#30c5a1 512px,#2ac3a9 513px,#29c3a9 515px,#2fc5a2 517px,#39c895 519px,#4bcb84 521px,#70cd65 524px,#86cb54 526px,#94ca4a 528px,#95ca4a 530px,#90ca4d 531px,#7fcc5a 533px,#66cd6d 535px,#3eca8f 538px,#26c2ac 541px,#18bfb6 542px,#04bbc1 543px,#06b5cf 544px,#18addb 545px,#21a3e4 546px,#307ffb 549px,#3b73fe 550px,#4269fe 551px,#465ffb 553px,#4660fc 555px,#4367fd 557px,#3678fd 560px,#307ffb 561px,#2b91ef 564px,#249fe6 567px,#1fa6e2 570px,#22a1e4 573px,#2798ea 575px,#3080fa 578px,#416bfe 580px,#4757f7 582px,#473ee2 585px,#4332ca 588px,#4332c9 590px,#4639d9 593px,#4849ed 596px,#475dfa 599px,#3c72ff 603px,#3777fe 606px,#3e6fff 609px,#465ffb 612px,#4853f5 614px,#4746ea 616px,#4536d3 619px,#4230c3 621px,#412dbb 623px,#422ebf 625px,#4434ce 627px,#4745e9 630px,#4852f4 632px,#4563fd 635px,#4269fe 637px,#4466fd 640px,#4852f4 644px,#4745e9 646px,#4435d1 649px,#422fc2 651px,#412dbb 653px,#412dbd 654px,#4433cc 656px,#473fe2 658px,#484ef1 660px,#465ffb 663px,#4561fc 665px,#465ffb 666px,#484ef1 669px,#4539d9 672px,#4331c6 674px,#422fc0 675px,#422ebf 676px,#422fc3 677px,#4536d2 679px)"></i>
<i style="left:292px;width:4px;background:linear-gradient(#2b91ef 72px,#2a93ee 78px,#2d8df2 84px,#317dfc 91px,#3d70ff 95px,#4563fc 99px,#484cf0 106px,#4639da 113px,#4331c7 119px,#422fc2 124px,#4332c9 127px,#463cde 131px,#4854f5 136px,#406cfe 140px,#2f81fa 143px,#22a2e4 149px,#18aedb 152px,#02b7cb 156px,#02bac4 159px,#1dc0b3 168px,#23c1af 172px,#24c1ae 176px,#19bfb5 180px,#05bbc1 184px,#01b8c8 186px,#07b5cf 188px,#16afda 191px,#1ea7e1 194px,#2797ea 201px,#2a93ee 206px,#2797eb 210px,#21a3e3 214px,#15afd9 217px,#03b7cc 219px,#02bac5 220px,#0bbdbd 221px,#27c2ac 223px,#3fca8e 226px,#7bcc5d 230px,#bdc32e 234px,#cec028 235px,#dcbd29 236px,#e9bb2f 237px,#f3ba38 238px,#f9bb3d 239px,#fdbd3d 240px,#fdce31 248px,#fad52e 254px,#fad52d 261px,#fdce31 277px,#fccf30 286px,#fbd22f 291px,#f5e228 301px,#f5ed21 312px,#f9fa15 389px,#f8f818 421px,#f5ed21 473px,#f5e228 484px,#f6de29 495px,#fbd22f 500px,#fec636 503px,#febf3c 504px,#f3ba38 505px,#ddbd29 506px,#bfc32d 507px,#9bc945 508px,#73cd63 509px,#51cc7f 510px,#39c895 511px,#2ec5a4 512px,#26c2ad 513px,#21c1b0 514px,#26c2ad 516px,#2ec5a4 518px,#39c895 520px,#41ca8c 521px,#71cd64 525px,#85cb55 527px,#8ecb4e 529px,#8ecb4f 530px,#8bcb51 531px,#7bcc5d 533px,#64cd6f 535px,#3dca90 538px,#26c2ad 541px,#19bfb6 542px,#05bbc1 543px,#05b6ce 544px,#18aedb 545px,#21a3e3 546px,#317efb 549px,#3c71ff 550px,#4367fd 551px,#475cfa 553px,#465ffb 556px,#4368fd 558px,#3a74fe 560px,#2f81fa 562px,#259ce7 567px,#20a4e3 570px,#21a3e3 572px,#249de7 574px,#2b91ef 576px,#2f81fa 578px,#406dfe 580px,#4759f8 582px,#473fe3 585px,#4435d1 587px,#4331c6 589px,#4332ca 591px,#4537d6 593px,#4747eb 596px,#475af9 599px,#3d70ff 603px,#3777fe 606px,#3d70ff 609px,#4561fc 612px,#4755f6 614px,#4741e5 617px,#4537d5 619px,#4330c5 621px,#412dbb 623px,#412cbb 624px,#422fc2 626px,#463cde 629px,#4850f2 632px,#475cfa 634px,#4368fe 637px,#4466fd 640px,#4854f5 644px,#4741e5 647px,#4537d5 649px,#4230c4 651px,#412dbb 653px,#412dbb 654px,#422ebf 655px,#4535d2 657px,#484aed 660px,#4757f7 662px,#4660fb 664px,#4660fb 666px,#4851f4 669px,#4743e7 671px,#4536d4 673px,#422fc2 675px,#422ebe 676px,#4230c4 678px,#4537d5 680px)"></i>
<i style="left:296px;width:4px;background:linear-gradient(#2b92ee 73px,#2b92ee 79px,#2d8af4 85px,#327cfc 91px,#3e6fff 95px,#4465fd 98px,#484ef1 105px,#463bdc 112px,#4331c6 119px,#422fc1 124px,#4332c9 127px,#463cdf 131px,#4755f6 136px,#4561fc 138px,#3f6efe 140px,#327cfc 142px,#2f82f9 143px,#2c8ef1 145px,#22a2e4 149px,#17aedb 152px,#03b7cc 156px,#02bbc3 160px,#1ac0b4 168px,#21c1b1 172px,#20c1b1 176px,#18bfb6 179px,#05bbc1 183px,#01b8c8 185px,#07b5d0 187px,#17aeda 190px,#1fa6e1 193px,#2994ed 201px,#2c90f0 206px,#2896ec 210px,#1da8e0 215px,#13b0d7 217px,#01b8ca 219px,#04bbc2 220px,#20c1b1 222px,#2bc3a8 223px,#3ac993 225px,#46cb88 226px,#84cc57 230px,#c2c22c 234px,#d1bf27 235px,#dfbc2a 236px,#eabb30 237px,#f9bb3d 239px,#fdbd3d 240px,#fdcd31 248px,#fad52e 255px,#fdcd32 277px,#fcd030 289px,#f5e227 301px,#f5ed22 311px,#f9fa15 390px,#f8f818 421px,#f5ed21 472px,#f6e028 484px,#f7dd2a 495px,#fcd030 500px,#fec537 503px,#febe3c 504px,#f2ba38 505px,#ddbd29 506px,#bfc32d 507px,#9ac945 508px,#72cd63 509px,#4fcc80 510px,#37c897 511px,#2cc4a6 512px,#21c1b0 513px,#1abfb5 514px,#1ac0b5 515px,#23c1af 517px,#2ec4a4 519px,#39c995 521px,#42ca8b 522px,#66cd6d 525px,#7bcc5d 527px,#87cb54 529px,#87cb54 530px,#7fcc5a 532px,#6dcd68 534px,#3dc991 538px,#26c2ad 541px,#19bfb5 542px,#06bcc0 543px,#04b6cd 544px,#17aeda 545px,#21a3e3 546px,#317dfc 549px,#3d70ff 550px,#4465fd 551px,#4759f8 553px,#4759f8 555px,#465ffb 557px,#4269fe 559px,#3776fe 561px,#317dfc 562px,#269ae9 567px,#22a2e4 570px,#22a2e4 572px,#259de7 574px,#2b92ee 576px,#2f82f9 578px,#3f6eff 580px,#475af9 582px,#4740e4 585px,#4535d2 587px,#4331c6 589px,#4331c7 591px,#4639da 594px,#484bee 597px,#4757f7 599px,#3f6eff 603px,#3876fe 606px,#3c71ff 609px,#4563fc 612px,#4756f7 614px,#4743e7 617px,#4538d8 619px,#4331c7 621px,#412dbc 623px,#412dbb 625px,#422ec0 626px,#4435d0 628px,#473fe3 630px,#484df0 632px,#4759f8 634px,#4366fd 637px,#4367fd 640px,#4756f6 644px,#4743e8 647px,#4538d8 649px,#422fc0 652px,#412cba 654px,#412dbc 655px,#4230c3 656px,#4538d8 658px,#4746ea 660px,#4854f5 662px,#465dfb 664px,#4660fc 666px,#465efb 667px,#484ef1 670px,#4639d9 673px,#4331c5 675px,#422ebf 676px,#412ebe 677px,#422fc0 678px,#4331c6 679px,#4538d8 681px)"></i>
<i style="left:300px;width:4px;background:linear-gradient(#2a92ee 74px,#2b92ee 79px,#2d8af5 85px,#317efb 90px,#3c71ff 94px,#4564fd 98px,#484df0 105px,#463adb 112px,#4230c4 119px,#422fc0 124px,#4332c9 127px,#463de0 131px,#4756f7 136px,#4562fc 138px,#3e6fff 140px,#317dfc 142px,#21a3e3 149px,#17aeda 152px,#03b7cc 156px,#01b8ca 157px,#02bac4 160px,#1abfb5 169px,#1ec0b2 175px,#13beb9 179px,#04bbc1 182px,#01b8c8 184px,#07b5d0 186px,#17aeda 189px,#21a3e3 193px,#2b92ee 200px,#2d8df2 205px,#2b92ee 209px,#20a4e3 214px,#18addb 216px,#06b5ce 218px,#01b9c7 219px,#08bcbe 220px,#26c2ad 222px,#40ca8d 225px,#6dcd68 228px,#8ccb50 230px,#a9c73a 232px,#c7c12a 234px,#d4bf28 235px,#ebba31 237px,#f9bb3d 239px,#fdbd3d 240px,#fccf31 249px,#fad42e 255px,#fdcc32 276px,#fccf30 288px,#f5e327 301px,#f5ed22 311px,#f9fa15 390px,#f8f818 422px,#f5ed22 472px,#f6df29 484px,#f7db2a 495px,#fbd22f 499px,#fdbd3d 504px,#f1ba37 505px,#dcbd29 506px,#bec32e 507px,#99c946 508px,#71cd64 509px,#4ecc81 510px,#36c898 511px,#2ac3a8 512px,#1cc0b3 513px,#11beb9 514px,#10beba 515px,#13beb8 516px,#28c2ab 519px,#3ac993 522px,#71cd64 527px,#7ecc5a 529px,#80cc59 530px,#7acc5e 532px,#69cd6b 534px,#3cc991 538px,#25c2ad 541px,#19bfb5 542px,#07bcc0 543px,#04b6cc 544px,#16afd9 545px,#20a4e3 546px,#317dfc 549px,#3e6fff 550px,#4564fd 551px,#4756f7 553px,#4758f8 556px,#4465fd 559px,#3b72ff 561px,#2f80fa 563px,#2797eb 567px,#23a0e5 570px,#22a1e4 572px,#259ce7 574px,#2b92ee 576px,#2e83f9 578px,#347afd 579px,#3e6fff 580px,#4465fd 581px,#4852f4 583px,#463bdc 586px,#4332cb 588px,#4330c5 589px,#4330c5 591px,#4538d7 594px,#4848ec 597px,#475bf9 600px,#3d70ff 604px,#3876fe 607px,#3f6eff 610px,#465efb 613px,#4852f4 615px,#4745e9 617px,#4435d1 620px,#422fc2 622px,#412cba 624px,#412ebd 626px,#4537d6 629px,#4743e7 631px,#4850f3 633px,#475cfa 635px,#4465fd 637px,#4367fd 640px,#4561fc 642px,#4852f4 645px,#4740e3 648px,#4536d2 650px,#422fc2 652px,#412cba 654px,#412cba 655px,#422ebf 656px,#4535d2 658px,#4849ed 661px,#4756f7 663px,#465efb 665px,#465ffb 667px,#4851f3 670px,#4743e7 672px,#4536d4 674px,#422fc2 676px,#412ebd 677px,#422fc1 679px,#463adb 682px)"></i>
<i style="left:304px;width:4px;background:linear-gradient(#2a93ee 75px,#2b90ef 80px,#2e87f7 86px,#317dfc 90px,#3a73fe 93px,#4562fc 98px,#484cef 105px,#4539d9 112px,#4330c5 118px,#422ebf 123px,#4330c5 126px,#463ee1 131px,#484cf0 134px,#465dfb 137px,#3d71ff 140px,#307efb 142px,#239fe5 148px,#16aeda 152px,#07b5d0 155px,#02b7cb 157px,#02bbc3 161px,#19bfb5 170px,#1ac0b5 175px,#15bfb7 177px,#04bbc2 181px,#01b8c8 183px,#07b5d0 185px,#17aedb 188px,#21a2e4 192px,#2c8ef1 200px,#2d8af4 205px,#2b91ef 209px,#23a0e5 213px,#16aeda 216px,#03b7cc 218px,#02bac3 219px,#1fc0b2 221px,#2bc3a8 222px,#3bc993 224px,#56cc7a 226px,#95ca49 230px,#bec32e 233px,#cbc029 234px,#d7be28 235px,#ebba32 237px,#f9bb3d 239px,#febe3c 241px,#fdce31 249px,#fad42e 255px,#fdcb33 275px,#fdce31 287px,#f5e227 300px,#f5ed22 311px,#f9fa15 390px,#f8f818 422px,#f5ed22 471px,#f6de29 483px,#f8da2b 495px,#fbd32e 498px,#fec239 503px,#fcbc3d 504px,#f0ba36 505px,#dbbd28 506px,#bdc32e 507px,#98c947 508px,#70cd65 509px,#4ccb83 510px,#35c79a 511px,#28c3aa 512px,#17bfb6 513px,#0abdbd 514px,#08bcbf 515px,#0ebdbb 517px,#1fc1b1 519px,#3cc992 523px,#67cd6c 527px,#76cc61 529px,#79cc5f 530px,#74cc62 532px,#65cd6e 534px,#3bc992 538px,#25c2ad 541px,#18bfb6 542px,#07bcbf 543px,#03b7cc 544px,#15afd9 545px,#20a5e3 546px,#327cfc 549px,#3f6eff 550px,#4562fc 551px,#4853f5 553px,#4852f4 554px,#4855f6 556px,#4367fd 560px,#3875fe 562px,#2e83f9 564px,#2994ed 567px,#249ee6 570px,#23a0e5 572px,#259ce7 574px,#2a92ee 576px,#337bfc 579px,#4367fd 581px,#4854f5 583px,#463cde 586px,#4433cb 588px,#422fc2 590px,#4331c6 592px,#4536d3 594px,#4745ea 597px,#4759f8 600px,#3f6fff 604px,#3875fe 607px,#3e6fff 610px,#4660fb 613px,#4854f5 615px,#4747eb 617px,#4536d4 620px,#412ebe 623px,#412cb9 625px,#422fc1 627px,#4535d2 629px,#4740e4 631px,#484df1 633px,#4759f9 635px,#4466fd 638px,#4465fd 641px,#4854f5 645px,#4742e6 648px,#4537d6 650px,#422ebe 653px,#412cb9 655px,#4230c3 657px,#4538d7 659px,#4745e9 661px,#4853f4 663px,#475cfa 665px,#465ffb 667px,#465dfa 668px,#484df1 671px,#4740e3 673px,#4434cf 675px,#422ebf 677px,#412dbc 678px,#422fc2 680px,#463bdd 683px)"></i>
<i style="left:308px;width:4px;background:linear-gradient(#2a93ee 76px,#2c8ef2 82px,#2f81fa 88px,#3b72ff 93px,#4561fc 98px,#484bee 105px,#4538d8 112px,#4230c4 118px,#422ebe 123px,#4330c5 126px,#463adc 130px,#4853f5 135px,#416bfe 139px,#3080fa 142px,#259ce7 147px,#1aacdd 151px,#07b5d0 155px,#01b8ca 158px,#02bac4 161px,#16bfb7 170px,#18bfb6 173px,#16bfb7 175px,#04bbc2 180px,#01b8c8 182px,#07b5d0 184px,#18aedb 187px,#22a2e4 191px,#2d8df3 199px,#2e87f7 204px,#2d8df2 208px,#22a1e4 213px,#14b0d8 216px,#01b8c9 218px,#06bcc0 219px,#25c2ad 221px,#41ca8d 224px,#5fcd73 226px,#9ec942 230px,#c4c22b 233px,#d0c028 234px,#dabd28 235px,#ecba33 237px,#f9ba3d 239px,#febe3c 241px,#fdcc32 248px,#fbd32e 254px,#feca33 274px,#fdce31 287px,#f5e327 300px,#f5ed22 310px,#f9fa15 390px,#f8f818 422px,#f5ed21 470px,#f7dd2a 483px,#f9d82c 495px,#fccf31 499px,#fec03a 503px,#fbbc3d 504px,#eeba34 505px,#d9be28 506px,#bcc42f 507px,#97ca48 508px,#6ecd66 509px,#4bcb84 510px,#34c79b 511px,#26c2ac 512px,#12beb9 513px,#05bbc1 514px,#02bac4 515px,#02bbc3 516px,#0bbdbd 518px,#1fc1b1 520px,#3dc990 524px,#5ecc74 527px,#6dcd67 529px,#71cd64 530px,#6ecd66 532px,#61cd71 534px,#3ac993 538px,#25c2ae 541px,#08bcbf 543px,#02b7cb 544px,#14b0d8 545px,#1fa5e2 546px,#327cfc 549px,#3f6dfe 550px,#4561fc 551px,#4851f3 553px,#484ef1 554px,#4851f3 556px,#4563fd 560px,#3c71ff 562px,#3080fb 564px,#2896eb 568px,#259de7 570px,#249fe6 572px,#259be7 574px,#2a92ee 576px,#327cfc 579px,#4368fe 581px,#4755f6 583px,#463ddf 586px,#4433cc 588px,#422fc1 590px,#4230c3 592px,#4538d8 595px,#4743e7 597px,#4756f7 600px,#406dfe 604px,#3975fe 607px,#3d70ff 610px,#4562fc 613px,#4756f6 615px,#4742e6 618px,#4538d7 620px,#422ebf 623px,#412cb9 625px,#422ebe 627px,#4538d8 630px,#484aee 633px,#4757f7 635px,#4464fd 638px,#4466fd 641px,#475bf9 644px,#4850f3 646px,#4744e8 648px,#4435d0 651px,#422fc0 653px,#412cb9 655px,#412cba 656px,#422ebf 657px,#4535d2 659px,#4848ec 662px,#4755f6 664px,#465dfa 666px,#465efb 668px,#4851f3 671px,#4743e7 673px,#4537d5 675px,#422fc2 677px,#412dbd 678px,#422ebe 680px,#4230c4 681px,#463de0 684px)"></i>
<i style="left:312px;width:4px;background:linear-gradient(#2b92ee 77px,#2d8df2 82px,#2f81fa 88px,#3974fe 92px,#4563fd 97px,#484df0 104px,#4639da 111px,#422fc2 118px,#412ebe 123px,#4331c6 126px,#463bdd 130px,#4854f6 135px,#4660fc 137px,#406dfe 139px,#2f81fa 142px,#259ce7 147px,#1aacdd 151px,#08b4d1 155px,#02b7cb 158px,#02bbc3 162px,#11beb9 169px,#14beb8 174px,#04bbc2 179px,#01b8c8 181px,#07b5d0 183px,#18aedb 186px,#22a2e4 190px,#2d8bf4 198px,#2e84f8 204px,#2d8cf3 208px,#22a2e4 213px,#19addc 215px,#05b6ce 217px,#01bac5 218px,#0cbdbc 219px,#1ec0b2 220px,#2ac3a8 221px,#32c69e 222px,#3bc992 223px,#59cc79 225px,#99c946 229px,#bdc32e 232px,#d3bf27 234px,#e6bb2d 236px,#edba33 237px,#f8ba3d 239px,#febe3c 241px,#fdcd31 249px,#fbd22f 254px,#fec934 273px,#fdcd31 286px,#f5e626 302px,#f5ed22 310px,#f9fa15 390px,#f8f818 422px,#f5ed21 469px,#f7db2a 483px,#f9d62d 495px,#fdcd32 499px,#febf3c 503px,#f9bb3d 504px,#ecba33 505px,#d8be28 506px,#bac430 507px,#96ca49 508px,#6dcd67 509px,#49cb85 510px,#33c79d 511px,#24c1ae 512px,#0dbdbb 513px,#02bac4 514px,#01b8c8 515px,#01b8c8 516px,#03bbc2 518px,#0abdbe 519px,#2ac3a9 522px,#3fca8e 525px,#5ecd74 528px,#6acd6a 530px,#6bcd69 531px,#64cd6f 533px,#55cc7b 535px,#39c895 538px,#24c1ae 541px,#08bcbf 543px,#01b8ca 544px,#13b0d7 545px,#1fa6e2 546px,#327cfc 549px,#406dfe 550px,#4660fb 551px,#484ff2 553px,#484cef 554px,#484ef1 556px,#4660fb 560px,#406dfe 562px,#3974fe 563px,#2e83f9 565px,#2994ed 568px,#269be8 570px,#249de6 572px,#259be8 574px,#2a93ee 576px,#317dfc 579px,#4269fe 581px,#4757f7 583px,#463ee1 586px,#4433cd 588px,#422fc0 590px,#422fc1 592px,#4536d4 595px,#4747eb 598px,#475af9 601px,#3e6fff 605px,#3974fe 608px,#406dfe 611px,#465dfb 614px,#4851f3 616px,#4744e8 618px,#4435d0 621px,#422fc0 623px,#412cb9 625px,#412dbc 627px,#4536d4 630px,#4741e5 632px,#484ef1 634px,#4562fc 638px,#4466fd 640px,#4564fd 642px,#4852f4 646px,#4740e4 649px,#4536d3 651px,#422fc2 653px,#412cb9 655px,#412dbc 657px,#4433cd 659px,#4745e9 662px,#4852f4 664px,#475bf9 666px,#465efb 668px,#475cfa 669px,#484df0 672px,#4740e3 674px,#4434d0 676px,#422ebf 678px,#412dbb 679px,#422ebf 681px,#4434d0 683px,#473fe2 685px)"></i>
<i style="left:316px;width:4px;background:linear-gradient(#2b91ef 78px,#2d8bf4 83px,#3080fb 88px,#3d70ff 93px,#4562fc 97px,#484cef 104px,#4538d8 111px,#422fc1 118px,#412ebd 123px,#4331c7 126px,#463cdf 130px,#4756f6 135px,#4562fc 137px,#3f6fff 139px,#327cfc 141px,#249de6 147px,#1ca9e0 150px,#0db3d3 154px,#01b8ca 159px,#02bac4 162px,#0dbdbc 168px,#11beba 171px,#10beba 174px,#04bbc2 178px,#01b8c8 180px,#07b5d0 182px,#17aedb 185px,#22a2e4 189px,#2d89f5 197px,#2f81fa 203px,#2d88f6 207px,#2c8ff0 209px,#249ee6 212px,#17aeda 215px,#02b7cb 217px,#04bbc2 218px,#25c2ae 220px,#42ca8c 223px,#62cd71 225px,#93ca4b 228px,#b8c431 231px,#cdc028 233px,#d7be28 234px,#e7bb2e 236px,#f8ba3d 239px,#febd3c 241px,#fdcd32 249px,#fbd12f 254px,#fec834 272px,#fdcc32 285px,#f5e227 299px,#f5ed22 309px,#f8f719 359px,#f9fa15 390px,#f8f718 423px,#f5ed21 469px,#f8d92b 483px,#fad52e 495px,#fdcb33 499px,#fdbd3d 503px,#f8ba3d 504px,#ebba31 505px,#d6be28 506px,#b9c431 507px,#94ca4a 508px,#6ccd69 509px,#48cb86 510px,#32c69e 511px,#22c1b0 512px,#0abdbe 513px,#01b9c7 514px,#03b7cc 515px,#04b6cd 516px,#02bac3 519px,#0abdbd 520px,#23c1af 522px,#39c895 525px,#55cc7b 528px,#62cd70 530px,#64cd6f 531px,#63cd70 532px,#59cc78 534px,#3fca8e 537px,#2cc4a7 540px,#23c1af 541px,#08bcbf 543px,#01b8c9 544px,#12b1d6 545px,#1ea7e1 546px,#2d8cf3 548px,#317dfc 549px,#406dfe 550px,#465ffb 551px,#484df0 553px,#4849ed 554px,#484aee 556px,#4851f4 558px,#4562fc 561px,#3d70ff 563px,#307ffb 565px,#2b91ef 568px,#259be8 571px,#259ce7 573px,#2797eb 575px,#2d8df2 577px,#317efb 579px,#3974fe 580px,#416bfe 581px,#4561fc 582px,#484ff2 584px,#4538d8 587px,#4331c6 589px,#412ebe 591px,#422fc3 593px,#4639d9 596px,#4744e8 598px,#4758f8 601px,#3f6dfe 605px,#3974fe 608px,#3f6eff 611px,#465ffb 614px,#4853f5 616px,#4740e3 619px,#4536d3 621px,#412dbc 624px,#402cb8 626px,#422ebf 628px,#4435d0 630px,#473fe2 632px,#484bef 634px,#4757f7 636px,#4564fd 639px,#4464fd 642px,#4759f9 645px,#484ef1 647px,#4742e6 649px,#4434cd 652px,#422ebe 654px,#402bb8 656px,#422ebf 658px,#4536d2 660px,#4848ec 663px,#4854f5 665px,#475cfa 667px,#475cfa 669px,#4850f3 672px,#4743e7 674px,#4537d5 676px,#422fc2 678px,#412cba 680px,#422fc1 682px,#4536d3 684px,#4741e4 686px)"></i>
<i style="left:320px;width:4px;background:linear-gradient(#2c90f0 79px,#2f82fa 87px,#327cfc 89px,#3e6fff 93px,#465efb 98px,#4747eb 105px,#4538d7 111px,#422fc2 117px,#412dbc 122px,#4230c3 125px,#463de0 130px,#4757f7 135px,#4563fd 137px,#3d70ff 139px,#317efb 141px,#249ee6 147px,#1ca9df 150px,#0eb2d4 154px,#08b5d0 156px,#01b8c9 160px,#02bac3 163px,#09bcbe 167px,#0dbdbb 173px,#07bcc0 176px,#01b8c8 179px,#07b5cf 181px,#17aeda 184px,#22a2e4 188px,#2b91ef 193px,#2e85f8 197px,#317efb 203px,#2e87f7 207px,#2c8ff0 209px,#249fe5 212px,#1baade 214px,#14b0d8 215px,#08b5d0 216px,#01b9c7 217px,#09bdbe 218px,#1cc0b4 219px,#2ac3a9 220px,#3bc992 222px,#5acc77 224px,#9cc944 228px,#b4c534 230px,#d1bf27 233px,#e1bc2b 235px,#eeba34 237px,#f8ba3d 239px,#fdbd3d 241px,#fdcc32 249px,#fcd130 254px,#fec835 271px,#fdcb32 284px,#f5e327 299px,#f5ec22 308px,#f8f719 357px,#f9fa15 389px,#f8f718 422px,#f5ed21 468px,#f8d92c 482px,#fbd32e 495px,#fec934 499px,#febf3b 502px,#f6ba3b 504px,#e9bb2f 505px,#d4bf28 506px,#b7c532 507px,#92ca4b 508px,#6acd6a 509px,#46cb88 510px,#31c69f 511px,#1fc1b1 512px,#07bcc0 513px,#01b8ca 514px,#07b5d0 515px,#09b4d1 516px,#04b6cd 518px,#02bbc3 520px,#0bbdbd 521px,#25c2ad 523px,#3bc993 526px,#4dcc82 528px,#5bcc77 530px,#5ecc74 531px,#5acc77 533px,#4ecc81 535px,#3eca90 537px,#2bc3a8 540px,#22c1af 541px,#08bcbf 543px,#01b8c9 544px,#1ea8e1 546px,#2d8df2 548px,#317dfc 549px,#406dfe 550px,#465ffb 551px,#484bef 553px,#4746ea 554px,#4747eb 556px,#484ef1 558px,#465efb 561px,#406dfe 563px,#3974fe 564px,#327cfc 565px,#2e83f9 566px,#2a93ee 569px,#269be8 572px,#2699e9 574px,#2a93ee 576px,#307ffb 579px,#3876fe 580px,#4562fc 582px,#4850f3 584px,#4639da 587px,#4331c6 589px,#412dbd 591px,#422fc0 593px,#4537d6 596px,#4742e6 598px,#4755f6 601px,#416cfe 605px,#3a74fe 608px,#3e6fff 611px,#4661fc 614px,#4755f6 616px,#4742e6 619px,#4537d5 621px,#412ebe 624px,#402bb8 626px,#412dbd 628px,#4537d6 631px,#4849ed 634px,#4755f6 636px,#4562fc 639px,#4465fd 641px,#4562fc 643px,#4850f3 647px,#4744e9 649px,#4435d1 652px,#422fc0 654px,#402cb8 656px,#412dbc 658px,#4433cd 660px,#4745e9 663px,#4851f3 665px,#475af9 667px,#475dfa 669px,#475bf9 670px,#484df0 673px,#4740e3 675px,#4435d0 677px,#422ebe 679px,#412cba 680px,#412cba 681px,#4230c3 683px,#4537d6 685px,#4743e7 687px)"></i>
<i style="left:324px;width:4px;background:linear-gradient(#2c8ff1 80px,#2f81fa 87px,#3c71ff 92px,#4660fc 97px,#484df0 103px,#4537d5 111px,#422fc1 117px,#412dbc 122px,#4230c4 125px,#463adc 129px,#4853f5 134px,#416bfe 138px,#307ffb 141px,#269ae8 146px,#1caadf 150px,#13b1d7 153px,#09b4d1 156px,#01b8c9 160px,#02bbc3 164px,#08bcbf 167px,#0abdbd 173px,#02bac5 177px,#02b7cb 179px,#16aeda 183px,#22a2e4 187px,#2b90f0 192px,#2e84f8 196px,#337bfc 202px,#2f82f9 206px,#2c8ff0 209px,#23a0e5 212px,#1aacdd 214px,#11b1d6 215px,#04b6cd 216px,#02bac4 217px,#23c1af 219px,#41ca8c 222px,#63cd70 224px,#96ca49 227px,#a4c83e 228px,#bac430 230px,#ccc028 232px,#dcbd29 234px,#f8ba3d 239px,#fdbd3d 241px,#fdcb32 249px,#fccf30 253px,#fec735 270px,#fdcb33 283px,#f5e228 298px,#f5ed22 308px,#f8f719 357px,#f9fa15 389px,#f8f719 423px,#f5ed22 468px,#f9d72c 482px,#fcd12f 495px,#febe3c 502px,#fabb3d 503px,#f4ba39 504px,#e7bb2d 505px,#d2bf27 506px,#b4c533 507px,#90ca4d 508px,#68cd6c 509px,#45cb89 510px,#30c5a1 511px,#1dc0b3 512px,#04bbc2 513px,#03b6cc 514px,#0cb3d3 515px,#10b2d5 516px,#0ab4d1 518px,#01b8c9 520px,#03bbc2 521px,#28c2ab 524px,#4dcc82 529px,#57cc7a 531px,#57cc7a 532px,#55cc7c 533px,#4acb84 535px,#2ac3a8 540px,#21c1b0 541px,#07bcbf 543px,#01b8c9 544px,#1da8e0 546px,#259ce7 547px,#317efb 549px,#406dfe 550px,#465efb 551px,#4849ed 553px,#4744e8 554px,#4743e7 555px,#4747eb 557px,#484ff2 559px,#4562fc 562px,#3d70ff 564px,#3080fb 566px,#2b90ef 569px,#2797ea 571px,#269ae9 573px,#2796eb 575px,#2d8df2 577px,#3080fb 579px,#3777fe 580px,#4564fd 582px,#4852f4 584px,#463adb 587px,#4331c7 589px,#412dbc 591px,#412ebe 593px,#4536d3 596px,#4746ea 599px,#4759f8 602px,#3f6eff 606px,#3a73fe 609px,#406cfe 612px,#4756f7 616px,#4743e7 619px,#4538d8 621px,#422ebf 624px,#402bb8 626px,#402bb8 627px,#422fc1 629px,#4740e4 633px,#484df0 635px,#4758f8 637px,#4563fd 640px,#4563fc 643px,#4852f4 647px,#4740e4 650px,#4536d4 652px,#412dbc 655px,#402bb7 657px,#422ec0 659px,#4536d3 661px,#4848ec 664px,#4758f8 667px,#475bfa 670px,#484ff2 673px,#4743e7 675px,#4537d5 677px,#422fc2 679px,#412cb9 681px,#422ebe 683px,#4434cf 685px,#4745e9 688px)"></i>
<i style="left:328px;width:4px;background:linear-gradient(#2d8df2 81px,#2f80fa 87px,#3d70ff 92px,#465ffb 97px,#4848ec 104px,#4538d8 110px,#422fc0 117px,#412dbc 122px,#4330c5 125px,#463bdd 129px,#4855f6 134px,#4660fc 136px,#406dfe 138px,#2f81fa 141px,#259be8 146px,#1caadf 150px,#13b0d7 153px,#01b8ca 160px,#02bac4 164px,#06bcc0 167px,#09bcbe 172px,#02bac5 176px,#02b7cb 178px,#16afd9 182px,#22a2e4 186px,#2b90f0 191px,#2f80fa 196px,#347afd 199px,#3678fd 202px,#2f81fa 206px,#2c90f0 209px,#22a1e4 212px,#18addb 214px,#01b8ca 216px,#06bcc0 217px,#28c2ab 219px,#3ac993 221px,#5acc78 223px,#7ecc5b 225px,#9ec942 227px,#b6c532 229px,#c8c129 231px,#d7be28 233px,#eabb30 236px,#f7ba3c 239px,#febe3c 242px,#fdcb33 249px,#fccf31 253px,#fec636 269px,#feca33 282px,#f5e725 301px,#f5ed22 308px,#f8f719 357px,#f9fa15 389px,#f8f719 423px,#f5ed21 467px,#f5e327 474px,#fad52d 482px,#fccf30 495px,#fcbd3d 502px,#f8ba3d 503px,#f1ba37 504px,#e4bb2c 505px,#cfc028 506px,#b2c535 507px,#8ecb4f 508px,#66cd6d 509px,#43ca8a 510px,#2fc5a2 511px,#02bac3 513px,#06b5cf 514px,#11b1d6 515px,#14b0d8 516px,#11b1d6 518px,#0bb3d2 519px,#01b9c8 521px,#05bbc1 522px,#20c1b1 524px,#2ac3a8 525px,#46cb88 529px,#51cc7f 531px,#52cc7e 532px,#47cb87 535px,#29c3aa 540px,#20c1b1 541px,#07bcc0 543px,#01b8c8 544px,#1ca9e0 546px,#2c8ff1 548px,#307ffb 549px,#3f6efe 550px,#465ffb 551px,#4848ec 553px,#4742e6 554px,#4740e4 555px,#4744e8 557px,#484cef 559px,#465efb 562px,#406dfe 564px,#327cfc 566px,#2c8ef1 569px,#2895ec 571px,#2698ea 573px,#2896ec 575px,#2c8ef2 577px,#2f80fa 579px,#3f6eff 581px,#4465fd 582px,#4853f5 584px,#463bdd 587px,#4332c9 589px,#412dbc 591px,#412dbc 593px,#422fc0 594px,#4434cf 596px,#4744e8 599px,#4757f7 602px,#406cfe 606px,#3a73fe 609px,#406dfe 612px,#465efb 615px,#4852f4 617px,#473fe2 620px,#4435d1 622px,#412dbb 625px,#402bb7 627px,#422ebf 629px,#4434cf 631px,#463ee1 633px,#484aee 635px,#4756f6 637px,#4562fc 640px,#4464fd 642px,#4561fc 644px,#484ef1 648px,#4742e6 650px,#4434ce 653px,#422ebe 655px,#402bb7 657px,#412dbd 659px,#4539d9 662px,#4745e9 664px,#4851f3 666px,#4759f9 668px,#475af9 671px,#484cf0 674px,#473fe3 676px,#4435d0 678px,#422ebe 680px,#412cb8 682px,#422fc1 684px,#4536d3 686px,#4747eb 689px)"></i>
<i style="left:332px;width:4px;background:linear-gradient(#2d8bf4 82px,#2f82fa 86px,#3876fe 90px,#4368fe 94px,#465efb 97px,#4747eb 104px,#4537d6 110px,#422fc1 116px,#412dbb 121px,#422fc2 124px,#463ddf 129px,#4756f7 134px,#4562fc 136px,#3f6fff 138px,#327cfc 140px,#2f82f9 141px,#259ce7 146px,#1caadf 150px,#13b0d7 153px,#08b5d0 157px,#01b8c9 161px,#05bbc1 167px,#06bcc0 172px,#01b7ca 177px,#19addc 182px,#249fe5 186px,#2d8df2 191px,#2f82f9 194px,#3678fd 198px,#3975fe 201px,#3777fe 203px,#2f81fa 206px,#2c90f0 209px,#21a3e4 212px,#16afd9 214px,#09b4d1 215px,#01b9c7 216px,#0bbdbd 217px,#1ec0b2 218px,#2cc4a7 219px,#3fca8e 221px,#61cd71 223px,#96ca48 226px,#a5c83e 227px,#bbc42f 229px,#d3bf27 232px,#e5bb2d 235px,#f7ba3c 239px,#febd3c 242px,#feca33 249px,#fdce31 253px,#fec537 268px,#fec934 281px,#f5e327 298px,#f5ec22 307px,#f8f719 355px,#f9fa15 388px,#f8f719 423px,#f5ed22 467px,#f5e228 474px,#fad42e 482px,#fdcd31 495px,#febe3c 501px,#f6ba3b 503px,#efba35 504px,#e2bc2b 505px,#cdc028 506px,#b0c636 507px,#8bcb51 508px,#64cd6f 509px,#41ca8c 510px,#2ec5a3 511px,#01bac5 513px,#09b4d1 514px,#14b0d8 515px,#18addb 516px,#12b1d6 519px,#04b6cc 521px,#01b9c6 522px,#09bcbe 523px,#25c2ae 525px,#2dc4a5 526px,#46cb88 530px,#4ccb83 532px,#43ca8b 535px,#2ec5a4 539px,#1ec0b2 541px,#06bcc0 543px,#01b8c8 544px,#1caadf 546px,#2c90f0 548px,#3080fa 549px,#3f6fff 550px,#465ffb 551px,#4848ec 553px,#4741e5 554px,#473ee1 555px,#4741e5 557px,#4849ed 559px,#4562fc 563px,#3c71ff 565px,#3080fa 567px,#2c90f0 570px,#2797eb 573px,#2895ec 575px,#2c8ef2 577px,#2f81fa 579px,#3e70ff 581px,#4366fd 582px,#484cef 585px,#4536d4 588px,#422fc1 590px,#412cb9 592px,#422ebe 594px,#4537d5 597px,#4742e6 599px,#4755f6 602px,#416bfe 606px,#3b73fe 609px,#3f6efe 612px,#465ffb 615px,#4853f5 617px,#4740e4 620px,#4536d3 622px,#412dbc 625px,#402bb7 627px,#412dbd 629px,#4537d6 632px,#4848ec 635px,#4854f5 637px,#4661fc 640px,#4464fd 642px,#4561fc 644px,#4850f3 648px,#473ee2 651px,#4435d1 653px,#422fc0 655px,#402bb7 657px,#412cba 659px,#4332ca 661px,#4742e6 664px,#484ef1 666px,#4758f8 668px,#475af9 671px,#484ff2 674px,#4742e6 676px,#4537d5 678px,#422fc2 680px,#402bb8 682px,#412dbc 684px,#4537d6 687px,#4849ed 690px)"></i>
<i style="left:336px;width:4px;background:linear-gradient(#2d88f6 83px,#307ffb 87px,#3875fe 90px,#416bfe 93px,#465dfa 97px,#4746ea 104px,#4537d5 110px,#422fc0 116px,#412dbc 121px,#4230c4 124px,#463adb 128px,#4852f4 133px,#426afe 137px,#317dfb 140px,#2798ea 145px,#1ea7e1 149px,#17aeda 152px,#01b8ca 161px,#04bbc2 168px,#04bbc2 172px,#01b8ca 176px,#08b4d0 178px,#18addb 181px,#23a0e5 185px,#2d8df2 190px,#2f82f9 193px,#3776fe 197px,#3b72ff 201px,#3678fe 204px,#3080fa 206px,#2d8bf4 208px,#1baade 213px,#13b0d7 214px,#06b5ce 215px,#02bac4 216px,#24c1af 218px,#38c896 220px,#45cb89 221px,#57cc7a 222px,#7bcc5d 224px,#9dc943 226px,#b6c532 228px,#c7c129 230px,#d5be28 232px,#e6bb2d 235px,#efba35 237px,#f6ba3c 239px,#fdbd3d 242px,#fdcc32 252px,#fec537 267px,#fec835 280px,#f5e825 301px,#f5ec22 307px,#f8f719 354px,#f9fa15 388px,#f8f719 423px,#f5ed21 466px,#f5e327 473px,#fbd22f 482px,#fdcd31 494px,#fdbd3d 501px,#f9bb3d 502px,#edba33 504px,#dfbc2a 505px,#cac129 506px,#adc638 507px,#61cd71 509px,#3fca8e 510px,#2dc4a5 511px,#15bfb7 512px,#01b9c7 513px,#0cb3d3 514px,#17aeda 515px,#1babde 517px,#17aeda 519px,#12b1d6 520px,#02b7cb 522px,#02bac3 523px,#28c2ab 526px,#40ca8d 530px,#47cb87 532px,#3fca8e 535px,#2dc4a5 539px,#1dc0b3 541px,#05bbc1 543px,#01b8c9 544px,#1baade 546px,#2b91ef 548px,#2f81fa 549px,#3e70ff 550px,#4660fb 551px,#4747eb 553px,#4740e3 554px,#463cdf 555px,#473ee2 557px,#4746ea 559px,#465efb 563px,#3f6efe 565px,#317dfc 567px,#2c8ef1 570px,#2994ed 572px,#2896eb 574px,#2b92ee 576px,#2d88f6 578px,#347afd 580px,#3c71ff 581px,#465ffb 583px,#484df1 585px,#4537d6 588px,#422fc2 590px,#412cb9 592px,#412dbc 594px,#4535d2 597px,#4746ea 600px,#4853f5 602px,#4269fe 606px,#3b72ff 609px,#3f6eff 612px,#4561fc 615px,#4755f6 617px,#4742e6 620px,#4537d6 622px,#412ebd 625px,#402bb7 627px,#402bb8 628px,#422fc1 630px,#4740e3 634px,#484cef 636px,#4757f7 638px,#4562fc 641px,#4562fc 644px,#4852f4 648px,#4740e4 651px,#4536d3 653px,#412dbc 656px,#402bb7 658px,#412ebe 660px,#4435d0 662px,#4746ea 665px,#4851f3 667px,#4759f8 669px,#4759f8 672px,#484bef 675px,#473fe2 677px,#412ebe 681px,#402bb7 683px,#422ebf 685px,#473fe2 689px,#484bef 691px)"></i>
<i style="left:340px;width:4px;background:linear-gradient(#2e86f8 84px,#337bfc 88px,#3d71ff 91px,#475cfa 97px,#4848ec 103px,#4538d7 109px,#422ebf 116px,#412dbc 121px,#4330c5 124px,#463bdd 128px,#4854f5 133px,#416bfe 137px,#307ffb 140px,#2699e9 145px,#1ea8e1 149px,#17aeda 152px,#01b7ca 161px,#04bbc2 170px,#01b8c9 175px,#07b5d0 177px,#17aeda 180px,#1da8e0 182px,#2b91ef 188px,#2e86f7 191px,#3a73fe 197px,#3e6fff 201px,#3b73fe 203px,#3080fb 206px,#2b91ef 209px,#249ee6 211px,#1aabdd 213px,#11b1d6 214px,#03b7cc 215px,#04bbc2 216px,#27c2ab 218px,#3bc992 220px,#5dcc75 222px,#93ca4a 225px,#a3c83f 226px,#bbc430 228px,#d1bf27 231px,#e7bb2e 235px,#f6ba3b 239px,#fdbd3d 242px,#fdcb33 252px,#fec438 266px,#fec835 280px,#f5e825 301px,#f5ed22 307px,#f8f719 353px,#f9fa15 387px,#f8f719 423px,#f5ed21 466px,#f5e228 473px,#fbd22f 481px,#fdcc32 494px,#febe3c 500px,#f7ba3c 502px,#eaba31 504px,#ddbd29 505px,#c8c129 506px,#aac739 507px,#5fcd73 509px,#3eca8f 510px,#2cc4a6 511px,#12beb9 512px,#01b8c9 513px,#0fb2d4 514px,#19addc 515px,#1da8e0 517px,#1aacdd 519px,#16aeda 520px,#01b8c8 523px,#06bcc0 524px,#22c1b0 526px,#2bc3a8 527px,#3bc992 530px,#42ca8b 532px,#3dc991 535px,#2cc4a7 539px,#25c2ad 540px,#03bbc2 543px,#01b8c9 544px,#1babde 546px,#239fe5 547px,#2f82f9 549px,#3d71ff 550px,#4661fc 551px,#4747eb 553px,#473fe2 554px,#463bdc 555px,#463cdf 557px,#4743e7 559px,#475bfa 563px,#426afe 565px,#2f81fa 568px,#2c90f0 571px,#2895ec 574px,#2b92ee 576px,#2d89f5 578px,#337bfc 580px,#3b72ff 581px,#4660fc 583px,#4746eb 586px,#4538d8 588px,#4230c4 590px,#412cb9 592px,#412cbb 594px,#4434cf 597px,#4744e8 600px,#4757f7 603px,#406cfe 607px,#3b72ff 610px,#416cfe 613px,#475cfa 616px,#4850f3 618px,#4743e8 620px,#4434cf 623px,#422ebf 625px,#402bb7 627px,#402bb7 628px,#422ebf 630px,#4539d9 633px,#484aee 636px,#4755f6 638px,#4561fc 641px,#4563fd 643px,#4660fb 645px,#484ef1 649px,#4742e6 651px,#4433cd 654px,#412ebe 656px,#402bb7 658px,#412dbc 660px,#4433cc 662px,#4743e7 665px,#484ff2 667px,#4758f8 669px,#475af9 672px,#484ef1 675px,#4742e6 677px,#4536d4 679px,#422fc1 681px,#402bb7 683px,#412dbb 685px,#4536d5 688px,#4741e5 690px,#484df0 692px)"></i>
<i style="left:344px;width:4px;background:linear-gradient(#2f83f9 85px,#347afd 88px,#3e70ff 91px,#4465fd 94px,#4758f8 98px,#4747eb 103px,#4537d6 109px,#422fc1 115px,#412dbb 120px,#422fc2 123px,#463cdf 128px,#4755f6 133px,#406dfe 137px,#2f80fa 140px,#269ae9 145px,#1ea8e0 149px,#17aeda 152px,#07b5d0 158px,#01b8c9 162px,#02bac3 169px,#01b8c9 174px,#06b5cf 176px,#16afd9 179px,#1ca9e0 181px,#2c8ef1 188px,#2e83f9 191px,#3b72ff 196px,#406dfe 200px,#3c71ff 203px,#2e85f8 207px,#2b92ef 209px,#1fa6e2 212px,#19addc 213px,#01b8ca 215px,#08bcbf 216px,#1bc0b4 217px,#2bc3a8 218px,#3fca8e 220px,#62cd70 222px,#99c946 225px,#a8c73b 226px,#bec32e 228px,#d3bf27 231px,#e8bb2e 235px,#f8ba3d 240px,#febe3c 243px,#feca33 252px,#fec338 265px,#fec735 279px,#fbd32e 289px,#f5e725 300px,#f5ed22 307px,#f8f719 353px,#f9fa15 387px,#f8f719 423px,#f5ee21 465px,#f5e327 472px,#fcd130 481px,#fdcb33 493px,#fdbd3d 500px,#f5ba3a 502px,#e8bb2f 504px,#dabd28 505px,#c5c22a 506px,#a8c73b 507px,#5dcc75 509px,#3cc991 510px,#2bc3a8 511px,#0fbeba 512px,#01b8ca 513px,#12b1d6 514px,#1babde 515px,#1fa6e2 517px,#1aacdd 520px,#15afd9 521px,#04b6cc 523px,#02bac5 524px,#0bbdbd 525px,#26c2ac 527px,#2ec4a5 528px,#3bc992 531px,#3eca8f 533px,#36c898 536px,#2ac3a9 539px,#23c1af 540px,#02bac3 543px,#01b8ca 544px,#1aabdd 546px,#23a0e5 547px,#2e84f9 549px,#3b72fe 550px,#4562fc 551px,#4848ec 553px,#473fe2 554px,#463adb 555px,#4639d9 556px,#463ddf 558px,#4745e9 560px,#465ffb 564px,#3f6fff 566px,#317efb 568px,#2c8ef2 571px,#2994ed 574px,#2b91ef 576px,#2d89f5 578px,#327cfc 580px,#3a73fe 581px,#4561fc 583px,#4848ec 586px,#4639da 588px,#4330c5 590px,#412cb9 592px,#402bb8 593px,#412ebe 595px,#4537d6 598px,#4742e6 600px,#4755f6 603px,#416bfe 607px,#3c72ff 610px,#406cfe 613px,#465efb 616px,#4852f4 618px,#473fe2 621px,#4435d1 623px,#412cbb 626px,#402bb6 628px,#412dbd 630px,#4537d6 633px,#4848ec 636px,#4853f5 638px,#4660fb 641px,#4563fd 643px,#4660fc 645px,#484ff2 649px,#463ee1 652px,#422ebf 656px,#402bb7 658px,#402bb7 659px,#422ec0 661px,#4536d2 663px,#4747eb 666px,#4852f4 668px,#4759f8 670px,#4758f8 673px,#484aee 676px,#473ee1 678px,#412ebd 682px,#402bb7 684px,#412ebe 686px,#4434cf 688px,#473ee1 690px,#484ff2 693px)"></i>
<i style="left:348px;width:4px;background:linear-gradient(#307ffb 86px,#3e6fff 91px,#4464fd 94px,#4757f7 98px,#4746ea 103px,#4537d5 109px,#422fc0 115px,#412dbb 120px,#4230c3 123px,#463de0 128px,#4757f7 133px,#4562fc 135px,#3f6fff 137px,#2f82fa 140px,#269ae8 145px,#1da8e0 149px,#18aedb 152px,#08b4d0 158px,#01b8ca 162px,#02bac4 169px,#01b8c8 173px,#05b6ce 175px,#14b0d8 178px,#21a3e3 182px,#2c90f0 187px,#2e84f9 190px,#3e6fff 196px,#416bfe 200px,#3d70ff 203px,#2e85f8 207px,#2b92ee 209px,#1ea7e1 212px,#18aedb 213px,#01b9c8 215px,#0abdbd 216px,#1fc0b1 217px,#43ca8b 220px,#55cc7c 221px,#7bcc5d 223px,#9dc943 225px,#acc739 226px,#c1c32c 228px,#d5be28 231px,#e8bb2f 235px,#f8ba3d 240px,#fdbd3d 243px,#fec934 252px,#fec338 264px,#fec736 279px,#fbd12f 288px,#f5e825 300px,#f5ec22 306px,#f8f719 351px,#f9fa15 387px,#f8f719 424px,#f5ee21 465px,#f5e227 472px,#fccf30 481px,#feca33 493px,#febe3c 499px,#f8ba3d 501px,#e6bb2d 504px,#d8be28 505px,#c3c22b 506px,#a5c83d 507px,#5acc77 509px,#3bc993 510px,#2ac3a9 511px,#0cbdbc 512px,#03b7cc 513px,#14b0d8 514px,#1caadf 515px,#21a4e3 517px,#1ca9df 520px,#13b0d7 522px,#01b8c9 524px,#04bbc1 525px,#20c1b1 527px,#2ac3a9 528px,#37c897 531px,#3bc993 533px,#37c897 535px,#2ec4a5 538px,#21c1b0 540px,#0abdbe 542px,#02bac4 543px,#02b7cb 544px,#1aacdd 546px,#22a1e4 547px,#2e85f8 549px,#3a74fe 550px,#4563fd 551px,#4848ec 553px,#473fe2 554px,#4639d9 555px,#4538d7 556px,#463bdc 558px,#4743e7 560px,#475cfa 564px,#416cfe 566px,#337bfc 568px,#2f82fa 569px,#2c8ff0 572px,#2a93ed 574px,#2b91ef 576px,#2d89f5 578px,#317dfc 580px,#3975fe 581px,#4563fc 583px,#4852f4 585px,#463adc 588px,#422ebe 591px,#402bb7 593px,#412dbc 595px,#4536d3 598px,#4740e4 600px,#4853f5 603px,#4269fe 607px,#3c72ff 610px,#406dfe 613px,#465ffb 616px,#4853f5 618px,#4740e4 621px,#4536d3 623px,#412dbc 626px,#402bb6 628px,#402bb8 629px,#422fc2 631px,#4536d3 633px,#4746ea 636px,#4852f4 638px,#465ffb 641px,#4563fc 643px,#4561fc 645px,#4851f3 649px,#473fe3 652px,#4536d2 654px,#412dbb 657px,#402bb6 659px,#412ebd 661px,#4434cf 663px,#4744e8 666px,#4850f2 668px,#4758f8 670px,#4759f8 673px,#484df0 676px,#4741e4 678px,#4536d3 680px,#422fc0 682px,#402bb7 684px,#412cbb 686px,#4536d4 689px,#4741e5 691px,#4851f3 694px)"></i>
<i style="left:352px;width:4px;background:linear-gradient(#327cfc 87px,#416afe 92px,#475cfa 96px,#484cef 101px,#463adb 107px,#422fc2 114px,#412dbc 117px,#412dbc 120px,#4330c5 123px,#463bdc 127px,#4853f4 132px,#426afe 136px,#317dfc 139px,#2797eb 144px,#1fa5e2 148px,#19acdc 151px,#02b7cb 162px,#01bac5 169px,#01b7ca 173px,#07b5d0 175px,#17aeda 178px,#1da8e0 180px,#2b91ef 186px,#2f81fa 190px,#3e6fff 195px,#4369fe 200px,#3e6fff 203px,#2e85f8 207px,#2a92ee 209px,#1ea8e0 212px,#16aeda 213px,#09b4d1 214px,#01b9c6 215px,#0ebdbb 216px,#22c1af 217px,#38c896 219px,#46cb88 220px,#59cc79 221px,#91ca4c 224px,#a1c840 225px,#bac430 227px,#d0bf27 230px,#e4bb2c 234px,#f7ba3d 240px,#fdbd3d 243px,#fec835 251px,#fec239 263px,#fec636 279px,#fccf30 287px,#f5e725 299px,#f5ec22 306px,#f8f719 350px,#f9fa15 386px,#f8f719 424px,#f5ee21 465px,#f5ea23 468px,#f5e128 472px,#fdce31 481px,#fec834 493px,#fdbd3d 499px,#f6ba3b 501px,#e3bb2c 504px,#d6be28 505px,#c0c32d 506px,#a2c83f 507px,#58cc79 509px,#39c994 510px,#28c3ab 511px,#0abdbd 512px,#05b6cd 513px,#16afd9 514px,#1da8e0 515px,#22a1e4 517px,#1ea6e1 520px,#17aeda 522px,#05b6cd 524px,#01bac6 525px,#0abdbd 526px,#25c2ae 528px,#2cc4a6 529px,#34c79b 531px,#37c897 533px,#35c79a 535px,#2cc4a7 538px,#1ec0b2 540px,#08bcbf 542px,#01bac5 543px,#03b7cc 544px,#1aacdd 546px,#22a2e4 547px,#2e86f7 549px,#3876fe 550px,#4465fd 551px,#4849ed 553px,#4539d9 555px,#4536d4 556px,#4539d9 558px,#4740e4 560px,#4852f4 563px,#4369fe 566px,#307ffb 569px,#2c8ef2 572px,#2b92ee 574px,#2b91ef 576px,#2d8af5 578px,#317efb 580px,#3876fe 581px,#4464fd 583px,#4853f5 585px,#463bde 588px,#422ec0 591px,#402bb7 593px,#412cbb 595px,#4435d1 598px,#473fe2 600px,#4852f4 603px,#465efb 605px,#4368fe 607px,#3c71ff 610px,#3f6efe 613px,#4660fc 616px,#4755f6 618px,#4742e6 621px,#4537d5 623px,#412dbd 626px,#402bb6 628px,#402bb7 629px,#422fc0 631px,#4639da 634px,#484aee 637px,#4755f6 639px,#4660fc 642px,#4562fc 644px,#465ffb 646px,#484df0 650px,#4741e5 652px,#4433cc 655px,#412dbd 657px,#402bb6 659px,#412dbc 661px,#4433cc 663px,#4742e6 666px,#484ef1 668px,#4756f7 670px,#4759f8 673px,#484ff1 676px,#4743e7 678px,#4433cd 681px,#412dbd 683px,#402bb6 685px,#412ebd 687px,#4434ce 689px,#4744e8 692px,#4853f5 695px)"></i>
<i style="left:356px;width:4px;background:linear-gradient(#3677fe 88px,#4269fe 92px,#4758f8 97px,#4848ec 102px,#4639da 107px,#422fc1 114px,#412dbc 117px,#412dbc 120px,#4331c6 123px,#463cde 127px,#4854f5 132px,#416bfe 136px,#317efb 139px,#2797ea 144px,#1fa6e2 148px,#1aacdd 151px,#07b5d0 159px,#01b8ca 163px,#01b9c6 169px,#01b8ca 172px,#06b5cf 174px,#1caadf 179px,#2c8ff1 186px,#2f82f9 189px,#3876fe 192px,#406cfe 195px,#4367fd 200px,#3f6eff 203px,#3678fd 205px,#2e85f8 207px,#2a93ee 209px,#1da8e0 212px,#15afd9 213px,#07b5d0 214px,#02bac5 215px,#11beb9 216px,#25c2ae 217px,#3ac994 219px,#5ccc76 221px,#94ca4a 224px,#a4c83e 225px,#bcc42f 227px,#d1bf27 230px,#e4bb2c 234px,#f7ba3c 240px,#febe3c 244px,#fec736 251px,#fec239 262px,#fec636 280px,#fdce31 287px,#f5e725 299px,#f5ec22 306px,#f8f719 349px,#f9fa15 386px,#f8f718 423px,#f5ee21 464px,#f5ea24 468px,#fdcd32 481px,#fec735 493px,#febe3c 498px,#f9ba3d 500px,#e1bc2b 504px,#d3bf27 505px,#bdc32e 506px,#9fc941 507px,#56cc7b 509px,#38c896 510px,#26c2ac 511px,#08bcbf 512px,#06b5cf 513px,#18aedb 514px,#22a1e4 516px,#249fe5 518px,#1ea7e1 521px,#14b0d8 523px,#01b8ca 525px,#04bbc2 526px,#1fc0b2 528px,#28c3ab 529px,#32c69f 531px,#35c79a 533px,#33c79d 535px,#2ac3a9 538px,#1cc0b4 540px,#06bcc0 542px,#01b9c7 543px,#04b6cd 544px,#1aacdd 546px,#22a2e4 547px,#2896eb 548px,#3677fe 550px,#4466fd 551px,#4757f7 552px,#473fe3 554px,#4539d8 555px,#4536d2 556px,#4537d6 558px,#463ee1 560px,#4757f7 564px,#4466fd 566px,#3875fe 568px,#2e83f9 570px,#2c8ff1 573px,#2b91ef 575px,#2c8ef1 577px,#2e85f8 579px,#307ffb 580px,#3f6eff 582px,#465dfa 584px,#484cf0 586px,#4537d5 589px,#422fc1 591px,#402bb7 593px,#412cb9 595px,#4434ce 598px,#4743e7 601px,#4756f7 604px,#416bfe 608px,#3c71ff 611px,#416bfe 614px,#475cfa 617px,#4850f2 619px,#4743e7 621px,#4538d7 623px,#422ebe 626px,#402bb6 628px,#402bb6 629px,#422ebe 631px,#4538d7 634px,#4849ed 637px,#4854f5 639px,#4660fb 642px,#4562fc 644px,#465ffb 646px,#484ef1 650px,#4742e6 652px,#4434ce 655px,#422ebe 657px,#402bb6 659px,#402bb7 660px,#422fc0 662px,#4740e4 666px,#484cef 668px,#4755f6 670px,#475af9 672px,#4758f8 674px,#484bef 677px,#473fe3 679px,#422ebf 683px,#402bb7 685px,#402bb7 686px,#422fc1 688px,#4741e5 692px,#484cf0 694px,#4755f6 696px)"></i>
<i style="left:360px;width:4px;background:linear-gradient(#3a73fe 89px,#4369fe 92px,#4757f7 97px,#4747eb 102px,#4539d9 107px,#422fc0 114px,#412dbb 117px,#412dbd 120px,#4331c8 123px,#463ddf 127px,#4755f6 132px,#406dfe 136px,#307ffb 139px,#2798ea 144px,#1fa6e2 148px,#1aacdd 151px,#07b5d0 159px,#01b7ca 163px,#01b9c7 168px,#01b8c9 171px,#08b4d1 174px,#1babde 178px,#2b91ef 185px,#3080fb 189px,#406dfe 194px,#4465fd 199px,#4367fd 201px,#406dfe 203px,#3678fe 205px,#2e85f8 207px,#2a93ee 209px,#1da9e0 212px,#14b0d8 213px,#06b5cf 214px,#02bac4 215px,#26c2ac 217px,#3bc992 219px,#5ecd74 221px,#97ca48 224px,#a6c83d 225px,#bdc32e 227px,#d2bf27 230px,#e4bb2c 234px,#f6ba3c 240px,#fdbd3d 244px,#fec636 251px,#fec13a 264px,#fec735 283px,#fdcd31 287px,#f5e625 298px,#f5ed22 306px,#f8f719 349px,#f9fa15 386px,#f8f719 424px,#f5ee21 464px,#f5ea24 468px,#fdcc32 481px,#fec636 493px,#fdbd3d 498px,#f7ba3c 500px,#dfbc2a 504px,#d1bf27 505px,#bbc430 506px,#9dc943 507px,#53cc7d 509px,#37c898 510px,#25c2ae 511px,#06bcc0 512px,#08b4d0 513px,#19addc 514px,#20a5e2 515px,#259de7 517px,#22a1e4 520px,#18aedb 523px,#05b6cd 525px,#01b9c6 526px,#0abdbe 527px,#24c1af 529px,#2fc5a3 531px,#33c69e 533px,#31c6a0 535px,#2cc4a6 537px,#22c1b0 539px,#04bbc2 542px,#01b8c8 543px,#06b6ce 544px,#1aacdd 546px,#21a3e4 547px,#2797eb 548px,#3579fd 550px,#4368fe 551px,#4759f8 552px,#4740e4 554px,#4435d1 556px,#4536d3 558px,#463cde 560px,#484df0 563px,#4563fc 566px,#3b72ff 568px,#2f80fa 570px,#2c8ef2 573px,#2b91ef 575px,#2c8ef2 577px,#2e85f8 579px,#307ffb 580px,#3e70ff 582px,#465efb 584px,#4745ea 587px,#4538d7 589px,#422fc3 591px,#402bb7 593px,#402bb6 594px,#412dbd 596px,#4537d5 599px,#4742e6 601px,#4755f6 604px,#426afe 608px,#3c71ff 611px,#416bfe 614px,#465dfa 617px,#4851f3 619px,#473ee1 622px,#4435d0 624px,#412cba 627px,#402bb6 629px,#412dbd 631px,#4537d5 634px,#4747eb 637px,#4852f4 639px,#465ffb 642px,#4562fc 644px,#4660fb 646px,#484ff2 650px,#463ee1 653px,#4435d0 655px,#412cba 658px,#402bb6 660px,#412ebe 662px,#4434cf 664px,#4744e8 667px,#484ff2 669px,#4757f7 671px,#4758f8 674px,#484df0 677px,#463cde 680px,#412dbc 684px,#402bb6 686px,#412ebe 688px,#4434cf 690px,#4744e8 693px,#484ff2 695px,#4756f7 697px)"></i>
<i style="left:364px;width:4px;background:linear-gradient(#3f6fff 90px,#4464fd 93px,#4853f5 98px,#4743e7 103px,#4538d8 107px,#422ebf 114px,#412dbb 119px,#4230c4 122px,#463adb 126px,#4851f4 131px,#4368fe 135px,#3974fe 137px,#2f81fa 139px,#2995ec 143px,#21a3e3 147px,#1aacdd 151px,#08b5d0 159px,#01b8ca 164px,#01b8c8 169px,#07b5d0 173px,#1caadf 178px,#2c8ef1 185px,#317dfc 189px,#416afe 194px,#4563fd 199px,#4465fd 201px,#406cfe 203px,#3777fe 205px,#2e85f8 207px,#2d8cf3 208px,#22a2e4 211px,#14b0d8 213px,#05b6ce 214px,#02bbc3 215px,#27c2ab 217px,#3dc991 219px,#60cd72 221px,#98c946 224px,#a8c73c 225px,#bec32e 227px,#d2bf27 230px,#e4bb2c 234px,#f8ba3d 241px,#fdbd3d 244px,#fec437 251px,#fec03a 260px,#fec437 282px,#fdcc32 287px,#f5e526 297px,#f5ed22 306px,#f8f619 347px,#f9fa15 385px,#f8f719 424px,#f5ee21 464px,#f5ea24 468px,#fdcb33 481px,#fec636 492px,#febe3c 497px,#f9bb3d 499px,#ebba31 502px,#ddbd29 504px,#cfc028 505px,#b8c431 506px,#9ac945 507px,#51cc7f 509px,#36c799 510px,#23c1af 511px,#04bbc2 512px,#0ab4d2 513px,#1aabdd 514px,#21a4e3 515px,#269be8 517px,#249fe6 520px,#1aabdd 523px,#14b0d8 524px,#01b8c9 526px,#04bbc2 527px,#1ec0b2 529px,#27c2ac 530px,#2cc4a7 531px,#30c5a1 533px,#2dc4a5 536px,#26c2ad 538px,#02bbc3 542px,#01b8c9 543px,#07b5cf 544px,#1aacdd 546px,#21a3e3 547px,#2798ea 548px,#337bfd 550px,#426afe 551px,#475af9 552px,#4741e5 554px,#4435d0 556px,#4434ce 557px,#4537d5 559px,#473ee1 561px,#4851f3 564px,#4368fd 567px,#317efb 570px,#2d8cf3 573px,#2c90f0 575px,#2c8ef2 577px,#2e86f7 579px,#3080fa 580px,#3d71ff 582px,#4660fb 584px,#4747eb 587px,#4539d9 589px,#412dbd 592px,#402bb6 594px,#412dbc 596px,#4536d3 599px,#4740e4 601px,#484df0 603px,#4759f8 605px,#4269fe 608px,#3d71ff 611px,#3e6fff 613px,#4368fe 615px,#4758f8 618px,#4746ea 621px,#4535d2 624px,#412dbb 627px,#402bb6 629px,#402bb8 630px,#422fc2 632px,#4536d3 634px,#4746ea 637px,#4851f3 639px,#465efb 642px,#4562fc 644px,#4660fc 646px,#4850f3 650px,#473fe3 653px,#4536d3 655px,#412dbb 658px,#402bb6 660px,#412dbc 662px,#4433cc 664px,#4742e6 667px,#484df1 669px,#4756f7 671px,#4759f8 674px,#4853f5 676px,#484aed 678px,#473ee1 680px,#4434cf 682px,#422ebe 684px,#402bb6 686px,#412dbb 688px,#4536d4 691px,#4747eb 694px,#4851f3 696px,#4757f7 698px)"></i>
<i style="left:368px;width:4px;background:linear-gradient(#426afe 91px,#4852f4 98px,#4742e6 103px,#4538d7 107px,#422ebf 114px,#412dbc 119px,#4330c5 122px,#463bdd 126px,#4853f4 131px,#4269fe 135px,#327cfc 138px,#2895ec 143px,#21a3e3 147px,#1baadf 150px,#07b5cf 160px,#02b7cb 164px,#02b7cb 170px,#0ab4d1 173px,#18aedb 176px,#23a1e4 180px,#337bfd 189px,#416bfe 193px,#4564fd 196px,#4561fc 199px,#4464fd 201px,#416bfe 203px,#3776fe 205px,#2e84f8 207px,#2d8cf3 208px,#22a2e4 211px,#13b0d7 213px,#05b6cd 214px,#03bbc2 215px,#28c3aa 217px,#3eca90 219px,#62cd71 221px,#9ac946 224px,#a8c73b 225px,#bfc32e 227px,#d2bf27 230px,#e3bb2c 234px,#f7ba3d 241px,#fbbc3d 243px,#fec338 250px,#fec03b 259px,#fec239 282px,#fec934 286px,#f5e626 297px,#f5ed22 306px,#f8f719 348px,#f9fa15 386px,#f8f719 425px,#f5ee21 464px,#f5ea24 468px,#feca34 481px,#fec537 492px,#fdbd3d 497px,#f8ba3d 499px,#e9bb30 502px,#dbbd29 504px,#ccc028 505px,#b6c532 506px,#98ca47 507px,#73cd63 508px,#4fcc81 509px,#35c79b 510px,#21c1b0 511px,#02bac3 512px,#0db3d3 513px,#1baade 514px,#22a2e4 515px,#2699ea 517px,#269ae9 519px,#23a0e5 521px,#1da9e0 523px,#18aedb 524px,#04b6cd 526px,#01bac5 527px,#0abdbe 528px,#22c1b0 530px,#28c3aa 531px,#2cc4a6 532px,#2ec5a4 534px,#2bc3a7 536px,#23c1af 538px,#02bac5 542px,#02b7cb 543px,#08b4d1 544px,#1aabdd 546px,#21a3e3 547px,#2798ea 548px,#327cfc 550px,#416bfe 551px,#475cfa 552px,#4742e7 554px,#4435d0 556px,#4433cc 557px,#4435d2 559px,#463cdf 561px,#484ff2 564px,#4465fd 567px,#3974fe 569px,#2f82fa 571px,#2d8af4 573px,#2c8ff1 575px,#2d8df2 577px,#2e86f7 579px,#347afd 581px,#3c72ff 582px,#4561fc 584px,#4848ec 587px,#463adb 589px,#412ebe 592px,#402bb6 594px,#412cba 596px,#4435d1 599px,#473fe2 601px,#4852f4 604px,#465efb 606px,#416cfe 609px,#3d70ff 611px,#3e6fff 613px,#4464fd 616px,#4854f5 619px,#4741e5 622px,#4536d4 624px,#412dbc 627px,#402bb6 629px,#402bb7 630px,#422fc0 632px,#473ee2 636px,#484aee 638px,#4755f6 640px,#4660fb 643px,#4562fc 645px,#465efb 647px,#484cf0 651px,#4741e4 653px,#4433cc 656px,#412dbd 658px,#402bb6 660px,#402bb7 661px,#422fc1 663px,#463bdc 666px,#4746ea 668px,#4851f3 670px,#4758f8 672px,#4758f8 675px,#484cef 678px,#4740e4 680px,#4536d3 682px,#412cbb 685px,#402bb6 687px,#422ebe 689px,#4435d0 691px,#4744e8 694px,#484ff2 696px,#4758f8 699px)"></i>
<i style="left:372px;width:4px;background:linear-gradient(#4466fd 92px,#484ef1 99px,#4537d6 107px,#4331c6 111px,#422ebe 114px,#412dbb 117px,#422ebf 120px,#4331c6 122px,#463cde 126px,#4854f5 131px,#4464fd 134px,#3d71ff 136px,#317dfc 138px,#2e83f9 139px,#2896ec 143px,#1fa6e2 148px,#17aedb 153px,#07b5d0 160px,#01b8ca 168px,#08b5d0 172px,#1ca9df 177px,#2c8ef1 184px,#2f81fa 187px,#3578fd 189px,#4269fe 193px,#4562fc 196px,#4660fb 199px,#4563fc 201px,#426afe 203px,#3876fe 205px,#2e84f8 207px,#2a93ed 209px,#1caadf 212px,#13b0d7 213px,#04b6cd 214px,#04bbc2 215px,#29c3aa 217px,#3eca8f 219px,#63cd70 221px,#9ac945 224px,#a9c73b 225px,#bfc32e 227px,#d1bf27 230px,#dbbd29 232px,#eabb30 236px,#f9ba3d 242px,#febe3c 246px,#fec239 250px,#febf3b 258px,#febf3b 281px,#fec835 286px,#f5e526 296px,#f5ed22 306px,#f8f719 347px,#f9fa15 386px,#f8f719 425px,#f5ee21 464px,#f5ea24 468px,#feca33 480px,#fec438 492px,#fcbd3d 497px,#f7ba3c 499px,#e7bb2e 502px,#d9be28 504px,#cac129 505px,#b4c534 506px,#96ca49 507px,#71cd64 508px,#4dcb82 509px,#34c79c 510px,#1fc0b2 511px,#02bac5 512px,#0fb2d5 513px,#1ca9e0 514px,#23a1e5 515px,#2797eb 517px,#2797ea 519px,#22a2e4 522px,#1aabdd 524px,#01b8c9 527px,#05bbc1 528px,#1cc0b3 530px,#25c2ae 531px,#2cc4a7 533px,#2cc4a7 534px,#25c2ad 537px,#19bfb6 539px,#06bcc0 541px,#01b9c6 542px,#03b7cc 543px,#13b0d7 545px,#21a3e3 547px,#2699e9 548px,#317efb 550px,#406dfe 551px,#465efb 552px,#4744e8 554px,#4435d0 556px,#4332ca 557px,#4434cf 559px,#463adb 561px,#484cf0 564px,#4562fc 567px,#3c71ff 569px,#307ffb 571px,#2d8cf3 574px,#2c8ef1 576px,#2d8af4 578px,#2f81fa 580px,#3b73fe 582px,#4562fc 584px,#4852f4 586px,#463bdd 589px,#422ebf 592px,#402bb6 594px,#402bb7 595px,#422ebf 597px,#4538d8 600px,#4744e8 602px,#4850f3 604px,#475cfa 606px,#416bfe 609px,#3e70ff 611px,#3e6fff 613px,#4465fd 616px,#4755f6 619px,#4742e6 622px,#4537d6 624px,#412dbd 627px,#402bb6 629px,#402bb7 630px,#422ebf 632px,#4538d8 635px,#4849ed 638px,#4853f5 640px,#465ffb 643px,#4561fc 645px,#465efb 647px,#484df1 651px,#4742e6 653px,#4434ce 656px,#412ebe 658px,#402bb6 660px,#412cba 662px,#4435d1 665px,#4744e9 668px,#484ff2 670px,#4757f7 672px,#4758f8 675px,#484df1 678px,#4742e6 680px,#4433cd 683px,#412dbd 685px,#402bb6 687px,#412dbc 689px,#4537d6 692px,#4847ec 695px,#4755f6 698px,#4758f8 700px)"></i>
<i style="left:376px;width:4px;background:linear-gradient(#4562fc 93px,#484aee 100px,#4537d5 107px,#4331c5 111px,#412ebe 114px,#412dbb 117px,#422ebf 120px,#4639d9 125px,#4850f2 130px,#4466fd 134px,#3c72ff 136px,#317efb 138px,#2796eb 143px,#1fa6e1 148px,#18aedb 153px,#08b5d0 160px,#02b7cb 167px,#07b5cf 171px,#1babde 176px,#2b91ef 183px,#307ffb 187px,#3876fe 189px,#3f6dfe 191px,#4464fd 194px,#465efb 199px,#4562fc 201px,#426afe 203px,#3875fe 205px,#2e84f8 207px,#2a93ed 209px,#1caadf 212px,#13b1d7 213px,#04b6cd 214px,#04bbc2 215px,#29c3aa 217px,#3eca8f 219px,#50cc7f 220px,#77cc60 222px,#9ac945 224px,#a9c73b 225px,#bec32e 227px,#d1bf27 230px,#dabd28 232px,#e9bb30 236px,#f8ba3d 242px,#fdbd3d 246px,#fec13a 250px,#fdbd3d 281px,#fec834 286px,#f5e427 295px,#f5ed22 306px,#f8f719 347px,#f9fa15 386px,#f8f718 425px,#f5ee21 464px,#f5ea24 468px,#feca34 480px,#fec338 492px,#febd3c 496px,#f5ba3b 499px,#e6bb2d 502px,#d7be28 504px,#c9c129 505px,#b2c535 506px,#94ca4a 507px,#6fcd66 508px,#4bcb84 509px,#33c69e 510px,#1dc0b3 511px,#01b9c6 512px,#12b1d6 513px,#1da8e0 514px,#2698ea 516px,#2994ed 518px,#259be8 521px,#1da9e0 524px,#17aeda 525px,#04b6cc 527px,#02bac5 528px,#1fc1b1 531px,#28c3aa 533px,#28c3aa 535px,#23c1af 537px,#04bbc2 541px,#01b9c8 542px,#05b6cd 543px,#15afd8 545px,#21a3e3 547px,#2699e9 548px,#307ffb 550px,#3f6fff 551px,#465ffb 552px,#4745e9 554px,#463bdd 555px,#4435d1 556px,#4332c9 557px,#4433cc 559px,#4538d8 561px,#4849ed 564px,#465ffb 567px,#3f6fff 569px,#317dfc 571px,#2e83f9 572px,#2d8af4 574px,#2d8df2 576px,#2d8af4 578px,#2f82fa 580px,#327cfc 581px,#3a74fe 582px,#406cfe 583px,#475bfa 585px,#4743e7 588px,#4536d4 590px,#422fc0 592px,#402bb7 594px,#402bb6 595px,#412ebe 597px,#4537d6 600px,#4742e6 602px,#484ff2 604px,#475bf9 606px,#426afe 609px,#3e6fff 611px,#3e6fff 613px,#4466fd 616px,#4756f7 619px,#4743e7 622px,#4434ce 625px,#412cb9 628px,#402bb6 630px,#412ebe 632px,#4537d6 635px,#4747eb 638px,#4852f4 640px,#465efb 643px,#4561fc 645px,#465ffb 647px,#484ef1 651px,#463de0 654px,#422ebf 658px,#402bb7 660px,#402bb6 661px,#412ebe 663px,#4538d8 666px,#4743e7 668px,#484ef1 670px,#4756f6 672px,#4759f8 675px,#484ff2 678px,#473ee2 681px,#422ebf 685px,#402bb6 687px,#402bb6 688px,#422ec0 690px,#4435d2 692px,#473fe3 694px,#484bee 696px,#4756f7 699px,#4757f7 701px)"></i>
<i style="left:380px;width:4px;background:linear-gradient(#465dfb 94px,#484df0 99px,#463bdc 105px,#4331c8 110px,#422ebf 113px,#412dbb 117px,#422ec0 120px,#4434ce 123px,#463de0 126px,#4756f7 131px,#406dfe 135px,#307ffb 138px,#2797eb 143px,#1fa6e1 148px,#18aedb 153px,#07b5cf 161px,#03b7cc 167px,#09b4d1 171px,#1caadf 176px,#2c8ff1 183px,#2f81fa 186px,#3678fd 188px,#4368fe 192px,#465efb 196px,#465dfa 199px,#4561fc 201px,#4269fe 203px,#3975fe 205px,#2e84f9 207px,#2a93ee 209px,#1caadf 212px,#13b1d7 213px,#04b6cd 214px,#04bbc1 215px,#29c3a9 217px,#3eca8f 219px,#50cc7f 220px,#76cc60 222px,#9ac946 224px,#a8c73b 225px,#bdc32e 227px,#cfc028 230px,#d9be28 232px,#ebba31 237px,#f9bb3d 243px,#febf3b 249px,#fcbd3d 268px,#f8ba3d 277px,#fabb3d 280px,#febe3c 282px,#fec934 286px,#f5e526 295px,#f5ee21 307px,#f8f719 348px,#f9fa15 386px,#f8f719 426px,#f5ee21 464px,#f5ea23 468px,#fec934 480px,#fec239 492px,#fdbd3d 496px,#f8ba3d 498px,#e4bb2c 502px,#d6be28 504px,#c7c12a 505px,#b0c636 506px,#92ca4c 507px,#6dcd67 508px,#49cb85 509px,#32c69f 510px,#01b9c7 512px,#13b0d7 513px,#1ea7e1 514px,#2797eb 516px,#2b91ef 518px,#2798ea 521px,#1ea6e1 524px,#13b0d7 526px,#07b5d0 527px,#01b8c8 528px,#05bbc1 529px,#1abfb5 531px,#25c2ad 533px,#25c2ad 535px,#1fc0b2 537px,#02bac4 541px,#01b8c9 542px,#06b5cf 543px,#1baade 546px,#21a3e3 547px,#269ae9 548px,#2f80fa 550px,#3d70ff 551px,#4561fc 552px,#4853f5 553px,#463cdf 555px,#4332c9 557px,#4331c7 558px,#4434ce 560px,#463bdd 562px,#484ef1 565px,#4464fd 568px,#3a74fe 570px,#2f81fa 572px,#2d89f5 574px,#2d8cf3 576px,#2d8af4 578px,#2f82f9 580px,#3975fe 582px,#406dfe 583px,#475cfa 585px,#4744e9 588px,#4537d6 590px,#422fc2 592px,#402bb7 594px,#402bb6 595px,#412dbc 597px,#4536d5 600px,#4741e5 602px,#484ef1 604px,#475af9 606px,#4269fe 609px,#3d70ff 612px,#3f6efe 614px,#4367fd 616px,#4757f7 619px,#4744e8 622px,#4435d0 625px,#412cba 628px,#402bb6 630px,#412dbc 632px,#4536d4 635px,#4746ea 638px,#4851f3 640px,#465dfb 643px,#4561fc 645px,#465ffb 647px,#484ff2 651px,#473fe2 654px,#4435d1 656px,#412dbb 659px,#402bb6 661px,#412dbc 663px,#4537d5 666px,#4747eb 669px,#4758f8 673px,#4757f7 676px,#484bef 679px,#4740e4 681px,#4536d4 683px,#412dbb 686px,#402bb6 688px,#412dbd 690px,#463de0 694px,#4848ec 696px,#4755f6 699px,#4756f7 702px)"></i>
<i style="left:384px;width:4px;background:linear-gradient(#4759f8 95px,#4849ed 100px,#463adb 105px,#4331c7 110px,#422ebf 113px,#412dbb 117px,#422fc1 120px,#4537d6 124px,#484cf0 129px,#4562fc 133px,#3f6efe 135px,#3080fa 138px,#2797ea 143px,#20a4e3 147px,#10b2d5 157px,#07b5d0 161px,#04b6cd 166px,#08b4d0 170px,#1babde 175px,#2b91ef 182px,#307ffb 186px,#3875fe 188px,#4269fe 191px,#4660fc 194px,#475cfa 199px,#4660fb 201px,#4368fe 203px,#3975fe 205px,#2e84f9 207px,#2a93ee 209px,#1caadf 212px,#13b1d7 213px,#04b6cd 214px,#04bbc1 215px,#29c3aa 217px,#3eca8f 219px,#50cc80 220px,#76cc61 222px,#99c946 224px,#a7c73c 225px,#bcc42f 227px,#cec028 230px,#dcbd29 233px,#edba33 238px,#f8ba3d 243px,#febe3c 249px,#fbbc3d 267px,#f3ba38 276px,#f8ba3d 280px,#fdbd3d 282px,#fec636 285px,#f5e427 294px,#f5ed21 306px,#f8f719 346px,#f9fa15 386px,#f8f718 426px,#f5ef21 464px,#f5eb23 468px,#fec834 480px,#fcbd3d 496px,#f7ba3c 498px,#e9bb30 501px,#d4bf28 504px,#c6c22a 505px,#afc637 506px,#90ca4d 507px,#6ccd69 508px,#48cb86 509px,#31c6a0 510px,#01b8c9 512px,#15afd8 513px,#1fa6e2 514px,#2895ec 516px,#2c8ff1 518px,#2896ec 521px,#20a4e3 524px,#16aeda 526px,#03b7cc 528px,#02bac5 529px,#1cc0b4 532px,#21c1b0 533px,#23c1af 534px,#1fc1b1 536px,#15bfb7 538px,#06bcc0 540px,#01bac5 541px,#02b7cb 542px,#08b4d0 543px,#17aedb 545px,#21a3e3 547px,#269ae9 548px,#2f81fa 550px,#3c72ff 551px,#4562fc 552px,#4755f6 553px,#463de0 555px,#4332c8 557px,#4330c5 558px,#4433cb 560px,#4639da 562px,#484cef 565px,#4562fc 568px,#3c71ff 570px,#307ffb 572px,#2d88f6 574px,#2d8cf3 576px,#2d8af5 578px,#2f82f9 580px,#317dfc 581px,#3f6eff 583px,#465efb 585px,#4746ea 588px,#4538d8 590px,#412dbc 593px,#402bb6 595px,#412dbb 597px,#4536d3 600px,#4740e4 602px,#484cf0 604px,#465efb 607px,#416cfe 610px,#3e70ff 612px,#3f6eff 614px,#4367fd 616px,#4758f8 619px,#4745e9 622px,#4435d2 625px,#412dbb 628px,#402bb6 630px,#402bb7 631px,#422fc2 633px,#473fe3 637px,#484aee 639px,#4755f6 641px,#465ffb 644px,#465ffb 647px,#4850f3 651px,#4740e3 654px,#4536d3 656px,#412dbc 659px,#402bb6 661px,#402bb7 662px,#422fc1 664px,#463adc 667px,#4745ea 669px,#4757f7 673px,#4758f8 676px,#484df0 679px,#4742e6 681px,#4434ce 684px,#412ebd 686px,#402bb6 688px,#412dbb 690px,#4536d4 693px,#4741e4 695px,#484cef 697px,#4756f7 700px,#4854f5 703px)"></i>
<i style="left:388px;width:4px;background:linear-gradient(#4755f6 96px,#4848ec 100px,#463ada 105px,#4331c7 110px,#422ebf 113px,#412dbb 117px,#422fc1 120px,#4538d7 124px,#484df1 129px,#4563fd 133px,#3e6fff 135px,#2f81fa 138px,#2798ea 143px,#20a4e3 147px,#11b1d6 157px,#08b4d1 161px,#05b6ce 166px,#07b5d0 169px,#1ca9df 175px,#2c8ff1 182px,#2f81fa 185px,#3678fe 187px,#416afe 190px,#4661fc 193px,#475bf9 196px,#475af9 199px,#465ffb 201px,#4367fd 203px,#3974fe 205px,#2e83f9 207px,#2a93ee 209px,#1caadf 212px,#13b1d7 213px,#04b6cd 214px,#04bbc2 215px,#29c3aa 217px,#3eca8f 219px,#61cd71 221px,#97ca48 224px,#a5c83d 225px,#bac430 227px,#ccc028 230px,#dabd28 233px,#ecba32 238px,#f8ba3d 244px,#fcbd3d 249px,#f9bb3d 266px,#edba34 275px,#efba35 277px,#f7ba3c 280px,#fdbd3d 282px,#fec338 284px,#f5e327 293px,#f5ee21 306px,#f8f719 346px,#f9fa15 386px,#f8f718 426px,#f5ef20 464px,#f5eb23 468px,#f5e228 471px,#fccf30 477px,#fec636 481px,#febf3c 494px,#fcbc3d 496px,#f6ba3b 498px,#e8bb2f 501px,#d3bf27 504px,#c5c22a 505px,#aec637 506px,#8fcb4e 507px,#6acd6a 508px,#47cb87 509px,#30c5a1 510px,#01b8ca 512px,#16afd9 513px,#20a4e3 514px,#2a93ed 516px,#2d8df2 518px,#2a93ed 521px,#22a1e4 524px,#19acdc 526px,#07b5cf 528px,#01b8c8 529px,#04bbc1 530px,#16bfb7 532px,#1ec0b2 534px,#17bfb6 537px,#04bbc2 540px,#01b9c7 541px,#03b6cc 542px,#0ab4d2 543px,#19addc 545px,#21a3e4 547px,#269ae9 548px,#2f82f9 550px,#3a73fe 551px,#4564fd 552px,#4756f7 553px,#473ee1 555px,#4332c9 557px,#4230c3 558px,#4331c8 560px,#4537d6 562px,#4849ed 565px,#465ffb 568px,#3f6eff 570px,#327cfc 572px,#2e86f7 574px,#2d8bf4 576px,#2d8af5 578px,#2e83f9 580px,#317dfc 581px,#3e6fff 583px,#465ffb 585px,#4747eb 588px,#4639d9 590px,#412dbd 593px,#402bb6 595px,#412cbb 597px,#4435d1 600px,#473fe2 602px,#4851f4 605px,#465dfa 607px,#416bfe 610px,#3e6fff 612px,#3f6eff 614px,#4368fe 616px,#4759f8 619px,#4746eb 622px,#4536d3 625px,#412dbc 628px,#402bb6 630px,#402bb7 631px,#422fc0 633px,#4639d9 636px,#4849ed 639px,#4854f5 641px,#465ffb 644px,#4661fc 646px,#465dfb 648px,#484cef 652px,#4741e4 654px,#4433cc 657px,#412dbd 659px,#402bb6 661px,#412cba 663px,#4435d1 666px,#4744e8 669px,#484ef1 671px,#4756f7 673px,#4758f8 676px,#484ef1 679px,#473ee1 682px,#422ec0 686px,#402bb7 688px,#402bb6 689px,#422ebf 691px,#4435d0 693px,#473ee2 695px,#484aed 697px,#4853f4 699px,#4757f7 701px,#4852f4 704px)"></i>
<i style="left:392px;width:4px;background:linear-gradient(#4851f3 97px,#4639da 105px,#4331c6 110px,#422ebe 113px,#412dbb 117px,#422fc2 120px,#4538d8 124px,#484ef1 129px,#4464fd 133px,#3d70ff 135px,#2f82fa 138px,#2698ea 143px,#20a4e3 147px,#11b1d6 157px,#08b5d0 162px,#06b5cf 165px,#0ab4d1 169px,#1da8e0 175px,#2b91ef 181px,#307ffb 185px,#3975fe 187px,#4368fe 190px,#465ffb 193px,#4759f8 196px,#4759f8 199px,#465efb 201px,#4367fd 203px,#3a74fe 205px,#2e83f9 207px,#2a93ee 209px,#22a2e4 211px,#13b0d7 213px,#04b6cd 214px,#04bbc2 215px,#28c3aa 217px,#3dc990 219px,#60cd72 221px,#95ca49 224px,#a3c83f 225px,#b8c431 227px,#cac129 230px,#d9be28 233px,#eaba31 238px,#f7ba3c 244px,#fbbc3d 249px,#f7ba3c 264px,#e7bb2e 274px,#ebba31 277px,#f6ba3b 280px,#fdbd3d 282px,#fec437 284px,#f7dc2a 290px,#f5e427 293px,#f5ee21 306px,#f8f719 346px,#f9fa15 386px,#f8f718 426px,#f6ef20 464px,#f5e924 469px,#f9d72c 474px,#fec636 481px,#febe3c 494px,#fbbc3d 496px,#f5ba3b 498px,#e7bb2e 501px,#d2bf27 504px,#c4c22b 505px,#adc638 506px,#8fcb4e 507px,#6acd6a 508px,#46cb88 509px,#30c5a1 510px,#16bfb7 511px,#02b7ca 512px,#17aeda 513px,#21a3e3 514px,#2b92ef 516px,#2d8af4 518px,#2b91ef 521px,#249fe6 524px,#16afd9 527px,#03b7cc 529px,#02bac5 530px,#17bfb7 533px,#1abfb5 534px,#17bfb6 536px,#02bac4 540px,#01b8c9 541px,#0cb3d3 543px,#19acdc 545px,#22a2e4 547px,#269ae9 548px,#2e83f9 550px,#3974fe 551px,#4465fd 552px,#4757f7 553px,#473fe3 555px,#4332c9 557px,#422fc2 558px,#4330c5 560px,#463adc 563px,#4747eb 565px,#465dfa 568px,#406cfe 570px,#3a73fe 571px,#3080fa 573px,#2d88f6 575px,#2d8af4 577px,#2e87f7 579px,#317efb 581px,#3e70ff 583px,#4660fb 585px,#4848ec 588px,#463adb 590px,#422ebe 593px,#402bb6 595px,#412cba 597px,#4434cf 600px,#4744e8 603px,#4850f3 605px,#475cfa 607px,#426afe 610px,#3e6fff 612px,#3f6eff 614px,#4464fd 617px,#4854f5 620px,#4741e5 623px,#4537d5 625px,#412dbd 628px,#402bb6 630px,#402bb7 631px,#422ebf 633px,#4538d8 636px,#4848ec 639px,#4853f5 641px,#465efb 644px,#4661fc 646px,#465efb 648px,#484df0 652px,#4742e6 654px,#4434cd 657px,#412ebe 659px,#402bb6 661px,#402bb6 662px,#422ebe 664px,#463de0 668px,#4848ec 670px,#4758f8 674px,#4757f7 677px,#484bee 680px,#4740e4 682px,#4536d4 684px,#412dbc 687px,#402bb6 689px,#412dbc 691px,#4433cd 693px,#4742e6 696px,#484df0 698px,#4855f6 700px,#4757f7 702px,#4850f2 705px)"></i>
<i style="left:396px;width:4px;background:linear-gradient(#484df1 98px,#4539d9 105px,#422fc0 112px,#412dbb 117px,#422fc3 120px,#4539d9 124px,#484ff2 129px,#4465fd 133px,#3c71ff 135px,#2e83f9 138px,#2699e9 143px,#20a4e3 147px,#12b1d6 157px,#0ab4d2 161px,#07b5d0 165px,#09b4d1 168px,#1ca9df 174px,#2c8ff1 181px,#2f81fa 184px,#3677fe 186px,#426afe 189px,#465ffb 192px,#4759f8 195px,#4757f7 198px,#475af9 200px,#4466fd 203px,#406cfe 204px,#327bfc 206px,#2a93ee 209px,#1caadf 212px,#13b0d7 213px,#04b6cd 214px,#03bbc2 215px,#28c2ab 217px,#3cc991 219px,#5ecd74 221px,#92ca4b 224px,#acc739 226px,#b5c533 227px,#c7c129 230px,#d2bf27 232px,#e6bb2d 237px,#f5ba3b 244px,#f9bb3d 249px,#f4ba39 264px,#e6bb2d 270px,#e1bc2b 273px,#e2bc2b 275px,#e8bb2f 277px,#f6ba3b 280px,#febd3c 282px,#fec13a 283px,#fbd22f 287px,#f5e327 292px,#f5ee21 306px,#f8f719 346px,#f9fa15 386px,#f8f818 426px,#f6ef20 464px,#f5ea24 469px,#f9d72d 474px,#fec537 481px,#febe3c 494px,#fbbc3d 496px,#f5ba3a 498px,#e6bb2d 501px,#d1bf27 504px,#c3c22b 505px,#adc638 506px,#8fcb4e 507px,#6acd6a 508px,#46cb88 509px,#30c5a2 510px,#15bfb8 511px,#02b7cb 512px,#18addb 513px,#21a2e4 514px,#2c90f0 516px,#2d88f6 518px,#2c8ef2 521px,#22a2e4 525px,#19addc 527px,#06b5cf 529px,#01b8c8 530px,#03bbc2 531px,#15bfb8 534px,#13beb9 536px,#01bac6 540px,#01b7ca 541px,#0fb2d4 543px,#1ea7e1 546px,#269ae9 548px,#2e84f9 550px,#3875fe 551px,#4367fd 552px,#4759f8 553px,#4740e4 555px,#4332ca 557px,#422fc2 558px,#422fc0 559px,#4230c3 560px,#4539d9 563px,#484cef 566px,#4562fc 569px,#3c71ff 571px,#317efb 573px,#2e86f7 575px,#2d89f5 577px,#2e87f7 579px,#317efb 581px,#3d70ff 583px,#4561fc 585px,#4851f3 587px,#463bdc 590px,#422ebf 593px,#402bb6 595px,#402bb6 596px,#412ebe 598px,#4538d7 601px,#4743e7 603px,#484ff2 605px,#475bf9 607px,#4269fe 610px,#3f6eff 612px,#3f6eff 614px,#4465fd 617px,#4755f6 620px,#4742e6 623px,#4537d6 625px,#412ebe 628px,#402bb6 630px,#412cb9 632px,#4434cd 635px,#463cdf 637px,#4747eb 639px,#4852f4 641px,#465dfb 644px,#4660fc 646px,#465efb 648px,#484ef1 652px,#463de0 655px,#422ebf 659px,#402bb7 661px,#402bb6 662px,#412dbd 664px,#4537d6 667px,#4747eb 670px,#4757f7 674px,#4757f7 677px,#484cf0 680px,#4742e6 682px,#4433cd 685px,#412ebd 687px,#402bb6 689px,#412cbb 691px,#4536d3 694px,#4740e4 696px,#4850f2 699px,#4757f7 702px,#4854f6 704px,#484df0 706px)"></i>
<i style="left:400px;width:4px;background:linear-gradient(#484aed 99px,#4536d5 106px,#4330c5 110px,#412ebe 113px,#412dbb 117px,#4230c3 120px,#4639da 124px,#484bee 128px,#475bf9 131px,#406cfe 134px,#317efb 137px,#2896ec 142px,#22a2e4 146px,#16afd9 155px,#09b4d1 164px,#0cb3d2 168px,#1da8e0 174px,#2895ec 179px,#307efb 184px,#3975fe 186px,#4367fd 189px,#465dfa 192px,#4757f7 195px,#4756f6 198px,#4759f8 200px,#4466fd 203px,#406cfe 204px,#337bfc 206px,#22a2e4 211px,#13b0d7 213px,#05b6ce 214px,#03bbc3 215px,#27c2ac 217px,#3bc992 219px,#5ccc75 221px,#8fca4d 224px,#9dc943 225px,#b1c635 227px,#c4c22a 230px,#d4bf28 233px,#e7bb2e 238px,#f2ba38 243px,#f7ba3c 248px,#f1ba36 263px,#e3bb2c 268px,#d9bd28 272px,#dbbd29 274px,#e1bc2b 276px,#f6ba3b 280px,#febe3c 282px,#fcd030 286px,#f5e128 291px,#f5ed22 303px,#f8f719 342px,#f9fa15 386px,#f8f718 428px,#f5ef20 465px,#f5ea23 469px,#f9d72d 474px,#fec537 481px,#febe3c 494px,#fabb3d 496px,#f8ba3d 497px,#e6bb2d 501px,#d0bf27 504px,#c3c22b 505px,#adc638 506px,#8fcb4e 507px,#6acd6a 508px,#46cb88 509px,#30c5a2 510px,#14bfb8 511px,#03b7cc 512px,#19addc 513px,#22a2e4 514px,#2c8ef1 516px,#2e85f8 518px,#2d8bf4 521px,#249fe5 525px,#15afd9 528px,#03b7cc 530px,#01bac6 531px,#0fbeba 534px,#10beba 535px,#0bbdbd 537px,#02bac3 539px,#01b9c7 540px,#03b7cc 541px,#11b1d6 543px,#1ea6e1 546px,#269ae9 548px,#2e84f8 550px,#3776fe 551px,#4368fd 552px,#484df0 554px,#4538d8 556px,#4332cb 557px,#422fc1 558px,#422ebf 559px,#4331c6 561px,#4537d6 563px,#4849ed 566px,#4660fb 569px,#3e6fff 571px,#327cfc 573px,#2e85f8 575px,#2d89f6 577px,#2e86f7 579px,#317efb 581px,#3c71ff 583px,#426afe 584px,#475af9 586px,#4743e7 589px,#4536d4 591px,#422fc0 593px,#402bb7 595px,#402bb6 596px,#412dbd 598px,#4537d6 601px,#4742e6 603px,#484ef1 605px,#465ffb 608px,#416cfe 611px,#3e6fff 613px,#406cfe 615px,#4661fc 618px,#4756f6 620px,#4743e7 623px,#4434ce 626px,#412cb9 629px,#402bb6 631px,#412dbd 633px,#4537d5 636px,#4746ea 639px,#4756f6 642px,#465ffb 645px,#465efb 648px,#484ef1 652px,#463ee1 655px,#4435d0 657px,#412cbb 660px,#402bb6 662px,#412dbc 664px,#4536d4 667px,#4746ea 670px,#4757f7 674px,#4758f8 677px,#484df1 680px,#463ee1 683px,#422ebf 687px,#402bb7 689px,#402bb6 690px,#422ebf 692px,#4434d0 694px,#463ee1 696px,#484ef1 699px,#4755f6 701px,#4757f7 703px,#4852f4 705px,#4849ed 707px)"></i>
<i style="left:404px;width:4px;background:linear-gradient(#4746ea 100px,#4536d4 106px,#4330c5 110px,#412ebe 113px,#412dbb 117px,#4230c4 120px,#463ada 124px,#484cef 128px,#4561fc 132px,#406dfe 134px,#307ffb 137px,#2796eb 142px,#21a3e4 146px,#16afda 155px,#0ab4d2 164px,#0cb3d3 167px,#1ca9e0 173px,#259be7 177px,#2f81fa 183px,#3777fe 185px,#4369fe 188px,#475bf9 192px,#4755f6 195px,#4854f5 198px,#4758f8 200px,#4465fd 203px,#416cfe 204px,#337bfd 206px,#22a2e4 211px,#14b0d8 213px,#05b6ce 214px,#02bac3 215px,#26c2ac 217px,#3ac994 219px,#5acc78 221px,#8ccb50 224px,#a5c83d 226px,#aec637 227px,#c1c32c 230px,#d1bf27 233px,#e5bb2d 238px,#f0ba36 243px,#f4ba39 249px,#edba34 262px,#e9bb30 264px,#debc2a 267px,#d4bf27 270px,#d2bf27 272px,#d6be28 274px,#debc2a 276px,#f0ba36 279px,#f6ba3b 280px,#febf3b 282px,#fbd22f 286px,#f5e227 291px,#f5ed21 303px,#f8f719 342px,#f9fa15 386px,#f8f818 427px,#f6ef20 465px,#f5eb23 469px,#f9d72d 474px,#fec537 481px,#febe3c 493px,#fabb3d 496px,#f8ba3d 497px,#e5bb2d 501px,#d0c028 504px,#c3c22b 505px,#aec637 506px,#90ca4d 507px,#6bcd69 508px,#47cb87 509px,#30c5a2 510px,#14bfb8 511px,#03b7cc 512px,#19acdc 513px,#23a1e4 514px,#2d8df2 516px,#2e83f9 518px,#2d88f6 521px,#2b91ef 523px,#22a2e4 526px,#19addc 528px,#06b5cf 530px,#01b8c9 531px,#02bac4 532px,#0abdbd 534px,#08bcbf 537px,#01b8c9 540px,#05b6cd 541px,#13b1d7 543px,#1fa6e2 546px,#269ae9 548px,#2e85f8 550px,#3677fe 551px,#4269fe 552px,#484ef1 554px,#4639d9 556px,#422fc1 558px,#412dbd 559px,#4230c3 561px,#463adc 564px,#4747eb 566px,#465efb 569px,#406dfe 571px,#3a74fe 572px,#3080fb 574px,#2d88f6 577px,#2e86f7 579px,#307ffb 581px,#3c72ff 583px,#426afe 584px,#475bf9 586px,#4743e8 589px,#4537d5 591px,#422fc2 593px,#402bb7 595px,#402bb6 596px,#412dbc 598px,#463bdd 602px,#4747eb 604px,#4853f5 606px,#465efb 608px,#416bfe 611px,#3f6fff 613px,#406dfe 615px,#4466fd 617px,#4756f7 620px,#4744e8 623px,#4434d0 626px,#412cba 629px,#402bb6 631px,#412dbc 633px,#4332cb 635px,#4740e3 638px,#484bee 640px,#4755f6 642px,#465ffb 645px,#465efb 648px,#484ff2 652px,#473fe2 655px,#4535d2 657px,#412dbb 660px,#402bb6 662px,#402bb7 663px,#422fc1 665px,#4536d2 667px,#4745e9 670px,#484ff2 672px,#4758f8 675px,#4756f7 678px,#484aee 681px,#473fe2 683px,#4536d2 685px,#412dbb 688px,#402bb6 690px,#412dbd 692px,#4433cd 694px,#4742e6 697px,#4851f3 700px,#4756f7 702px,#4756f6 704px,#484ff2 706px,#4745ea 708px)"></i>
<i style="left:408px;width:4px;background:linear-gradient(#4742e6 101px,#4536d4 106px,#4330c5 110px,#412ebd 113px,#412dbb 117px,#4230c4 120px,#463adb 124px,#484cf0 128px,#4562fc 132px,#3f6eff 134px,#3080fa 137px,#2a93ed 141px,#23a0e5 145px,#18addb 154px,#0cb3d3 163px,#0eb2d4 167px,#1ea7e1 173px,#2895ec 178px,#317efb 183px,#3a74fe 185px,#4466fd 188px,#4759f8 192px,#4853f5 195px,#4853f5 198px,#4757f8 200px,#4465fd 203px,#416bfe 204px,#337afd 206px,#22a1e4 211px,#14b0d8 213px,#06b5cf 214px,#02bac4 215px,#25c2ad 217px,#39c895 219px,#57cc7a 221px,#88cb53 224px,#a1c840 226px,#aac73a 227px,#c3c22b 231px,#d3bf27 234px,#e6bb2d 239px,#eeba34 243px,#f0ba36 251px,#eaba30 261px,#e6bb2d 263px,#d9be28 266px,#ccc028 269px,#c9c129 271px,#cdc028 273px,#dcbd29 276px,#eabb30 278px,#f7ba3c 280px,#fec13a 282px,#fccf30 285px,#f5e128 290px,#f5ee21 303px,#f8f719 342px,#f9fa15 385px,#f8f818 427px,#f6ef20 465px,#f5e924 470px,#fbd32e 475px,#fec537 481px,#febe3c 493px,#fabb3d 496px,#f8ba3d 497px,#e5bb2d 501px,#d7be28 503px,#c3c22b 505px,#aec637 506px,#91ca4c 507px,#48cb86 509px,#30c5a1 510px,#15bfb8 511px,#03b7cc 512px,#19acdc 513px,#23a0e5 514px,#2d8bf4 516px,#2f80fa 518px,#2e85f8 521px,#2c8ef1 523px,#239fe5 526px,#15afd8 529px,#03b7cc 531px,#01b9c7 532px,#06bcc0 534px,#05bbc1 537px,#02bac4 538px,#02b7cb 540px,#14b0d8 543px,#20a5e3 546px,#2699e9 548px,#2e85f8 550px,#3578fd 551px,#426afe 552px,#4850f2 554px,#463adb 556px,#422fc1 558px,#412dbc 559px,#422fc1 561px,#4539d9 564px,#484df0 567px,#475cfa 569px,#416bfe 571px,#3c72ff 572px,#317efb 574px,#2e87f7 577px,#2e86f8 579px,#307ffb 581px,#3b72fe 583px,#416bfe 584px,#475bfa 586px,#4744e8 589px,#4537d6 591px,#4230c3 593px,#402bb7 595px,#402bb6 596px,#412dbb 598px,#4536d3 601px,#4740e3 603px,#4852f4 606px,#465dfb 608px,#416afe 611px,#3f6eff 613px,#406dfe 615px,#4466fd 617px,#4757f7 620px,#4745e9 623px,#4435d1 626px,#412cbb 629px,#402bb6 631px,#402bb7 632px,#422fc1 634px,#473fe2 638px,#484aee 640px,#4854f5 642px,#465efb 645px,#465efb 648px,#4850f2 652px,#473fe3 655px,#4536d3 657px,#412dbc 660px,#402bb6 662px,#402bb7 663px,#422fc0 665px,#463ee1 669px,#4849ed 671px,#4758f8 675px,#4756f7 678px,#484bef 681px,#4740e4 683px,#4433cc 686px,#412dbd 688px,#402bb6 690px,#412dbb 692px,#4332ca 694px,#4740e4 697px,#484bef 699px,#4853f5 701px,#4757f7 703px,#4854f5 705px,#484cf0 707px,#4742e6 709px)"></i>
<i style="left:412px;width:4px;background:linear-gradient(#473fe3 102px,#4230c4 110px,#412dbc 114px,#412ebd 118px,#4332ca 121px,#463bdc 124px,#484df0 128px,#4563fd 132px,#3e6fff 134px,#2f81fa 137px,#2994ed 141px,#23a1e5 145px,#18addb 154px,#0db3d4 163px,#0eb2d4 166px,#1da9e0 172px,#2797ea 177px,#2f81fa 182px,#3776fe 184px,#4368fe 187px,#4757f7 192px,#4852f4 195px,#4852f4 198px,#4757f7 200px,#4465fd 203px,#416bfe 204px,#347afd 206px,#2b92ee 209px,#1da9e0 212px,#15afd9 213px,#07b5cf 214px,#02bac5 215px,#10beba 216px,#24c1af 217px,#37c897 219px,#54cc7c 221px,#84cc56 224px,#9cc944 226px,#a5c83d 227px,#c5c22a 232px,#d0c027 234px,#e3bc2c 239px,#ecba32 243px,#edba33 251px,#e5bb2d 261px,#d4bf28 265px,#c5c22a 268px,#c0c32d 270px,#c8c129 273px,#dbbd29 276px,#e3bc2c 277px,#f9ba3d 280px,#febd3c 281px,#fbd12f 285px,#f6e028 289px,#f5ee21 302px,#f8f719 341px,#f9fa15 385px,#f8f818 427px,#f6f020 465px,#f5ea24 470px,#fbd32e 475px,#fec537 481px,#febe3c 493px,#fabb3d 496px,#f8ba3d 497px,#e5bb2d 501px,#d7be28 503px,#c4c22b 505px,#b0c636 506px,#93ca4b 507px,#49cb85 509px,#31c6a0 510px,#16bfb7 511px,#03b7cc 512px,#1aacdd 513px,#23a0e5 514px,#2d8af5 516px,#2f82f9 517px,#317efb 518px,#317efb 519px,#2e86f7 522px,#2b91ef 524px,#18addb 529px,#07b5cf 531px,#01b8ca 532px,#03bbc3 534px,#04bbc2 536px,#01b8c9 539px,#08b4d0 541px,#10b2d5 542px,#1aacdd 544px,#2699e9 548px,#2e86f8 550px,#3579fd 551px,#416bfe 552px,#4851f3 554px,#463bdc 556px,#422fc2 558px,#412dbc 559px,#422ebf 561px,#4537d7 564px,#484bee 567px,#4561fc 570px,#3d70ff 572px,#317dfc 574px,#2e84f8 576px,#2e87f7 578px,#307ffb 581px,#3b73fe 583px,#416cfe 584px,#475cfa 586px,#4745e9 589px,#4538d8 591px,#412dbc 594px,#402bb6 596px,#412dbb 598px,#4435d1 601px,#473fe2 603px,#4851f3 606px,#4561fc 609px,#406cfe 612px,#3f6eff 614px,#426afe 616px,#465dfa 619px,#4852f4 621px,#473fe3 624px,#4535d2 626px,#412dbb 629px,#402bb6 631px,#402bb7 632px,#422fc0 634px,#463ee1 638px,#4849ed 640px,#4757f7 643px,#465ffb 646px,#475cfa 649px,#484bef 653px,#4740e4 655px,#4433cc 658px,#412dbd 660px,#402bb6 662px,#402bb7 663px,#422ebf 665px,#463de0 669px,#4848ec 671px,#4757f7 675px,#4757f7 678px,#484cf0 681px,#4742e6 683px,#4434ce 686px,#422ebe 688px,#402bb6 690px,#412cb9 692px,#4435d1 695px,#473ee2 697px,#484aed 699px,#4852f4 701px,#4757f7 703px,#4755f6 705px,#4849ed 708px,#463ee1 710px)"></i>
<i style="left:416px;width:4px;background:linear-gradient(#463cdf 103px,#4230c4 110px,#412dbc 114px,#412ebe 118px,#4332ca 121px,#463bdd 124px,#484ef1 128px,#4464fd 132px,#3d70ff 134px,#2f82f9 137px,#2995ec 141px,#23a1e4 145px,#19addc 154px,#0fb2d5 162px,#10b2d5 166px,#1ea7e1 172px,#2895ec 177px,#317efb 182px,#3a74fe 184px,#4465fd 187px,#4757f7 191px,#4851f3 194px,#4850f2 197px,#4756f7 200px,#4464fd 203px,#416bfe 204px,#347afd 206px,#2f82fa 207px,#2b92ef 209px,#1da8e0 212px,#16afd9 213px,#07b5d0 214px,#01b9c6 215px,#0ebebb 216px,#22c1b0 217px,#41ca8c 220px,#51cc7f 221px,#7fcc5a 224px,#97ca47 226px,#a0c841 227px,#bbc42f 231px,#ccc028 234px,#ddbd29 238px,#e8bb2e 242px,#eabb30 251px,#e1bc2b 260px,#dbbd29 262px,#d0bf27 264px,#bec32e 267px,#b7c532 269px,#b7c532 270px,#bdc32e 272px,#d2bf27 275px,#e3bc2c 277px,#f3ba39 279px,#fabb3d 280px,#febf3b 281px,#f9d82c 286px,#f6e128 289px,#f5ee21 302px,#f8f719 341px,#f9fa15 384px,#f8f818 428px,#f6ef20 466px,#f5eb23 470px,#f5e227 472px,#fbd32e 475px,#fec437 481px,#febe3c 493px,#fabb3d 496px,#f8ba3d 497px,#e5bb2d 501px,#d7be28 503px,#c5c22a 505px,#b1c635 506px,#95ca49 507px,#71cd64 508px,#4ccb83 509px,#32c69f 510px,#17bfb6 511px,#03b7cb 512px,#1aacdd 513px,#239fe5 514px,#2d89f6 516px,#2f80fa 517px,#327bfc 518px,#337bfd 519px,#2e83f9 522px,#2c8ef2 524px,#23a0e5 527px,#1babde 529px,#04b6cd 532px,#01bac5 534px,#02bac4 536px,#02b7ca 539px,#12b1d6 542px,#1babde 544px,#2699e9 548px,#2b90ef 549px,#347afd 551px,#416cfe 552px,#465efb 553px,#4852f4 554px,#463bdd 556px,#422fc2 558px,#412dbb 559px,#412dbd 561px,#422fc3 562px,#4536d4 564px,#4849ed 567px,#4660fb 570px,#3f6eff 572px,#327bfc 574px,#2e83f9 576px,#2e86f7 578px,#307ffb 581px,#3a73fe 583px,#465dfa 586px,#4746ea 589px,#4539d9 591px,#412dbd 594px,#402bb6 596px,#412cba 598px,#4435d0 601px,#4744e8 604px,#4850f3 606px,#4661fc 609px,#416cfe 612px,#3f6efe 614px,#426afe 616px,#465dfb 619px,#4852f4 621px,#4740e4 624px,#4536d3 626px,#412dbc 629px,#402bb6 631px,#402bb7 632px,#422ec0 634px,#4538d8 637px,#4848ec 640px,#4757f7 643px,#465ffb 646px,#475cfa 649px,#484cef 653px,#4741e5 655px,#4433cd 658px,#412ebe 660px,#402bb6 662px,#402bb6 663px,#422ebe 665px,#4537d7 668px,#4747eb 671px,#4854f5 674px,#4758f8 676px,#4755f6 679px,#4848ec 682px,#463ee1 684px,#4435d0 686px,#422fc0 688px,#402bb7 690px,#402bb6 691px,#412ebd 693px,#4538d7 696px,#4743e7 698px,#484df0 700px,#4854f6 702px,#4757f7 704px,#484ff2 707px,#4745e9 709px,#463adb 711px)"></i>
<i style="left:420px;width:4px;background:linear-gradient(#463ada 104px,#4230c4 110px,#412dbc 114px,#412ebe 118px,#4432cb 121px,#463bde 124px,#484ff2 128px,#4465fd 132px,#3c71ff 134px,#317efb 136px,#2e83f9 137px,#2895ec 141px,#22a1e4 145px,#19addc 154px,#11b1d6 162px,#11b1d6 165px,#1da8e0 171px,#2797eb 176px,#2f80fa 181px,#3876fe 183px,#4367fd 186px,#4755f6 191px,#484ff2 194px,#484ef1 197px,#4755f6 200px,#4564fd 203px,#426afe 204px,#3479fd 206px,#2f82fa 207px,#2b91ef 209px,#1ea8e1 212px,#16aeda 213px,#09b4d1 214px,#01b9c7 215px,#0cbdbc 216px,#1fc1b1 217px,#2cc4a6 218px,#3fca8e 220px,#4dcc82 221px,#6ccd68 223px,#88cb53 225px,#9bc944 227px,#b7c532 231px,#c8c129 234px,#dabd28 238px,#e4bb2c 242px,#e6bb2d 251px,#dcbd29 260px,#d3bf27 262px,#c5c22a 264px,#b2c635 267px,#adc638 269px,#afc637 270px,#b8c431 272px,#d1bf27 275px,#e3bc2c 277px,#f5ba3a 279px,#fbbc3d 280px,#fec13a 281px,#fcd130 284px,#f6e028 288px,#f5ee21 301px,#f8f719 339px,#f9fa15 382px,#f8f818 427px,#f6f020 466px,#f5e924 471px,#fbd32e 475px,#fec437 481px,#febe3c 493px,#fabb3d 496px,#f4ba3a 498px,#e6bb2d 501px,#d8be28 503px,#c5c22a 505px,#b3c534 506px,#98c947 507px,#4fcc81 509px,#33c69d 510px,#02b7cb 512px,#19acdc 513px,#249fe5 514px,#2d87f7 516px,#307efb 517px,#3579fd 518px,#3677fe 519px,#3080fa 522px,#2b91ef 525px,#21a3e3 528px,#18addb 530px,#08b5d0 532px,#03b7cb 533px,#01b9c6 535px,#01b8c9 538px,#07b5d0 540px,#13b0d7 542px,#1caadf 544px,#2698ea 548px,#2b90ef 549px,#337afd 551px,#406dfe 552px,#465ffb 553px,#4853f4 554px,#463cdf 556px,#4230c3 558px,#412dbb 559px,#412cb9 560px,#422fc1 562px,#463adb 565px,#4847ec 567px,#465efb 570px,#3a74fe 573px,#307ffb 575px,#2e85f8 578px,#2f82f9 580px,#347afd 582px,#406cfe 584px,#465dfb 586px,#4747eb 589px,#4639da 591px,#412ebe 594px,#402bb6 596px,#402bb7 597px,#422ebf 599px,#4538d8 602px,#4743e7 604px,#484ff2 606px,#4464fd 610px,#406dfe 613px,#426afe 616px,#465efb 619px,#4853f5 621px,#4741e4 624px,#4536d4 626px,#412dbd 629px,#402bb6 631px,#402bb7 632px,#422ebf 634px,#463cdf 638px,#484df0 641px,#475af9 644px,#465ffb 646px,#475dfa 649px,#484cf0 653px,#4741e5 655px,#4434ce 658px,#422ebe 660px,#402bb6 662px,#402bb6 663px,#412dbd 665px,#4537d5 668px,#4746ea 671px,#484ff2 673px,#4758f8 676px,#4755f6 679px,#4849ed 682px,#473fe2 684px,#4536d2 686px,#412dbc 689px,#402bb6 691px,#412dbc 693px,#4537d5 696px,#4747eb 699px,#4854f5 702px,#4757f7 704px,#4850f3 707px,#4741e5 710px,#4536d5 712px)"></i>
<i style="left:424px;width:4px;background:linear-gradient(#4537d6 105px,#422ebf 112px,#412dbc 117px,#4331c6 120px,#463cde 124px,#4755f6 129px,#4466fd 132px,#3b73fe 134px,#307ffb 136px,#2a92ee 140px,#249fe5 144px,#1babde 152px,#12b1d7 161px,#12b1d7 165px,#1ea7e1 171px,#2699e9 175px,#2e83f9 180px,#3a73fe 183px,#4465fd 186px,#4853f5 191px,#484ef1 194px,#484df0 197px,#4755f6 200px,#4563fd 203px,#426afe 204px,#3579fd 206px,#2f81fa 207px,#2b91ef 209px,#1ea7e1 212px,#17aedb 213px,#01b9c8 215px,#0abdbd 216px,#1dc0b3 217px,#2bc3a8 218px,#3cc991 220px,#4acb85 221px,#83cc57 225px,#96ca48 227px,#abc739 230px,#c4c22a 234px,#d7be28 238px,#e1bc2b 242px,#e3bc2c 250px,#d8be28 259px,#cac129 262px,#abc739 266px,#a3c83f 268px,#a4c83e 269px,#acc738 271px,#bcc42f 273px,#d0bf27 275px,#e4bb2c 277px,#f6ba3c 279px,#fdbd3d 280px,#fec239 281px,#fbd32f 284px,#f6de29 287px,#f5e825 294px,#f5ee21 301px,#f8f818 342px,#f9fa15 387px,#f8f818 430px,#f6ef20 467px,#f5ea24 471px,#fcd030 476px,#fec437 481px,#febe3c 493px,#fabc3d 496px,#f8ba3d 497px,#f1ba37 499px,#e0bc2a 502px,#d0bf27 504px,#c6c22a 505px,#b6c533 506px,#9bc944 507px,#78cc5f 508px,#52cc7e 509px,#35c79b 510px,#01b8ca 512px,#19addc 513px,#239fe5 514px,#2e86f7 516px,#317dfc 517px,#3776fe 518px,#3974fe 519px,#3578fd 521px,#2f82fa 523px,#2d8df2 525px,#23a0e5 528px,#15afd8 531px,#06b5ce 533px,#02b7cb 534px,#01b8c9 536px,#02b7cb 538px,#09b4d1 540px,#15afd8 542px,#2798ea 548px,#2b90ef 549px,#337bfc 551px,#3f6dfe 552px,#4660fc 553px,#4854f5 554px,#463de0 556px,#4230c4 558px,#412dbb 559px,#412cb8 560px,#422ebf 562px,#4639d9 565px,#4746ea 567px,#475cfa 570px,#3b72ff 573px,#317dfb 575px,#2e85f8 578px,#2f82f9 580px,#347afd 582px,#406dfe 584px,#465efb 586px,#4747ec 589px,#463adb 591px,#422ebf 594px,#402bb6 596px,#402bb6 597px,#412ebe 599px,#4537d7 602px,#4742e6 604px,#484ef1 606px,#465ffb 609px,#406cfe 613px,#426afe 616px,#465efb 619px,#4853f5 621px,#4741e5 624px,#4537d5 626px,#412dbd 629px,#402bb6 631px,#402bb6 632px,#412ebe 634px,#463cde 638px,#484cef 641px,#4759f8 644px,#465efb 646px,#475dfa 649px,#484df0 653px,#4742e6 655px,#4434cf 658px,#422ebf 660px,#402bb7 662px,#402bb6 663px,#412dbd 665px,#4536d4 668px,#4740e3 670px,#484aee 672px,#4758f8 676px,#4756f6 679px,#484aee 682px,#4740e4 684px,#4433cc 687px,#412dbd 689px,#402bb6 691px,#402bb7 692px,#422fc1 694px,#463adb 697px,#4745e9 699px,#484ff2 701px,#4755f6 703px,#4756f7 705px,#484df0 708px,#4742e6 710px,#4434cd 713px)"></i>
<i style="left:428px;width:4px;background:linear-gradient(#4435d2 106px,#422ebf 112px,#412dbc 117px,#4331c6 120px,#463cdf 124px,#4756f7 129px,#3f6efe 133px,#3080fa 136px,#2a93ed 140px,#23a0e5 144px,#1baade 152px,#13b0d7 161px,#15afd9 166px,#20a5e2 171px,#259be8 174px,#2f80fa 180px,#3876fe 182px,#4367fd 185px,#4854f5 190px,#484cf0 194px,#484cf0 197px,#4854f5 200px,#4563fc 203px,#4269fe 204px,#3579fd 206px,#2f81fa 207px,#2b90f0 209px,#1ea7e1 212px,#18addb 213px,#01b8c9 215px,#08bcbf 216px,#1bc0b4 217px,#29c3aa 218px,#3ac993 220px,#47cb87 221px,#71cd65 224px,#88cb53 226px,#91ca4d 227px,#adc638 231px,#c6c22a 235px,#d3bf27 238px,#ddbd29 242px,#debd29 251px,#d2bf27 259px,#bfc32d 262px,#9ec942 266px,#99c946 268px,#9bc945 269px,#a7c73c 271px,#c4c22a 274px,#d0c028 275px,#e6bb2d 277px,#f8ba3d 279px,#febe3c 280px,#fccf30 283px,#f6df29 287px,#f5ee21 300px,#f8f818 341px,#f9fa15 388px,#f8f818 431px,#f6f020 467px,#f5eb23 471px,#f5e228 473px,#fcd030 476px,#fec636 480px,#fec13a 484px,#febe3c 493px,#f9ba3d 497px,#ecba33 500px,#d9be28 503px,#c7c12a 505px,#b8c431 506px,#9fc941 507px,#7dcc5c 508px,#56cc7b 509px,#36c898 510px,#1fc1b1 511px,#01b8c8 512px,#18addb 513px,#23a0e5 514px,#2e86f8 516px,#337bfc 517px,#3a74fe 518px,#3c71ff 519px,#3975fe 521px,#2e84f9 524px,#2b90ef 526px,#18addb 531px,#09b4d1 533px,#02b7cb 535px,#03b7cc 537px,#07b5d0 539px,#16afd9 542px,#2798ea 548px,#2b90ef 549px,#327cfc 551px,#3f6eff 552px,#4561fc 553px,#4854f6 554px,#463ee1 556px,#4230c4 558px,#412dbb 559px,#402bb8 560px,#412ebe 562px,#4538d8 565px,#4745e9 567px,#475bf9 570px,#3d71ff 573px,#327cfc 575px,#2e84f8 578px,#2f82fa 580px,#347afd 582px,#406dfe 584px,#465ffb 586px,#4848ec 589px,#463adc 591px,#422ebf 594px,#402bb6 596px,#412cb9 598px,#4433cc 601px,#4741e5 604px,#4853f5 607px,#4563fc 610px,#406cfe 613px,#426afe 616px,#465efb 619px,#4854f5 621px,#4742e6 624px,#4537d6 626px,#412ebe 629px,#402bb6 631px,#402bb6 632px,#412ebd 634px,#4537d5 637px,#4740e4 639px,#484bef 641px,#4759f8 644px,#465ffb 647px,#475af9 650px,#484df0 653px,#463de0 656px,#422ec0 660px,#402bb7 662px,#402bb6 663px,#412dbc 665px,#4536d3 668px,#473fe2 670px,#4849ed 672px,#4755f6 675px,#4758f8 677px,#4853f5 680px,#4746ea 683px,#4537d6 686px,#412ebe 689px,#402bb6 691px,#402bb6 692px,#422ebf 694px,#473ee1 698px,#4849ed 700px,#4852f4 702px,#4756f7 704px,#4755f6 706px,#4849ed 709px,#463ee1 711px,#4331c7 714px)"></i>
<i style="left:432px;width:4px;background:linear-gradient(#4434cd 107px,#422ebe 112px,#412dbc 117px,#4331c7 120px,#463de0 124px,#4757f7 129px,#4562fc 131px,#3e6fff 133px,#2f81fa 136px,#2994ed 140px,#249ee6 143px,#1ca9df 151px,#14b0d8 160px,#14b0d8 164px,#1fa6e1 170px,#2699e9 174px,#2e83f9 179px,#3a73fe 182px,#4464fd 185px,#4852f4 190px,#484bee 194px,#484bef 197px,#4853f5 200px,#4562fc 203px,#3d70ff 205px,#3678fd 206px,#2f80fa 207px,#2c90f0 209px,#1fa6e2 212px,#19addc 213px,#01b8ca 215px,#06bcc0 216px,#27c2ab 218px,#43ca8a 221px,#6ccd68 224px,#83cc57 226px,#8bcb51 227px,#a9c73b 231px,#c1c32c 235px,#d2bf27 239px,#d9bd28 242px,#dabd28 250px,#cec028 258px,#cbc129 259px,#bdc32e 261px,#97ca47 265px,#8ecb4e 267px,#8fcb4e 268px,#99c946 270px,#acc738 272px,#c3c22b 274px,#d0c027 275px,#dcbd29 276px,#e7bb2e 277px,#fabb3d 279px,#fec03b 280px,#fbd12f 283px,#f6dd29 286px,#f5e825 293px,#f5ef21 300px,#f8f818 341px,#f9fa15 388px,#f8f818 430px,#f6f01f 467px,#f5e924 472px,#fcd030 476px,#fec537 480px,#fec03a 484px,#febe3c 493px,#f9bb3d 497px,#edba33 500px,#dabd28 503px,#c8c129 505px,#bac430 506px,#a3c83f 507px,#82cc58 508px,#5bcc77 509px,#39c895 510px,#23c1af 511px,#01b9c6 512px,#17aeda 513px,#23a0e5 514px,#2e85f8 516px,#3c71ff 518px,#3f6eff 519px,#3c71ff 521px,#2f80fa 524px,#2d8df2 526px,#1aabde 531px,#08b5d0 534px,#05b6ce 535px,#06b5cf 538px,#1babde 543px,#2797ea 548px,#2b90f0 549px,#327cfc 551px,#3e6fff 552px,#4562fc 553px,#4755f6 554px,#4849ed 555px,#4536d3 557px,#4330c5 558px,#412dbb 559px,#402bb7 560px,#412dbd 562px,#4537d6 565px,#4744e8 567px,#475af9 570px,#4368fe 572px,#327bfc 575px,#2e83f9 578px,#2f82fa 580px,#347afd 582px,#4466fd 585px,#4758f8 587px,#4741e5 590px,#4536d3 592px,#422fc0 594px,#402bb7 596px,#402bb6 597px,#412dbd 599px,#463bdd 603px,#4746eb 605px,#4852f4 607px,#4466fd 611px,#406cfe 614px,#4367fd 617px,#475af9 620px,#484ef1 622px,#4742e6 624px,#4538d7 626px,#422ebe 629px,#402bb6 631px,#402bb6 632px,#412dbd 634px,#4536d4 637px,#4740e3 639px,#484aee 641px,#4758f8 644px,#465efb 647px,#475af9 650px,#484ef1 653px,#4743e7 655px,#4435d0 658px,#412dbb 661px,#402bb6 663px,#402bb7 664px,#422fc1 666px,#473ee1 670px,#4849ed 672px,#4755f6 675px,#4758f8 677px,#4854f5 680px,#4747eb 683px,#463ddf 685px,#4434cf 687px,#422ebf 689px,#402bb7 691px,#402bb6 692px,#412ebe 694px,#463de0 698px,#4848ec 700px,#4851f3 702px,#4756f7 704px,#4853f4 707px,#4745e9 710px,#463adb 712px,#422fc0 715px)"></i>
<i style="left:436px;width:4px;background:linear-gradient(#4332c9 108px,#412dbd 113px,#412dbc 117px,#4331c7 120px,#463ee0 124px,#4758f8 129px,#4564fd 131px,#3d70ff 133px,#317dfc 135px,#2f82f9 136px,#2895ec 140px,#249ee6 143px,#1ca9df 151px,#15afd9 160px,#17aeda 165px,#20a5e3 170px,#259be8 173px,#2f80fa 179px,#3876fe 181px,#4367fd 184px,#4850f3 190px,#4849ed 194px,#484aee 197px,#4853f4 200px,#4562fc 203px,#3e70ff 205px,#3678fe 206px,#3080fb 207px,#2c8ff0 209px,#1fa5e2 212px,#1aacdd 213px,#03b7cb 215px,#04bbc2 216px,#25c2ad 218px,#40ca8d 221px,#67cd6c 224px,#86cb55 227px,#abc739 232px,#bdc32e 235px,#cec028 239px,#d5be28 242px,#d5be28 250px,#c8c129 258px,#c3c22b 259px,#b2c534 261px,#8acb51 265px,#85cb55 266px,#84cc56 267px,#86cb55 268px,#93ca4b 270px,#a9c73b 272px,#c3c22b 274px,#d0bf27 275px,#ddbd29 276px,#f3ba39 278px,#fcbc3d 279px,#fec239 280px,#fbd32e 283px,#f6de29 286px,#f5e924 293px,#f6ef20 300px,#f8f818 342px,#f9fa15 389px,#f8f818 432px,#f6f020 468px,#f5ea24 472px,#f6df29 474px,#fdcb33 477px,#fec537 480px,#febf3b 485px,#febd3c 493px,#f9bb3d 497px,#eeba34 500px,#dbbd28 503px,#c9c129 505px,#bdc32f 506px,#a7c73c 507px,#87cb54 508px,#60cd72 509px,#3cc991 510px,#26c2ac 511px,#02bac4 512px,#15afd9 513px,#23a1e4 514px,#2a92ee 515px,#2e85f8 516px,#3e6fff 518px,#416bfe 519px,#3f6efe 521px,#327cfc 524px,#2b90ef 527px,#21a3e3 530px,#13b1d7 533px,#08b5d0 535px,#07b5cf 537px,#10b2d5 540px,#1baade 543px,#259be7 547px,#2b90f0 549px,#317dfc 551px,#3e70ff 552px,#4563fc 553px,#484aee 555px,#4537d5 557px,#4331c6 558px,#412dbc 559px,#402bb7 560px,#412dbc 562px,#4536d5 565px,#4742e7 567px,#4758f8 570px,#4367fd 572px,#347afd 575px,#2e83f9 578px,#2f81fa 580px,#347afd 582px,#4367fd 585px,#4758f8 587px,#4742e6 590px,#4536d4 592px,#422fc1 594px,#402bb7 596px,#402bb6 597px,#412dbc 599px,#463adc 603px,#4746ea 605px,#4852f4 607px,#4465fd 611px,#416cfe 614px,#4367fd 617px,#475af9 620px,#484ff1 622px,#4743e7 624px,#4434cf 627px,#422ebf 629px,#402bb7 631px,#402bb6 632px,#412dbc 634px,#4536d3 637px,#473fe2 639px,#484aee 641px,#4757f8 644px,#465efb 647px,#475af9 650px,#4849ed 654px,#463ee1 656px,#422fc1 660px,#402bb7 662px,#402bb6 663px,#402bb7 664px,#422fc0 666px,#463ee0 670px,#4848ec 672px,#4854f6 675px,#4758f8 677px,#4854f6 680px,#4848ec 683px,#463ee1 685px,#422fc1 689px,#402bb7 691px,#402bb6 692px,#412dbc 694px,#4433cc 696px,#4741e5 699px,#484cef 701px,#4756f7 704px,#4853f5 707px,#484bef 709px,#4741e4 711px,#4536d4 713px,#412dbb 716px)"></i>
<i style="left:440px;width:4px;background:linear-gradient(#4331c6 109px,#412dbd 113px,#412dbb 116px,#422ebf 118px,#4434ce 121px,#473ee1 124px,#4853f5 128px,#4465fd 131px,#3c72ff 133px,#317efb 135px,#2b92ee 139px,#249fe6 143px,#1ca9df 151px,#16afda 159px,#17aeda 164px,#1fa6e2 169px,#2699e9 173px,#2e83f9 178px,#3a73fe 181px,#4464fd 184px,#484ff1 190px,#4848ec 194px,#4849ed 197px,#4852f4 200px,#4561fc 203px,#3e6fff 205px,#3777fe 206px,#307ffb 207px,#2c8ff1 209px,#1aabdd 213px,#11b1d6 214px,#04b6cd 215px,#02bbc3 216px,#23c1af 218px,#3dca90 221px,#63cd70 224px,#80cc59 227px,#9fc942 231px,#b9c431 235px,#c7c12a 238px,#d1bf27 242px,#d0bf27 250px,#c1c32c 258px,#b2c635 260px,#85cb55 264px,#79cc5e 266px,#7dcc5b 268px,#8ecb4f 270px,#a6c73c 272px,#c3c22b 274px,#d1bf27 275px,#dfbc2a 276px,#ebba31 277px,#f6ba3b 278px,#fdbd3d 279px,#fcd030 282px,#f7dc2a 285px,#f5e825 292px,#f5ef20 299px,#f8f818 341px,#f9fa15 389px,#f8f818 432px,#f6f01f 468px,#f5e725 473px,#fdcb33 477px,#fec536 479px,#febf3b 484px,#fdbd3d 493px,#fabb3d 497px,#f3ba39 499px,#e3bc2c 502px,#d3bf27 504px,#bfc32d 506px,#abc739 507px,#8dcb50 508px,#66cd6d 509px,#40ca8d 510px,#2ac3a9 511px,#04bbc2 512px,#13b0d7 513px,#22a2e4 514px,#2e84f8 516px,#3677fe 517px,#3f6dfe 518px,#4368fe 519px,#3f6dfe 522px,#307ffb 525px,#23a1e5 530px,#11b1d6 534px,#0cb3d3 535px,#0ab4d1 537px,#12b1d7 540px,#1ca9df 543px,#259be8 547px,#2c90f0 549px,#317dfc 551px,#3d70ff 552px,#4563fd 553px,#484bef 555px,#4537d6 557px,#412dbc 559px,#402bb7 560px,#412dbb 562px,#422fc1 563px,#4536d3 565px,#4849ed 568px,#465ffb 571px,#406dfe 573px,#3579fd 575px,#2f81fa 577px,#2f82f9 579px,#347afd 582px,#4367fd 585px,#4759f8 587px,#4743e7 590px,#4536d5 592px,#422fc2 594px,#402bb7 596px,#402bb6 597px,#412dbc 599px,#463adb 603px,#4745e9 605px,#4851f3 607px,#4464fd 611px,#416bfe 614px,#4367fd 617px,#475af9 620px,#484ff2 622px,#4743e7 624px,#4434cf 627px,#412cba 630px,#402bb6 632px,#402bb8 633px,#422fc2 635px,#473ee2 639px,#4849ed 641px,#4757f7 644px,#465efb 647px,#475af9 650px,#4849ed 654px,#473fe2 656px,#422fc2 660px,#402bb8 662px,#402bb6 663px,#402bb7 664px,#422ec0 666px,#463de0 670px,#4747eb 672px,#4854f5 675px,#4758f8 678px,#4755f6 680px,#4849ed 683px,#473fe2 685px,#4536d2 687px,#412dbc 690px,#402bb6 692px,#412dbb 694px,#4536d4 697px,#4740e4 699px,#484bef 701px,#4756f6 704px,#4854f5 707px,#484cf0 709px,#4742e6 711px,#4433cd 714px,#412dbd 716px,#402bb8 717px)"></i>
<i style="left:444px;width:4px;background:linear-gradient(#4230c3 110px,#412dbd 113px,#412dbb 116px,#422ebf 118px,#4434ce 121px,#473fe2 124px,#484ef1 127px,#4660fb 130px,#406cfe 132px,#3080fb 135px,#2a93ee 139px,#259de7 142px,#1da8e0 150px,#17aeda 159px,#18addb 164px,#20a4e3 169px,#2797eb 173px,#2f80fa 178px,#3d71ff 181px,#4562fc 184px,#4850f2 189px,#4747eb 193px,#4747eb 196px,#484df1 199px,#4661fc 203px,#3f6eff 205px,#3776fe 206px,#307ffb 207px,#2c8ef1 209px,#20a4e3 212px,#12b1d7 214px,#05b6ce 215px,#02bac4 216px,#21c1b1 218px,#2cc4a7 219px,#3bc992 221px,#5ecd74 224px,#7bcc5d 227px,#a1c840 232px,#b4c533 235px,#c6c22a 239px,#cdc028 242px,#cbc029 250px,#bdc32e 257px,#b1c635 259px,#78cc5f 264px,#71cd64 265px,#6ecd66 266px,#75cc61 268px,#89cb53 270px,#c4c22b 274px,#d3bf27 275px,#e1bc2b 276px,#f8ba3d 278px,#febf3b 279px,#fbd22f 282px,#f7dd2a 285px,#f5e924 292px,#f5ef20 298px,#f8f818 340px,#f9fa15 389px,#f8f818 433px,#f6f01f 469px,#f5e924 473px,#fdcb33 477px,#fec636 478px,#febf3c 484px,#fabb3d 497px,#f4ba3a 499px,#e4bb2c 502px,#d4bf28 504px,#c0c32d 506px,#afc637 507px,#92ca4b 508px,#6ccd68 509px,#45cb89 510px,#2dc4a6 511px,#08bcbf 512px,#10b2d5 513px,#21a3e3 514px,#2e85f8 516px,#3777fe 517px,#416cfe 518px,#4466fd 519px,#4465fd 520px,#3f6eff 523px,#327bfc 525px,#249ee6 530px,#14b0d8 534px,#0db3d3 536px,#0db3d3 537px,#14b0d8 540px,#1da9e0 543px,#269ae8 547px,#2c90f0 549px,#317efb 551px,#3c71ff 552px,#4464fd 553px,#484cf0 555px,#4538d7 557px,#412dbd 559px,#402bb7 560px,#412cba 562px,#422ec0 563px,#4435d2 565px,#4848ec 568px,#465efb 571px,#3b72ff 574px,#317dfc 576px,#2f82fa 579px,#347afd 582px,#4367fd 585px,#4759f8 587px,#4743e7 590px,#4537d6 592px,#422fc2 594px,#402bb7 596px,#402bb6 597px,#412dbb 599px,#4639da 603px,#4744e8 605px,#4850f2 607px,#4564fd 611px,#416bfe 614px,#4367fd 617px,#475af9 620px,#484ff2 622px,#4743e7 624px,#4435d0 627px,#412cba 630px,#402bb6 632px,#412dbb 634px,#4435d1 637px,#463ee1 639px,#484ef1 642px,#475af9 645px,#465efb 648px,#4757f7 651px,#484aed 654px,#473fe2 656px,#4332ca 659px,#412dbc 661px,#402bb6 663px,#402bb7 664px,#422ebf 666px,#463cdf 670px,#4746eb 672px,#4853f5 675px,#4758f8 678px,#4852f4 681px,#4745e9 684px,#4536d4 687px,#412dbd 690px,#402bb6 692px,#402bb7 693px,#422fc0 695px,#473fe2 699px,#484aee 701px,#4755f6 704px,#4854f6 707px,#484df0 709px,#4743e7 711px,#4538d8 713px,#412ebe 716px,#402bb6 718px)"></i>
<i style="left:448px;width:4px;background:linear-gradient(#422fc0 111px,#412dbb 114px,#412dbc 117px,#4230c3 119px,#4537d6 122px,#484ff2 127px,#4561fc 130px,#3f6eff 132px,#2f81fa 135px,#2994ed 139px,#249de6 142px,#1da9e0 151px,#18aedb 159px,#19acdc 164px,#22a2e4 169px,#2698ea 172px,#2e83f9 177px,#3a73fe 180px,#4464fd 183px,#484ef1 189px,#4746ea 193px,#4745ea 196px,#484df0 199px,#4660fc 203px,#3f6eff 205px,#3876fe 206px,#317efb 207px,#2d8df2 209px,#1caadf 213px,#13b0d8 214px,#06b5cf 215px,#01bac6 216px,#0cbdbc 217px,#1ec0b2 218px,#2ac3a9 219px,#39c895 221px,#5acc77 224px,#6ecd67 226px,#9cc943 232px,#bac430 237px,#c7c12a 241px,#c9c129 246px,#c4c22a 251px,#b9c431 256px,#b0c636 258px,#a7c73c 259px,#74cc62 263px,#6bcd69 264px,#66cd6e 265px,#65cd6e 266px,#6ecd66 268px,#78cc5f 269px,#93ca4b 271px,#c5c22a 274px,#d4bf28 275px,#e3bc2c 276px,#f0ba36 277px,#fabb3d 278px,#fec13a 279px,#fbd42e 282px,#f7db2a 284px,#f5e825 291px,#f6ef20 298px,#f8f818 340px,#f9fa15 388px,#f8f818 432px,#f6f01f 469px,#f5ec22 472px,#f5e526 474px,#fdcb33 477px,#fec239 479px,#febe3c 484px,#fcbc3d 495px,#f8ba3d 498px,#f0ba36 500px,#debd29 503px,#ccc028 505px,#c1c32c 506px,#b2c635 507px,#97ca47 508px,#72cd63 509px,#4bcb84 510px,#30c5a2 511px,#0dbdbb 512px,#0cb3d3 513px,#20a5e3 514px,#2e85f8 516px,#3876fe 517px,#426afe 518px,#4563fd 519px,#4562fc 520px,#4466fd 522px,#3d70ff 524px,#307efb 526px,#259be8 530px,#1fa6e2 532px,#17aeda 534px,#10b2d5 537px,#1babde 542px,#2895ec 548px,#2c90f0 549px,#317efb 551px,#3c72ff 552px,#4465fd 553px,#4759f8 554px,#4742e6 556px,#4538d8 557px,#412ebe 559px,#402bb7 560px,#412cb9 562px,#422ebf 563px,#4435d1 565px,#4747eb 568px,#475cfa 571px,#3c71ff 574px,#327cfc 576px,#2f81fa 579px,#347afd 582px,#4368fe 585px,#475af9 587px,#4744e8 590px,#4537d6 592px,#412dbc 595px,#402bb6 597px,#412cba 599px,#4434d0 602px,#4743e7 605px,#484ff2 607px,#475af9 609px,#4466fd 612px,#426afe 615px,#4563fd 618px,#484ff2 622px,#4744e8 624px,#4435d1 627px,#412dbb 630px,#402bb6 632px,#412cbb 634px,#4435d0 637px,#4742e6 640px,#484df0 642px,#4759f8 645px,#465efb 648px,#4757f7 651px,#484aee 654px,#473fe3 656px,#4433cb 659px,#412dbd 661px,#402bb6 663px,#402bb6 664px,#422ebe 666px,#463cde 670px,#484bee 673px,#4756f6 676px,#4758f8 678px,#4756f6 680px,#484bee 683px,#463bde 686px,#412ebe 690px,#402bb6 692px,#402bb6 693px,#422ebf 695px,#4434d0 697px,#463ee1 699px,#4849ed 701px,#4755f6 704px,#4755f6 707px,#484ef1 709px,#4744e8 711px,#4331c8 715px,#412cba 717px,#402bb6 719px)"></i>
<i style="left:452px;width:4px;background:linear-gradient(#412ebe 112px,#412dbb 115px,#412dbd 117px,#4230c4 119px,#4538d7 122px,#4851f3 127px,#4563fc 130px,#3e6fff 132px,#327dfc 134px,#2f82f9 135px,#2895ec 139px,#249ee6 142px,#1da8e0 150px,#18addb 158px,#19addc 163px,#21a3e3 168px,#2796eb 172px,#2f80fa 177px,#3d71ff 180px,#4562fc 183px,#484cef 189px,#4744e9 193px,#4744e9 196px,#484cef 199px,#4660fb 203px,#3f6dfe 205px,#3875fe 206px,#317dfb 207px,#2d8df2 209px,#1ca9df 213px,#14b0d8 214px,#07b5d0 215px,#01b9c7 216px,#0abdbd 217px,#1cc0b4 218px,#28c3aa 219px,#40ca8d 222px,#56cc7a 224px,#71cd64 227px,#91ca4d 231px,#acc739 235px,#bac430 238px,#c2c22c 241px,#c2c22c 249px,#bac430 253px,#aec637 257px,#9cc944 259px,#67cd6c 263px,#5fcd73 264px,#5ccc76 265px,#5ccc75 266px,#60cd72 267px,#73cd63 269px,#91ca4c 271px,#b5c533 273px,#c6c22a 274px,#d7be28 275px,#e6bb2d 276px,#f2ba38 277px,#fcbc3d 278px,#fec338 279px,#fad52d 282px,#f7dc2a 284px,#f5e924 291px,#f5ef20 297px,#f8f818 338px,#f9fa15 386px,#f8f818 431px,#f6f11f 469px,#f5e725 474px,#fec438 478px,#febf3b 479px,#fbbc3d 495px,#f8ba3d 498px,#ecba32 501px,#d6be28 504px,#c2c22c 506px,#b5c533 507px,#9cc943 508px,#79cc5e 509px,#51cc7f 510px,#33c69e 511px,#14beb8 512px,#08b5d0 513px,#1fa6e1 514px,#2e86f8 516px,#3876fe 517px,#4269fe 518px,#4561fc 519px,#465ffb 520px,#4562fc 522px,#406cfe 524px,#337afd 526px,#249ee6 531px,#1aacdd 534px,#13b1d7 537px,#17aeda 540px,#1ea7e1 543px,#2c90f0 549px,#307efb 551px,#3b72fe 552px,#4466fd 553px,#484ef1 555px,#4639d9 557px,#422ebe 559px,#402bb7 560px,#412cb9 562px,#422ebe 563px,#4434cf 565px,#4746ea 568px,#475bfa 571px,#4269fe 573px,#337bfd 576px,#2f81fa 579px,#347afd 582px,#4368fe 585px,#475af9 587px,#4744e8 590px,#4538d7 592px,#412dbd 595px,#402bb6 597px,#412cba 599px,#4434cf 602px,#4742e6 605px,#4854f5 608px,#4466fd 612px,#426afe 615px,#4563fd 618px,#4850f2 622px,#473ee2 625px,#4435d1 627px,#412dbb 630px,#402bb6 632px,#402bb7 633px,#422ec0 635px,#463ddf 639px,#484cf0 642px,#4759f8 645px,#465dfb 648px,#4758f8 651px,#484aee 654px,#4740e3 656px,#4433cc 659px,#412ebd 661px,#402bb6 663px,#402bb6 664px,#412ebd 666px,#463bdd 670px,#484aee 673px,#4755f6 676px,#4758f8 678px,#4853f5 681px,#4746eb 684px,#463cdf 686px,#4434cf 688px,#422ebf 690px,#402bb7 692px,#402bb6 693px,#412ebd 695px,#463ddf 699px,#4848ec 701px,#4854f5 704px,#4756f7 706px,#4853f5 708px,#4745e9 711px,#4536d3 714px,#412dbb 717px,#402bb6 719px,#412cb9 720px)"></i>
<i style="left:456px;width:4px;background:linear-gradient(#412dbc 113px,#412dbd 117px,#4330c4 119px,#4538d8 122px,#4852f4 127px,#416afe 131px,#317efb 134px,#2a92ee 138px,#259ce7 141px,#1ea7e1 149px,#19addc 158px,#1aacdd 163px,#22a2e4 168px,#2994ed 172px,#2e83f9 176px,#3a73fe 179px,#4269fe 181px,#4660fb 183px,#484aee 189px,#4743e7 193px,#4743e8 196px,#484bef 199px,#465ffb 203px,#406dfe 205px,#3975fe 206px,#317dfc 207px,#2d8cf3 209px,#1da9e0 213px,#01b9c8 216px,#08bcbe 217px,#27c2ac 219px,#3eca90 222px,#53cc7d 224px,#74cc62 228px,#94ca4a 232px,#a7c73c 235px,#b6c532 238px,#bec32e 241px,#bcc42f 249px,#abc739 256px,#a6c83d 257px,#9dc943 258px,#66cd6d 262px,#5ccc76 263px,#55cc7c 264px,#52cc7e 265px,#54cc7c 266px,#63cd70 268px,#6fcd66 269px,#90ca4d 271px,#b6c532 273px,#c9c129 274px,#dabd28 275px,#e9bb2f 276px,#f5ba3b 277px,#febe3c 278px,#fdcc32 280px,#f8da2b 283px,#f5e825 290px,#f5ef20 296px,#f8f818 336px,#f9fa15 384px,#f8f818 432px,#f6f01f 470px,#f5e924 474px,#f5e327 475px,#fdcd31 477px,#fdbd3d 479px,#f8ba3d 498px,#ecba33 501px,#d7be28 504px,#c3c22b 506px,#b6c532 507px,#a1c840 508px,#7fcc5a 509px,#57cc7a 510px,#36c799 511px,#1ac0b4 512px,#05b6cd 513px,#1da8e0 514px,#2e86f7 516px,#3876fe 517px,#4368fe 518px,#465ffb 519px,#475cfa 520px,#4563fc 523px,#3f6eff 525px,#3876fe 526px,#317efb 527px,#259be8 531px,#1caadf 534px,#15afd9 537px,#19addc 540px,#1fa6e2 543px,#2c8ff0 549px,#307ffb 551px,#3a73fe 552px,#4367fd 553px,#484ff2 555px,#463adb 557px,#422ebf 559px,#402bb8 560px,#412cb9 562px,#412ebe 563px,#4434ce 565px,#4745e9 568px,#475af9 571px,#4368fe 573px,#347afd 576px,#2f80fa 579px,#347afd 582px,#4368fe 585px,#475bf9 587px,#4745e9 590px,#4538d8 592px,#412ebe 595px,#402bb6 597px,#412cb9 599px,#4434ce 602px,#4742e6 605px,#4853f5 608px,#4465fd 612px,#4269fe 615px,#4563fd 618px,#4850f3 622px,#473fe2 625px,#4535d2 627px,#412dbc 630px,#402bb6 632px,#402bb7 633px,#422ebf 635px,#463cde 639px,#484cef 642px,#4758f8 645px,#465dfa 648px,#4758f8 651px,#484bee 654px,#4740e4 656px,#4433cd 659px,#412ebe 661px,#402bb6 663px,#402bb6 664px,#412dbd 666px,#473fe3 671px,#4849ed 673px,#4755f6 676px,#4758f8 678px,#4854f5 681px,#4747eb 684px,#463de0 686px,#4435d0 688px,#422fc0 690px,#402bb7 692px,#402bb6 693px,#412dbc 695px,#4537d5 698px,#4747eb 701px,#4854f5 704px,#4756f7 706px,#4853f5 708px,#4746ea 711px,#4537d5 714px,#4230c3 716px,#402bb7 718px,#402bb6 719px,#412dbd 721px)"></i>
<i style="left:460px;width:4px;background:linear-gradient(#412dbb 114px,#412dbb 116px,#422fc0 118px,#4539d9 122px,#4853f5 127px,#406cfe 131px,#3080fb 134px,#2a93ed 138px,#259de7 141px,#1ea7e1 149px,#19acdc 157px,#1aacdd 162px,#21a3e3 167px,#2896eb 171px,#2f80fa 176px,#3d71ff 179px,#465efb 183px,#4849ed 189px,#4742e6 193px,#4742e7 196px,#484bee 199px,#465ffb 203px,#406cfe 205px,#3974fe 206px,#327dfc 207px,#2d8cf3 209px,#1da8e0 213px,#16afda 214px,#01b8c9 216px,#07bcbf 217px,#25c2ad 219px,#3cc992 222px,#4fcc80 224px,#78cc5f 229px,#97ca48 233px,#a9c73a 236px,#b5c533 239px,#b9c430 241px,#b8c431 248px,#b0c636 252px,#a4c83e 256px,#9dc943 257px,#92ca4b 258px,#66cd6d 261px,#50cc7f 263px,#4bcb84 264px,#4acb84 265px,#4dcc82 266px,#5ecd74 268px,#6ccd68 269px,#7dcc5b 270px,#b9c431 273px,#ccc028 274px,#ddbd29 275px,#ecba32 276px,#f8ba3d 277px,#fec03b 278px,#fad42e 281px,#f7db2b 283px,#f5e924 290px,#f6ef20 296px,#f8f718 335px,#f9fa15 381px,#f8f817 431px,#f6f11f 470px,#f5ec22 473px,#f5e526 475px,#fec438 478px,#fbbc3d 479px,#f7ba3c 480px,#f8ba3d 498px,#ecba33 501px,#d7be28 504px,#cec028 505px,#b7c532 507px,#a4c83e 508px,#85cb55 509px,#5ecc74 510px,#39c995 511px,#20c1b1 512px,#01b7ca 513px,#1caadf 514px,#2d88f6 516px,#3776fe 517px,#4368fd 518px,#465efb 519px,#4759f8 520px,#475bf9 522px,#4564fd 524px,#426afe 525px,#347afd 527px,#2798ea 531px,#1da8e0 534px,#17aeda 537px,#18addb 539px,#1fa5e2 543px,#2c8ff1 549px,#307ffb 551px,#3a74fe 552px,#4367fd 553px,#4850f2 555px,#463adc 557px,#422fc0 559px,#402bb8 560px,#402bb6 561px,#412dbd 563px,#4538d7 566px,#4744e8 568px,#4759f9 571px,#4367fd 573px,#3579fd 576px,#3080fa 579px,#347afd 582px,#4269fe 585px,#475bf9 587px,#4746ea 590px,#4639d9 592px,#422ebe 595px,#402bb6 597px,#412cb9 599px,#4433cc 602px,#4741e4 605px,#4852f4 608px,#4660fc 611px,#4368fe 614px,#4466fd 617px,#475bf9 620px,#4850f3 622px,#473fe3 625px,#4536d3 627px,#412dbc 630px,#402bb6 632px,#402bb7 633px,#422ebe 635px,#463bdd 639px,#484bee 642px,#4758f8 645px,#465dfa 648px,#4758f8 651px,#484bef 654px,#4741e5 656px,#4434ce 659px,#422ebf 661px,#402bb7 663px,#402bb6 664px,#412dbc 666px,#4536d2 669px,#473ee2 671px,#4848ec 673px,#4854f6 676px,#4758f8 678px,#4854f5 681px,#4848ec 684px,#463ee1 686px,#422fc2 690px,#402bb8 692px,#402bb6 693px,#412dbb 695px,#4536d3 698px,#4745ea 701px,#4853f5 704px,#4756f7 706px,#4854f5 708px,#4747eb 711px,#463cdf 713px,#4433cd 715px,#412dbd 717px,#402cb8 718px,#402bb7 720px,#422fc3 722px)"></i>
<i style="left:464px;width:4px;background:linear-gradient(#412dbb 115px,#422fc1 118px,#4639da 122px,#4854f5 127px,#4660fc 129px,#3f6efe 131px,#2f81fa 134px,#2b90f0 137px,#259be8 140px,#1fa6e2 148px,#1aacdd 157px,#1babde 162px,#22a1e4 167px,#2994ed 171px,#2e83f9 175px,#3a73fe 178px,#4269fe 180px,#4660fb 182px,#484aed 188px,#4740e4 193px,#4742e6 196px,#484aee 199px,#465efb 203px,#406cfe 205px,#3a74fe 206px,#327cfc 207px,#2a93ed 210px,#1da8e0 213px,#17aeda 214px,#01b8c9 216px,#06bcc0 217px,#24c1ae 219px,#2dc4a5 220px,#3ac993 222px,#4ccb83 224px,#74cc62 229px,#93ca4b 233px,#a5c83d 236px,#b1c635 239px,#b5c533 241px,#b5c533 246px,#b1c635 249px,#aac73a 252px,#9cc944 256px,#86cb54 258px,#67cd6c 260px,#4ecc81 262px,#46cb88 263px,#42ca8b 264px,#43ca8a 265px,#50cc80 267px,#6acd6a 269px,#a7c73c 272px,#bcc42f 273px,#d0c028 274px,#e1bc2b 275px,#f0ba36 276px,#fbbc3d 277px,#fec339 278px,#fcd030 280px,#f8d92b 282px,#f5e825 289px,#f6ef20 295px,#f8f718 334px,#f9fa15 379px,#f8f817 430px,#f6f11f 470px,#f5e625 475px,#f6de29 476px,#fec537 478px,#fabc3d 479px,#f1ba37 480px,#f0ba36 481px,#f7ba3c 488px,#f7ba3c 498px,#ecba32 501px,#d7be28 504px,#cdc028 505px,#b7c532 507px,#a7c73c 508px,#8acb51 509px,#63cd6f 510px,#3dc990 511px,#26c2ad 512px,#01b9c7 513px,#1aacdd 514px,#2d89f5 516px,#3777fe 517px,#4367fd 518px,#475cfa 519px,#4757f7 520px,#4756f7 521px,#475bf9 523px,#4466fd 525px,#3875fe 527px,#317efb 528px,#2995ec 531px,#1fa5e2 534px,#1aacdd 536px,#1aacdd 539px,#20a5e3 543px,#2c8ff1 549px,#3080fb 551px,#3974fe 552px,#4368fe 553px,#4851f3 555px,#463bdd 557px,#422fc1 559px,#412cb9 560px,#402bb6 561px,#412dbc 563px,#4537d6 566px,#4743e7 568px,#4758f8 571px,#4466fd 573px,#3678fe 576px,#307ffb 579px,#347afd 582px,#4269fe 585px,#475cfa 587px,#4746ea 590px,#463ada 592px,#422ebf 595px,#402bb6 597px,#402bb6 598px,#412dbd 600px,#4536d4 603px,#4740e3 605px,#4851f3 608px,#465ffb 611px,#4368fe 614px,#4466fd 617px,#475bf9 620px,#4851f3 622px,#4740e3 625px,#4536d4 627px,#412dbd 630px,#402bb6 632px,#402bb6 633px,#412ebe 635px,#4536d5 638px,#4740e3 640px,#484aee 642px,#4757f7 645px,#475dfa 648px,#4758f8 651px,#484cef 654px,#463cdf 657px,#422ec0 661px,#402bb7 663px,#402bb6 664px,#402bb7 665px,#422fc1 667px,#463ee1 671px,#4848ec 673px,#4854f5 676px,#4758f8 678px,#4755f6 681px,#4849ed 684px,#473fe2 686px,#4433cb 689px,#412dbd 691px,#402bb6 693px,#402bb7 694px,#422fc0 696px,#473fe2 700px,#484aed 702px,#4852f4 704px,#4756f7 706px,#4854f6 708px,#4848ec 711px,#463ee0 713px,#4434cf 715px,#422ebf 717px,#402bb6 719px,#412cba 721px,#4332ca 723px)"></i>
<i style="left:468px;width:4px;background:linear-gradient(#412dbb 116px,#4331c7 119px,#463adb 122px,#4755f6 127px,#4562fc 129px,#3e6fff 131px,#317dfc 133px,#2f83f9 134px,#2b91ef 137px,#259be7 140px,#1ea7e1 149px,#1aacdd 157px,#1caadf 162px,#249fe5 167px,#2f80fa 175px,#3d71ff 178px,#465dfb 182px,#4848ec 188px,#473fe3 193px,#4741e4 196px,#4849ed 199px,#465efb 203px,#406cfe 205px,#3a74fe 206px,#327cfc 207px,#2a93ed 210px,#1da8e0 213px,#17aeda 214px,#01b8ca 216px,#05bbc1 217px,#23c1af 219px,#2cc4a6 220px,#39c895 222px,#4acb85 224px,#71cd65 229px,#9cc944 235px,#aac73a 238px,#afc636 240px,#b0c636 245px,#aec637 248px,#99c946 255px,#93ca4b 256px,#88cb53 257px,#5bcc77 260px,#43ca8a 262px,#3dca90 263px,#3eca90 265px,#4ccb83 267px,#69cd6b 269px,#aac739 272px,#c0c32d 273px,#d4bf28 274px,#e6bb2d 275px,#f4ba39 276px,#febe3c 277px,#fbd22f 280px,#f8da2b 282px,#f5e725 288px,#f5ef20 294px,#f8f719 331px,#f9fa15 376px,#f8f917 430px,#f6f11f 471px,#f5ea23 474px,#f6e128 476px,#fec735 478px,#fbbc3d 479px,#edba33 480px,#e7bb2e 481px,#f3ba39 488px,#f5ba3a 498px,#ebba31 501px,#d6be28 504px,#c2c22c 506px,#a8c73b 508px,#8ecb4e 509px,#69cd6b 510px,#42ca8b 511px,#2ac3a9 512px,#02bac4 513px,#18aedb 514px,#259de7 515px,#2d8af4 516px,#3678fd 517px,#4367fd 518px,#475bfa 519px,#4755f6 520px,#4853f5 521px,#4758f8 523px,#4562fc 525px,#3d71ff 527px,#2f82fa 529px,#2798ea 532px,#21a3e3 534px,#1caadf 536px,#1babde 539px,#21a4e3 543px,#2c8ef1 549px,#3080fa 551px,#3975fe 552px,#4269fe 553px,#4852f4 555px,#463cde 557px,#422fc2 559px,#412cb9 560px,#402bb6 561px,#412dbc 563px,#4536d5 566px,#4742e6 568px,#4757f7 571px,#4465fd 573px,#3777fe 576px,#307ffb 579px,#347afd 582px,#3e70ff 584px,#475cfa 587px,#4747eb 590px,#463adb 592px,#422fc0 595px,#402bb7 597px,#402bb6 598px,#412dbc 600px,#463adb 604px,#4744e8 606px,#4850f2 608px,#465efb 611px,#4367fd 614px,#4466fd 617px,#475bf9 620px,#4851f3 622px,#4740e4 625px,#4536d4 627px,#412dbd 630px,#402bb6 632px,#402bb6 633px,#412dbd 635px,#4536d3 638px,#473fe2 640px,#4849ed 642px,#4756f7 645px,#475cfa 648px,#4758f8 651px,#484cf0 654px,#4742e6 656px,#4434d0 659px,#412dbb 662px,#402bb6 664px,#402bb7 665px,#422fc0 667px,#463de0 671px,#4747eb 673px,#4853f5 676px,#4758f8 678px,#4755f6 681px,#484aee 684px,#4740e4 686px,#4433cd 689px,#412ebe 691px,#402bb6 693px,#402bb6 694px,#422ebf 696px,#463ee0 700px,#4848ec 702px,#4851f4 704px,#4756f7 706px,#4755f6 708px,#484aed 711px,#473fe2 713px,#4435d1 715px,#422fc0 717px,#402bb7 719px,#412cb9 721px,#422ebf 722px,#4435d1 724px)"></i>
<i style="left:472px;width:4px;background:linear-gradient(#412ebe 117px,#4331c8 119px,#463bdc 122px,#4851f3 126px,#426afe 130px,#317efb 133px,#2a92ee 137px,#259ce7 140px,#1fa6e2 148px,#1aabdd 156px,#1caadf 161px,#23a0e5 166px,#2f82f9 174px,#3a73fe 177px,#4269fe 179px,#4660fb 181px,#4849ed 187px,#473fe2 192px,#473ee2 195px,#4742e6 197px,#484df1 200px,#4465fd 204px,#3a74fe 206px,#327cfc 207px,#2a93ee 210px,#1da8e0 213px,#17aedb 214px,#01b7ca 216px,#04bbc1 217px,#22c1b0 219px,#2cc4a7 220px,#48cb87 224px,#76cc61 230px,#99c946 235px,#a6c73c 238px,#abc739 240px,#aac73a 247px,#a0c840 251px,#92ca4c 255px,#89cb52 256px,#7dcc5c 257px,#4ecc81 260px,#42ca8b 261px,#37c897 263px,#3ac994 265px,#3fca8e 266px,#49cb85 267px,#58cc79 268px,#6acd6a 269px,#afc636 272px,#c6c22a 273px,#d9bd28 274px,#eaba31 275px,#f8ba3d 276px,#fec13a 277px,#fccf30 279px,#f9d82c 281px,#f5e825 288px,#f6ef20 294px,#f8f719 331px,#f9fa15 374px,#f8f917 429px,#f6f11f 471px,#f5eb23 474px,#f5e327 476px,#fec934 478px,#fbbc3d 479px,#eaba31 480px,#debc2a 481px,#ddbd29 482px,#efba35 488px,#f3ba38 498px,#eabb30 501px,#d5be28 504px,#c1c32c 506px,#a8c73b 508px,#91ca4c 509px,#6ecd67 510px,#47cb87 511px,#2dc4a5 512px,#06bcc0 513px,#15afd8 514px,#249fe6 515px,#3579fd 517px,#4367fd 518px,#475bf9 519px,#4853f5 520px,#4851f3 522px,#4758f8 524px,#4465fd 526px,#3975fe 528px,#317efb 529px,#2895ec 532px,#23a1e5 534px,#1da8e0 536px,#1caadf 539px,#21a3e3 543px,#2c8ef1 549px,#2f80fa 551px,#3876fe 552px,#426afe 553px,#4852f4 555px,#463de0 557px,#4230c3 559px,#412cba 560px,#402bb6 561px,#412dbb 563px,#4536d3 566px,#4741e5 568px,#4756f7 571px,#426afe 574px,#3876fe 576px,#317efb 579px,#317dfc 581px,#3876fe 583px,#426afe 585px,#4756f7 588px,#4741e5 591px,#4536d3 593px,#422fc1 595px,#402bb7 597px,#402bb6 598px,#412dbb 600px,#4639d9 604px,#4743e7 606px,#484ff2 608px,#465dfb 611px,#4366fd 614px,#4466fd 617px,#475bf9 620px,#4851f4 622px,#4741e4 625px,#4537d5 627px,#412ebe 630px,#402bb6 632px,#402bb6 633px,#412dbc 635px,#4536d2 638px,#473ee1 640px,#4849ed 642px,#4756f6 645px,#475cfa 648px,#4758f8 651px,#484df0 654px,#4743e7 656px,#4435d1 659px,#412dbc 662px,#402bb6 664px,#402bb7 665px,#422ebf 667px,#463cde 671px,#4746ea 673px,#4853f5 676px,#4757f7 678px,#4755f6 681px,#484bee 684px,#463cde 687px,#422ebf 691px,#402bb7 693px,#402bb6 694px,#412dbd 696px,#463cdf 700px,#4747eb 702px,#4756f6 706px,#4853f5 709px,#4745ea 712px,#463bdc 714px,#4332ca 716px,#412dbb 718px,#402bb7 719px,#402bb6 720px,#412ebd 722px,#4539d9 725px)"></i>
<i style="left:476px;width:4px;background:linear-gradient(#4230c3 118px,#4537d7 121px,#484cef 125px,#465efb 128px,#416cfe 130px,#3080fb 133px,#2c8ff0 136px,#269ae8 139px,#1fa5e2 147px,#1babde 156px,#1ca9e0 161px,#249fe6 166px,#3080fb 174px,#3d70ff 177px,#465dfa 181px,#4747eb 187px,#463de0 192px,#463de0 195px,#4741e5 197px,#484df0 200px,#4465fd 204px,#3a74fe 206px,#327cfc 207px,#2a93ed 210px,#1da8e0 213px,#17aedb 214px,#01b7ca 216px,#04bbc2 217px,#21c1b0 219px,#2bc3a8 220px,#46cb88 224px,#73cd63 230px,#96ca48 235px,#a3c83f 238px,#a7c73c 240px,#a5c83e 247px,#9dc943 250px,#8fcb4e 254px,#89cb52 255px,#7fcc5a 256px,#50cc80 259px,#42ca8b 260px,#39c994 261px,#33c69d 263px,#37c898 265px,#3dc991 266px,#48cb86 267px,#58cc79 268px,#6ccd68 269px,#b5c533 272px,#ccc028 273px,#dfbc2a 274px,#f0ba36 275px,#fcbc3d 276px,#fec438 277px,#fbd22f 279px,#f7dc2a 282px,#f5e924 288px,#f6ef20 293px,#f8f719 329px,#f9fa15 372px,#f8f917 428px,#f6f11e 471px,#f5ee21 473px,#f5e427 476px,#f7db2b 477px,#fdcc32 478px,#fdbd3d 479px,#e9bb30 480px,#d7be28 481px,#d0bf27 482px,#dbbd29 485px,#e5bb2d 487px,#ebba31 489px,#f0ba36 495px,#efba35 499px,#e8bb2e 501px,#d4bf27 504px,#bfc32d 506px,#a7c73c 508px,#93ca4b 509px,#72cd64 510px,#4bcb83 511px,#30c5a2 512px,#0bbdbd 513px,#11b1d6 514px,#23a1e5 515px,#337bfd 517px,#4368fe 518px,#475af9 519px,#4851f3 520px,#484df1 521px,#4755f6 524px,#4661fc 526px,#3d71ff 528px,#2f83f9 530px,#249ee6 534px,#1da8e0 537px,#1da9e0 539px,#22a2e4 543px,#2d8df2 549px,#2f80fa 551px,#416bfe 553px,#4854f5 555px,#4848ec 556px,#4536d3 558px,#4330c5 559px,#412cbb 560px,#402bb6 561px,#412cba 563px,#4535d2 566px,#4747eb 569px,#475cfa 572px,#3e6fff 575px,#3579fd 577px,#317efb 580px,#3876fe 583px,#4464fd 586px,#4757f7 588px,#4742e6 591px,#4536d5 593px,#412dbc 596px,#402bb6 598px,#412cba 600px,#4434cf 603px,#4742e6 606px,#484ef1 608px,#475cfa 611px,#4466fd 614px,#4367fd 616px,#4563fc 618px,#4852f4 622px,#4741e5 625px,#4433cd 628px,#412cba 631px,#402bb6 633px,#402bb8 634px,#422fc2 636px,#463ee1 640px,#4848ec 642px,#4755f6 645px,#475cfa 648px,#4758f8 651px,#4848ec 655px,#463ee1 657px,#422fc2 661px,#402bb8 663px,#402bb6 664px,#402bb6 665px,#422ebe 667px,#4537d5 670px,#4745e9 673px,#484ef1 675px,#4757f7 678px,#4756f6 681px,#4747eb 685px,#463de0 687px,#422fc0 691px,#402bb7 693px,#402bb6 694px,#412dbc 696px,#4536d5 699px,#4746ea 702px,#484ff2 704px,#4755f6 706px,#4853f5 709px,#4747eb 712px,#4537d6 715px,#412dbd 718px,#402bb6 720px,#412dbc 722px,#463ddf 726px)"></i>
<i style="left:480px;width:4px;background:linear-gradient(#4332ca 119px,#463cdf 122px,#484df0 125px,#4660fb 128px,#406dfe 130px,#2f81fa 133px,#2b90ef 136px,#269be8 139px,#1fa6e1 148px,#1babde 156px,#1ca9df 160px,#23a0e5 165px,#2f82fa 173px,#3b73fe 176px,#4369fe 178px,#465ffb 180px,#4745e9 187px,#463de0 191px,#463ddf 195px,#4848ec 199px,#465efb 203px,#406cfe 205px,#3a74fe 206px,#327cfc 207px,#2d8cf3 209px,#1da8e0 213px,#17aeda 214px,#01b7ca 216px,#04bbc2 217px,#21c1b0 219px,#2bc3a8 220px,#4bcb83 225px,#78cc5f 231px,#8ecb4f 234px,#98c947 236px,#a0c941 238px,#a3c83f 240px,#a3c83f 244px,#9fc941 247px,#8ccb50 253px,#80cc59 255px,#73cd63 256px,#44ca8a 259px,#39c895 260px,#30c5a1 262px,#2fc5a2 263px,#35c79b 265px,#3bc992 266px,#47cb87 267px,#59cc78 268px,#6fcd66 269px,#89cb52 270px,#bcc42f 272px,#d3bf27 273px,#e6bb2d 274px,#f5ba3b 275px,#febf3b 276px,#fdce31 278px,#f9d72c 280px,#f5e625 286px,#f5ef20 292px,#f8f719 327px,#f9fa15 370px,#f8f917 428px,#f6f11e 471px,#f6ef20 473px,#f5e526 476px,#f7dd2a 477px,#fccf30 478px,#febe3c 479px,#e9bb30 480px,#d1bf27 481px,#c3c22b 482px,#c3c22b 483px,#c7c12a 484px,#d5be28 486px,#e5bb2d 489px,#ecba32 495px,#ebba32 499px,#e5bb2d 501px,#d1bf27 504px,#bdc32e 506px,#a4c83e 508px,#93ca4b 509px,#75cc61 510px,#50cc80 511px,#11beba 513px,#0cb3d3 514px,#21a3e4 515px,#2c90f0 516px,#327cfc 517px,#4269fe 518px,#475af9 519px,#4850f3 520px,#484bef 521px,#484df1 523px,#4756f7 525px,#4464fd 527px,#3875fe 529px,#307ffb 530px,#2896ec 533px,#23a0e5 535px,#1ea6e1 537px,#1ea7e1 540px,#249ee6 544px,#2d8df2 549px,#2f81fa 551px,#416cfe 553px,#4855f6 555px,#473fe2 557px,#4536d4 558px,#412dbc 560px,#402bb6 561px,#412cba 563px,#4435d1 566px,#4746ea 569px,#475bf9 572px,#4368fe 574px,#3678fe 577px,#317dfb 580px,#3876fe 583px,#4465fd 586px,#4758f8 588px,#4743e7 591px,#4537d6 593px,#412dbd 596px,#402bb6 598px,#402bb7 599px,#422ebf 601px,#4537d6 604px,#4741e5 606px,#484cf0 608px,#475bfa 611px,#4465fd 614px,#4466fd 616px,#4563fc 618px,#4852f4 622px,#4742e6 625px,#4434ce 628px,#412cba 631px,#402bb6 633px,#402bb7 634px,#422fc1 636px,#463de0 640px,#4747eb 642px,#4854f6 645px,#475bfa 648px,#4759f8 651px,#4849ed 655px,#473fe2 657px,#4433cb 660px,#412dbd 662px,#402bb6 664px,#402bb6 665px,#412dbd 667px,#473fe2 672px,#4849ed 674px,#4757f7 678px,#4756f7 681px,#4848ec 685px,#463ee1 687px,#422fc2 691px,#402bb8 693px,#402bb6 694px,#402bb7 695px,#422fc1 697px,#463adb 700px,#4745e9 702px,#484ef1 704px,#4755f6 706px,#4854f5 709px,#4848ec 712px,#463de0 714px,#412ebe 718px,#402bb6 720px,#412cbb 722px,#4536d4 725px,#4741e5 727px)"></i>
<i style="left:484px;width:4px;background:linear-gradient(#4435d2 120px,#484ef1 125px,#4561fc 128px,#3e6fff 130px,#317dfc 132px,#2e83f9 133px,#2b91ef 136px,#259be8 139px,#1fa6e1 148px,#1babde 156px,#1ea7e1 161px,#259be8 166px,#307ffb 173px,#3d70ff 176px,#465dfa 180px,#4743e8 187px,#463bdd 192px,#463cde 195px,#4848ec 199px,#465efb 203px,#406cfe 205px,#3974fe 206px,#317dfc 207px,#2d8cf3 209px,#1da8e0 213px,#17aeda 214px,#01b8ca 216px,#04bbc1 217px,#21c1b0 219px,#2bc3a8 220px,#4acb85 225px,#76cc60 231px,#91ca4c 235px,#9ec942 239px,#9cc944 246px,#89cb52 252px,#80cc5a 254px,#75cc61 255px,#46cb88 258px,#3ac994 259px,#2ec4a4 261px,#2bc3a8 262px,#2fc5a3 264px,#3bc993 266px,#48cb86 267px,#74cc62 269px,#abc739 271px,#c4c22b 272px,#dabd28 273px,#ecba33 274px,#fabb3d 275px,#fec339 276px,#fcd12f 278px,#f7db2a 281px,#f5e924 287px,#f6ef20 292px,#f8f917 343px,#f9fa15 407px,#f8f719 443px,#f6f11f 472px,#f5e924 475px,#f6df29 477px,#fbd22f 478px,#fec03a 479px,#eaba30 480px,#cdc028 481px,#b7c532 482px,#b2c635 483px,#bec32e 485px,#d0bf27 487px,#debd29 489px,#e7bb2d 494px,#e8bb2f 499px,#ddbd29 502px,#cec028 504px,#bbc430 506px,#a2c840 508px,#92ca4b 509px,#77cc60 510px,#53cc7d 511px,#17bfb6 513px,#08b5d0 514px,#20a5e3 515px,#2b92ee 516px,#317efb 517px,#426afe 518px,#475af9 519px,#484ff2 520px,#4849ed 521px,#484aee 523px,#4853f5 525px,#4660fc 527px,#3c71ff 529px,#337bfd 530px,#2e83f9 531px,#249ee6 535px,#20a5e2 537px,#1fa5e2 540px,#249ee6 544px,#2d8df3 549px,#2f81fa 551px,#406dfe 553px,#4756f6 555px,#4740e4 557px,#4537d6 558px,#412dbc 560px,#402bb7 561px,#412cb9 563px,#422ebf 564px,#4434cf 566px,#4745e9 569px,#4759f9 572px,#4367fd 574px,#3777fe 577px,#317dfc 580px,#3776fe 583px,#4466fd 586px,#4758f8 588px,#4744e8 591px,#4538d7 593px,#412ebe 596px,#402bb6 598px,#402bb6 599px,#412ebe 601px,#4536d5 604px,#4740e4 606px,#484bef 608px,#475af9 611px,#4464fd 614px,#4466fd 616px,#4563fc 618px,#4853f4 622px,#4742e6 625px,#4434cf 628px,#412cbb 631px,#402bb6 633px,#402bb7 634px,#422ec0 636px,#4538d7 639px,#4746ea 642px,#4854f5 645px,#475bf9 648px,#4759f8 651px,#4849ed 655px,#473fe3 657px,#4536d4 659px,#412ebe 662px,#402bb6 664px,#402bb6 665px,#412dbc 667px,#4536d2 670px,#473ee1 672px,#4848ec 674px,#4854f5 677px,#4757f8 679px,#4854f5 682px,#4849ed 685px,#473fe2 687px,#4433cb 690px,#412dbd 692px,#402bb6 694px,#412cba 696px,#4331c7 698px,#4743e7 702px,#484df1 704px,#4854f5 706px,#4854f5 709px,#4849ed 712px,#473ee1 714px,#4435d1 716px,#422ec0 718px,#402bb7 720px,#402bb6 721px,#422ebf 723px,#463adb 726px,#4745ea 728px)"></i>
<i style="left:488px;width:4px;background:linear-gradient(#463ada 121px,#4850f2 125px,#426afe 129px,#317efb 132px,#2896eb 137px,#249de6 140px,#20a5e3 146px,#1baade 156px,#1ea7e1 160px,#259ce7 165px,#2f82fa 172px,#3b72fe 175px,#4368fe 177px,#465ffb 179px,#4742e6 187px,#463adb 192px,#463bdd 195px,#4848ec 199px,#465efb 203px,#406dfe 205px,#3975fe 206px,#317dfc 207px,#2d8df2 209px,#1da9e0 213px,#16afda 214px,#01b8ca 216px,#05bbc1 217px,#21c1b0 219px,#2bc3a8 220px,#48cb86 225px,#75cc61 231px,#8fcb4e 235px,#97ca48 237px,#9bc945 239px,#9bc945 243px,#97ca47 246px,#8fcb4e 249px,#82cc57 252px,#76cc60 254px,#6acd6a 255px,#3bc993 258px,#33c69e 259px,#27c2ab 261px,#28c2ab 263px,#32c69e 265px,#3bc993 266px,#4acb84 267px,#61cd72 268px,#b4c534 271px,#cdc028 272px,#e2bc2b 273px,#f3ba39 274px,#febe3c 275px,#fbd32e 278px,#f7dd2a 281px,#f5eb23 287px,#f6f020 292px,#f8f917 342px,#f9fa15 404px,#f8f818 441px,#f6f11e 472px,#f5ed21 474px,#f6e028 477px,#fad42e 478px,#fec339 479px,#ecba32 480px,#cbc029 481px,#adc638 482px,#a0c841 483px,#a3c83f 484px,#abc739 485px,#c2c22c 487px,#cdc028 488px,#d9be28 490px,#e3bc2c 496px,#e2bc2b 500px,#d3bf27 503px,#c2c22c 505px,#abc739 507px,#90ca4d 509px,#78cc5f 510px,#56cc7b 511px,#36c898 512px,#05b6cd 514px,#1ea7e1 515px,#2994ed 516px,#3080fa 517px,#416bfe 518px,#475bf9 519px,#484ff2 520px,#4747eb 521px,#4747eb 523px,#484ff2 525px,#4464fd 528px,#3777fe 530px,#3080fb 531px,#259ce7 535px,#21a3e3 537px,#20a4e3 540px,#259de7 544px,#2d8cf3 549px,#2f81fa 551px,#3f6dfe 553px,#4757f7 555px,#4741e5 557px,#4538d8 558px,#412ebe 560px,#402bb7 561px,#412cb9 563px,#412ebe 564px,#4434ce 566px,#4744e8 569px,#4758f8 572px,#4465fd 574px,#3876fe 577px,#327cfc 580px,#3776fe 583px,#4466fd 586px,#4759f9 588px,#4745e9 591px,#4539d9 593px,#422ebf 596px,#402bb6 598px,#402bb6 599px,#412dbd 601px,#4536d3 604px,#473fe2 606px,#484aee 608px,#4759f8 611px,#4563fd 614px,#4466fd 616px,#4563fc 618px,#4853f5 622px,#4743e7 625px,#4435d0 628px,#412dbb 631px,#402bb6 633px,#402bb7 634px,#422ebf 636px,#463bdd 640px,#484aee 643px,#4756f7 646px,#475bf9 648px,#4759f8 651px,#484aee 655px,#463bdd 658px,#422ebf 662px,#402bb7 664px,#402bb6 665px,#402bb8 666px,#422fc1 668px,#463de0 672px,#4747eb 674px,#4853f5 677px,#4757f7 679px,#4855f6 682px,#484aed 685px,#463bdd 688px,#422ebe 692px,#402bb7 694px,#402bb6 695px,#412ebe 697px,#4538d7 700px,#4742e6 702px,#484cf0 704px,#4853f5 706px,#4755f6 709px,#484aee 712px,#4740e3 714px,#4536d3 716px,#412dbb 719px,#402bb6 721px,#412ebe 723px,#473ee1 727px,#484aed 729px)"></i>
<i style="left:492px;width:4px;background:linear-gradient(#473fe3 122px,#4757f7 126px,#416bfe 129px,#307ffb 132px,#2797eb 137px,#20a5e3 146px,#1caadf 156px,#1fa6e1 160px,#269ae8 165px,#307ffb 172px,#3e70ff 175px,#475dfa 179px,#4743e7 186px,#4639da 191px,#4539d9 193px,#463adc 195px,#4848ec 199px,#465ffb 203px,#3f6dfe 205px,#3876fe 206px,#317efb 207px,#2c8ef2 209px,#1ca9df 213px,#15afd9 214px,#01b8c9 216px,#06bcc0 217px,#22c1b0 219px,#2bc3a8 220px,#47cb87 225px,#73cd62 231px,#8dcb50 235px,#94ca4a 237px,#97ca48 239px,#97ca48 243px,#93ca4b 246px,#89cb52 249px,#7bcc5d 252px,#76cc61 253px,#6ccd68 254px,#3dc990 257px,#33c79d 258px,#25c2ae 260px,#1fc0b2 261px,#1fc0b1 262px,#2bc3a8 264px,#3cc992 266px,#4ecc81 267px,#66cd6d 268px,#a1c840 270px,#bdc32e 271px,#d6be28 272px,#eabb30 273px,#f9bb3d 274px,#fec239 275px,#fcd130 277px,#f6de29 281px,#f5ea24 286px,#f6f020 291px,#f8f917 339px,#f9fa15 399px,#f8f818 439px,#f6f11e 472px,#f5ee21 474px,#f6e128 477px,#f9d72d 478px,#fec537 479px,#efba35 480px,#cbc129 481px,#a6c73c 482px,#8fcb4e 483px,#8ecb4e 484px,#96ca48 485px,#bfc32e 488px,#cac129 489px,#d0bf27 490px,#debd29 496px,#ddbd29 500px,#d5be28 502px,#c7c12a 504px,#a8c73b 507px,#8dcb4f 509px,#77cc5f 510px,#58cc79 511px,#38c896 512px,#20c1b1 513px,#02b7cb 514px,#1da9e0 515px,#2f82f9 517px,#406dfe 518px,#475cfa 519px,#484ff1 520px,#4746ea 521px,#4743e7 522px,#4744e8 523px,#484cef 525px,#4660fc 528px,#4269fe 529px,#3b72fe 530px,#327cfc 531px,#2699e9 535px,#22a1e4 537px,#21a3e3 540px,#269ae9 545px,#2d88f6 550px,#2f82fa 551px,#3579fd 552px,#3f6eff 553px,#4563fd 554px,#484df0 556px,#4639d9 558px,#422ebf 560px,#402bb8 561px,#402bb6 562px,#412dbd 564px,#4537d6 567px,#4743e7 569px,#4757f7 572px,#426afe 575px,#3974fe 577px,#327cfc 580px,#3777fe 583px,#4367fd 586px,#475af9 588px,#4746ea 591px,#4435d1 594px,#412cba 597px,#402bb6 599px,#412dbc 601px,#4435d1 604px,#4743e7 607px,#484ef1 609px,#475cfa 612px,#4464fd 615px,#4464fd 617px,#4660fb 619px,#484ef1 623px,#4743e8 625px,#4435d1 628px,#412dbc 631px,#402bb6 633px,#402bb7 634px,#422ebe 636px,#4536d5 639px,#4849ed 643px,#4852f4 645px,#475af9 648px,#4759f8 651px,#484bee 655px,#463cde 658px,#422ec0 662px,#402bb7 664px,#402bb6 665px,#402bb7 666px,#422fc0 668px,#463cdf 672px,#4746ea 674px,#4852f4 677px,#4757f7 679px,#4755f6 682px,#484aee 685px,#463cde 688px,#422ec0 692px,#402bb7 694px,#402bb6 695px,#412dbc 697px,#4537d5 700px,#4746ea 703px,#4853f4 706px,#4755f6 709px,#484bef 712px,#4741e5 714px,#4433cc 717px,#412dbd 719px,#402bb6 721px,#412dbc 723px,#463ddf 727px,#484df1 730px)"></i>
<i style="left:496px;width:4px;background:linear-gradient(#4746ea 123px,#4759f8 126px,#406dfe 129px,#2f81fa 132px,#2994ed 136px,#249de6 140px,#1da9e0 151px,#1ca9e0 157px,#23a1e4 162px,#2895ec 166px,#2f81fa 171px,#406dfe 175px,#465ffb 178px,#4747eb 184px,#4639da 190px,#4538d8 194px,#473fe2 197px,#484df0 200px,#465ffb 203px,#3f6eff 205px,#3776fe 206px,#307ffb 207px,#2c8ef1 209px,#1caadf 213px,#14b0d8 214px,#08b4d0 215px,#01b9c8 216px,#07bcbf 217px,#23c1af 219px,#2bc3a7 220px,#47cb87 225px,#72cd63 231px,#86cb55 234px,#91ca4c 237px,#94ca4a 242px,#8bcb51 247px,#74cc62 252px,#6dcd67 253px,#61cd72 254px,#3fca8e 256px,#2cc4a6 258px,#19bfb5 260px,#16bfb7 261px,#19bfb5 262px,#2ac3a9 264px,#3eca90 266px,#53cc7d 267px,#6ecd67 268px,#abc739 270px,#c7c12a 271px,#dfbc2a 272px,#f1ba37 273px,#febd3c 274px,#fdcd31 276px,#f8da2b 279px,#f5e924 285px,#f6ef20 290px,#f8f917 337px,#f9fa15 395px,#f8f818 437px,#f6f11e 472px,#f5ee21 474px,#f5e128 477px,#f8d92c 478px,#fec835 479px,#f2ba38 480px,#ccc028 481px,#a2c840 482px,#82cc58 483px,#79cc5e 484px,#80cc59 485px,#8dcb4f 486px,#aec637 488px,#bdc32f 489px,#c6c22a 490px,#d6be28 495px,#d9bd28 498px,#d8be28 500px,#d0bf27 502px,#c3c22b 504px,#afc636 506px,#89cb52 509px,#76cc60 510px,#5acc78 511px,#3ac993 512px,#24c1ae 513px,#01b9c8 514px,#1babde 515px,#2e84f8 517px,#3e6fff 518px,#465dfa 519px,#484ff2 520px,#4745e9 521px,#4741e5 522px,#4849ed 525px,#465dfa 528px,#3f6fff 530px,#2f81fa 532px,#2797eb 535px,#22a2e4 538px,#22a2e4 540px,#259ce7 544px,#2d88f6 550px,#2f82fa 551px,#347afd 552px,#4464fd 554px,#484ef1 556px,#463adb 558px,#422fc0 560px,#402cb8 561px,#402bb6 562px,#412dbc 564px,#4536d4 567px,#4741e6 569px,#4756f6 572px,#4369fe 575px,#3a73fe 577px,#327bfc 580px,#3777fe 583px,#4368fe 586px,#475bf9 588px,#4747eb 591px,#4536d3 594px,#412dbb 597px,#402bb6 599px,#412cbb 601px,#4434cf 604px,#4742e6 607px,#484df0 609px,#475bf9 612px,#4564fd 615px,#4464fd 617px,#4660fc 619px,#484ff2 623px,#473fe2 626px,#4536d2 628px,#412dbc 631px,#402bb6 633px,#402bb6 634px,#412ebd 636px,#4536d3 639px,#4848ec 643px,#4851f4 645px,#475af9 648px,#4759f8 651px,#484bef 655px,#4742e6 657px,#4435d0 660px,#412dbb 663px,#402bb6 665px,#402bb7 666px,#422ebf 668px,#463bdd 672px,#484aee 675px,#4855f6 678px,#4757f7 680px,#4853f5 683px,#4747eb 686px,#463de0 688px,#422fc1 692px,#402bb8 694px,#402bb6 695px,#412dbb 697px,#4536d3 700px,#473fe3 702px,#484aed 704px,#4854f6 707px,#4853f5 710px,#484cf0 712px,#4742e6 714px,#4434ce 717px,#412cb9 720px,#402bb7 722px,#422fc1 724px,#4741e5 728px,#4851f3 731px)"></i>
<i style="left:500px;width:4px;background:linear-gradient(#484df1 124px,#4367fd 128px,#3875fe 130px,#2f82f9 132px,#2798ea 137px,#20a5e2 146px,#1caadf 155px,#1fa6e2 159px,#269ae8 164px,#307ffb 171px,#3e70ff 174px,#475dfa 178px,#4742e6 185px,#4538d8 190px,#4538d7 194px,#463cde 196px,#4848ec 199px,#4660fb 203px,#3e6fff 205px,#3080fb 207px,#2c8ff0 209px,#1babde 213px,#13b0d7 214px,#07b5cf 215px,#01b9c7 216px,#08bcbf 217px,#24c1ae 219px,#2cc4a7 220px,#40ca8d 224px,#7fcc5a 233px,#8fcb4e 237px,#90ca4d 242px,#8ecb4f 244px,#85cb55 247px,#6dcd68 252px,#63cd6f 253px,#36c899 256px,#22c1b0 258px,#15bfb7 259px,#0dbdbc 260px,#0cbdbc 261px,#12beb9 262px,#29c3a9 264px,#40ca8d 266px,#59cc78 267px,#76cc60 268px,#b6c532 270px,#d1bf27 271px,#e7bb2e 272px,#f8ba3d 273px,#fec13a 274px,#fcd030 276px,#f6de29 280px,#f5ea23 285px,#f6ef20 289px,#f8f817 334px,#f9fb15 389px,#f8f817 435px,#f6f21e 472px,#f5ef20 474px,#f5e128 477px,#f8da2b 478px,#fdcb33 479px,#f6ba3b 480px,#cfc028 481px,#9fc941 482px,#77cc60 483px,#66cd6d 484px,#6acd6a 485px,#76cc60 486px,#aec637 489px,#bbc430 490px,#c1c32c 491px,#cfc028 495px,#d3bf27 498px,#d0c027 501px,#c6c22a 503px,#abc739 506px,#92ca4b 508px,#74cc62 510px,#5acc77 511px,#3cc992 512px,#27c2ac 513px,#01bac5 514px,#19addc 515px,#269be8 516px,#2e87f7 517px,#3c71ff 518px,#465efb 519px,#4850f2 520px,#4745e9 521px,#4740e3 522px,#4742e6 524px,#484bef 526px,#4562fc 529px,#416bfe 530px,#3975fe 531px,#317efb 532px,#2c8ef1 534px,#269ae9 536px,#23a0e5 538px,#22a1e4 540px,#259be8 544px,#2d88f6 550px,#337bfd 552px,#4466fd 554px,#4850f2 556px,#463bdd 558px,#422fc2 560px,#412cb9 561px,#402bb6 562px,#412dbb 564px,#4536d3 567px,#4740e4 569px,#4854f6 572px,#4367fd 575px,#3b72ff 577px,#337bfc 580px,#347afd 582px,#3b73fe 584px,#4369fe 586px,#4756f6 589px,#4742e6 592px,#4537d5 594px,#412dbc 597px,#402bb6 599px,#402bb7 600px,#422ebf 602px,#4537d6 605px,#4741e5 607px,#484cef 609px,#475af9 612px,#4563fd 615px,#4464fd 617px,#4660fc 619px,#4850f2 623px,#473fe3 626px,#4536d4 628px,#412dbd 631px,#402bb6 633px,#402bb6 634px,#422fc2 637px,#463ee1 641px,#4848ec 643px,#4851f3 645px,#4759f9 648px,#4759f8 651px,#484cef 655px,#4742e6 657px,#4435d1 660px,#412dbc 663px,#402bb6 665px,#402bb6 666px,#412ebe 668px,#463adc 672px,#4849ed 675px,#4854f5 678px,#4757f7 680px,#4853f5 683px,#4848ec 686px,#463ee1 688px,#4535d2 690px,#412dbc 693px,#402bb6 695px,#402bb7 696px,#422ec0 698px,#463ee1 702px,#4848ec 704px,#4854f5 707px,#4854f5 710px,#484df0 712px,#4743e8 714px,#4435d1 717px,#422fc0 719px,#402bb7 721px,#402bb6 722px,#422ebf 724px,#4435d1 726px,#4745ea 729px,#4854f5 732px)"></i>
<i style="left:504px;width:4px;background:linear-gradient(#4755f6 125px,#4369fe 128px,#3777fe 130px,#2e83f9 132px,#2698ea 137px,#1fa6e2 147px,#1ca9df 155px,#20a5e3 159px,#2698ea 164px,#2f81fa 170px,#3f6dfe 174px,#475bf9 178px,#4741e4 185px,#4537d6 190px,#4536d4 192px,#4537d6 194px,#463bdd 196px,#4848ec 199px,#4660fc 203px,#3e70ff 205px,#2f81fa 207px,#2b90f0 209px,#1aacdd 213px,#12b1d6 214px,#05b6ce 215px,#01b9c6 216px,#0abdbd 217px,#25c2ae 219px,#2cc4a6 220px,#40ca8d 224px,#7ecc5b 233px,#87cb54 235px,#8ccb50 237px,#8ccb50 242px,#89cb52 244px,#7fcc5a 247px,#64cd6e 252px,#58cc79 253px,#39c895 255px,#23c1af 257px,#13beb8 258px,#08bcbf 259px,#04bbc2 260px,#06bcc0 261px,#0dbdbc 262px,#1bc0b4 263px,#34c79b 265px,#45cb89 266px,#60cd72 267px,#81cc59 268px,#a2c83f 269px,#c1c32c 270px,#dbbd28 271px,#efba35 272px,#fdbd3d 273px,#fdcd32 275px,#f8d92b 278px,#f5e825 283px,#f6ef20 288px,#f8f818 330px,#f9fb15 382px,#f8f917 433px,#f6f21e 472px,#f6ef20 474px,#f5e725 476px,#f7db2a 478px,#fdce31 479px,#f9bb3d 480px,#d3bf27 481px,#9fc941 482px,#70cd65 483px,#57cc7a 484px,#57cc7a 485px,#60cd72 486px,#72cd64 487px,#9dc943 489px,#adc638 490px,#b7c532 491px,#c4c22b 494px,#cbc029 497px,#cdc028 499px,#cac129 501px,#c0c32d 503px,#b0c636 505px,#8ecb4f 508px,#71cd64 510px,#5acc77 511px,#3dca90 512px,#29c3a9 513px,#03bbc2 514px,#16aeda 515px,#259de7 516px,#2d89f5 517px,#3a74fe 518px,#4660fc 519px,#4745e9 521px,#473fe2 522px,#4740e3 524px,#4848ec 526px,#465efb 529px,#3d71ff 531px,#337bfd 532px,#2e84f9 533px,#2798ea 536px,#249fe5 538px,#23a0e5 540px,#2798ea 545px,#2d87f6 550px,#327bfc 552px,#4367fd 554px,#4851f3 556px,#463cdf 558px,#4230c3 560px,#412cba 561px,#402bb6 562px,#412cbb 564px,#4435d1 567px,#4746ea 570px,#475af9 573px,#4466fd 575px,#3875fe 578px,#337bfd 581px,#3a73fe 584px,#4269fe 586px,#4757f7 589px,#4743e7 592px,#4537d6 594px,#412ebd 597px,#402bb6 599px,#402bb6 600px,#412ebe 602px,#4536d4 605px,#484aee 609px,#4759f8 612px,#4562fc 615px,#4564fd 617px,#4660fc 619px,#4850f3 623px,#4740e4 626px,#4433cc 629px,#412cb9 632px,#402bb6 634px,#422fc1 637px,#463de0 641px,#4747eb 643px,#4757f7 647px,#475af9 650px,#4854f6 653px,#4848ec 656px,#463ee1 658px,#4332ca 661px,#412dbd 663px,#402bb6 665px,#402bb6 666px,#412dbd 668px,#4536d3 671px,#473ee1 673px,#4848ec 675px,#4853f5 678px,#4757f7 681px,#4854f5 683px,#4848ec 686px,#473fe2 688px,#412ebe 693px,#402bb6 695px,#402bb6 696px,#422ebe 698px,#463ddf 702px,#4747eb 704px,#4853f5 707px,#4854f5 710px,#484ef1 712px,#4745e9 714px,#4536d3 717px,#412dbb 720px,#402bb6 722px,#412dbd 724px,#4434cf 726px,#4744e8 729px,#484ff2 731px,#4755f6 733px)"></i>
<i style="left:508px;width:4px;background:linear-gradient(#475dfa 126px,#426afe 128px,#3578fd 130px,#307ffb 131px,#2c8ef1 134px,#2699e9 137px,#1fa6e2 147px,#1da9e0 155px,#21a4e3 159px,#2797eb 164px,#307ffb 170px,#3d70ff 173px,#465dfa 177px,#473fe2 185px,#4536d4 190px,#4535d2 192px,#4537d5 194px,#463bdd 196px,#4848ec 199px,#4561fc 203px,#3d71ff 205px,#2f82fa 207px,#2b91ef 209px,#19acdc 213px,#04b6cd 215px,#02bac5 216px,#0bbdbc 217px,#26c2ad 219px,#2dc4a5 220px,#40ca8d 224px,#6acd6a 230px,#7ccc5c 233px,#88cb53 236px,#89cb52 241px,#82cc58 245px,#64cd6f 251px,#5bcc76 252px,#4ccb83 253px,#3cc991 254px,#25c2ad 256px,#05bbc1 258px,#01b9c6 259px,#02bac4 261px,#09bcbe 262px,#2bc3a8 264px,#36c899 265px,#4acb84 266px,#68cd6b 267px,#adc638 269px,#cbc129 270px,#e3bb2c 271px,#f6ba3b 272px,#fec13a 273px,#fcd030 275px,#f6de29 279px,#f5eb23 284px,#f6f020 288px,#f8f818 329px,#f9fb15 377px,#f8f917 432px,#f6f11e 473px,#f5ed22 475px,#f7dc2a 478px,#fcd030 479px,#fcbd3d 480px,#d8be28 481px,#a1c840 482px,#6ccd69 483px,#4ccb83 484px,#45cb88 485px,#4dcb82 486px,#5dcc75 487px,#9ec942 490px,#acc739 491px,#c2c22c 496px,#c7c12a 499px,#c4c22a 501px,#bbc42f 503px,#acc739 505px,#96ca48 507px,#6ecd67 510px,#5acc77 511px,#3eca8f 512px,#2cc4a7 513px,#07bcc0 514px,#13b0d7 515px,#249fe5 516px,#3777fe 518px,#4562fc 519px,#4746ea 521px,#463ee1 522px,#463cdf 523px,#4746ea 526px,#475bf9 529px,#3f6dfe 531px,#2f81fa 533px,#2896ec 536px,#249de6 538px,#249fe5 540px,#2798ea 545px,#2d87f6 550px,#327cfc 552px,#4368fe 554px,#4852f4 556px,#4848ec 557px,#4536d3 559px,#412dbb 561px,#402bb6 562px,#412cba 564px,#4435d0 567px,#4745e9 570px,#4758f8 573px,#4465fd 575px,#3974fe 578px,#337afd 581px,#3a74fe 584px,#426afe 586px,#4758f8 589px,#4744e8 592px,#4538d8 594px,#422ebe 597px,#402bb6 599px,#402bb6 600px,#412dbc 602px,#463ada 606px,#484ff1 610px,#475cfa 613px,#4563fd 616px,#4661fc 619px,#4851f3 623px,#4741e5 626px,#4434cd 629px,#412cba 632px,#402bb6 634px,#412dbb 636px,#4434cf 639px,#4741e5 642px,#484bee 644px,#4756f7 647px,#475af9 650px,#4755f6 653px,#4848ec 656px,#473fe2 658px,#4433cc 661px,#412ebe 663px,#402bb6 665px,#402bb6 666px,#412dbc 668px,#4435d1 671px,#463de0 673px,#4747eb 675px,#4853f5 678px,#4757f7 681px,#4854f5 683px,#4849ed 686px,#463bdd 689px,#422ebf 693px,#402bb7 695px,#402bb6 696px,#412dbd 698px,#4433cc 700px,#4741e5 703px,#484bee 705px,#4854f6 708px,#4852f4 711px,#484bee 713px,#4741e5 715px,#4537d5 717px,#412dbd 720px,#402bb6 722px,#412dbc 724px,#4537d6 727px,#4848ec 730px,#4852f4 732px,#4756f7 734px)"></i>
<i style="left:512px;width:4px;background:linear-gradient(#4465fd 127px,#3b73fe 129px,#3080fa 131px,#2797eb 136px,#21a3e3 144px,#1da9e0 152px,#1fa6e2 157px,#259be8 162px,#2f81fa 169px,#3f6efe 173px,#475bf9 177px,#4747eb 182px,#463bdd 186px,#4536d4 189px,#4435d1 193px,#473ee1 197px,#475af9 202px,#4269fe 204px,#3c72ff 205px,#2e83f9 207px,#2a92ee 209px,#1ea7e1 212px,#18addb 213px,#03b7cc 215px,#02bac3 216px,#1cc0b3 218px,#2ec4a5 220px,#40ca8d 224px,#70cd65 231px,#80cc59 234px,#86cb55 237px,#86cb55 241px,#83cc57 243px,#78cc5f 246px,#68cd6b 249px,#5dcc75 251px,#50cc7f 252px,#40ca8d 253px,#28c3ab 255px,#04bbc2 257px,#01b8c9 258px,#04b6cd 259px,#01b9c7 261px,#07bcc0 262px,#2cc4a7 264px,#38c895 265px,#51cc7f 266px,#71cd64 267px,#96ca48 268px,#b8c431 269px,#d5be28 270px,#ebba32 271px,#fbbc3d 272px,#fec437 273px,#fbd12f 275px,#f5e327 280px,#f5ec22 284px,#f6ef20 287px,#f8f818 327px,#f9fb15 374px,#f8f917 430px,#f6f11e 473px,#f5ed22 475px,#f7dc2a 478px,#fbd22f 479px,#febf3b 480px,#ddbd29 481px,#a5c83d 482px,#6acd6a 483px,#44cb8a 484px,#39c995 485px,#3dc991 486px,#49cb85 487px,#5dcc74 488px,#8ecb4f 490px,#9fc941 491px,#adc638 493px,#bac430 496px,#c0c32d 500px,#bbc430 502px,#afc637 504px,#9dc943 506px,#85cb55 508px,#6acd6a 510px,#59cc78 511px,#40ca8d 512px,#2dc4a5 513px,#0abdbd 514px,#0fb2d5 515px,#22a2e4 516px,#347afd 518px,#4465fd 519px,#4747eb 521px,#463ee1 522px,#463bdd 523px,#463cde 524px,#4743e7 526px,#4758f8 529px,#426afe 531px,#317efb 533px,#2994ed 536px,#259ce7 538px,#249ee6 540px,#2797ea 545px,#2d87f6 550px,#317dfc 552px,#426afe 554px,#4854f5 556px,#473fe2 558px,#4537d5 559px,#412dbc 561px,#402bb6 562px,#412cb9 564px,#4434ce 567px,#4744e8 570px,#4757f7 573px,#4269fe 576px,#3a73fe 578px,#347afd 581px,#3a74fe 584px,#4465fd 587px,#4759f8 589px,#4745e9 592px,#4435d0 595px,#412cba 598px,#402bb6 600px,#412dbb 602px,#4435d1 605px,#4743e7 608px,#484df1 610px,#475bf9 613px,#4563fc 616px,#4661fc 619px,#4756f7 622px,#484cf0 624px,#463cdf 627px,#422ec0 631px,#402bb7 633px,#402bb6 634px,#402bb7 635px,#422ec0 637px,#4537d6 640px,#4745e9 643px,#4852f4 646px,#475af9 649px,#4758f8 652px,#4849ed 656px,#463bdc 659px,#422ebf 663px,#402bb7 665px,#402bb6 666px,#402bb8 667px,#422fc1 669px,#463cdf 673px,#4746ea 675px,#4852f4 678px,#4757f7 681px,#4852f4 684px,#4745ea 687px,#463cde 689px,#422ec0 693px,#402bb7 695px,#402bb6 696px,#412dbc 698px,#4536d3 701px,#473fe3 703px,#484aed 705px,#4854f5 708px,#4853f5 711px,#484cef 713px,#4742e6 715px,#4434cf 718px,#412cb9 721px,#402bb6 723px,#412cba 724px,#4332ca 726px,#463bdd 728px,#4747eb 730px,#4854f6 733px,#4756f7 735px)"></i>
<i style="left:516px;width:4px;background:linear-gradient(#406dfe 128px,#2f81fa 131px,#2c90f0 134px,#2699e9 137px,#1fa6e1 147px,#1ea7e1 155px,#22a1e4 159px,#2797eb 163px,#307ffb 169px,#416cfe 173px,#4755f6 178px,#473fe2 184px,#4535d2 189px,#4434cf 192px,#4536d3 194px,#4743e7 198px,#4562fc 203px,#3b72fe 205px,#327bfc 206px,#1da8e0 212px,#17aeda 213px,#01b7ca 215px,#03bbc2 216px,#1ec0b2 218px,#28c3ab 219px,#40ca8d 224px,#6fcd66 231px,#7ecc5b 234px,#83cc57 236px,#81cc59 242px,#7bcc5d 244px,#6dcd67 247px,#54cc7d 251px,#36c898 253px,#2cc4a7 254px,#05bbc1 256px,#02b7cb 257px,#08b4d1 258px,#0bb3d2 259px,#01b8ca 261px,#05bbc1 262px,#2dc4a5 264px,#3cc992 265px,#58cc79 266px,#7ccc5c 267px,#a1c840 268px,#c3c22b 269px,#debc2a 270px,#f3ba38 271px,#febf3b 272px,#fcce31 274px,#f6de29 278px,#f5e924 282px,#f6ef20 286px,#f8f818 325px,#f9fb15 372px,#f8f917 430px,#f6f21e 473px,#f5ee21 475px,#f7dd2a 478px,#fad42e 479px,#fec239 480px,#e3bc2c 481px,#abc739 482px,#6bcd69 483px,#3fca8e 484px,#32c69e 485px,#33c69d 486px,#3ac994 487px,#4acb84 488px,#7ccc5c 490px,#91ca4c 491px,#9cc943 492px,#adc638 495px,#b5c533 497px,#b9c430 499px,#b8c431 501px,#b0c636 503px,#a1c840 505px,#8dcb4f 507px,#67cd6d 510px,#58cc79 511px,#41ca8d 512px,#2fc5a3 513px,#0fbeba 514px,#0bb4d2 515px,#20a4e3 516px,#2b91ef 517px,#317dfc 518px,#4368fd 519px,#4756f7 520px,#4848ec 521px,#473ee1 522px,#463adb 523px,#463ddf 525px,#4747eb 527px,#465efb 530px,#3d71ff 532px,#337bfd 533px,#2e83f9 534px,#2b92ef 536px,#269be8 538px,#249ee6 540px,#2797eb 545px,#2d88f6 550px,#317efb 552px,#416bfe 554px,#4756f6 556px,#4740e4 558px,#4538d7 559px,#412dbd 561px,#402bb7 562px,#412cb9 564px,#4433cd 567px,#4742e6 570px,#4756f7 573px,#4562fc 575px,#3b72ff 578px,#3479fd 581px,#3974fe 584px,#4466fd 587px,#4759f9 589px,#4746ea 592px,#4535d2 595px,#412dbb 598px,#402bb6 600px,#402bb7 601px,#422ec0 603px,#463cdf 607px,#484cf0 610px,#475af9 613px,#4562fc 616px,#4563fc 618px,#465efb 620px,#484df0 624px,#4742e6 626px,#4435d0 629px,#412dbb 632px,#402bb6 634px,#402bb7 635px,#422ebf 637px,#463bdc 641px,#4849ed 644px,#4755f6 647px,#4759f8 649px,#4758f8 652px,#484aed 656px,#463bdd 659px,#422ebf 663px,#402bb7 665px,#402bb6 666px,#402bb7 667px,#422ec0 669px,#463cde 673px,#4745e9 675px,#4851f4 678px,#4757f7 681px,#4852f4 684px,#4746ea 687px,#463ddf 689px,#422fc1 693px,#402bb8 695px,#402bb6 696px,#402bb7 697px,#422fc1 699px,#473ee1 703px,#4849ed 705px,#4853f5 708px,#4853f5 711px,#484df0 713px,#4743e7 715px,#422fc0 720px,#402bb7 722px,#402bb6 723px,#422ebf 725px,#4435d1 727px,#4740e3 729px,#484bef 731px,#4756f7 734px,#4755f6 736px)"></i>
<i style="left:520px;width:4px;background:linear-gradient(#3875fe 129px,#2f82f9 131px,#2b91ef 134px,#269ae9 137px,#1fa6e1 147px,#1ea7e1 155px,#23a0e5 159px,#2895ec 163px,#317dfb 169px,#3f6eff 172px,#475cfa 176px,#463ee0 184px,#4435d0 189px,#4433cd 192px,#4435d1 194px,#4743e7 198px,#4563fc 203px,#3a73fe 205px,#327cfc 206px,#2d8df2 208px,#1ca9df 212px,#15afd9 213px,#01b8c9 215px,#05bbc1 216px,#20c1b1 218px,#29c3aa 219px,#40ca8d 224px,#6ecd66 231px,#7ccc5c 234px,#80cc59 236px,#80cc59 240px,#7ccc5c 242px,#67cd6d 247px,#55cc7c 250px,#49cb85 251px,#20c1b1 254px,#08bcbf 255px,#02b7ca 256px,#13b0d7 258px,#13b1d7 259px,#03b7cc 261px,#04bbc2 262px,#1cc0b4 263px,#2fc5a3 264px,#40ca8d 265px,#60cd72 266px,#acc738 268px,#cdc028 269px,#e7bb2d 270px,#f9bb3d 271px,#fec339 272px,#fcd030 274px,#f5e327 279px,#f5ec22 283px,#f6f020 286px,#f8f818 325px,#f9fb15 370px,#f8f917 429px,#f6f21e 473px,#f5ee21 475px,#f5e426 477px,#fad62d 479px,#fec536 480px,#e9bb30 481px,#b2c635 482px,#6dcd67 483px,#3dc991 484px,#2dc4a5 485px,#2bc3a8 486px,#31c6a0 487px,#3bc993 488px,#50cc80 489px,#82cc57 491px,#91ca4c 492px,#a4c83e 495px,#adc638 497px,#b2c635 499px,#b2c635 501px,#abc739 503px,#9cc943 505px,#88cb53 507px,#63cd6f 510px,#56cc7b 511px,#41ca8c 512px,#30c5a2 513px,#14beb8 514px,#06b5cf 515px,#1ea7e1 516px,#2f80fa 518px,#416bfe 519px,#4758f8 520px,#484aee 521px,#473fe2 522px,#463ada 523px,#463bdd 525px,#4744e8 527px,#475bf9 530px,#3f6efe 532px,#2f81fa 534px,#2c8ff0 536px,#2699e9 538px,#259de7 540px,#2699e9 544px,#2d8bf4 549px,#307ffb 552px,#406dfe 554px,#4757f7 556px,#4742e6 558px,#4539d9 559px,#422ebe 561px,#402bb7 562px,#402bb6 563px,#412dbd 565px,#4537d5 568px,#4741e5 570px,#4755f6 573px,#4561fc 575px,#3c71ff 578px,#3579fd 581px,#3677fe 583px,#3d71ff 585px,#4661fc 588px,#4854f5 590px,#4741e4 593px,#4536d4 595px,#412dbc 598px,#402bb6 600px,#402bb7 601px,#422ebf 603px,#4537d6 606px,#4740e4 608px,#484bef 610px,#4759f9 613px,#4562fc 616px,#4562fc 618px,#465efb 620px,#484ef1 624px,#4743e7 626px,#4435d1 629px,#412dbc 632px,#402bb6 634px,#402bb7 635px,#412ebe 637px,#4536d4 640px,#4848ec 644px,#4851f3 646px,#4759f8 649px,#4758f8 652px,#484aee 656px,#463cde 659px,#422fc0 663px,#402bb6 666px,#402bb7 667px,#422ebf 669px,#4537d5 672px,#4744e9 675px,#484df1 677px,#4756f6 680px,#4755f6 683px,#4747eb 687px,#4435d2 691px,#412dbc 694px,#402bb6 696px,#412cba 698px,#4331c7 700px,#4742e6 704px,#484cf0 706px,#4853f5 708px,#4854f5 711px,#4849ed 714px,#473fe3 716px,#4536d3 718px,#412dbc 721px,#402bb6 723px,#412dbd 725px,#473ee1 729px,#484aee 731px,#4756f6 734px,#4853f5 737px)"></i>
<i style="left:524px;width:4px;background:linear-gradient(#317dfc 130px,#2b91ef 134px,#269ae9 137px,#1fa6e2 147px,#1fa6e2 155px,#249fe5 159px,#2994ed 163px,#2f80fa 168px,#406dfe 172px,#4756f6 177px,#463cdf 184px,#4434ce 189px,#4433cb 191px,#4433cd 193px,#4537d5 195px,#4743e7 198px,#4755f6 201px,#4564fd 203px,#3974fe 205px,#317dfc 206px,#2c8ef2 208px,#1baade 212px,#14b0d8 213px,#07b5d0 214px,#01b9c8 215px,#07bcbf 216px,#22c1b0 218px,#2ac3a9 219px,#40ca8d 224px,#6ecd67 231px,#7acc5e 234px,#7dcc5c 236px,#7ccc5c 240px,#78cc5f 242px,#6bcd69 245px,#54cc7c 249px,#4ccb83 250px,#3fca8e 251px,#26c2ad 253px,#0dbdbb 254px,#01b8c9 255px,#16aeda 257px,#19acdc 258px,#18aedb 259px,#12b1d6 260px,#05b6ce 261px,#04bbc2 262px,#1dc0b3 263px,#31c6a0 264px,#45cb88 265px,#69cd6b 266px,#91ca4c 267px,#b7c532 268px,#d6be28 269px,#eeba34 270px,#fdbd3d 271px,#fdcd32 273px,#f6dd29 277px,#f5e924 281px,#f6ef20 285px,#f8f818 324px,#f9fb15 370px,#f8f917 429px,#f6f21e 473px,#f5ef20 475px,#f5e526 477px,#f9d72d 479px,#fec934 480px,#efba35 481px,#b9c430 482px,#72cd63 483px,#3cc991 484px,#29c3aa 485px,#20c1b1 486px,#27c2ab 487px,#31c6a0 488px,#3fca8e 489px,#72cd63 491px,#85cb55 492px,#95ca49 494px,#a5c83d 497px,#abc739 499px,#acc739 501px,#a5c83d 503px,#97ca47 505px,#84cc56 507px,#54cc7c 511px,#42ca8c 512px,#31c6a0 513px,#03b7cc 515px,#1da9e0 516px,#2e83f9 518px,#3f6eff 519px,#475bf9 520px,#4740e4 522px,#463ada 523px,#4538d8 524px,#463adb 525px,#4742e6 527px,#4758f8 530px,#416bfe 532px,#317efb 534px,#2d8df2 536px,#2798ea 538px,#259ce7 540px,#2797eb 545px,#2e85f8 551px,#3080fb 552px,#3f6eff 554px,#4564fd 555px,#484ef1 557px,#463adb 559px,#422ec0 561px,#402bb8 562px,#402bb6 563px,#412dbc 565px,#4536d3 568px,#4740e4 570px,#4854f5 573px,#4660fc 575px,#3d70ff 578px,#3579fd 581px,#3677fe 583px,#3c71ff 585px,#4561fc 588px,#4755f6 590px,#4742e6 593px,#4537d5 595px,#412dbd 598px,#402bb6 600px,#402bb6 601px,#412ebe 603px,#4536d4 606px,#484aee 610px,#4759f8 613px,#4561fc 616px,#4562fc 618px,#465ffb 620px,#484ef1 624px,#473ee2 627px,#4535d2 629px,#412dbc 632px,#402bb6 634px,#402bb6 635px,#412dbd 637px,#4536d2 640px,#4847ec 644px,#4850f3 646px,#4759f8 649px,#4758f8 652px,#484bee 656px,#4741e5 658px,#4435d0 661px,#412dbc 664px,#402bb6 666px,#402bb7 667px,#412ebe 669px,#4536d4 672px,#4744e8 675px,#484df0 677px,#4755f6 680px,#4755f6 683px,#4848ec 687px,#473ee2 689px,#412ebd 694px,#402bb6 696px,#402bb6 697px,#412ebe 699px,#4537d6 702px,#4741e5 704px,#4852f4 708px,#4854f5 711px,#484aee 714px,#4740e4 716px,#4433cc 719px,#412dbd 721px,#402bb6 723px,#412dbb 725px,#463de0 729px,#484ef1 732px,#4757f7 735px,#4850f2 738px)"></i>
<i style="left:528px;width:4px;background:linear-gradient(#2e84f8 131px,#2895ec 135px,#249ee6 140px,#1ea7e1 149px,#1fa5e2 155px,#2699e9 161px,#2e83f9 167px,#3975fe 170px,#416bfe 172px,#4854f5 177px,#463ee1 183px,#4434ce 188px,#4332ca 192px,#4434cf 194px,#4743e7 198px,#4755f6 201px,#4464fd 203px,#3875fe 205px,#307efb 206px,#2c8ff1 208px,#1babde 212px,#12b1d7 213px,#06b5cf 214px,#01b9c6 215px,#09bcbe 216px,#23c1af 218px,#2bc3a8 219px,#41ca8c 224px,#67cd6c 230px,#75cc61 233px,#79cc5e 235px,#79cc5e 239px,#73cd63 242px,#65cd6e 245px,#4dcc82 249px,#43ca8a 250px,#2cc4a7 252px,#01bac5 254px,#18aedb 256px,#1caadf 257px,#1babde 259px,#15afd9 260px,#07b5cf 261px,#04bbc2 262px,#20c1b1 263px,#33c69d 264px,#4ccb83 265px,#72cd63 266px,#9cc944 267px,#c1c32c 268px,#dfbc2a 269px,#f4ba3a 270px,#fec03b 271px,#fdce31 273px,#f5e227 278px,#f5ec22 282px,#f6f020 285px,#f8f818 324px,#f9fb15 370px,#f8f917 430px,#f6f11e 474px,#f5e626 477px,#f9d82c 479px,#fdcb32 480px,#f5ba3a 481px,#c2c22c 482px,#79cc5e 483px,#3dc991 484px,#25c2ae 485px,#13beb9 486px,#19bfb5 487px,#28c2ab 488px,#34c79b 489px,#48cb87 490px,#62cd70 491px,#78cc5f 492px,#83cc57 493px,#9dc943 497px,#a4c83e 499px,#a5c83d 501px,#9fc941 503px,#92ca4b 505px,#74cc62 508px,#51cc7f 511px,#42ca8c 512px,#32c69e 513px,#1cc0b3 514px,#01b8c9 515px,#1aabdd 516px,#2e87f7 518px,#3c71ff 519px,#465efb 520px,#4742e6 522px,#463adb 523px,#4538d7 524px,#4539d9 525px,#4740e4 527px,#4756f7 530px,#4368fe 532px,#327cfc 534px,#2d8bf3 536px,#2796eb 538px,#259be8 540px,#2796eb 545px,#2e85f8 551px,#3479fd 553px,#4465fd 555px,#4850f2 557px,#463bdd 559px,#422fc1 561px,#412cb9 562px,#402bb6 563px,#412dbb 565px,#4535d2 568px,#4746ea 571px,#4759f8 574px,#4465fd 576px,#3a73fe 579px,#3578fd 582px,#3c71ff 585px,#4562fc 588px,#4756f7 590px,#4743e7 593px,#4538d7 595px,#412ebe 598px,#402bb6 600px,#402bb6 601px,#412dbd 603px,#4536d2 606px,#473ee2 608px,#484ef1 611px,#475cfa 614px,#4562fc 617px,#465ffb 620px,#484ff2 624px,#473fe2 627px,#4536d3 629px,#412dbd 632px,#402bb6 634px,#402bb6 635px,#422fc2 638px,#463de0 642px,#4747eb 644px,#4853f5 647px,#4759f8 650px,#4756f7 653px,#4747eb 657px,#463de0 659px,#422fc2 663px,#402bb6 666px,#402bb6 667px,#412ebd 669px,#4536d3 672px,#4848ec 676px,#4853f5 679px,#4756f7 681px,#4853f5 684px,#4849ec 687px,#463bdc 690px,#422ebe 694px,#402bb7 696px,#402bb6 697px,#412dbd 699px,#4537d5 702px,#4745e9 705px,#4854f5 709px,#4852f4 712px,#4747eb 715px,#463cdf 717px,#422ebe 721px,#402bb6 723px,#412cba 725px,#4536d4 728px,#4741e6 730px,#484df0 732px,#4756f7 735px,#4854f5 737px,#484cef 739px)"></i>
<i style="left:532px;width:4px;background:linear-gradient(#2d8af4 132px,#2798ea 136px,#22a2e4 143px,#1ea7e1 150px,#20a5e3 155px,#2797ea 161px,#2f81fa 167px,#3f6efe 171px,#4464fd 173px,#4757f7 176px,#463ddf 183px,#4433cd 188px,#4332c8 192px,#4434ce 194px,#463ee1 197px,#465dfa 202px,#3f6dfe 204px,#307ffb 206px,#2c90f0 208px,#1fa6e2 211px,#1aacdd 212px,#05b6cd 214px,#02bac5 215px,#0bbdbd 216px,#25c2ae 218px,#2cc4a7 219px,#41ca8c 224px,#67cd6d 230px,#73cd63 233px,#76cc60 235px,#76cc61 239px,#6ecd67 242px,#60cd73 245px,#46cb88 249px,#30c5a1 251px,#20c1b1 252px,#05bbc1 253px,#06b5cf 254px,#17aeda 255px,#1da8e0 256px,#20a4e3 257px,#1da8e0 259px,#17aedb 260px,#08b5d0 261px,#04bbc1 262px,#23c1af 263px,#36c799 264px,#53cc7d 265px,#7ccc5c 266px,#a6c73c 267px,#cbc129 268px,#e6bb2d 269px,#f9bb3d 270px,#fec338 271px,#fccf30 273px,#f5e427 278px,#f6ef20 284px,#f8f818 323px,#f9fb15 370px,#f8f917 430px,#f6f11e 474px,#f5e725 477px,#f8d82c 479px,#fdce31 480px,#fabb3d 481px,#cbc129 482px,#82cc58 483px,#3eca8f 484px,#22c1b0 485px,#08bcbf 486px,#08bcbf 487px,#18bfb6 488px,#2cc4a7 489px,#3ac994 490px,#6acd69 492px,#78cc5f 493px,#95ca49 497px,#9cc943 499px,#9fc942 501px,#9ac946 503px,#8ecb4f 505px,#7bcc5d 507px,#5acc77 510px,#41ca8c 512px,#33c69d 513px,#20c1b1 514px,#01b9c7 515px,#18addb 516px,#259de7 517px,#3875fe 519px,#4561fc 520px,#4743e7 522px,#463bdc 523px,#4537d6 524px,#4538d7 525px,#4744e8 528px,#475cfa 531px,#3e6fff 533px,#2f82fa 535px,#2995ec 538px,#269ae8 540px,#2798ea 544px,#2c8ff1 548px,#2f81fa 552px,#337bfd 553px,#4367fd 555px,#475cfa 556px,#4746eb 558px,#4435d1 560px,#4230c3 561px,#412cba 562px,#402bb6 563px,#412cbb 565px,#4435d1 568px,#4745e9 571px,#4758f8 574px,#4564fd 576px,#3b72fe 579px,#3578fd 582px,#3c72ff 585px,#4563fc 588px,#4757f7 590px,#4744e8 593px,#4538d8 595px,#422ebf 598px,#402bb7 600px,#402bb6 601px,#412dbc 603px,#4539d9 607px,#4743e7 609px,#484df1 611px,#475bf9 614px,#4562fc 617px,#465ffb 620px,#4850f2 624px,#4740e3 627px,#4537d5 629px,#412ebe 632px,#402bb7 634px,#402bb6 635px,#422fc1 638px,#463cdf 642px,#4746ea 644px,#4853f4 647px,#4759f8 650px,#4756f7 653px,#4747eb 657px,#4535d2 661px,#412dbd 664px,#402bb6 666px,#402bb6 667px,#412dbd 669px,#4535d2 672px,#4747eb 676px,#4852f4 679px,#4756f7 681px,#4854f5 684px,#4849ed 687px,#463bdd 690px,#422ebf 694px,#402bb7 696px,#402bb6 697px,#412dbc 699px,#4536d3 702px,#4744e8 705px,#4854f5 709px,#4853f5 712px,#4848ec 715px,#463ee1 717px,#422fc0 721px,#402bb7 723px,#402bb6 724px,#422ebf 726px,#4435d2 728px,#4740e4 730px,#4851f3 733px,#4756f7 736px,#4851f4 738px,#4747ec 740px)"></i>
<i style="left:536px;width:4px;background:linear-gradient(#2c8ff0 133px,#2698ea 136px,#20a4e3 145px,#1ea7e1 151px,#20a4e3 155px,#2796eb 161px,#3080fb 167px,#406cfe 171px,#4755f6 176px,#463cde 183px,#4432cb 188px,#4331c7 192px,#4434ce 194px,#463de0 197px,#465efb 202px,#3f6eff 204px,#2f80fa 206px,#23a0e5 210px,#19addc 212px,#03b7cc 214px,#02bac4 215px,#1bc0b4 217px,#2cc4a6 219px,#41ca8c 224px,#66cd6d 230px,#71cd64 233px,#73cd63 235px,#72cd63 239px,#6dcd67 241px,#5fcd73 244px,#46cb88 248px,#3eca8f 249px,#28c3aa 251px,#0fbebb 252px,#01b7ca 253px,#14b0d8 254px,#1da8e0 255px,#22a2e4 256px,#23a0e5 257px,#22a1e4 258px,#19addc 260px,#08b4d1 261px,#06bbc1 262px,#26c2ad 263px,#39c895 264px,#5bcc77 265px,#86cb54 266px,#b1c636 267px,#d3bf27 268px,#edba33 269px,#fdbd3d 270px,#fdcc32 272px,#f6de29 276px,#f5ea23 280px,#f6ef20 283px,#f8f718 321px,#f9fb15 369px,#f8f917 429px,#f6f21e 474px,#f5ed22 476px,#f5e128 478px,#fcd030 480px,#febd3c 481px,#d4bf27 482px,#8bcb51 483px,#42ca8b 484px,#21c1b0 485px,#02bac4 486px,#01b9c7 487px,#07bcc0 488px,#1ec0b2 489px,#43ca8a 491px,#5dcc75 492px,#6ecd67 493px,#8ccb50 497px,#95ca49 499px,#98c947 501px,#94ca4a 503px,#89cb53 505px,#77cc60 507px,#57cc7a 510px,#40ca8d 512px,#23c1af 514px,#02bac4 515px,#15afd9 516px,#23a0e5 517px,#3579fd 519px,#4464fd 520px,#4745e9 522px,#463cde 523px,#4537d6 524px,#4537d6 525px,#4742e6 528px,#475af9 531px,#406cfe 533px,#307ffb 535px,#2c8ef1 537px,#2797eb 539px,#269ae8 541px,#2896eb 545px,#2f82fa 552px,#327cfc 553px,#3a73fe 554px,#4269fe 555px,#465efb 556px,#4848ec 558px,#4536d3 560px,#412cbb 562px,#402bb6 563px,#412cba 565px,#4434cf 568px,#4744e8 571px,#4757f7 574px,#4563fc 576px,#3c72ff 579px,#3678fd 582px,#3b72ff 585px,#4564fd 588px,#4758f8 590px,#4744e9 593px,#4435d0 596px,#412cba 599px,#402bb6 601px,#412dbb 603px,#4434cf 606px,#4742e6 609px,#484cf0 611px,#475af9 614px,#4562fc 617px,#4660fb 620px,#4850f3 624px,#4741e4 627px,#4434cd 630px,#412cba 633px,#402bb6 635px,#422fc0 638px,#463cde 642px,#4745e9 644px,#4852f4 647px,#4759f8 650px,#4756f7 653px,#4848ec 657px,#4536d3 661px,#412ebd 664px,#402bb6 666px,#402bb6 667px,#422fc2 670px,#463de0 674px,#4746ea 676px,#4852f4 679px,#4756f7 681px,#4854f5 684px,#484aee 687px,#463cde 690px,#422fc0 694px,#402bb7 696px,#402bb6 697px,#402bb7 698px,#422fc1 700px,#4743e7 705px,#484df0 707px,#4853f5 709px,#4853f5 712px,#4849ed 715px,#473fe2 717px,#412dbc 722px,#402bb6 724px,#412dbd 726px,#4434cf 728px,#473fe2 730px,#4850f2 733px,#4756f7 735px,#4755f6 737px,#484ef1 739px,#4743e7 741px)"></i>
<i style="left:540px;width:4px;background:linear-gradient(#2a93ed 134px,#249de6 139px,#1fa6e2 147px,#1fa6e1 152px,#22a1e4 156px,#2895ec 161px,#2f83f9 166px,#3975fe 169px,#416bfe 171px,#4854f5 176px,#463bdc 183px,#4332c9 188px,#4331c6 192px,#4433cd 194px,#463de0 197px,#4757f7 201px,#4366fd 203px,#3e6fff 204px,#2f81fa 206px,#2b92ee 208px,#1da8e0 211px,#17aedb 212px,#02b7cb 214px,#03bbc2 215px,#1dc0b3 217px,#27c2ac 218px,#3cc991 223px,#65cd6e 230px,#6fcd66 233px,#70cd65 238px,#64cd6f 242px,#40ca8d 248px,#38c896 249px,#2ec5a4 250px,#1cc0b4 251px,#02bac4 252px,#0db3d3 253px,#1baadf 254px,#22a2e4 255px,#259de7 256px,#259be8 257px,#21a3e3 259px,#1aacdd 260px,#09b4d1 261px,#07bcbf 262px,#28c3aa 263px,#3dc991 264px,#63cd70 265px,#91ca4d 266px,#bac430 267px,#dbbd29 268px,#f3ba38 269px,#fec03b 270px,#fdcd31 272px,#f5e327 277px,#f5eb23 280px,#f6ef20 283px,#f8f718 321px,#f9fb15 366px,#f9f917 428px,#f6f21e 474px,#f5ee21 476px,#f5e327 478px,#fbd22f 480px,#fec13a 481px,#dcbd29 482px,#96ca48 483px,#48cb86 484px,#22c1b0 485px,#01b9c8 486px,#06b5ce 487px,#01b8c9 488px,#0bbdbc 489px,#28c2ab 490px,#38c896 491px,#4fcc80 492px,#63cd70 493px,#84cc56 497px,#8ecb4f 499px,#92ca4c 501px,#8acb52 504px,#7ccc5c 506px,#69cd6b 508px,#3fca8e 512px,#34c79c 513px,#25c2ad 514px,#04bbc1 515px,#11b1d6 516px,#22a2e4 517px,#317dfc 519px,#4368fd 520px,#4756f7 521px,#4848ec 522px,#463de0 523px,#4537d6 524px,#4536d5 525px,#4538d8 526px,#4747eb 529px,#4757f7 531px,#426afe 533px,#317dfc 535px,#2d8cf3 537px,#2896eb 539px,#2699e9 541px,#2797ea 544px,#2c8ff1 548px,#2e83f9 552px,#317dfc 553px,#3975fe 554px,#416bfe 555px,#4660fb 556px,#484aee 558px,#4537d5 560px,#412dbc 562px,#402bb6 563px,#412cb9 565px,#4434ce 568px,#4743e7 571px,#4756f6 574px,#4562fc 576px,#3d71ff 579px,#3678fe 582px,#3b72fe 585px,#4464fd 588px,#4758f8 590px,#4745ea 593px,#4535d2 596px,#412dbb 599px,#402bb6 601px,#402bb7 602px,#422ebf 604px,#463cde 608px,#484bef 611px,#4759f9 614px,#4561fc 617px,#4561fc 619px,#465dfa 621px,#484cef 625px,#463cdf 628px,#422ec0 632px,#402bb7 634px,#402bb6 635px,#422ebf 638px,#463bdd 642px,#4849ed 645px,#4755f6 648px,#4759f8 650px,#4757f7 653px,#4848ec 657px,#4536d4 661px,#412ebe 664px,#402bb7 666px,#402bb6 667px,#422fc1 670px,#463cdf 674px,#4746ea 676px,#484ef1 678px,#4756f7 681px,#4854f6 684px,#4746ea 688px,#463ddf 690px,#422fc2 694px,#402bb6 697px,#402bb7 698px,#422ebf 700px,#463de0 704px,#4747eb 706px,#4854f6 710px,#4851f4 713px,#4745e9 716px,#4537d5 719px,#412dbd 722px,#402bb6 724px,#412dbc 726px,#4433cd 728px,#4743e7 731px,#4853f5 734px,#4756f6 737px,#484aee 740px,#463ee1 742px)"></i>
<i style="left:544px;width:4px;background:linear-gradient(#2797eb 135px,#1fa6e2 147px,#1fa6e2 152px,#23a1e5 156px,#2994ed 161px,#2f81fa 166px,#3b73fe 169px,#4464fd 172px,#4853f5 176px,#463cdf 182px,#4332ca 187px,#4230c4 191px,#4433cc 194px,#463de0 197px,#4757f7 201px,#4367fd 203px,#3d70ff 204px,#2f83f9 206px,#2a93ed 208px,#1da9e0 211px,#16afd9 212px,#01b8c9 214px,#05bbc1 215px,#1fc0b2 217px,#28c2ab 218px,#3cc991 223px,#64cd6f 230px,#6ccd68 233px,#6ccd68 238px,#5fcd73 242px,#3bc993 248px,#33c69e 249px,#26c2ac 250px,#0bbdbd 251px,#05b6cd 252px,#18addb 253px,#259ce7 255px,#2797eb 256px,#2797eb 257px,#22a2e4 259px,#1babde 260px,#08b4d1 261px,#09bdbe 262px,#2bc3a7 263px,#42ca8c 264px,#6bcd69 265px,#9bc945 266px,#c4c22b 267px,#e3bc2c 268px,#f8ba3d 269px,#fec239 270px,#fcce31 272px,#f5e427 277px,#f5ec22 280px,#f6f020 283px,#f8f818 323px,#f9fb15 370px,#f8f917 430px,#f6f21e 474px,#f5ef21 476px,#f5e427 478px,#fbd32e 480px,#fec537 481px,#e5bb2d 482px,#a1c840 483px,#4fcc80 484px,#24c1af 485px,#01b8ca 486px,#0fb2d5 487px,#0ab4d1 488px,#01b9c6 489px,#30c5a2 491px,#42ca8c 492px,#58cc79 493px,#63cd70 494px,#7bcc5d 497px,#86cb55 499px,#8bcb51 501px,#84cb56 504px,#77cc60 506px,#65cd6e 508px,#3eca8f 512px,#34c79b 513px,#27c2ac 514px,#08bcbf 515px,#0db3d3 516px,#20a5e3 517px,#2f80fa 519px,#416bfe 520px,#4759f8 521px,#473ee2 523px,#4538d7 524px,#4536d3 525px,#4537d6 526px,#4745e9 529px,#465efb 532px,#3d71ff 534px,#337afd 535px,#2e83f9 536px,#2995ec 539px,#2699e9 541px,#2896ec 545px,#2e83f9 552px,#317efb 553px,#3776fe 554px,#4562fc 556px,#484cef 558px,#4538d7 560px,#412dbd 562px,#402bb7 563px,#402bb6 564px,#412ebe 566px,#4537d6 569px,#4742e6 571px,#4755f6 574px,#4661fc 576px,#3d70ff 579px,#3677fe 582px,#3876fe 584px,#3e6fff 586px,#465ffb 589px,#4853f5 591px,#4740e4 594px,#4536d3 596px,#412dbc 599px,#402bb6 601px,#402bb7 602px,#422ebe 604px,#4537d5 607px,#484bee 611px,#475cfa 615px,#4562fc 618px,#465dfb 621px,#484df0 625px,#4742e6 627px,#4434d0 630px,#412dbb 633px,#402bb6 635px,#402bb7 636px,#422ebf 638px,#463adc 642px,#4848ec 645px,#4854f5 648px,#4758f8 650px,#4757f7 653px,#4849ed 657px,#463bdc 660px,#422ebf 664px,#402bb7 666px,#402bb6 667px,#402bb7 668px,#422fc0 670px,#463cde 674px,#4745e9 676px,#4851f3 679px,#4757f7 682px,#4852f4 685px,#4747eb 688px,#4535d2 692px,#412dbd 695px,#402bb6 697px,#402bb6 698px,#422ebe 700px,#463cdf 704px,#4746ea 706px,#4854f5 710px,#4852f4 713px,#4746ea 716px,#463cdf 718px,#422ebe 722px,#402bb6 724px,#412cba 726px,#4332ca 728px,#4742e6 731px,#484df1 733px,#4755f6 735px,#4756f7 737px,#4850f3 739px,#4745e9 741px,#4639da 743px)"></i>
<i style="left:548px;width:4px;background:linear-gradient(#2699e9 136px,#1fa6e2 148px,#1fa5e2 152px,#23a0e5 156px,#2a93ee 161px,#3080fa 166px,#3c71ff 169px,#4563fd 172px,#484df1 177px,#463bdd 182px,#4332c9 187px,#422fc2 191px,#4230c3 192px,#4433cb 194px,#463ee0 197px,#4758f8 201px,#4368fe 203px,#3c71ff 204px,#337bfd 205px,#2e84f9 206px,#2d8cf3 207px,#1caadf 211px,#14b0d8 212px,#08b5d0 213px,#01b8c8 214px,#07bcc0 215px,#20c1b1 217px,#28c3aa 218px,#3cc991 223px,#5ecd74 229px,#68cd6b 232px,#69cd6a 237px,#5fcd73 241px,#48cb86 245px,#36c899 248px,#2dc4a5 249px,#1abfb5 250px,#01b9c6 251px,#11b1d6 252px,#1ea7e1 253px,#2896ec 255px,#2b92ee 256px,#2a93ee 257px,#23a0e5 259px,#1baade 260px,#07b5d0 261px,#0cbdbc 262px,#2ec4a4 263px,#48cb86 264px,#75cc61 265px,#a5c83e 266px,#ccc028 267px,#e9bb30 268px,#fbbc3d 269px,#fec537 270px,#fcd030 272px,#f5e228 276px,#f5eb23 279px,#f6ef20 282px,#f8f818 321px,#f9fb15 367px,#f8f917 430px,#f6f11e 475px,#f6ef20 476px,#f5e526 478px,#fad42e 480px,#fec835 481px,#edba33 482px,#aec637 483px,#58cc79 484px,#27c2ac 485px,#02b7cb 486px,#16afd9 487px,#15afd9 488px,#07b5d0 489px,#06bcc0 490px,#26c2ac 491px,#4ccb83 493px,#5acc78 494px,#79cc5e 498px,#84cb56 501px,#7fcc5a 504px,#6acd6a 507px,#34c79b 513px,#28c3ab 514px,#0bbdbd 515px,#08b4d1 516px,#1ea7e1 517px,#2e83f9 519px,#3f6fff 520px,#475cfa 521px,#4740e4 523px,#4538d8 524px,#4536d3 525px,#4536d4 526px,#4743e7 529px,#475bf9 532px,#3f6eff 534px,#2f81fa 536px,#2a93ed 539px,#2798ea 541px,#2895ec 545px,#2d8df2 549px,#307ffb 553px,#3f6eff 555px,#4564fd 556px,#484ef1 558px,#4639da 560px,#422ebe 562px,#402bb7 563px,#402bb6 564px,#412dbd 566px,#4536d4 569px,#4741e5 571px,#4854f5 574px,#4660fb 576px,#3e6fff 579px,#3777fe 582px,#3876fe 584px,#3e6fff 586px,#4660fb 589px,#4854f5 591px,#4741e5 594px,#4537d5 596px,#412dbd 599px,#402bb6 601px,#402bb6 602px,#412dbd 604px,#4536d3 607px,#473fe2 609px,#484ff2 612px,#475cfa 615px,#4562fc 618px,#465efb 621px,#484df1 625px,#4743e7 627px,#4435d1 630px,#412dbc 633px,#402bb6 635px,#402bb6 636px,#412ebe 638px,#4536d3 641px,#4848ec 645px,#4854f5 648px,#4759f8 651px,#4755f6 654px,#4849ed 657px,#463bdd 660px,#422ec0 664px,#402bb6 667px,#402bb7 668px,#422ebf 670px,#463bdd 674px,#4849ed 677px,#4854f5 680px,#4757f7 682px,#4853f5 685px,#4848ec 688px,#473ee1 690px,#4433cb 693px,#412ebe 695px,#402bb6 697px,#402bb6 698px,#412dbd 700px,#4537d5 703px,#4745e9 706px,#4852f4 709px,#4755f6 711px,#4853f4 713px,#4747eb 716px,#463de0 718px,#4435d0 720px,#422ec0 722px,#402bb7 724px,#412cb9 726px,#422ebf 727px,#4535d2 729px,#4740e4 731px,#484cf0 733px,#4854f6 735px,#4756f7 737px,#484cf0 740px,#4740e4 742px,#4535d2 744px)"></i>
<i style="left:552px;width:4px;background:linear-gradient(#269ae8 137px,#1fa5e2 147px,#21a2e4 154px,#2895ec 160px,#307ffb 166px,#416bfe 170px,#4755f6 175px,#463bdc 182px,#4331c7 187px,#422fc1 191px,#4331c6 193px,#463ee1 197px,#4851f3 200px,#4661fc 202px,#3b72fe 204px,#327cfc 205px,#2d8df2 207px,#1babde 211px,#13b1d7 212px,#06b5cf 213px,#01b9c7 214px,#08bcbf 215px,#22c1b0 217px,#2ec4a4 219px,#3cc991 223px,#5dcc75 229px,#66cd6e 232px,#66cd6d 237px,#5acc78 241px,#37c897 247px,#31c69f 248px,#25c2ad 249px,#0abdbd 250px,#06b5ce 251px,#1aacdd 252px,#23a1e4 253px,#2c90f0 255px,#2d8df2 256px,#2c8ff0 257px,#249fe5 259px,#1baade 260px,#06b5cf 261px,#11beba 262px,#31c6a0 263px,#4fcc80 264px,#7fcc5a 265px,#aec637 266px,#d4bf28 267px,#efba35 268px,#febe3c 269px,#fec636 270px,#f5e725 277px,#f6f020 282px,#f8f818 320px,#f9fb15 364px,#f9f916 428px,#f6f21e 475px,#f6f020 476px,#f5e626 478px,#fdcb33 481px,#f4ba39 482px,#bac430 483px,#62cd70 484px,#2ac3a9 485px,#02b7cb 486px,#1aacdd 487px,#1baade 488px,#14b0d8 489px,#01b8ca 490px,#30c5a1 492px,#40ca8d 493px,#50cc7f 494px,#6acd6a 497px,#76cc60 499px,#7ecc5b 502px,#79cc5e 504px,#6ecd67 506px,#3bc993 512px,#34c79c 513px,#29c3aa 514px,#0ebebb 515px,#06b6ce 516px,#1ca9df 517px,#2e87f7 519px,#3b72ff 520px,#465ffb 521px,#4742e6 523px,#4639da 524px,#4536d3 525px,#4536d3 526px,#4741e5 529px,#4759f8 532px,#416bfe 534px,#307efb 536px,#2d8df2 538px,#2895ec 540px,#2798ea 542px,#2a93ed 546px,#2f80fa 553px,#347afd 554px,#3d70ff 555px,#4466fd 556px,#4850f2 558px,#463bdc 560px,#422fc0 562px,#402bb8 563px,#402bb6 564px,#412dbc 566px,#4536d3 569px,#4740e3 571px,#4853f4 574px,#465ffb 576px,#3f6eff 579px,#3975fe 581px,#3777fe 583px,#3e70ff 586px,#4661fc 589px,#4755f6 591px,#4742e6 594px,#4537d6 596px,#412ebe 599px,#402bb6 601px,#402bb6 602px,#412dbc 604px,#4639da 608px,#484ef1 612px,#475bf9 615px,#4561fc 618px,#465efb 621px,#484ef1 625px,#473ee2 628px,#4536d2 630px,#412dbd 633px,#402bb6 635px,#402bb6 636px,#412dbd 638px,#4535d2 641px,#4747eb 645px,#4853f5 648px,#4759f8 651px,#4755f6 654px,#484aee 657px,#463cde 660px,#422fc0 664px,#402bb6 667px,#402bb7 668px,#422ebe 670px,#463adc 674px,#4848ec 677px,#4853f5 680px,#4756f7 682px,#4853f5 685px,#4848ec 688px,#463bdc 691px,#422ebf 695px,#402bb7 697px,#402bb6 698px,#412dbc 700px,#4536d3 703px,#4744e8 706px,#484df1 708px,#4755f6 711px,#4853f5 713px,#4848ec 716px,#473ee2 718px,#412dbb 723px,#402bb6 725px,#412dbd 727px,#4434d0 729px,#4745e9 732px,#4850f2 734px,#4756f7 736px,#4755f6 738px,#4848ec 741px,#463cde 743px,#4332ca 745px)"></i>
<i style="left:556px;width:4px;background:linear-gradient(#259ce7 138px,#20a5e2 147px,#22a2e4 154px,#2797eb 159px,#2f82fa 165px,#3a74fe 168px,#426afe 170px,#4853f5 175px,#463adb 182px,#4331c6 187px,#422ec0 191px,#4330c5 193px,#463ee1 197px,#4852f4 200px,#4561fc 202px,#3a74fe 204px,#317dfc 205px,#2c8ff1 207px,#1fa5e2 210px,#1aacdd 211px,#05b6cd 213px,#01bac5 214px,#0abdbd 215px,#23c1af 217px,#2ec5a4 219px,#3dc991 223px,#5ccc76 229px,#63cd70 232px,#63cd70 236px,#60cd72 238px,#55cc7c 241px,#34c79c 247px,#2dc4a6 248px,#1ac0b5 249px,#01b9c6 250px,#12b1d6 251px,#1fa6e2 252px,#2b91ef 254px,#2d8af4 255px,#2d89f6 256px,#2d8cf3 257px,#249ee6 259px,#1baade 260px,#05b6ce 261px,#16bfb7 262px,#34c79c 263px,#57cc7a 264px,#89cb52 265px,#b8c431 266px,#dcbd29 267px,#f4ba39 268px,#fec03a 269px,#fdcd32 271px,#f6e028 275px,#f5eb23 278px,#f6ef20 281px,#f9fa16 344px,#f9fa16 419px,#f6f21e 475px,#f6f01f 476px,#f5e725 478px,#fdcd32 481px,#fabb3d 482px,#c6c22a 483px,#6ecd67 484px,#2ec4a4 485px,#02b7cb 486px,#1caadf 487px,#1fa5e2 488px,#1baade 489px,#0db3d3 490px,#05bbc1 491px,#27c2ab 492px,#38c897 493px,#47cb87 494px,#61cd71 497px,#6fcd66 499px,#78cc5f 502px,#74cc62 504px,#69cd6a 506px,#39c895 512px,#33c79d 513px,#2ac3a9 514px,#12beb9 515px,#03b7cc 516px,#1aabdd 517px,#259ce7 518px,#3876fe 520px,#4562fc 521px,#4744e8 523px,#463adc 524px,#4536d3 525px,#4535d2 526px,#4740e3 529px,#4757f7 532px,#4269fe 534px,#327cfc 536px,#2d8bf4 538px,#2994ed 540px,#2797eb 542px,#2b91ef 547px,#2e85f8 552px,#337bfc 554px,#4368fd 556px,#4852f4 558px,#463cdf 560px,#422fc2 562px,#412cb9 563px,#402bb6 564px,#412dbb 566px,#4435d1 569px,#4745e9 572px,#4758f8 575px,#4563fd 577px,#3c71ff 580px,#3776fe 583px,#3d70ff 586px,#4561fc 589px,#4756f6 591px,#4743e7 594px,#4538d8 596px,#422ebf 599px,#402bb7 601px,#402bb6 602px,#412dbb 604px,#4539d9 608px,#4742e6 610px,#484df0 612px,#475af9 615px,#4561fc 618px,#465efb 621px,#484ff2 625px,#473fe3 628px,#4536d4 630px,#412ebd 633px,#402bb6 635px,#402bb6 636px,#412dbc 638px,#4435d1 641px,#4746ea 645px,#4853f4 648px,#4759f8 651px,#4755f6 654px,#4746ea 658px,#463cdf 660px,#422fc1 664px,#402bb6 667px,#402bb6 668px,#412ebe 670px,#473ee1 675px,#4848ec 677px,#4853f5 680px,#4756f7 682px,#4854f5 685px,#4849ed 688px,#463bdd 691px,#422ec0 695px,#402bb7 697px,#402bb6 698px,#402bb7 699px,#422fc1 701px,#4743e7 706px,#484df0 708px,#4855f6 711px,#4851f3 714px,#4745e9 717px,#4536d4 720px,#412dbd 723px,#402bb6 725px,#412dbc 727px,#4538d7 730px,#4744e8 732px,#484ff2 734px,#4756f6 736px,#4756f6 738px,#4849ed 741px,#463de0 743px,#4230c3 746px)"></i>
<i style="left:560px;width:4px;background:linear-gradient(#249de6 139px,#1fa5e2 148px,#22a1e4 154px,#2896eb 159px,#2f81fa 165px,#3b72fe 168px,#4369fe 170px,#4852f4 175px,#463cde 181px,#4330c4 187px,#422ebf 191px,#4330c5 193px,#473ee1 197px,#4853f4 200px,#4563fc 202px,#3975fe 204px,#307ffb 205px,#2c90f0 207px,#19addc 211px,#03b7cc 213px,#02bac4 214px,#24c2ae 217px,#2ac3a8 218px,#3dc991 223px,#5acc77 229px,#60cd72 232px,#60cd72 236px,#5ccc75 238px,#54cc7c 240px,#35c79a 246px,#30c5a1 247px,#26c2ad 248px,#0bbdbd 249px,#05b6ce 250px,#1aacdd 251px,#23a0e5 252px,#2d8bf4 254px,#2e85f8 255px,#2e85f8 256px,#2d89f5 257px,#249ee6 259px,#1babde 260px,#03b7cc 261px,#1bc0b4 262px,#37c897 263px,#60cd72 264px,#93ca4a 265px,#c1c32c 266px,#e2bc2b 267px,#f8ba3d 268px,#fec239 269px,#fdce31 271px,#f5e626 276px,#f6f020 281px,#f8f917 332px,#f9fa15 401px,#f8f818 444px,#f6f11f 476px,#f5ee21 477px,#f5e128 479px,#fdce31 481px,#febe3c 482px,#d1bf27 483px,#7ccc5c 484px,#32c69f 485px,#01b8c9 486px,#1da8e0 487px,#23a1e5 488px,#20a4e3 489px,#18addb 490px,#01b7ca 491px,#31c6a0 493px,#3eca8f 494px,#5acc78 497px,#67cd6c 499px,#71cd64 502px,#6ecd66 504px,#65cd6e 506px,#3eca8f 511px,#33c69e 513px,#2ac3a9 514px,#01b8ca 516px,#19addc 517px,#249ee6 518px,#3479fd 520px,#4465fd 521px,#4746ea 523px,#463cde 524px,#4536d4 525px,#4435d1 526px,#4536d4 527px,#463ee1 529px,#4854f6 532px,#4466fd 534px,#347afd 536px,#2f82f9 537px,#2d89f5 538px,#2a93ee 540px,#2796eb 542px,#2b91ef 547px,#2f82fa 553px,#327cfc 554px,#426afe 556px,#4854f5 558px,#463ee1 560px,#4535d2 561px,#4230c4 562px,#412cba 563px,#402bb6 564px,#412cba 566px,#4435d0 569px,#4744e8 572px,#4756f7 575px,#4562fc 577px,#3d70ff 580px,#3776fe 583px,#3d70ff 586px,#4562fc 589px,#4757f7 591px,#4744e8 594px,#4539d9 596px,#422fc0 599px,#402bb7 601px,#402bb6 602px,#412cbb 604px,#4538d7 608px,#4741e5 610px,#484cef 612px,#475dfa 616px,#4561fc 619px,#475cfa 622px,#484bee 626px,#4537d5 630px,#422ebe 633px,#402bb7 635px,#402bb6 636px,#422fc1 639px,#463cde 643px,#484aee 646px,#4755f6 649px,#4759f8 652px,#4853f5 655px,#4747eb 658px,#463de0 660px,#422fc2 664px,#402bb6 667px,#402bb6 668px,#412dbd 670px,#4535d2 673px,#4747eb 677px,#4852f4 680px,#4757f7 683px,#4851f4 686px,#4745ea 689px,#463cdf 691px,#422fc1 695px,#402bb6 698px,#402bb7 699px,#422ec0 701px,#463de0 705px,#4747eb 707px,#4852f4 710px,#4755f6 712px,#4852f4 714px,#4746ea 717px,#463cde 719px,#422ebe 723px,#402bb6 725px,#412cba 727px,#422fc1 728px,#463cde 731px,#484df1 734px,#4757f7 737px,#4854f5 739px,#484bee 741px,#473fe2 743px,#412dbd 747px)"></i>
<i style="left:564px;width:4px;background:linear-gradient(#249fe6 140px,#20a5e2 148px,#23a1e4 154px,#2895ec 159px,#307ffb 165px,#406cfe 169px,#4563fc 171px,#4851f4 175px,#463bdd 181px,#4230c3 187px,#422ebe 191px,#4330c5 193px,#4535d2 195px,#473fe2 197px,#4854f5 200px,#4564fd 202px,#3777fe 204px,#3080fa 205px,#2b91ef 207px,#1da8e0 210px,#17aeda 211px,#02b7ca 213px,#03bbc2 214px,#1cc0b4 216px,#2bc3a8 218px,#38c896 222px,#55cc7c 228px,#5dcc75 231px,#5dcc75 235px,#5bcc77 237px,#4fcc80 240px,#3ac994 244px,#2cc4a7 247px,#1bc0b4 248px,#02bac4 249px,#10b2d5 250px,#1fa6e1 251px,#2c8ef1 253px,#2e85f8 254px,#3080fa 255px,#2f81fa 256px,#2e87f7 257px,#2b91ef 258px,#1aabdd 260px,#01b8ca 261px,#21c1b0 262px,#3bc992 263px,#69cd6b 264px,#9dc943 265px,#c9c129 266px,#e8bb2f 267px,#fbbc3d 268px,#fec437 269px,#fccf30 271px,#f5e725 276px,#f6f020 281px,#f8f917 330px,#f9fb15 394px,#f8f818 440px,#f6f11e 476px,#f5ef20 477px,#f5e327 479px,#fcd030 481px,#fec13a 482px,#dbbd29 483px,#8acb51 484px,#36c898 485px,#01b9c6 486px,#1ea8e1 487px,#259ce7 488px,#249ee6 489px,#1ea7e1 490px,#0db3d4 491px,#08bcbf 492px,#2ac3a9 493px,#38c897 494px,#49cb85 496px,#60cd72 499px,#6bcd69 502px,#69cd6a 504px,#5bcc77 507px,#3cc991 511px,#2ac3a9 514px,#01b8c8 516px,#16afda 517px,#23a0e5 518px,#317dfc 520px,#4368fe 521px,#4757f7 522px,#4849ec 523px,#463de0 524px,#4537d5 525px,#4435d0 526px,#4535d2 527px,#463cdf 529px,#4852f4 532px,#4564fd 534px,#3777fe 536px,#3080fa 537px,#2e87f7 538px,#2b92ee 540px,#2896eb 542px,#2b91ef 547px,#2f82f9 553px,#317efb 554px,#3876fe 555px,#4561fc 557px,#484aee 559px,#4537d5 561px,#4331c6 562px,#412dbb 563px,#402bb6 564px,#412cba 566px,#4434ce 569px,#4743e7 572px,#4755f6 575px,#4561fc 577px,#3e6fff 580px,#3876fe 583px,#3d71ff 586px,#4563fc 589px,#4757f7 591px,#4745e9 594px,#4435d2 597px,#412dbb 600px,#402bb6 602px,#402bb7 603px,#422ebf 605px,#4537d6 608px,#484bef 612px,#475cfa 616px,#4561fc 619px,#475cfa 622px,#484bef 626px,#463cde 629px,#422ebf 633px,#402bb7 635px,#402bb6 636px,#422ec0 639px,#463bdd 643px,#4849ed 646px,#4854f6 649px,#4759f8 652px,#4853f5 655px,#4747eb 658px,#463ee1 660px,#4332cb 663px,#412dbd 665px,#402bb6 667px,#402bb6 668px,#412dbc 670px,#4435d1 673px,#4746ea 677px,#4852f4 680px,#4757f7 683px,#4852f4 686px,#4746ea 689px,#463de0 691px,#422fc2 695px,#402bb6 698px,#402bb6 699px,#422ebf 701px,#463cde 705px,#484bee 708px,#4854f5 711px,#4852f4 714px,#4742e6 718px,#4434d0 721px,#412cba 724px,#402bb6 726px,#422ebf 728px,#463adc 731px,#4746eb 733px,#4854f6 736px,#4756f7 738px,#4851f3 740px,#4747eb 742px,#4536d2 745px,#422ebf 747px,#412cb9 748px)"></i>
<i style="left:568px;width:4px;background:linear-gradient(#23a0e5 141px,#20a5e2 149px,#249ee6 155px,#2b91ef 160px,#317efb 165px,#416bfe 169px,#465dfa 172px,#4850f3 175px,#463adb 181px,#422fc2 187px,#412ebe 191px,#4330c5 193px,#463adb 196px,#4755f6 200px,#4465fd 202px,#3f6eff 203px,#2f82fa 205px,#2a93ee 207px,#1ca9e0 210px,#15afd9 211px,#01b8c9 213px,#05bbc1 214px,#1dc0b3 216px,#2bc3a8 218px,#38c896 222px,#53cc7d 228px,#5acc77 231px,#5acc77 235px,#57cc7a 237px,#4fcc80 239px,#2fc5a3 246px,#26c2ad 247px,#0ebebb 248px,#03b7cc 249px,#19addc 250px,#23a0e5 251px,#2d88f6 253px,#307ffb 254px,#327bfc 255px,#317dfb 256px,#2e85f8 257px,#2c90f0 258px,#19acdc 260px,#01b9c7 261px,#26c2ad 262px,#41ca8c 263px,#72cd63 264px,#a7c73c 265px,#d1bf27 266px,#eeba34 267px,#febd3c 268px,#fec537 269px,#f5e426 275px,#f5ed22 278px,#f6f020 280px,#f8f817 326px,#f9fb15 384px,#f8f817 436px,#f6f11e 476px,#f6ef20 477px,#f5e427 479px,#fbd12f 481px,#fec537 482px,#e5bb2d 483px,#99c946 484px,#3dc990 485px,#02bbc3 486px,#1ea8e1 487px,#2699e9 488px,#2698ea 489px,#23a1e5 490px,#19addc 491px,#01b8c8 492px,#1ec0b2 493px,#32c69e 494px,#3bc993 495px,#53cc7e 498px,#5fcd73 500px,#66cd6d 502px,#64cd6f 504px,#5dcc75 506px,#49cb86 509px,#2ac3a9 514px,#18bfb6 515px,#01b9c6 516px,#14b0d8 517px,#22a2e4 518px,#3080fb 520px,#416bfe 521px,#475af9 522px,#473fe2 524px,#4537d6 525px,#4434d0 526px,#4537d6 528px,#4741e4 530px,#4758f8 533px,#416bfe 535px,#317efb 537px,#2d8bf3 539px,#2994ed 541px,#2895ec 543px,#2c8ff0 548px,#2e83f9 553px,#3678fe 555px,#4563fd 557px,#484cf0 559px,#4538d8 561px,#412dbc 563px,#402bb6 564px,#412cb9 566px,#4433cd 569px,#4742e6 572px,#4854f5 575px,#4660fb 577px,#3f6fff 580px,#3876fe 583px,#3a74fe 585px,#3f6dfe 587px,#465efb 590px,#4852f4 592px,#4740e3 595px,#4536d3 597px,#412dbc 600px,#402bb6 602px,#402bb7 603px,#412ebe 605px,#4536d4 608px,#484aee 612px,#475bfa 616px,#4561fc 619px,#475dfa 622px,#484cf0 626px,#4742e6 628px,#4434cf 631px,#412dbb 634px,#402bb6 636px,#402bb7 637px,#422ebf 639px,#463adc 643px,#4848ec 646px,#4854f5 649px,#4759f8 652px,#4854f5 655px,#4848ec 658px,#473fe2 660px,#422ebe 665px,#402bb7 667px,#402bb6 668px,#422fc1 671px,#463cde 675px,#4745e9 677px,#4851f3 680px,#4757f7 683px,#4852f4 686px,#4747eb 689px,#4536d3 693px,#412ebd 696px,#402bb6 698px,#402bb6 699px,#412dbd 701px,#4433cc 703px,#4740e4 706px,#484aed 708px,#4854f5 711px,#4853f5 714px,#4743e7 718px,#422fc2 723px,#402bb7 725px,#402bb6 726px,#412dbd 728px,#4434cf 730px,#4745e9 733px,#4854f5 736px,#4757f7 738px,#4852f4 740px,#4848ec 742px,#463cdf 744px,#4433cb 746px,#412cbb 748px,#402bb7 749px)"></i>
<i style="left:572px;width:4px;background:linear-gradient(#23a1e4 142px,#20a5e3 149px,#249ee6 155px,#2994ed 159px,#2f82fa 164px,#3a74fe 167px,#426afe 169px,#4854f5 174px,#4639da 181px,#4230c4 186px,#412dbd 190px,#412dbd 191px,#4330c5 193px,#463bdc 196px,#4756f7 200px,#4367fd 202px,#3d70ff 203px,#347afd 204px,#2e83f9 205px,#2d8cf3 206px,#1baade 210px,#13b0d7 211px,#07b5d0 212px,#01b9c7 213px,#07bcbf 214px,#1fc0b2 216px,#2cc4a7 218px,#38c896 222px,#4ecc81 227px,#56cc7b 230px,#57cc7a 235px,#53cc7d 237px,#46cb88 240px,#2bc3a8 246px,#1dc0b3 247px,#04bbc2 248px,#0cb3d3 249px,#1da8e0 250px,#2c8ef2 252px,#2f82f9 253px,#347afd 254px,#3777fe 255px,#337afd 256px,#2e83f9 257px,#2c8ff0 258px,#249ee6 259px,#18addb 260px,#02bac5 261px,#2ac3a9 262px,#48cb86 263px,#7ccc5c 264px,#b0c636 265px,#d8be28 266px,#f2ba38 267px,#fec03b 268px,#fdcc32 270px,#f5e128 274px,#f5ec23 277px,#f6ef20 279px,#f8f719 312px,#f9fa15 353px,#f9f916 425px,#f6f21e 476px,#f6f01f 477px,#f5e626 479px,#fec835 482px,#edba34 483px,#a8c73b 484px,#47cb87 485px,#08bcbf 486px,#1da8e0 487px,#2796eb 488px,#2a93ee 489px,#269ae8 490px,#1ea7e1 491px,#09b4d1 492px,#0fbebb 493px,#2dc4a6 494px,#36c898 495px,#53cc7d 499px,#60cd72 502px,#60cd73 504px,#53cc7d 507px,#3fca8e 510px,#29c3a9 514px,#19bfb5 515px,#02bac5 516px,#12b1d6 517px,#20a4e3 518px,#2f82f9 520px,#3f6eff 521px,#475cfa 522px,#4740e4 524px,#4538d8 525px,#4434d0 526px,#4434cf 527px,#4536d4 528px,#473fe2 530px,#4756f7 533px,#4368fe 535px,#327bfc 537px,#2d8af5 539px,#2a92ee 541px,#2995ec 543px,#2c8ff0 548px,#2e83f9 553px,#3479fd 555px,#4465fd 557px,#484ff2 559px,#463ada 561px,#422ebe 563px,#402bb7 564px,#402bb6 565px,#412dbd 567px,#4536d4 570px,#4747eb 573px,#4759f8 576px,#3c71ff 581px,#3875fe 584px,#3f6efe 587px,#465ffb 590px,#4853f5 592px,#4741e5 595px,#4537d5 597px,#412dbd 600px,#402bb6 602px,#402bb6 603px,#412dbd 605px,#473ee2 610px,#484ef1 613px,#475bf9 616px,#4561fc 619px,#465dfa 622px,#484df0 626px,#4743e7 628px,#4435d1 631px,#412dbc 634px,#402bb6 636px,#402bb6 637px,#412ebd 639px,#4536d3 642px,#4747ec 646px,#4853f5 649px,#4758f8 652px,#4854f5 655px,#4849ed 658px,#463bdd 661px,#422ebf 665px,#402bb6 668px,#402bb7 669px,#422ebf 671px,#463bdd 675px,#4849ed 678px,#4853f5 681px,#4756f7 683px,#4853f5 686px,#4848ec 689px,#463adc 692px,#422ebe 696px,#402bb7 698px,#402bb6 699px,#412dbc 701px,#473fe2 706px,#4849ed 708px,#4853f5 711px,#4853f5 714px,#4849ed 717px,#4740e3 719px,#412dbd 724px,#402bb6 726px,#402bb7 727px,#412dbb 728px,#4433cc 730px,#463de0 732px,#4849ed 734px,#4755f6 737px,#4756f6 739px,#484ff2 741px,#4744e8 743px,#4434ce 746px,#412dbc 748px,#402bb6 750px)"></i>
<i style="left:576px;width:4px;background:linear-gradient(#22a2e4 143px,#20a4e3 150px,#259be8 156px,#2f80fa 164px,#3b72fe 167px,#4269fe 169px,#4853f4 174px,#463cde 180px,#4230c3 186px,#412dbc 190px,#412dbd 191px,#4331c6 193px,#463bde 196px,#4850f2 199px,#4660fb 201px,#3b72ff 203px,#327cfc 204px,#20a5e2 209px,#11b1d6 211px,#05b6ce 212px,#01b9c6 213px,#09bcbe 214px,#16bfb7 215px,#20c1b1 216px,#2cc4a7 218px,#45cb89 225px,#50cc80 228px,#54cc7c 231px,#51cc7e 236px,#41ca8c 240px,#2dc4a6 245px,#26c2ad 246px,#01b8c9 248px,#15afd9 249px,#21a3e4 250px,#2d88f6 252px,#327cfc 253px,#3975fe 254px,#3b73fe 255px,#3678fe 256px,#2f82fa 257px,#2c8ff0 258px,#249fe6 259px,#16afda 260px,#04bbc2 261px,#2ec4a5 262px,#50cc80 263px,#86cb54 264px,#b9c430 265px,#dfbc2a 266px,#f7ba3c 267px,#fec13a 268px,#fdce31 270px,#f5e327 274px,#f5ec22 277px,#f6ef20 279px,#f8f719 312px,#f9fa15 352px,#f9f916 425px,#f6f21e 476px,#f6f11f 477px,#f5e725 479px,#feca34 482px,#f5ba3a 483px,#b6c532 484px,#53cc7d 485px,#11beba 486px,#1ca9df 487px,#2995ec 488px,#2d8df2 489px,#2994ed 490px,#23a0e5 491px,#15afd9 492px,#02bac3 493px,#25c2ae 494px,#32c69e 495px,#4dcb82 499px,#5bcc76 502px,#5bcc76 504px,#50cc80 507px,#3dc990 510px,#29c3aa 514px,#1abfb5 515px,#02bac4 516px,#0fb2d4 517px,#1fa6e2 518px,#2e85f8 520px,#3c71ff 521px,#465ffb 522px,#4742e6 524px,#4639d9 525px,#4435d0 526px,#4434ce 527px,#4535d2 528px,#463de0 530px,#4854f5 533px,#4466fd 535px,#3e6fff 536px,#2f81fa 538px,#2d88f6 539px,#2b91ef 541px,#2994ed 543px,#2c8ff0 548px,#2f81fa 554px,#337bfc 555px,#4368fd 557px,#4851f3 559px,#463bdd 561px,#422fc0 563px,#402bb8 564px,#402bb6 565px,#412dbc 567px,#4536d3 570px,#4745ea 573px,#4758f8 576px,#4563fd 578px,#3d70ff 581px,#3975fe 584px,#3f6eff 587px,#4660fb 590px,#4854f5 592px,#4742e6 595px,#4537d6 597px,#422ebe 600px,#402bb6 602px,#402bb6 603px,#412dbc 605px,#4539d9 609px,#484df0 613px,#465dfa 617px,#4661fc 620px,#475bf9 623px,#4849ed 627px,#4536d3 631px,#412dbd 634px,#402bb6 636px,#402bb6 637px,#412dbc 639px,#4435d1 642px,#4747eb 646px,#4853f4 649px,#4758f8 652px,#4755f6 655px,#484aee 658px,#463cde 661px,#422fc1 665px,#402bb6 668px,#402bb7 669px,#422ebe 671px,#463adb 675px,#4848ec 678px,#4853f5 681px,#4757f7 684px,#4851f3 687px,#4744e9 690px,#4537d6 693px,#422ec0 696px,#402bb6 699px,#402bb7 700px,#422fc1 702px,#463ee1 706px,#4847ec 708px,#4854f6 712px,#4852f4 715px,#4741e5 719px,#4434ce 722px,#412cb9 725px,#402bb6 727px,#422fc0 729px,#463bdd 732px,#4747eb 734px,#4755f6 737px,#4756f7 739px,#4851f3 741px,#4746ea 743px,#4435d2 746px,#422ebf 748px,#412cb9 749px,#402bb7 751px)"></i>
<i style="left:580px;width:4px;background:linear-gradient(#21a3e3 144px,#21a4e3 150px,#269ae8 156px,#307ffb 164px,#3776fe 166px,#4368fd 169px,#4852f4 174px,#463bdd 180px,#422fc2 186px,#412dbc 190px,#412dbd 191px,#4331c6 193px,#463cdf 196px,#4851f3 199px,#4561fc 201px,#416afe 202px,#3974fe 203px,#317efb 204px,#2c90f0 206px,#19addc 210px,#03b7cc 212px,#02bac4 213px,#18bfb6 215px,#28c2ab 217px,#4bcb83 227px,#51cc7f 230px,#50cc80 235px,#42ca8b 239px,#29c3a9 245px,#1fc0b2 246px,#08bcbf 247px,#06b5cf 248px,#1babde 249px,#2c8ff0 251px,#2f82fa 252px,#3777fe 253px,#3e70ff 254px,#3e6fff 255px,#3875fe 256px,#2f81fa 257px,#2c8ff0 258px,#23a0e5 259px,#14b0d8 260px,#08bcbe 261px,#31c6a0 262px,#58cc79 263px,#90ca4d 264px,#c1c32c 265px,#e4bb2c 266px,#fabb3d 267px,#fec339 268px,#fccf30 270px,#f5e427 274px,#f5ed22 277px,#f6f020 279px,#f8f719 312px,#f9fa15 351px,#f9fa16 422px,#f6f21e 476px,#f5ee21 478px,#f5e825 479px,#fdcb33 482px,#fabb3d 483px,#c4c22b 484px,#61cd71 485px,#1cc0b4 486px,#1babde 487px,#2a93ed 488px,#2d88f6 489px,#2d8df2 490px,#1ca9df 492px,#03b7cc 493px,#19bfb5 494px,#2ec4a4 495px,#4dcc82 500px,#56cc7b 502px,#58cc79 503px,#55cc7c 505px,#47cb87 508px,#28c2ab 514px,#1abfb5 515px,#03bbc3 516px,#0cb3d3 517px,#1ea7e1 518px,#2d87f6 520px,#3974fe 521px,#4561fc 522px,#4744e8 524px,#463adb 525px,#4435d0 526px,#4434cd 527px,#4435d0 528px,#463cde 530px,#4852f4 533px,#4563fd 535px,#3776fe 537px,#307ffb 538px,#2e86f7 539px,#2c90f0 541px,#2994ed 543px,#2c8ff0 548px,#2f82fa 554px,#327cfc 555px,#426afe 557px,#465ffb 558px,#4848ec 560px,#4435d1 562px,#422fc2 563px,#412cb9 564px,#402bb6 565px,#412dbb 567px,#4435d1 570px,#4744e8 573px,#4756f7 576px,#4562fc 578px,#3e6fff 581px,#3975fe 584px,#3f6fff 587px,#4661fc 590px,#4755f6 592px,#4743e7 595px,#4538d8 597px,#422ebf 600px,#402bb7 602px,#402bb6 603px,#412dbb 605px,#4538d7 609px,#4741e5 611px,#484cef 613px,#475cfa 617px,#4661fc 620px,#475bf9 623px,#484aee 627px,#4536d4 631px,#412ebe 634px,#402bb7 636px,#402bb6 637px,#412dbc 639px,#4434d0 642px,#4741e5 645px,#484aee 647px,#4755f6 650px,#4758f8 653px,#4852f4 656px,#4746ea 659px,#463ddf 661px,#422fc2 665px,#402bb6 668px,#402bb6 669px,#412dbd 671px,#4535d2 674px,#4747eb 678px,#4852f4 681px,#4757f7 684px,#4851f4 687px,#4746ea 690px,#463cdf 692px,#422fc1 696px,#402bb6 699px,#402bb7 700px,#422ebf 702px,#463cdf 706px,#4746ea 708px,#4852f4 711px,#4755f6 713px,#4852f4 715px,#4747eb 718px,#463de0 720px,#4435d0 722px,#422fc0 724px,#402bb7 726px,#402bb6 727px,#412ebe 729px,#473fe3 733px,#484bef 735px,#4854f5 737px,#4757f7 739px,#484ef1 742px,#4742e6 744px,#4537d5 746px,#412cbb 749px,#402bb7 750px,#412cba 752px)"></i>
<i style="left:584px;width:4px;background:linear-gradient(#21a3e3 145px,#21a2e4 151px,#2797eb 157px,#307efb 164px,#3975fe 166px,#4367fd 169px,#4851f3 174px,#463adb 180px,#422fc1 186px,#412dbc 190px,#422fc1 192px,#463de0 196px,#4853f5 199px,#4563fd 201px,#406dfe 202px,#2f80fa 204px,#2b92ee 206px,#1da8e0 209px,#17aeda 210px,#01b7ca 212px,#03bbc3 213px,#1ac0b5 215px,#23c1af 216px,#2cc4a7 218px,#4acb85 227px,#4fcc81 230px,#4ccb82 235px,#3eca8f 239px,#25c2ad 245px,#16bfb7 246px,#01bac5 247px,#1fa6e2 249px,#2d8af5 251px,#327cfc 252px,#3c71ff 253px,#416bfe 254px,#406cfe 255px,#3a73fe 256px,#3080fa 257px,#2c8ff0 258px,#23a1e5 259px,#11b1d6 260px,#0ebdbb 261px,#34c79b 262px,#60cd72 263px,#99c946 264px,#c9c129 265px,#e9bb30 266px,#fcbc3d 267px,#fec438 268px,#fcd030 270px,#f5e526 274px,#f5ee21 277px,#f6f020 279px,#f9f917 332px,#f9fa15 404px,#f8f818 444px,#f6f11e 477px,#f6ef20 478px,#f5e227 480px,#fdcd32 482px,#febe3c 483px,#d0bf27 484px,#70cd65 485px,#25c2ad 486px,#18addb 487px,#2a93ed 488px,#2e84f8 489px,#2e87f7 490px,#2a93ee 491px,#21a3e3 492px,#0db3d3 493px,#0bbdbc 494px,#29c3aa 495px,#36c799 497px,#48cb86 500px,#53cc7d 503px,#51cc7f 505px,#44cb8a 508px,#27c2ac 514px,#1ac0b5 515px,#04bbc2 516px,#0ab4d2 517px,#1da9e0 518px,#269ae8 519px,#3777fe 521px,#4564fd 522px,#4746ea 524px,#463bdd 525px,#4435d1 526px,#4433cd 527px,#4536d4 529px,#4740e4 531px,#4758f8 534px,#426afe 536px,#327dfc 538px,#2c8ff1 541px,#2a93ee 543px,#2c8ff0 548px,#2f82f9 554px,#317efb 555px,#3776fe 556px,#4561fc 558px,#484aee 560px,#4536d4 562px,#4330c5 563px,#412cba 564px,#402bb6 565px,#412cba 567px,#4434cf 570px,#4743e7 573px,#4755f6 576px,#4661fc 578px,#3f6eff 581px,#3974fe 584px,#3e6fff 587px,#4561fc 590px,#4756f7 592px,#4744e8 595px,#4435d1 598px,#412dbb 601px,#402bb6 603px,#402bb7 604px,#422ebf 606px,#4537d6 609px,#484bee 613px,#475cfa 617px,#4661fc 620px,#475cfa 623px,#484bee 627px,#463bde 630px,#422ebf 634px,#402bb7 636px,#402bb6 637px,#422ec0 640px,#463bdd 644px,#4849ed 647px,#4854f6 650px,#4758f8 653px,#4853f5 656px,#4747eb 659px,#463ee1 661px,#4332cb 664px,#412ebd 666px,#402bb6 668px,#402bb6 669px,#412dbc 671px,#4435d0 674px,#4746ea 678px,#4852f4 681px,#4757f7 684px,#4852f4 687px,#4747eb 690px,#4435d2 694px,#412dbd 697px,#402bb6 699px,#402bb6 700px,#412ebe 702px,#4537d5 705px,#4745e9 708px,#4851f3 711px,#4755f6 713px,#4853f5 715px,#4848ec 718px,#473fe2 720px,#412dbc 725px,#402bb6 727px,#412dbc 729px,#463de0 733px,#4849ed 735px,#4853f5 737px,#4757f7 739px,#4853f5 741px,#4744e8 744px,#4434cf 747px,#412dbd 749px,#402bb8 750px,#402bb6 751px,#412ebd 753px)"></i>
<i style="left:588px;width:4px;background:linear-gradient(#21a4e3 146px,#22a2e4 151px,#2797eb 157px,#317dfb 164px,#3a74fe 166px,#4466fd 169px,#4850f2 174px,#4639da 180px,#422fc0 186px,#412dbc 190px,#422fc2 192px,#4639da 195px,#4854f6 199px,#4465fd 201px,#3e6fff 202px,#2f82f9 204px,#2994ed 206px,#1caadf 209px,#01b8c9 212px,#05bbc1 213px,#1cc0b4 215px,#24c1af 216px,#2cc4a6 218px,#3fca8e 224px,#48cb86 227px,#4ccb83 230px,#49cb85 235px,#3bc993 239px,#27c2ab 244px,#20c1b1 245px,#0cbdbc 246px,#02b7cb 247px,#18aedb 248px,#23a1e4 249px,#2e84f8 251px,#3777fe 252px,#406cfe 253px,#4367fd 254px,#4269fe 255px,#3c71ff 256px,#307ffb 257px,#2c90f0 258px,#22a2e4 259px,#0eb3d4 260px,#14bfb8 261px,#37c897 262px,#68cd6b 263px,#a2c840 264px,#d0c028 265px,#eeba34 266px,#febd3c 267px,#fec537 268px,#fcd12f 270px,#f5e626 274px,#f5ee21 277px,#f6f020 279px,#f8f917 329px,#f9fb15 396px,#f8f818 440px,#f6f21e 477px,#f6f020 478px,#f5e427 480px,#fccf31 482px,#fec139 483px,#dbbd29 484px,#81cc59 485px,#2dc4a6 486px,#14b0d8 487px,#2994ed 488px,#2f81fa 489px,#2f81fa 490px,#2d8cf3 491px,#259de7 492px,#17aeda 493px,#02bac4 494px,#22c1af 495px,#2ec4a5 496px,#44ca8a 500px,#4fcc80 503px,#4dcc82 505px,#41ca8c 508px,#2cc4a7 513px,#26c2ad 514px,#1abfb5 515px,#05bbc1 516px,#08b4d0 517px,#1caadf 518px,#259ce7 519px,#3479fd 521px,#4466fd 522px,#4756f6 523px,#4848ec 524px,#463cdf 525px,#4536d2 526px,#4433cc 527px,#4536d2 529px,#473fe2 531px,#4756f6 534px,#4368fd 536px,#347afd 538px,#2d88f6 540px,#2b91ef 542px,#2a92ee 544px,#2c8ef2 549px,#2e83f9 554px,#3578fd 556px,#4564fd 558px,#484df0 560px,#4538d7 562px,#412dbc 564px,#402bb6 565px,#412cb9 567px,#4433cd 570px,#4742e6 573px,#4854f5 576px,#465ffb 578px,#3f6dfe 581px,#3974fe 584px,#3e6fff 587px,#4562fc 590px,#4757f7 592px,#4745e9 595px,#4536d2 598px,#412dbc 601px,#402bb6 603px,#402bb7 604px,#412ebe 606px,#4536d4 609px,#484aed 613px,#475bf9 617px,#4660fc 620px,#475cfa 623px,#484cef 627px,#4741e5 629px,#4434cf 632px,#412dbb 635px,#402bb6 637px,#402bb7 638px,#422ebe 640px,#463adb 644px,#4848ec 647px,#4854f5 650px,#4758f8 653px,#4854f5 656px,#4848ec 659px,#463adc 662px,#422ebf 666px,#402bb6 669px,#422fc0 672px,#463bde 676px,#4745e9 678px,#4851f3 681px,#4757f7 684px,#4853f5 687px,#4848ec 690px,#473ee2 692px,#4433cc 695px,#412ebe 697px,#402bb7 699px,#402bb6 700px,#412dbc 702px,#473fe2 707px,#4849ed 709px,#4855f6 713px,#4851f3 716px,#4745e9 719px,#4537d5 722px,#412ebe 725px,#402bb6 727px,#412cba 729px,#4536d4 732px,#4848ec 735px,#4851f4 737px,#4756f7 739px,#4854f5 741px,#4746eb 744px,#4536d2 747px,#422ebf 749px,#412cb9 750px,#402bb7 752px,#422fc2 754px)"></i>
<i style="left:592px;width:4px;background:linear-gradient(#21a4e3 147px,#23a0e5 152px,#2896ec 157px,#2f81fa 163px,#3b73fe 166px,#4465fd 169px,#484ff2 174px,#4539d9 180px,#422fc2 185px,#412dbb 189px,#412dbc 190px,#4230c4 192px,#463adc 195px,#4756f7 199px,#4368fd 201px,#3c71ff 202px,#327bfc 203px,#20a5e3 208px,#12b1d7 210px,#06b5cf 211px,#01b9c7 212px,#07bcbf 213px,#13beb9 214px,#24c2ae 216px,#29c3aa 217px,#45cb89 226px,#49cb85 229px,#48cb86 234px,#3cc992 238px,#2ec4a4 242px,#24c1af 244px,#19bfb6 245px,#04bbc2 246px,#09b4d1 247px,#1caadf 248px,#2d8df2 250px,#307ffb 251px,#3c71ff 252px,#4368fd 253px,#4564fd 254px,#4367fd 255px,#3e70ff 256px,#307ffb 257px,#2b90ef 258px,#21a3e3 259px,#0ab4d2 260px,#1bc0b4 261px,#3cc992 262px,#70cd65 263px,#aac73a 264px,#d6be28 265px,#f2ba37 266px,#febf3b 267px,#fec636 268px,#f5e227 273px,#f5ed22 276px,#f6f020 278px,#f8f917 326px,#f9fb15 389px,#f8f817 438px,#f6f21e 477px,#f6f01f 478px,#f5e526 480px,#fcd030 482px,#fec437 483px,#e5bb2d 484px,#91ca4c 485px,#33c69e 486px,#0fb2d4 487px,#2995ec 488px,#307efb 489px,#337bfd 490px,#2e85f8 491px,#2796eb 492px,#1da9e0 493px,#02b7cb 494px,#19bfb5 495px,#2ac3a9 496px,#3fca8e 500px,#4bcb83 503px,#4acb84 505px,#44cb8a 507px,#2bc3a8 513px,#24c2ae 514px,#19bfb5 515px,#05bbc1 516px,#07b5cf 517px,#1babde 518px,#249de6 519px,#327cfc 521px,#4369fe 522px,#4758f8 523px,#463ee0 525px,#4536d4 526px,#4433cc 527px,#4433cc 528px,#4435d0 529px,#463de0 531px,#4854f5 534px,#4465fd 536px,#3f6eff 537px,#3080fb 539px,#2c8ff0 542px,#2b92ee 544px,#2c8ef2 549px,#2f80fa 555px,#337afd 556px,#4466fd 558px,#484ff2 560px,#463adb 562px,#412ebe 564px,#402bb7 565px,#402bb6 566px,#412dbd 568px,#463bdc 572px,#4852f4 576px,#465efb 578px,#406cfe 581px,#3a74fe 584px,#3b72fe 586px,#406cfe 588px,#465efb 591px,#4852f4 593px,#4740e4 596px,#4536d4 598px,#412dbd 601px,#402bb6 603px,#402bb6 604px,#412dbd 606px,#463ee1 611px,#484df1 614px,#475af9 617px,#4660fc 620px,#475dfa 623px,#484df0 627px,#4743e7 629px,#4435d1 632px,#412dbc 635px,#402bb6 637px,#402bb6 638px,#412dbd 640px,#4535d2 643px,#4747eb 647px,#4853f5 650px,#4758f8 653px,#4854f6 656px,#4849ed 659px,#463bde 662px,#422fc0 666px,#402bb6 669px,#402bb7 670px,#422ebf 672px,#463adc 676px,#4848ec 679px,#4853f5 682px,#4756f7 684px,#4853f5 687px,#4849ed 690px,#463bdd 693px,#422ec0 697px,#402bb6 700px,#402bb7 701px,#422fc1 703px,#463ee0 707px,#4747eb 709px,#4852f4 712px,#4755f6 714px,#4852f4 716px,#4746eb 719px,#463ddf 721px,#4434cf 723px,#422ec0 725px,#402bb7 727px,#412cb9 729px,#422ebf 730px,#4435d1 732px,#4746ea 735px,#4850f3 737px,#4756f7 739px,#4755f6 741px,#4849ec 744px,#463ddf 746px,#4433cc 748px,#412dbb 750px,#402bb7 751px,#412cb9 753px,#4331c8 755px)"></i>
<i style="left:596px;width:4px;background:linear-gradient(#21a3e3 148px,#249ee6 153px,#2a92ee 158px,#3080fb 163px,#3c72ff 166px,#4563fd 169px,#484ef1 174px,#4538d8 180px,#422fc2 185px,#412dbb 189px,#412dbc 190px,#4330c5 192px,#463cde 195px,#4850f3 198px,#4561fc 200px,#426afe 201px,#3a74fe 202px,#317efb 203px,#2c90f0 205px,#19addc 209px,#04b6cd 211px,#01bac5 212px,#09bcbe 213px,#15bfb8 214px,#1ec0b2 215px,#29c3aa 217px,#44cb8a 226px,#47cb87 229px,#45cb89 234px,#39c895 238px,#26c2ad 243px,#1ec0b2 244px,#10beba 245px,#01b9c7 246px,#20a5e2 248px,#3579fd 251px,#406cfe 252px,#4563fd 253px,#4661fc 254px,#4464fd 255px,#3f6eff 256px,#307ffb 257px,#2b91ef 258px,#20a4e3 259px,#07b5cf 260px,#20c1b1 261px,#41ca8c 262px,#79cc5e 263px,#b2c635 264px,#dbbd29 265px,#f5ba3a 266px,#fec03b 267px,#fdcd31 269px,#f5e327 273px,#f5ed21 276px,#f6f020 278px,#f8f719 314px,#f9fa15 356px,#f9f916 427px,#f6f21e 477px,#f5ed21 479px,#f5e725 480px,#fec636 483px,#edba34 484px,#a1c840 485px,#39c994 486px,#07b5d0 487px,#2796eb 488px,#317dfc 489px,#3975fe 490px,#307ffb 491px,#2c90f0 492px,#21a3e3 493px,#09b4d1 494px,#0ebebb 495px,#26c2ad 496px,#3cc991 500px,#46cb88 502px,#49cb86 504px,#41ca8c 507px,#29c3a9 513px,#23c1af 514px,#19bfb5 515px,#06bcc0 516px,#06b5ce 517px,#1aacdd 518px,#2c8ff0 520px,#317efb 521px,#416bfe 522px,#475af9 523px,#473fe2 525px,#4537d5 526px,#4433cc 527px,#4433cb 528px,#4434cf 529px,#463bde 531px,#4851f4 534px,#4563fc 536px,#3975fe 538px,#317efb 539px,#2e84f8 540px,#2c8ef1 542px,#2b92ef 544px,#2c8ef2 549px,#2f81fa 555px,#327cfc 556px,#4269fe 558px,#4852f4 560px,#463cde 562px,#422fc0 564px,#402bb8 565px,#402bb6 566px,#412dbc 568px,#4535d2 571px,#4745e9 574px,#4757f7 577px,#4562fc 579px,#3e6fff 582px,#3a74fe 585px,#406dfe 588px,#465ffb 591px,#4854f5 593px,#4742e6 596px,#4434cd 599px,#412cb9 602px,#402bb6 604px,#412dbb 606px,#4435d0 609px,#4742e6 612px,#484cf0 614px,#4759f8 617px,#4660fb 620px,#465dfa 623px,#484ef1 627px,#473fe2 630px,#4536d3 632px,#412dbd 635px,#402bb6 637px,#402bb6 638px,#412dbc 640px,#4435d0 643px,#4746ea 647px,#4852f4 650px,#4758f8 653px,#4755f6 656px,#4746ea 660px,#463ddf 662px,#422fc2 666px,#402bb6 669px,#402bb6 670px,#412dbd 672px,#4535d2 675px,#4747eb 679px,#4852f4 682px,#4756f7 684px,#4854f5 687px,#484aee 690px,#4741e5 692px,#4434d0 695px,#412dbc 698px,#402bb6 700px,#402bb7 701px,#422ebf 703px,#463cdf 707px,#4746ea 709px,#4852f4 712px,#4755f6 714px,#4853f4 716px,#4848ec 719px,#463ee1 721px,#4435d2 723px,#412dbc 726px,#402bb6 728px,#412dbc 730px,#4434ce 732px,#4744e8 735px,#484ff1 737px,#4755f6 739px,#4756f6 741px,#484bee 744px,#473fe2 746px,#4435d0 748px,#412ebe 750px,#412cb8 751px,#402bb7 753px,#412dbc 754px,#4434cd 756px)"></i>
<i style="left:600px;width:4px;background:linear-gradient(#21a3e3 149px,#249ee6 153px,#2b91ef 158px,#307ffb 163px,#3876fe 165px,#4367fd 168px,#4851f3 173px,#463adb 179px,#422fc1 185px,#412dbb 189px,#412dbd 190px,#4331c7 192px,#463de0 195px,#4852f4 198px,#4563fd 200px,#406cfe 201px,#2f80fa 203px,#2b92ee 205px,#1da8e0 208px,#17aeda 209px,#02b7cb 211px,#02bac3 212px,#17bfb6 214px,#1fc1b1 215px,#29c3aa 217px,#40ca8d 225px,#45cb88 228px,#44cb89 233px,#3ac994 237px,#28c2ab 242px,#19bfb5 244px,#08bcbf 245px,#04b6cd 246px,#18addb 247px,#2b92ee 249px,#2f83f9 250px,#3a73fe 251px,#4367fd 252px,#465ffb 253px,#465dfb 254px,#4562fc 255px,#3f6dfe 256px,#307ffb 257px,#2b92ee 258px,#1fa5e2 259px,#04b6cd 260px,#25c2ad 261px,#47cb87 262px,#81cc58 263px,#b9c431 264px,#e0bc2a 265px,#f8ba3d 266px,#fec13a 267px,#fdce31 269px,#f5e426 273px,#f6ef20 277px,#f8f719 312px,#f9fa15 354px,#f9f916 426px,#f6f21e 477px,#f5ee21 479px,#f5e825 480px,#fec835 483px,#f4ba3a 484px,#b0c636 485px,#44ca8a 486px,#01b8ca 487px,#2698ea 488px,#327cfc 489px,#3e70ff 490px,#3678fe 491px,#2d89f5 492px,#249ee6 493px,#13b0d7 494px,#06bcc0 495px,#21c1b0 496px,#2ac3a9 497px,#3ac994 500px,#43ca8b 502px,#46cb88 504px,#3fca8e 507px,#2dc4a5 512px,#22c1b0 514px,#18bfb6 515px,#06bcc0 516px,#05b6ce 517px,#19addc 518px,#2b91ef 520px,#3080fa 521px,#406dfe 522px,#475cfa 523px,#4740e4 525px,#4537d6 526px,#4433cc 527px,#4332ca 528px,#4433cd 529px,#463adb 531px,#484ff2 534px,#4660fc 536px,#3b73fe 538px,#327bfc 539px,#2f82f9 540px,#2d8df2 542px,#2b91ef 544px,#2c8ef2 549px,#2f82fa 555px,#317efb 556px,#3876fe 557px,#4660fc 559px,#4849ed 561px,#4535d2 563px,#4230c3 564px,#412cb9 565px,#402bb6 566px,#412dbb 568px,#4435d0 571px,#4743e7 574px,#4755f6 577px,#4660fc 579px,#3f6efe 582px,#3a73fe 585px,#3f6efe 588px,#4660fc 591px,#4755f6 593px,#4743e7 596px,#4434cf 599px,#412cba 602px,#402bb6 604px,#402bb7 605px,#422ec0 607px,#463cde 611px,#484bef 614px,#4758f8 617px,#4660fb 620px,#465efb 623px,#484ff2 627px,#4740e3 630px,#4433cd 633px,#412cba 636px,#402bb6 638px,#422fc0 641px,#4537d6 644px,#4745e9 647px,#4851f3 650px,#4758f8 653px,#4756f6 656px,#4747eb 660px,#4536d3 664px,#412ebe 667px,#402bb6 669px,#402bb6 670px,#422fc1 673px,#463cdf 677px,#4746ea 679px,#4851f4 682px,#4757f7 685px,#4852f4 688px,#4747eb 691px,#4535d2 695px,#412dbd 698px,#402bb6 700px,#402bb6 701px,#412ebe 703px,#4537d5 706px,#4745e9 709px,#484ef1 711px,#4755f6 714px,#4851f3 717px,#4744e9 720px,#4536d4 723px,#412dbd 726px,#402bb6 728px,#412cbb 730px,#4537d5 733px,#4847ec 736px,#4851f4 738px,#4756f7 740px,#4854f6 742px,#4747eb 745px,#463bdd 747px,#4332ca 749px,#412cba 751px,#402bb6 752px,#412cba 754px,#4536d4 757px)"></i>
<i style="left:604px;width:4px;background:linear-gradient(#22a2e4 150px,#2797eb 156px,#2f82f9 162px,#3974fe 165px,#4466fd 168px,#4850f2 173px,#463ada 179px,#422fc0 185px,#412dbb 189px,#422fc2 191px,#4639d9 194px,#4854f6 198px,#4466fd 200px,#3e6fff 201px,#2e83f9 203px,#2d8bf3 204px,#1caadf 208px,#01b8c9 211px,#04bbc2 212px,#0ebdbb 213px,#19bfb5 214px,#25c2ad 216px,#3bc993 223px,#43ca8a 227px,#42ca8c 233px,#37c897 237px,#2ec4a4 240px,#24c2ae 242px,#12beb9 244px,#02bac4 245px,#0bb4d2 246px,#1ca9df 247px,#2d8df2 249px,#317dfc 250px,#3f6efe 251px,#4562fc 252px,#475cfa 253px,#475bf9 254px,#4660fc 255px,#406cfe 256px,#307ffb 257px,#2a93ee 258px,#1ea7e1 259px,#01b8ca 260px,#29c3aa 261px,#4dcc82 262px,#89cb52 263px,#bfc32d 264px,#e4bb2c 265px,#fabb3d 266px,#fec239 267px,#fccf30 269px,#f5e526 273px,#f6ef20 277px,#f8f719 311px,#f9fa15 351px,#f9fa16 426px,#f6f21e 478px,#f5ea24 480px,#f5e128 481px,#feca33 483px,#fabb3d 484px,#bfc32e 485px,#51cc7f 486px,#02bac4 487px,#259be8 488px,#327bfc 489px,#416bfe 490px,#3c71ff 491px,#2e83f9 492px,#2798ea 493px,#19acdc 494px,#01b9c6 495px,#1bc0b4 496px,#27c2ac 497px,#3cc991 501px,#43ca8b 503px,#43ca8b 505px,#3eca8f 507px,#2dc4a6 512px,#21c1b1 514px,#17bfb6 515px,#06bcc0 516px,#04b6cd 517px,#18aedb 518px,#22a1e4 519px,#2f82fa 521px,#3e6fff 522px,#465dfb 523px,#4741e5 525px,#4538d8 526px,#4433cd 527px,#4332c9 528px,#4435d1 530px,#473ee2 532px,#4756f6 535px,#4367fd 537px,#3d70ff 538px,#2f80fa 540px,#2c8ff1 543px,#2b90ef 545px,#2d8cf3 550px,#2e83f9 555px,#3678fd 557px,#4563fd 559px,#484cef 561px,#4537d6 563px,#4331c7 564px,#412dbb 565px,#402bb6 566px,#412cba 568px,#4434ce 571px,#4742e6 574px,#4854f5 577px,#465ffb 579px,#406dfe 582px,#3b73fe 585px,#3f6eff 588px,#4561fc 591px,#4756f7 593px,#4744e8 596px,#4435d1 599px,#412dbc 602px,#402bb6 604px,#402bb7 605px,#412ebe 607px,#4536d4 610px,#484aed 614px,#475bf9 618px,#4660fb 621px,#475cfa 624px,#484bef 628px,#463cdf 631px,#422fc0 635px,#402bb6 638px,#422ebe 641px,#463adb 645px,#4848ec 648px,#4854f5 651px,#4758f8 654px,#4854f5 657px,#4848ec 660px,#463bdc 663px,#422ebf 667px,#402bb6 670px,#422ebf 673px,#463bdd 677px,#4849ed 680px,#4853f5 683px,#4756f7 685px,#4853f5 688px,#4848ec 691px,#463adb 694px,#422ebe 698px,#402bb7 700px,#402bb6 701px,#412dbc 703px,#4536d2 706px,#4743e7 709px,#484cf0 711px,#4854f6 714px,#4852f4 717px,#4746ea 720px,#463cdf 722px,#4434ce 724px,#422ebf 726px,#402bb7 728px,#402bb6 729px,#422ebf 731px,#4435d1 733px,#4746ea 736px,#4850f2 738px,#4756f7 740px,#4755f6 742px,#4849ed 745px,#463de0 747px,#4434ce 749px,#412dbc 751px,#402bb8 752px,#402bb6 753px,#412ebe 755px,#4639d9 758px)"></i>
<i style="left:608px;width:4px;background:linear-gradient(#23a0e5 151px,#2896eb 156px,#2f81fa 162px,#3a73fe 165px,#4465fd 168px,#484ff2 173px,#4539d9 179px,#422ebf 185px,#412dbb 189px,#4230c3 191px,#463adc 194px,#4757f7 198px,#4368fe 200px,#3c72ff 201px,#327cfc 202px,#20a5e2 207px,#12b1d7 209px,#06b5cf 210px,#01b9c7 211px,#06bcc0 212px,#10beba 213px,#21c1b0 215px,#30c5a1 219px,#3fca8e 225px,#42ca8c 231px,#3bc993 235px,#2cc4a7 240px,#18bfb6 243px,#0abdbd 244px,#01b8c9 245px,#13b0d7 246px,#20a5e2 247px,#3677fe 250px,#4369fe 251px,#465efb 252px,#4758f8 253px,#4758f8 254px,#465efb 255px,#416cfe 256px,#307ffb 257px,#2994ed 258px,#1da8e0 259px,#01b9c7 260px,#2dc4a6 261px,#54cc7c 262px,#91ca4c 263px,#c6c22a 264px,#e8bb2f 265px,#fbbc3d 266px,#fec338 267px,#fcd030 269px,#f5e626 273px,#f6f020 277px,#f9f917 330px,#f9fb15 404px,#f8f818 444px,#f6f21e 478px,#f6f01f 479px,#f5e327 481px,#fdcc32 483px,#febd3c 484px,#ccc028 485px,#60cd72 486px,#0bbdbd 487px,#249ee6 488px,#327cfc 489px,#4368fd 490px,#416bfe 491px,#327cfc 492px,#2a92ee 493px,#1ea8e0 494px,#02b7cb 495px,#14bfb8 496px,#23c1af 497px,#2cc4a7 498px,#3ac994 501px,#41ca8c 504px,#3cc991 507px,#2cc4a7 512px,#16bfb7 515px,#07bcc0 516px,#03b7cc 517px,#17aeda 518px,#22a2e4 519px,#2e83f9 521px,#3d71ff 522px,#465ffb 523px,#4743e7 525px,#4539d9 526px,#4433cd 527px,#4332c8 528px,#4434cf 530px,#463de0 532px,#4853f5 535px,#4465fd 537px,#3776fe 539px,#317efb 540px,#2d8df2 543px,#2c90f0 545px,#2d8cf3 550px,#2f80fa 556px,#337afd 557px,#4466fd 559px,#484ff2 561px,#4639da 563px,#412ebd 565px,#402bb7 566px,#402bb6 567px,#412ebd 569px,#463bdd 573px,#4852f4 577px,#465dfb 579px,#416bfe 582px,#3b73fe 585px,#3c71ff 587px,#416bfe 589px,#465dfa 592px,#4852f4 594px,#4740e3 597px,#4536d4 599px,#412dbd 602px,#402bb6 604px,#402bb6 605px,#412dbd 607px,#463ee1 612px,#484df0 615px,#475af9 618px,#4660fb 621px,#475cfa 624px,#484df0 628px,#4742e6 630px,#4435d1 633px,#412dbc 636px,#402bb6 638px,#402bb6 639px,#412dbd 641px,#4535d2 644px,#4747eb 648px,#4853f5 651px,#4758f8 654px,#4755f6 657px,#484aee 660px,#463cde 663px,#4434cf 665px,#412dbb 668px,#402bb6 670px,#402bb7 671px,#412ebe 673px,#473ee1 678px,#4848ec 680px,#4853f5 683px,#4756f7 685px,#4854f5 688px,#4849ed 691px,#463bde 694px,#422fc0 698px,#402bb6 701px,#402bb7 702px,#422fc0 704px,#463de0 708px,#4747eb 710px,#4854f5 714px,#4852f4 717px,#4747eb 720px,#463ee0 722px,#422fc1 726px,#402bb7 728px,#402bb6 729px,#412dbd 731px,#4538d8 734px,#4743e8 736px,#484ef1 738px,#4755f6 740px,#4756f7 742px,#484bef 745px,#4740e3 747px,#4435d2 749px,#422ebf 751px,#402bb6 753px,#412dbb 755px,#463cdf 759px)"></i>
<i style="left:612px;width:4px;background:linear-gradient(#249ee6 152px,#2a92ee 157px,#2f80fa 162px,#3b72ff 165px,#4564fd 168px,#484ef1 173px,#4538d8 179px,#422fc2 184px,#412dbb 188px,#412dbc 189px,#4330c5 191px,#463cde 194px,#4851f3 197px,#4561fc 199px,#416bfe 200px,#3974fe 201px,#307efb 202px,#2c90f0 204px,#19addc 208px,#04b6cd 210px,#01b9c6 211px,#12beb9 213px,#21c1b0 215px,#30c5a1 219px,#3eca8f 225px,#40ca8d 230px,#3bc993 234px,#2dc4a6 239px,#23c1af 241px,#12beb9 243px,#05bbc1 244px,#05b6ce 245px,#19addc 246px,#2b92ee 248px,#2f82fa 249px,#3c71ff 250px,#4564fd 251px,#475af9 252px,#4755f6 253px,#4755f6 254px,#465dfa 255px,#416bfe 256px,#307ffb 257px,#2995ec 258px,#1caadf 259px,#02bac4 260px,#2fc5a2 261px,#5bcc76 262px,#99c946 263px,#ccc028 264px,#ecba32 265px,#fdbd3d 266px,#fec438 267px,#f5e227 272px,#f5ed22 275px,#f6f020 277px,#f8f917 328px,#f9fb15 397px,#f8f818 441px,#f6f21e 478px,#f6f11f 479px,#f5e526 481px,#fdce31 483px,#fec03a 484px,#d7be28 485px,#70cd65 486px,#19bfb6 487px,#22a1e4 488px,#317dfc 489px,#4465fd 490px,#4465fd 491px,#3975fe 492px,#21a3e3 494px,#08b5d0 495px,#0dbdbc 496px,#1fc0b2 497px,#29c3aa 498px,#38c896 501px,#3fca8e 504px,#3bc993 507px,#2bc3a8 512px,#1ec0b2 514px,#15bfb7 515px,#07bcc0 516px,#03b7cc 517px,#16afd9 518px,#21a3e3 519px,#2e85f8 521px,#3b73fe 522px,#4561fc 523px,#4744e8 525px,#463ada 526px,#4434ce 527px,#4331c8 528px,#4434cd 530px,#463bdd 532px,#4851f3 535px,#4562fc 537px,#3a74fe 539px,#327cfc 540px,#2e83f9 541px,#2d8cf3 543px,#2c90f0 545px,#2d8cf3 550px,#2f81fa 556px,#327cfc 557px,#4269fe 559px,#4852f4 561px,#463cde 563px,#422fc0 565px,#402bb8 566px,#402bb6 567px,#412dbc 569px,#4535d2 572px,#4744e9 575px,#4756f7 578px,#4561fc 580px,#3f6efe 583px,#3b72fe 586px,#406cfe 589px,#465efb 592px,#4853f5 594px,#4741e5 597px,#4433cd 600px,#412cb9 603px,#402bb6 605px,#412dbb 607px,#4434d0 610px,#4742e6 613px,#484cef 615px,#4759f8 618px,#465ffb 621px,#465dfa 624px,#484ef1 628px,#473fe2 631px,#412ebd 636px,#402bb6 638px,#402bb6 639px,#422fc1 642px,#463cdf 646px,#4745ea 648px,#4852f4 651px,#4758f8 654px,#4755f6 657px,#484bef 660px,#463de0 663px,#412dbd 668px,#402bb6 670px,#402bb6 671px,#422fc2 674px,#463de0 678px,#4746ea 680px,#4852f4 683px,#4756f7 685px,#4854f6 688px,#4746ea 692px,#463ddf 694px,#422fc2 698px,#402bb6 701px,#402bb6 702px,#422ebe 704px,#463cde 708px,#4745ea 710px,#4854f5 714px,#4853f5 717px,#4849ed 720px,#473fe2 722px,#4433cb 725px,#412dbd 727px,#402bb6 729px,#412cbb 731px,#4332cb 733px,#4741e5 736px,#484df0 738px,#4854f6 740px,#4755f6 743px,#4848ec 746px,#463cdf 748px,#4433cc 750px,#412dbb 752px,#402bb7 753px,#402bb6 754px,#422ebf 756px,#4740e3 760px)"></i>
<i style="left:616px;width:4px;background:linear-gradient(#259ce7 153px,#2b92ee 157px,#307ffb 162px,#3c71ff 165px,#4563fc 168px,#484df0 173px,#4538d7 179px,#422fc1 184px,#412dbb 188px,#412dbd 189px,#4331c7 191px,#463de0 194px,#4853f5 197px,#4564fd 199px,#406dfe 200px,#2f81fa 202px,#2a92ee 204px,#1da8e0 207px,#17aeda 208px,#02b7cb 210px,#02bac4 211px,#0abdbd 212px,#1cc0b3 214px,#2bc3a8 217px,#3ac993 223px,#3fca8e 227px,#3dc990 232px,#2ec4a4 238px,#25c2ad 240px,#0cbdbc 243px,#01b9c6 244px,#0cb3d3 245px,#1da9e0 246px,#2d8cf3 248px,#327cfc 249px,#416cfe 250px,#465ffb 251px,#4756f6 252px,#4851f4 253px,#4853f5 254px,#475cfa 255px,#416bfe 256px,#2f80fa 257px,#2896eb 258px,#1aabdd 259px,#05bbc1 260px,#33c69e 261px,#63cd70 262px,#a1c840 263px,#d2bf27 264px,#f0ba36 265px,#febe3c 266px,#fec537 267px,#f5e327 272px,#f5ee21 275px,#f6f020 277px,#f8f917 326px,#f9fb15 392px,#f8f817 441px,#f6f11e 479px,#f5e625 481px,#fcd030 483px,#fec339 484px,#e1bc2b 485px,#82cc58 486px,#25c2ae 487px,#20a5e2 488px,#307ffb 489px,#4563fc 490px,#4660fc 491px,#3f6eff 492px,#2e86f7 493px,#249ee6 494px,#10b2d5 495px,#07bcbf 496px,#1ac0b4 497px,#26c2ad 498px,#2dc4a5 499px,#3ac994 502px,#3eca90 504px,#3ac994 507px,#2ac3a9 512px,#1dc0b3 514px,#14beb8 515px,#07bcc0 516px,#02b7cb 517px,#15afd9 518px,#20a4e3 519px,#2e86f7 521px,#3974fe 522px,#4562fc 523px,#4745e9 525px,#463adc 526px,#4434cf 527px,#4331c7 528px,#4433cc 530px,#463adb 532px,#484ff2 535px,#4660fb 537px,#3c71ff 539px,#2f81fa 541px,#2d8bf4 543px,#2c8ff1 545px,#2d8cf3 550px,#2f82f9 556px,#317efb 557px,#3776fe 558px,#4661fc 560px,#4849ed 562px,#4536d2 564px,#4230c3 565px,#412cb9 566px,#402bb6 567px,#412cbb 569px,#4434d0 572px,#4743e7 575px,#4855f6 578px,#465ffb 580px,#406dfe 583px,#3b72ff 586px,#406dfe 589px,#465ffb 592px,#4854f6 594px,#4743e7 597px,#4434cf 600px,#412cbb 603px,#402bb6 605px,#402bb7 606px,#422ebf 608px,#463bdd 612px,#484aee 615px,#4758f8 618px,#465ffb 621px,#465dfb 624px,#484ff2 628px,#4740e4 631px,#4433cd 634px,#412cba 637px,#402bb6 639px,#422ebf 642px,#463bdd 646px,#4849ed 649px,#4854f5 652px,#4758f8 654px,#4756f7 657px,#4848ec 661px,#463adb 664px,#422ebf 668px,#402bb6 671px,#422fc0 674px,#463bde 678px,#4745e9 680px,#4851f3 683px,#4757f7 686px,#4853f4 689px,#4747eb 692px,#4536d3 696px,#412ebe 699px,#402bb6 701px,#402bb6 702px,#412dbd 704px,#4536d4 707px,#4744e8 710px,#484df0 712px,#4855f6 715px,#4851f4 718px,#4746ea 721px,#463cde 723px,#422ebf 727px,#402bb7 729px,#402bb6 730px,#422ebf 732px,#4435d1 734px,#4745e9 737px,#4853f5 740px,#4756f6 743px,#484aee 746px,#473ee2 748px,#412ebe 752px,#402bb6 754px,#412dbc 756px,#4538d7 759px,#4743e7 761px)"></i>
<i style="left:620px;width:4px;background:linear-gradient(#2699e9 154px,#2f83f9 161px,#3975fe 164px,#4562fc 168px,#484cf0 173px,#4537d6 179px,#422fc0 184px,#412dbb 188px,#422fc2 190px,#4639da 193px,#4755f6 197px,#4466fd 199px,#3d70ff 200px,#347afd 201px,#2e84f9 202px,#2d8cf3 203px,#21a4e3 206px,#14b0d8 208px,#08b4d1 209px,#01b8c9 210px,#03bbc2 211px,#16bfb7 213px,#27c2ab 216px,#3ac994 223px,#3dca90 226px,#3dc990 230px,#39c895 233px,#32c69f 236px,#2cc4a7 238px,#21c1b0 240px,#06bcc0 243px,#02b7cb 244px,#14b0d8 245px,#20a4e3 246px,#2e87f7 248px,#3876fe 249px,#4466fd 250px,#475af9 251px,#4852f4 252px,#484ef1 253px,#4851f3 254px,#475bf9 255px,#416bfe 256px,#2f81fa 257px,#2798ea 258px,#18addb 259px,#0abdbd 260px,#36c898 261px,#6ccd69 262px,#aac73a 263px,#d7be28 264px,#f3ba39 265px,#febf3c 266px,#fbd32e 269px,#f5e426 272px,#f6ef20 276px,#f8f817 322px,#f9fb15 383px,#f8f917 437px,#f6f11e 479px,#f5e825 481px,#fbd22f 483px,#fec437 484px,#eaba31 485px,#93ca4b 486px,#2dc4a5 487px,#1da9e0 488px,#2f81fa 489px,#4561fc 490px,#475bfa 491px,#4368fe 492px,#3080fa 493px,#2699e9 494px,#16afda 495px,#02bac3 496px,#16bfb7 497px,#23c1af 498px,#2bc3a7 499px,#38c896 502px,#3cc991 504px,#39c895 507px,#29c3a9 512px,#1cc0b3 514px,#07bcc0 516px,#02b7cb 517px,#14b0d8 518px,#20a5e2 519px,#2d88f6 521px,#3876fe 522px,#4564fd 523px,#4746eb 525px,#463bdd 526px,#4434cf 527px,#4331c7 528px,#4331c6 529px,#4332ca 530px,#4539d9 532px,#484df0 535px,#4466fd 538px,#3e6fff 539px,#307ffb 541px,#2d8df2 544px,#2c8ff1 546px,#2d8bf4 551px,#2e83f9 556px,#3579fd 558px,#4564fd 560px,#484cf0 562px,#4538d7 564px,#412dbb 566px,#402bb6 567px,#412cba 569px,#4433cd 572px,#4741e5 575px,#4853f5 578px,#465efb 580px,#416bfe 583px,#3c72ff 586px,#406dfe 589px,#4661fc 592px,#4756f7 594px,#4744e8 597px,#4435d2 600px,#412dbc 603px,#402bb6 605px,#402bb6 606px,#412ebe 608px,#4536d3 611px,#4849ed 615px,#4757f7 618px,#465ffb 621px,#465ffb 623px,#475cfa 625px,#484cef 629px,#4741e5 631px,#4434cf 634px,#412dbb 637px,#402bb6 639px,#412ebe 642px,#4536d3 645px,#4747eb 649px,#4853f5 652px,#4758f8 655px,#4854f6 658px,#4849ed 661px,#463cde 664px,#422fc0 668px,#402bb6 671px,#402bb7 672px,#412ebe 674px,#463adb 678px,#4848ec 681px,#4853f5 684px,#4756f7 686px,#4853f5 689px,#4849ed 692px,#463bdd 695px,#422ebf 699px,#402bb7 701px,#402bb6 702px,#402bb7 703px,#422fc1 705px,#463ee0 709px,#4747eb 711px,#4854f5 715px,#4852f4 718px,#4747eb 721px,#463de0 723px,#422fc1 727px,#402bb7 729px,#402bb6 730px,#412dbd 732px,#4538d8 735px,#4743e7 737px,#484ef1 739px,#4755f6 741px,#4854f5 744px,#4746eb 747px,#463bdd 749px,#422fc1 752px,#402bb6 754px,#412cba 756px,#4536d3 759px,#4747eb 762px)"></i>
<i style="left:624px;width:4px;background:linear-gradient(#2896eb 155px,#2f82fa 161px,#3579fd 163px,#3e6fff 165px,#4561fc 168px,#4747eb 174px,#4536d5 179px,#422ebf 184px,#412dbb 188px,#4230c3 190px,#463bdc 193px,#484ff2 196px,#4660fb 198px,#4269fe 199px,#3b73fe 200px,#317dfc 201px,#1fa5e2 206px,#12b1d6 208px,#06b5cf 209px,#01b9c7 210px,#05bbc1 211px,#17bfb6 213px,#23c1af 215px,#31c6a0 219px,#38c896 222px,#3cc991 225px,#3cc991 229px,#39c895 232px,#2dc4a5 237px,#24c1ae 239px,#02bac4 243px,#07b5d0 244px,#1aacdd 245px,#2b91ef 247px,#2f81fa 248px,#3e70ff 249px,#4661fc 250px,#484ef1 252px,#484bef 253px,#484ff2 254px,#475af9 255px,#416cfe 256px,#2e83f9 257px,#269ae9 258px,#15afd8 259px,#13beb9 260px,#3bc992 261px,#76cc61 262px,#b2c535 263px,#ddbd29 264px,#f6ba3b 265px,#fec03b 266px,#fdce31 268px,#f5e526 272px,#f6f020 276px,#f8f917 323px,#f9fb15 385px,#f8f917 438px,#f6f21e 479px,#f5ea24 481px,#f6e028 482px,#fec636 484px,#f2ba37 485px,#a4c83e 486px,#34c79c 487px,#19addc 488px,#2e83f9 489px,#4660fc 490px,#4757f7 491px,#4562fc 492px,#347afd 493px,#1aabdd 495px,#01b9c7 496px,#11beba 497px,#1fc1b1 498px,#29c3aa 499px,#37c897 502px,#3bc993 504px,#37c897 507px,#2dc4a6 511px,#23c1af 513px,#06bcc0 516px,#02b7cb 517px,#13b0d7 518px,#1fa6e2 519px,#2798ea 520px,#3678fe 522px,#4465fd 523px,#4756f6 524px,#463cdf 526px,#4435d0 527px,#4331c7 528px,#4330c5 529px,#4434cf 531px,#463de0 533px,#4853f5 536px,#4564fd 538px,#3975fe 540px,#327dfc 541px,#2e83f9 542px,#2d8bf3 544px,#2c8ef1 546px,#2d8af5 552px,#2f81fa 557px,#337bfc 558px,#4367fd 560px,#4850f2 562px,#463adb 564px,#412ebe 566px,#402bb7 567px,#402bb6 568px,#412dbd 570px,#463adc 574px,#4851f3 578px,#475cfa 580px,#426afe 583px,#3c71ff 586px,#3f6efe 589px,#4757f7 594px,#4746ea 597px,#4536d4 600px,#412ebd 603px,#402bb6 605px,#402bb6 606px,#412dbc 608px,#4435d1 611px,#4742e6 614px,#484cf0 616px,#4759f8 619px,#465ffb 622px,#475cfa 625px,#484df0 629px,#4743e7 631px,#4535d2 634px,#412dbd 637px,#402bb6 639px,#402bb6 640px,#412dbc 642px,#4435d1 645px,#4746ea 649px,#4852f4 652px,#4758f8 655px,#4755f6 658px,#484bee 661px,#463de0 664px,#412dbd 669px,#402bb6 671px,#402bb6 672px,#422fc2 675px,#463de0 679px,#4746eb 681px,#4852f4 684px,#4756f7 686px,#4854f5 689px,#484aee 692px,#4741e5 694px,#4434d0 697px,#412dbb 700px,#402bb6 702px,#402bb7 703px,#422ebf 705px,#463cdf 709px,#4746ea 711px,#4854f5 715px,#4853f5 718px,#4848ec 721px,#473fe2 723px,#412dbd 728px,#402bb6 730px,#412cbb 732px,#4332ca 734px,#4741e5 737px,#484cf0 739px,#4854f5 741px,#4755f6 744px,#4849ec 747px,#463de0 749px,#412dbc 753px,#402bb6 755px,#412ebe 757px,#473fe2 761px,#484aee 763px)"></i>
<i style="left:628px;width:4px;background:linear-gradient(#2a93ee 156px,#2f81fa 161px,#3678fd 163px,#4269fe 166px,#4660fb 168px,#484aee 173px,#4538d8 178px,#422fc2 183px,#412dbb 187px,#412dbc 188px,#4330c5 190px,#463cde 193px,#4851f4 196px,#4562fc 198px,#416bfe 199px,#3875fe 200px,#307ffb 201px,#2b91ef 203px,#18addb 207px,#04b6cd 209px,#01b9c6 210px,#10beba 212px,#24c1ae 215px,#2fc5a3 218px,#39c995 223px,#3bc992 229px,#35c79a 233px,#2bc3a8 237px,#20c1b1 239px,#06bcc0 242px,#01b8c9 243px,#1da8e0 245px,#337bfc 248px,#426afe 249px,#4851f3 251px,#484aee 252px,#4848ec 253px,#484ef1 254px,#475af9 255px,#406dfe 256px,#2e85f8 257px,#259ce7 258px,#10b2d5 259px,#1cc0b3 260px,#43ca8b 261px,#81cc58 262px,#bcc42f 263px,#e3bc2c 264px,#f9bb3d 265px,#fec13a 266px,#fccf30 268px,#f5e625 272px,#f6f020 276px,#f8f917 323px,#f9fb15 385px,#f8f917 438px,#f6f21e 479px,#f5eb23 481px,#f5e227 482px,#fec834 484px,#f8ba3d 485px,#b3c534 486px,#3cc991 487px,#12b1d7 488px,#2e86f7 489px,#4660fb 490px,#4853f5 491px,#475cfa 492px,#3b73fe 493px,#1ea8e1 495px,#02b7cb 496px,#0cbdbc 497px,#1cc0b4 498px,#27c2ac 499px,#36c899 502px,#3ac994 504px,#37c898 507px,#2cc4a6 511px,#22c1b0 513px,#06bcc0 516px,#02b7cb 517px,#13b0d7 518px,#1fa6e2 519px,#2699e9 520px,#3579fd 522px,#4367fd 523px,#4757f7 524px,#463de0 526px,#4331c7 528px,#4230c4 529px,#4433cd 531px,#463bde 533px,#4851f3 536px,#4561fc 538px,#3b72fe 540px,#2f81fa 542px,#2d8af4 544px,#2c8ef2 546px,#2d8bf4 551px,#2f82fa 557px,#317dfc 558px,#426afe 560px,#465ffb 561px,#4747eb 563px,#4434d0 565px,#422fc1 566px,#402cb8 567px,#402bb6 568px,#412dbb 570px,#4435d1 573px,#4743e8 576px,#484ff2 578px,#4660fb 581px,#3e6fff 585px,#3c71ff 587px,#3f6eff 589px,#4563fd 592px,#4853f5 595px,#4742e6 598px,#4434ce 601px,#412cba 604px,#402bb6 606px,#422ec0 609px,#463cde 613px,#484bef 616px,#4758f8 619px,#465ffb 622px,#465dfa 625px,#484ef1 629px,#473fe3 632px,#422ebe 637px,#402bb7 639px,#402bb6 640px,#422fc0 643px,#4537d6 646px,#4745e9 649px,#4851f3 652px,#4758f8 655px,#4756f7 658px,#4848ec 662px,#463adb 665px,#422ebf 669px,#402bb6 672px,#422fc0 675px,#463cde 679px,#4745e9 681px,#484ef1 683px,#4756f6 686px,#4755f6 689px,#4747eb 693px,#4535d2 697px,#412dbd 700px,#402bb6 702px,#412cb9 704px,#4433cc 707px,#463bdc 709px,#4744e8 711px,#4853f5 715px,#4854f5 718px,#484aee 721px,#463cde 724px,#422ebf 728px,#402bb7 730px,#402bb6 731px,#422ebf 733px,#4435d1 735px,#4745e9 738px,#4853f5 741px,#4756f6 744px,#484aee 747px,#473fe3 749px,#4435d1 751px,#422ebf 753px,#402bb6 755px,#412dbb 757px,#463cdf 761px,#484df0 764px)"></i>
<i style="left:632px;width:4px;background:linear-gradient(#2c8ff1 157px,#3080fa 161px,#3777fe 163px,#4368fe 166px,#465ffb 168px,#4849ed 173px,#4538d7 178px,#422fc1 183px,#412dbb 187px,#412dbc 188px,#4331c7 190px,#463de0 193px,#4853f5 196px,#4465fd 198px,#3f6eff 199px,#2f82fa 201px,#21a2e4 205px,#16afd9 207px,#02b7cb 209px,#02bac4 210px,#19bfb5 213px,#25c2ae 215px,#2fc5a3 218px,#39c895 223px,#39c895 230px,#2cc4a7 236px,#22c1af 238px,#02bac3 242px,#05b6cd 243px,#16aeda 244px,#21a3e3 245px,#2e85f8 247px,#3a74fe 248px,#4563fd 249px,#484cf0 251px,#4746ea 252px,#4746ea 253px,#484df0 254px,#475bf9 255px,#3f6fff 256px,#2d88f6 257px,#23a0e5 258px,#08b5d0 259px,#25c2ad 260px,#4dcc82 261px,#8ecb4f 262px,#c5c22a 263px,#e9bb2f 264px,#fbbc3d 265px,#fec239 266px,#fcd130 268px,#f5e327 271px,#f5ee21 274px,#f6f020 276px,#f8f917 323px,#f9fb15 383px,#f8f917 437px,#f6f21e 479px,#f5ec22 481px,#f5e427 482px,#fdcb33 484px,#fcbc3d 485px,#c2c22c 486px,#49cb85 487px,#08b4d1 488px,#2d8af5 489px,#4660fc 490px,#484ff2 491px,#4757f7 492px,#406cfe 493px,#2d8af5 494px,#20a4e3 495px,#06b5cf 496px,#08bcbf 497px,#25c2ae 499px,#2cc4a6 500px,#35c79a 502px,#39c895 504px,#36c799 507px,#2cc4a7 511px,#21c1b0 513px,#06bcc0 516px,#01b7ca 517px,#12b1d7 518px,#1ea7e1 519px,#269ae9 520px,#337afd 522px,#4368fe 523px,#4758f8 524px,#463ee1 526px,#4331c7 528px,#4230c3 529px,#4332cb 531px,#463adb 533px,#484ff2 536px,#465ffb 538px,#3e70ff 540px,#307ffb 542px,#2d89f5 544px,#2d8df2 546px,#2d8bf4 551px,#2e83f9 557px,#307ffb 558px,#3677fe 559px,#4562fc 561px,#484bee 563px,#4536d4 565px,#4330c5 566px,#412cba 567px,#402bb6 568px,#402bb7 569px,#422ebf 571px,#4538d7 574px,#4742e6 576px,#484df1 578px,#465efb 581px,#3f6eff 585px,#3c71ff 587px,#3e6fff 589px,#4464fd 592px,#4755f6 595px,#4743e7 598px,#4435d1 601px,#412dbb 604px,#402bb6 606px,#402bb7 607px,#412ebe 609px,#4536d4 612px,#4849ed 616px,#4757f7 619px,#465ffb 622px,#465ffb 624px,#475bf9 626px,#484bef 630px,#463cde 633px,#422fc0 637px,#402bb6 640px,#422ebe 643px,#4536d4 646px,#4848ec 650px,#4853f5 653px,#4758f8 655px,#4757f7 658px,#4849ed 662px,#463cde 665px,#422fc1 669px,#402bb6 672px,#402bb7 673px,#412ebe 675px,#463adb 679px,#4848ec 682px,#4853f5 685px,#4756f7 687px,#4853f5 690px,#4848ec 693px,#463bdc 696px,#422ebe 700px,#402bb7 702px,#402bb6 703px,#412dbc 705px,#4535d2 708px,#463ee1 710px,#4848ec 712px,#4852f4 715px,#4755f6 717px,#4852f4 719px,#4747eb 722px,#463de0 724px,#422fc1 728px,#402bb7 730px,#402bb6 731px,#412dbd 733px,#463de0 737px,#4849ed 739px,#4852f4 741px,#4756f7 743px,#4854f5 745px,#4747eb 748px,#4536d5 751px,#412dbb 754px,#402bb6 756px,#422ebf 758px,#4435d2 760px,#4740e3 762px,#4850f2 765px)"></i>
<i style="left:636px;width:4px;background:linear-gradient(#2d8bf4 158px,#307ffb 161px,#3876fe 163px,#406cfe 165px,#465efb 168px,#4849ed 173px,#4537d6 178px,#4331c8 181px,#412ebe 184px,#412dbb 186px,#412dbd 188px,#4332c8 190px,#473fe2 193px,#484df1 195px,#465efb 197px,#3d71ff 199px,#337bfc 200px,#20a4e3 205px,#13b0d7 207px,#08b5d0 208px,#01b8c9 209px,#03bbc3 210px,#1abfb5 213px,#25c2ad 215px,#32c69f 219px,#39c895 224px,#38c896 229px,#34c79c 232px,#2dc4a6 235px,#25c2ae 237px,#05bbc1 241px,#01b9c7 242px,#0bb3d2 243px,#1baade 244px,#249ee6 245px,#307ffb 247px,#406dfe 248px,#465dfb 249px,#4851f3 250px,#4848ec 251px,#4743e7 252px,#4744e8 253px,#484cf0 254px,#475cfa 255px,#3c72ff 256px,#2d8bf4 257px,#21a3e3 258px,#01b7ca 259px,#2dc4a6 260px,#5acc78 261px,#9bc944 262px,#cfc028 263px,#eeba35 264px,#fdbd3d 265px,#fdcb33 267px,#f5e426 271px,#f5ec22 273px,#f6f020 275px,#f8f817 320px,#f9fb15 378px,#f8f917 436px,#f6f11e 480px,#f5ee21 481px,#f5e626 482px,#fdcd32 484px,#febe3c 485px,#cfc028 486px,#59cc78 487px,#01b8c9 488px,#2c8ef2 489px,#4561fc 490px,#484cf0 491px,#4852f4 492px,#4466fd 493px,#2e84f8 494px,#23a0e5 495px,#0cb3d3 496px,#05bbc1 497px,#22c1b0 499px,#30c5a1 501px,#37c897 504px,#33c69d 508px,#26c2ac 512px,#18bfb6 514px,#05bbc1 516px,#01b7ca 517px,#12b1d6 518px,#1ea7e1 519px,#327cfc 522px,#426afe 523px,#4759f9 524px,#473fe2 526px,#4331c7 528px,#422fc3 529px,#4332c9 531px,#4539d9 533px,#484df0 536px,#465dfa 538px,#3f6dfe 540px,#3876fe 541px,#2e83f9 543px,#2d8bf4 545px,#2d8df2 547px,#2e83f9 557px,#347afd 559px,#4465fd 561px,#484ef1 563px,#4539d9 565px,#412dbd 567px,#402bb6 568px,#402bb6 569px,#412ebd 571px,#463bdc 575px,#4851f3 579px,#4561fc 582px,#406dfe 585px,#3d71ff 587px,#3e6fff 589px,#4465fd 592px,#4756f7 595px,#4745e9 598px,#4536d3 601px,#412dbd 604px,#402bb6 606px,#402bb6 607px,#422fc2 610px,#463ee0 614px,#4848ec 616px,#4759f8 620px,#465ffb 623px,#475cfa 626px,#484df0 630px,#4742e6 632px,#4435d1 635px,#412dbc 638px,#402bb6 640px,#402bb6 641px,#412dbd 643px,#4435d1 646px,#4746ea 650px,#4852f4 653px,#4758f8 656px,#4755f6 659px,#484bee 662px,#463de0 665px,#412dbd 670px,#402bb6 672px,#402bb6 673px,#422fc2 676px,#463de0 680px,#4747eb 682px,#4852f4 685px,#4757f7 688px,#4851f3 691px,#4745e9 694px,#463cde 696px,#4434cf 698px,#422fc0 700px,#402bb7 702px,#402bb6 703px,#412cba 705px,#4434cf 708px,#463ddf 710px,#4746ea 712px,#4852f4 715px,#4755f6 717px,#4853f5 719px,#4848ec 722px,#473fe2 724px,#412dbd 729px,#402bb6 731px,#402bb7 732px,#412cbb 733px,#4332ca 735px,#463bdd 737px,#4747eb 739px,#4854f5 742px,#4757f7 744px,#4852f4 746px,#4849ed 748px,#463ee0 750px,#412dbd 754px,#402bb6 756px,#412dbd 758px,#4434ce 760px,#4744e8 763px,#4852f4 766px)"></i>
<i style="left:640px;width:4px;background:linear-gradient(#2e87f7 159px,#307efb 161px,#3875fe 163px,#416bfe 165px,#465dfb 168px,#4848ec 173px,#4537d6 178px,#422ec0 183px,#412dbb 187px,#4230c3 189px,#463adc 192px,#484ff2 195px,#4660fc 197px,#4269fe 198px,#3a73fe 199px,#317efb 200px,#2c90f0 202px,#1fa6e2 205px,#19acdc 206px,#06b5ce 208px,#01b9c7 209px,#05bbc1 210px,#1bc0b4 213px,#26c2ad 215px,#32c69f 219px,#38c896 224px,#38c897 228px,#32c69e 232px,#26c2ac 236px,#02bac4 241px,#03b7cc 242px,#13b0d8 243px,#1fa6e2 244px,#2699ea 245px,#3678fd 247px,#4466fd 248px,#4757f8 249px,#4743e7 251px,#4740e3 252px,#4742e6 253px,#484df0 254px,#465efb 255px,#3875fe 256px,#1da8e0 258px,#02bbc3 259px,#33c79d 260px,#69cd6b 261px,#aac73a 262px,#d9be28 263px,#f4ba39 264px,#febe3c 265px,#fdcd31 267px,#f5e626 271px,#f5ed22 273px,#f6f020 275px,#f8f818 319px,#f9fb15 374px,#f8f917 435px,#f6f21e 480px,#f5ef20 481px,#f5e825 482px,#fccf30 484px,#fec03a 485px,#dabd28 486px,#6acd6a 487px,#04bbc2 488px,#2b92ee 489px,#4563fc 490px,#484aed 491px,#484cf0 492px,#4660fb 493px,#307efb 494px,#259ce7 495px,#12b1d6 496px,#02bac3 497px,#1fc0b2 499px,#29c3aa 500px,#2fc5a3 501px,#35c79a 503px,#36c898 504px,#34c79b 507px,#2dc4a5 510px,#25c2ad 512px,#05bbc1 516px,#01b7ca 517px,#1ea8e0 519px,#259be7 520px,#317dfc 522px,#416bfe 523px,#475bf9 524px,#4740e3 526px,#4537d5 527px,#4331c8 528px,#422fc2 529px,#4331c7 531px,#4538d7 533px,#484bef 536px,#4563fd 539px,#3a73fe 541px,#2f81fa 543px,#2d89f5 545px,#2d8cf3 547px,#2d89f5 553px,#2f82fa 558px,#327cfc 559px,#4368fe 561px,#4851f4 563px,#463bdd 565px,#422ec0 567px,#402bb8 568px,#402bb6 569px,#412dbc 571px,#4435d1 574px,#4744e8 577px,#484ff2 579px,#4660fb 582px,#3f6fff 586px,#3d70ff 588px,#3f6dfe 590px,#4758f8 595px,#4747eb 598px,#4537d6 601px,#422ebf 604px,#402bb7 606px,#402bb6 607px,#422fc0 610px,#463cde 614px,#484bef 617px,#4758f8 620px,#465ffb 623px,#465dfa 626px,#484ef1 630px,#473fe2 633px,#412ebe 638px,#402bb7 640px,#402bb6 641px,#422fc0 644px,#4537d6 647px,#4745e9 650px,#4851f3 653px,#4758f8 656px,#4756f7 659px,#4848ec 663px,#463adb 666px,#422ebf 670px,#402bb6 673px,#402bb7 674px,#422ec0 676px,#463cde 680px,#4745e9 682px,#4851f3 685px,#4757f7 688px,#4852f4 691px,#4747eb 694px,#4435d1 698px,#412dbc 701px,#402bb6 703px,#402bb6 704px,#412ebe 706px,#463bdd 710px,#4849ed 713px,#4853f5 716px,#4755f6 718px,#484ef1 721px,#4745e9 723px,#463bde 725px,#422ebf 729px,#402bb7 731px,#402bb6 732px,#422ebf 734px,#4435d1 736px,#473fe2 738px,#484aee 740px,#4756f6 743px,#4756f6 745px,#4850f2 747px,#4745ea 749px,#463adb 751px,#422ec0 754px,#402bb6 756px,#402bb7 757px,#422fc1 759px,#4741e5 763px,#484cf0 765px,#4853f5 767px)"></i>
<i style="left:644px;width:4px;background:linear-gradient(#2f82fa 160px,#3974fe 163px,#416bfe 165px,#4561fc 167px,#4850f2 171px,#463cdf 176px,#422fc2 182px,#412dbc 185px,#412dbb 187px,#4230c4 189px,#463bde 192px,#4851f3 195px,#4562fc 197px,#406cfe 198px,#3876fe 199px,#3080fa 200px,#2b92ee 202px,#1da8e0 205px,#17aedb 206px,#04b6cc 208px,#01b9c6 209px,#22c1b0 214px,#30c5a2 218px,#37c898 223px,#36c898 228px,#33c69e 231px,#2cc4a7 234px,#23c1af 236px,#04bbc2 240px,#01b9c7 241px,#09b4d1 242px,#19acdc 243px,#23a1e5 244px,#2f82f9 246px,#3d70ff 247px,#465ffb 248px,#4746eb 250px,#473fe3 251px,#463de0 252px,#4741e5 253px,#484ef1 254px,#4561fc 255px,#337afd 256px,#2895ec 257px,#19addc 258px,#10beba 259px,#3cc991 260px,#7bcc5d 261px,#b9c431 262px,#e2bc2b 263px,#f9ba3d 264px,#fec03a 265px,#fccf30 267px,#f5e327 270px,#f5eb23 272px,#f6ef20 274px,#f8f818 317px,#f9fb15 371px,#f8f917 434px,#f6f21e 480px,#f6f020 481px,#f5e924 482px,#f6df29 483px,#fbd12f 484px,#fec239 485px,#e4bb2c 486px,#7dcc5b 487px,#12beb9 488px,#2797eb 489px,#4465fd 490px,#4848ec 491px,#4848ec 492px,#475af9 493px,#3578fd 494px,#2797ea 495px,#16aeda 496px,#01b9c6 497px,#0bbdbc 498px,#1cc0b3 499px,#27c2ab 500px,#32c69f 502px,#36c799 504px,#33c79c 507px,#29c3aa 511px,#1ec0b2 513px,#04bbc1 516px,#01b8ca 517px,#1da8e0 519px,#259ce7 520px,#317efb 522px,#406cfe 523px,#475cfa 524px,#4741e4 526px,#4537d6 527px,#4332c8 528px,#422fc1 529px,#4331c6 531px,#4537d5 533px,#4849ed 536px,#4561fc 539px,#3d71ff 541px,#307ffb 543px,#2d88f6 545px,#2d8cf3 547px,#2d8af5 552px,#2e83f9 558px,#317efb 559px,#3876fe 560px,#4660fc 562px,#4849ed 564px,#4536d2 566px,#4230c3 567px,#412cb9 568px,#402bb6 569px,#412cba 571px,#4434cf 574px,#4742e6 577px,#484df1 579px,#465efb 582px,#3f6efe 586px,#3d70ff 588px,#3f6eff 590px,#4563fd 593px,#4854f5 596px,#4743e7 599px,#4435d0 602px,#412dbb 605px,#402bb6 607px,#402bb7 608px,#422ebe 610px,#4536d4 613px,#4849ed 617px,#4757f7 620px,#465ffb 623px,#465ffb 625px,#475bf9 627px,#484bee 631px,#463cde 634px,#422ec0 638px,#402bb6 641px,#422ebf 644px,#4536d4 647px,#4848ec 651px,#4853f5 654px,#4758f8 656px,#4757f7 659px,#4849ed 663px,#463cde 666px,#4434cf 668px,#412dbc 671px,#402bb6 673px,#402bb6 674px,#412ebe 676px,#473fe2 681px,#4848ec 683px,#4853f5 686px,#4756f7 689px,#4853f5 691px,#4848ec 694px,#463adb 697px,#412ebe 701px,#402bb7 703px,#402bb6 704px,#412dbc 706px,#473ee2 711px,#4848ec 713px,#4854f6 717px,#4852f4 720px,#4742e6 724px,#422fc1 729px,#402bb7 731px,#402bb6 732px,#412dbc 734px,#463de0 738px,#4848ec 740px,#4852f4 742px,#4756f7 744px,#4854f6 746px,#4747ec 749px,#4537d5 752px,#412dbb 755px,#402bb6 757px,#422ebe 759px,#4435d1 761px,#4745e9 764px,#484ff2 766px,#4854f6 768px)"></i>
<i style="left:648px;width:4px;background:linear-gradient(#317dfc 161px,#426afe 165px,#475cfa 168px,#484bee 172px,#463cde 176px,#422fc2 182px,#412dbb 185px,#412dbc 187px,#4330c5 189px,#463ddf 192px,#4853f5 195px,#4465fd 197px,#3f6eff 198px,#2f82f9 200px,#259ce7 203px,#15afd9 206px,#02b7cb 208px,#02bac4 209px,#23c1af 214px,#30c5a1 218px,#36c899 223px,#35c79a 228px,#31c6a0 231px,#24c2ae 235px,#06bcc0 239px,#02bac5 240px,#03b7cc 241px,#1ea8e0 243px,#259be8 244px,#337bfc 246px,#4369fe 247px,#4759f8 248px,#484cef 249px,#4741e5 250px,#463cde 251px,#463bdd 252px,#4742e6 253px,#4850f3 254px,#4465fd 255px,#2f81fa 256px,#259be8 257px,#0eb2d4 258px,#22c1b0 259px,#4ccb83 260px,#90ca4d 261px,#c8c129 262px,#ebba31 263px,#fcbc3d 264px,#fec338 265px,#fbd22f 267px,#f5e426 270px,#f5ec22 272px,#f6f020 274px,#f8f818 316px,#f9fb15 368px,#f9f916 433px,#f6f21e 480px,#f6f11f 481px,#f5eb23 482px,#f5e128 483px,#fec537 485px,#edba33 486px,#90ca4d 487px,#22c1b0 488px,#259ce7 489px,#4368fd 490px,#4746eb 491px,#4743e7 492px,#4854f5 493px,#3c72ff 494px,#2a93ee 495px,#1aacdd 496px,#01b8c9 497px,#09bcbe 498px,#19bfb5 499px,#25c2ad 500px,#31c6a0 502px,#35c79a 504px,#33c69d 507px,#28c3aa 511px,#1dc0b3 513px,#04bbc2 516px,#01b8ca 517px,#1da9e0 519px,#259de7 520px,#307ffb 522px,#3f6dfe 523px,#465dfa 524px,#4742e6 526px,#4332c9 528px,#422fc1 529px,#4230c4 531px,#463adc 534px,#4747ec 536px,#465ffb 539px,#3f6eff 541px,#317dfc 543px,#2f83f9 544px,#2d8af5 546px,#2d8bf3 548px,#2e83f9 558px,#3578fd 560px,#4564fd 562px,#484df0 564px,#4538d7 566px,#412dbc 568px,#402bb6 569px,#402bb7 570px,#412ebe 572px,#4536d4 575px,#4740e4 577px,#4851f3 580px,#4561fc 583px,#3e6fff 587px,#3e70ff 589px,#406cfe 591px,#4756f6 596px,#4745e9 599px,#4536d3 602px,#412dbd 605px,#402bb6 607px,#402bb6 608px,#422fc2 611px,#463ee1 615px,#4848ec 617px,#4756f6 620px,#465efb 623px,#465ffb 625px,#475cfa 627px,#484cf0 631px,#4742e6 633px,#4435d1 636px,#412dbc 639px,#402bb6 641px,#402bb6 642px,#412dbd 644px,#463de0 649px,#484bee 652px,#4755f6 655px,#4758f8 658px,#4852f4 661px,#4747eb 664px,#4535d2 668px,#412dbd 671px,#402bb6 673px,#402bb6 674px,#422fc2 677px,#463de0 681px,#4746eb 683px,#4852f4 686px,#4757f7 689px,#4851f3 692px,#4745e9 695px,#463cde 697px,#4434ce 699px,#422ec0 701px,#402bb7 703px,#402bb6 704px,#412dbb 706px,#4435d0 709px,#463de0 711px,#4747eb 713px,#4852f4 716px,#4755f6 718px,#4853f5 720px,#4848ec 723px,#473fe2 725px,#412dbd 730px,#402bb6 732px,#402bb7 733px,#412cbb 734px,#4332ca 736px,#463bdd 738px,#4747eb 740px,#4854f5 743px,#4757f7 745px,#484ef1 748px,#4744e8 750px,#4434cf 753px,#412ebe 755px,#402bb6 757px,#412dbc 759px,#463de0 763px,#4848ec 765px,#4851f4 767px,#4755f6 769px)"></i>
<i style="left:652px;width:4px;background:linear-gradient(#3678fe 162px,#4269fe 165px,#4660fb 167px,#484ef1 171px,#463bdd 176px,#422fc2 182px,#412dbb 185px,#412dbc 187px,#4331c6 189px,#463ee1 192px,#484df0 194px,#465dfb 196px,#3d71ff 198px,#327bfc 199px,#20a5e2 204px,#1aabdd 205px,#07b5d0 207px,#01b8c9 208px,#02bbc3 209px,#24c1af 214px,#2ec4a4 217px,#35c79a 222px,#35c79a 227px,#31c6a0 230px,#26c2ad 234px,#02bac3 239px,#01b8c8 240px,#08b4d0 241px,#18addb 242px,#21a2e4 243px,#2e85f8 245px,#3b73fe 246px,#4561fc 247px,#4746ea 249px,#463de0 250px,#4539d9 251px,#463adb 252px,#4743e7 253px,#4854f5 254px,#416bfe 255px,#2d88f6 256px,#22a2e4 257px,#01b8ca 258px,#2fc5a3 259px,#61cd71 260px,#a5c83d 261px,#d7be28 262px,#f3ba38 263px,#febe3c 264px,#fdcd31 266px,#f5e128 269px,#f5ea23 271px,#f6ef20 273px,#f8f818 314px,#f9fb15 365px,#f9f916 432px,#f6f21e 480px,#f6f11e 481px,#f5ec22 482px,#f5e327 483px,#fec735 485px,#f4ba39 486px,#a2c83f 487px,#2dc4a5 488px,#23a1e4 489px,#416bfe 490px,#4746ea 491px,#473fe2 492px,#484ff2 493px,#416cfe 494px,#2c8ef1 495px,#1da9e0 496px,#02b7cb 497px,#06bcc0 498px,#23c1af 500px,#2bc3a7 501px,#33c69d 503px,#34c79b 504px,#32c69e 507px,#2cc4a7 510px,#23c1af 512px,#03bbc2 516px,#01b7ca 517px,#1da9e0 519px,#249de6 520px,#2f80fa 522px,#3f6fff 523px,#465efb 524px,#4850f2 525px,#4538d8 527px,#4332ca 528px,#422fc1 529px,#422ec0 530px,#4332c8 532px,#4639d9 534px,#484df0 537px,#475dfa 539px,#406cfe 541px,#3a74fe 542px,#2f81fa 544px,#2d89f6 546px,#2d8bf4 548px,#2e84f8 558px,#337bfc 560px,#4367fd 562px,#4850f3 564px,#463adc 566px,#422ebf 568px,#402bb7 569px,#402bb6 570px,#412dbc 572px,#4435d2 575px,#4744e8 578px,#484ff2 580px,#465ffb 583px,#3f6eff 587px,#3e70ff 589px,#406dfe 591px,#4757f7 596px,#4746eb 599px,#4537d6 602px,#422ebf 605px,#402bb7 607px,#402bb6 608px,#422fc0 611px,#463cde 615px,#484bef 618px,#4758f8 621px,#465ffb 624px,#465dfa 627px,#484ef1 631px,#473fe2 634px,#412ebe 639px,#402bb7 641px,#402bb6 642px,#422fc0 645px,#4537d6 648px,#4745e9 651px,#4851f3 654px,#4758f8 657px,#4756f7 660px,#4848ec 664px,#463bdc 667px,#422ebf 671px,#402bb6 674px,#402bb7 675px,#422ebf 677px,#4537d6 680px,#4745e9 683px,#4851f3 686px,#4757f7 689px,#4852f4 692px,#4746eb 695px,#463de0 697px,#422fc2 701px,#402bb6 704px,#402bb7 705px,#422ebf 707px,#463bde 711px,#484aed 714px,#4853f5 717px,#4755f6 719px,#484ef1 722px,#4745e9 724px,#463bde 726px,#422ebf 730px,#402bb7 732px,#402bb6 733px,#422ebf 735px,#4435d0 737px,#473fe2 739px,#484aee 741px,#4756f6 744px,#4756f6 746px,#4850f2 748px,#4746ea 750px,#463adc 752px,#422fc0 755px,#402bb6 757px,#402bb6 758px,#422fc1 760px,#463bdd 763px,#4746eb 765px,#4853f5 768px,#4854f6 770px)"></i>
<i style="left:656px;width:4px;background:linear-gradient(#3b72ff 163px,#4369fe 165px,#4756f7 169px,#463bdd 176px,#422fc1 182px,#412dbb 185px,#412dbc 187px,#4331c7 189px,#473fe2 192px,#484ef1 194px,#465ffb 196px,#4269fe 197px,#3a73fe 198px,#317efb 199px,#2c90f0 201px,#1ea7e1 204px,#19addc 205px,#05b6ce 207px,#01b9c7 208px,#04bbc1 209px,#24c2ae 214px,#2ec5a4 217px,#34c79b 222px,#34c79b 226px,#31c69f 229px,#2bc3a8 232px,#22c1b0 234px,#0bbdbd 237px,#01b9c6 239px,#03b7cc 240px,#11b2d5 241px,#1da9e0 242px,#259de7 243px,#317dfc 245px,#416afe 246px,#475af9 247px,#4740e4 249px,#4639d9 250px,#4536d4 251px,#463adb 252px,#4746ea 253px,#4759f8 254px,#3b73fe 255px,#1caadf 257px,#0abdbd 258px,#3ac993 259px,#7bcc5d 260px,#bac430 261px,#e4bb2c 262px,#f9bb3d 263px,#fec13a 264px,#fcd030 266px,#f5e427 269px,#f5ec22 271px,#f6f020 273px,#f8f818 314px,#f9fb15 363px,#f9f916 432px,#f6f11e 481px,#f5ee21 482px,#f5e526 483px,#fec934 485px,#f9bb3d 486px,#b4c534 487px,#35c79a 488px,#1ea6e1 489px,#3e70ff 490px,#4746ea 491px,#463bdd 492px,#4849ed 493px,#4466fd 494px,#2d89f5 495px,#1fa6e2 496px,#05b6ce 497px,#03bbc2 498px,#21c1b0 500px,#2ac3a9 501px,#32c69e 503px,#33c79c 504px,#31c69f 507px,#2bc3a8 510px,#22c1b0 512px,#03bbc2 516px,#01b7ca 517px,#1ca9df 519px,#249ee6 520px,#2f81fa 522px,#3d70ff 523px,#465ffb 524px,#4851f3 525px,#4639d9 527px,#4432cb 528px,#422fc1 529px,#422ebf 530px,#4331c7 532px,#4538d7 534px,#484bef 537px,#4562fc 540px,#3c72ff 542px,#307ffb 544px,#2d87f6 546px,#2d8bf4 548px,#2d88f6 554px,#2f82f9 559px,#317dfc 560px,#426afe 562px,#4853f5 564px,#463de0 566px,#4435d1 567px,#422fc3 568px,#412cb9 569px,#402bb6 570px,#412cbb 572px,#4434cf 575px,#4742e6 578px,#484df1 580px,#465dfb 583px,#406dfe 587px,#3e70ff 589px,#3f6dfe 591px,#4563fc 594px,#4854f5 597px,#4743e7 600px,#4435d0 603px,#412dbb 606px,#402bb6 608px,#402bb7 609px,#412ebe 611px,#4536d4 614px,#4849ed 618px,#4757f7 621px,#465ffb 624px,#465ffb 626px,#475bf9 628px,#484bee 632px,#463cde 635px,#422ec0 639px,#402bb6 642px,#422ebf 645px,#4536d4 648px,#4848ec 652px,#4758f8 657px,#4757f7 660px,#484aee 664px,#463cde 667px,#4434d0 669px,#412dbc 672px,#402bb6 674px,#402bb6 675px,#412ebd 677px,#473ee2 682px,#4848ec 684px,#4853f5 687px,#4756f7 689px,#4853f5 692px,#4848ec 695px,#473fe2 697px,#412ebe 702px,#402bb6 704px,#402bb6 705px,#412dbd 707px,#4536d3 710px,#4744e8 713px,#484cf0 715px,#4854f6 718px,#4852f4 721px,#4747eb 724px,#463de0 726px,#422fc1 730px,#402bb7 732px,#402bb6 733px,#412dbc 735px,#4538d7 738px,#4743e7 740px,#484df1 742px,#4755f6 744px,#4854f6 747px,#4848ec 750px,#4537d6 753px,#412dbc 756px,#402bb6 758px,#412ebe 760px,#473fe2 764px,#484aee 766px,#4854f6 769px,#4853f5 771px)"></i>
<i style="left:660px;width:4px;background:linear-gradient(#406dfe 164px,#4563fd 166px,#4852f4 170px,#4741e5 174px,#4538d7 177px,#4332c8 180px,#422ebe 183px,#412dbb 185px,#412dbd 187px,#4332c9 189px,#4740e4 192px,#4850f2 194px,#4561fc 196px,#416bfe 197px,#3876fe 198px,#3080fa 199px,#2a92ee 201px,#1da9e0 204px,#16afda 205px,#03b7cc 207px,#01bac5 208px,#0cbdbc 210px,#20c1b1 213px,#2cc4a7 216px,#34c79c 221px,#33c79c 226px,#30c5a1 229px,#24c1ae 233px,#07bcc0 237px,#02bac5 238px,#01b8c9 239px,#08b4d0 240px,#17aedb 241px,#21a4e3 242px,#2e87f7 244px,#3975fe 245px,#4562fc 246px,#4745e9 248px,#463bdd 249px,#4536d3 250px,#4435d1 251px,#463bdd 252px,#484aee 253px,#4660fb 254px,#327dfc 255px,#2699e9 256px,#0fb2d5 257px,#23c1af 258px,#50cc7f 259px,#96ca48 260px,#cec028 261px,#efba35 262px,#fdbd3d 263px,#fdcc32 265px,#f5e128 268px,#f5ea23 270px,#f6ef20 272px,#f8f718 311px,#f9fb15 361px,#f9f916 431px,#f6f21e 481px,#f6ef20 482px,#f5e725 483px,#fdcc32 485px,#fcbd3d 486px,#c4c22b 487px,#40ca8d 488px,#19acdc 489px,#3975fe 490px,#4747eb 491px,#4538d8 492px,#4744e8 493px,#4660fb 494px,#2e84f8 495px,#21a3e4 496px,#08b4d0 497px,#02bac4 498px,#1fc0b2 500px,#29c3aa 501px,#2ec5a4 502px,#33c69d 504px,#31c6a0 507px,#2ac3a9 510px,#21c1b1 512px,#03bbc3 516px,#01b8ca 517px,#1caadf 519px,#249fe6 520px,#2f82f9 522px,#3c71ff 523px,#4661fc 524px,#4852f4 525px,#463adb 527px,#4433cc 528px,#422fc1 529px,#422ebe 530px,#4330c5 532px,#4537d5 534px,#4849ed 537px,#4660fc 540px,#3e70ff 542px,#317dfc 544px,#2e86f7 546px,#2d8af4 548px,#2e83f9 559px,#307ffb 560px,#3677fe 561px,#4562fc 563px,#484bef 565px,#4537d6 567px,#412dbb 569px,#402bb6 570px,#402bb7 571px,#412ebe 573px,#4536d4 576px,#4740e4 578px,#4851f3 581px,#4661fc 584px,#3f6eff 588px,#3e6fff 590px,#416bfe 592px,#4755f6 597px,#4744e9 600px,#4536d3 603px,#412dbd 606px,#402bb6 608px,#402bb6 609px,#422fc2 612px,#463de0 616px,#4848ec 618px,#4759f8 622px,#465ffb 625px,#475cfa 628px,#484cf0 632px,#4742e6 634px,#4435d1 637px,#412dbc 640px,#402bb6 642px,#402bb6 643px,#412dbd 645px,#4435d1 648px,#4746ea 652px,#4852f4 655px,#4758f8 658px,#4755f6 661px,#4747eb 665px,#4536d3 669px,#412ebe 672px,#402bb6 675px,#402bb8 676px,#422fc1 678px,#463ddf 682px,#4746ea 684px,#4852f4 687px,#4756f7 689px,#4854f5 692px,#4849ed 695px,#463bdd 698px,#422ebf 702px,#402bb7 704px,#402bb6 705px,#402bb7 706px,#422fc1 708px,#463de0 712px,#4747eb 714px,#4854f5 718px,#4853f4 721px,#4848ec 724px,#473fe2 726px,#412dbd 731px,#402bb6 733px,#412cba 735px,#4332ca 737px,#4741e4 740px,#484cef 742px,#4854f5 744px,#4755f6 747px,#484aed 750px,#473ee1 752px,#412ebe 756px,#402bb6 758px,#412dbc 760px,#463ddf 764px,#4848ec 766px,#4854f5 769px,#4852f4 772px)"></i>
<i style="left:664px;width:4px;background:linear-gradient(#4367fd 165px,#484df0 171px,#4537d7 177px,#4331c8 180px,#412ebe 183px,#412dbb 185px,#412dbd 187px,#4332ca 189px,#463bdc 191px,#4851f4 194px,#4563fd 196px,#3f6efe 197px,#2f82f9 199px,#259de7 202px,#1babde 204px,#01b8ca 207px,#02bac4 208px,#21c1b0 213px,#2dc4a6 216px,#33c69d 221px,#33c69d 225px,#30c5a1 228px,#25c2ad 232px,#03bbc3 237px,#01b9c8 238px,#04b6cd 239px,#10b2d5 240px,#249ee6 242px,#307ffb 244px,#416cfe 245px,#475bf9 246px,#473fe3 248px,#4537d6 249px,#4434cd 250px,#4435d0 251px,#463ee1 252px,#4850f3 253px,#4369fe 254px,#2e87f7 255px,#21a3e3 256px,#01b9c7 257px,#33c69d 258px,#6dcd67 259px,#b1c635 260px,#dfbc2a 261px,#f7ba3c 262px,#fec03b 263px,#fcd030 265px,#f5e427 268px,#f5ec22 270px,#f6f020 272px,#f8f818 312px,#f9fb15 360px,#f9f916 431px,#f6f21e 481px,#f6f01f 482px,#f5e924 483px,#f6de29 484px,#fccf30 485px,#febe3c 486px,#d2bf27 487px,#52cc7e 488px,#10b2d5 489px,#337bfc 490px,#4849ed 491px,#4536d4 492px,#473fe3 493px,#475af9 494px,#307ffb 495px,#239fe5 496px,#0cb3d3 497px,#01b9c6 498px,#0cbdbc 499px,#1dc0b3 500px,#27c2ab 501px,#2dc4a5 502px,#32c69e 504px,#30c5a1 507px,#29c3a9 510px,#20c1b1 512px,#02bbc3 516px,#01b8ca 517px,#1baade 519px,#249fe5 520px,#2e83f9 522px,#3b73fe 523px,#4562fc 524px,#4853f5 525px,#463bdc 527px,#422fc2 529px,#412ebe 530px,#4230c4 532px,#463bdc 535px,#4848ec 537px,#465efb 540px,#3f6dfe 542px,#3975fe 543px,#2f81fa 545px,#2d88f6 547px,#2d8af5 549px,#2e84f8 559px,#347afd 561px,#4465fd 563px,#484ff2 565px,#463ada 567px,#422ebe 569px,#402bb7 570px,#402bb6 571px,#412dbc 573px,#4435d2 576px,#4744e8 579px,#484ff2 581px,#465ffb 584px,#3f6dfe 588px,#3e6fff 590px,#406cfe 592px,#4757f7 597px,#4746eb 600px,#4537d6 603px,#422ebf 606px,#402bb7 608px,#402bb6 609px,#422ec0 612px,#463cde 616px,#484bef 619px,#4758f8 622px,#465ffb 625px,#465dfa 628px,#484ef1 632px,#473fe2 635px,#412ebe 640px,#402bb7 642px,#402bb6 643px,#422fc0 646px,#4537d6 649px,#4744e9 652px,#4851f3 655px,#4758f8 658px,#4756f7 661px,#4848ec 665px,#463bdd 668px,#422ec0 672px,#402bb6 675px,#402bb7 676px,#422ebf 678px,#4537d6 681px,#4745e9 684px,#484df1 686px,#4756f6 689px,#4755f6 692px,#4746ea 696px,#463ddf 698px,#422fc1 702px,#402bb8 704px,#402bb6 705px,#402bb7 706px,#422ebf 708px,#463cde 712px,#4745e9 714px,#4853f5 718px,#4853f5 721px,#484aed 724px,#463bde 727px,#422ebf 731px,#402bb7 733px,#402bb6 734px,#422ebe 736px,#4435d0 738px,#4744e9 741px,#484ff2 743px,#4755f6 745px,#4854f5 748px,#4746ea 751px,#463adc 753px,#422fc0 756px,#402bb6 758px,#412cba 760px,#4536d3 763px,#4740e4 765px,#484bef 767px,#4755f6 770px,#484ff2 773px)"></i>
<i style="left:668px;width:4px;background:linear-gradient(#4562fc 166px,#484df0 171px,#4537d6 177px,#4331c8 180px,#412ebe 183px,#412dbb 185px,#412ebd 187px,#4332cb 189px,#463cde 191px,#4853f5 194px,#4466fd 196px,#3e70ff 197px,#337bfd 198px,#2797eb 201px,#1fa6e2 203px,#19acdc 204px,#06b5ce 206px,#01b9c8 207px,#03bbc2 208px,#1dc0b3 212px,#27c2ac 214px,#2fc5a3 217px,#32c69e 221px,#31c69f 226px,#2ac3a9 230px,#22c1b0 232px,#05bbc1 236px,#02b7ca 238px,#08b4d1 239px,#17aeda 240px,#20a4e3 241px,#2797ea 242px,#3876fe 244px,#4563fd 245px,#4745e9 247px,#463adb 248px,#4434ce 249px,#4332c9 250px,#4536d3 251px,#4743e7 252px,#4758f8 253px,#3a74fe 254px,#18aedb 256px,#19bfb6 257px,#47cb87 258px,#8fcb4e 259px,#cac129 260px,#edba33 261px,#fcbc3d 262px,#fec438 263px,#f5e128 267px,#f5eb23 269px,#f6ef20 271px,#f8f818 310px,#f9fb15 359px,#f9f916 431px,#f6f21e 481px,#f6f11f 482px,#f5eb23 483px,#f6e028 484px,#fec13a 486px,#debc2a 487px,#66cd6d 488px,#03b7cc 489px,#2f82fa 490px,#484cef 491px,#4435d0 492px,#463bdd 493px,#4755f6 494px,#337afd 495px,#259ce7 496px,#11b1d6 497px,#01b9c8 498px,#0abdbe 499px,#1bc0b4 500px,#26c2ac 501px,#2dc4a6 502px,#32c69f 504px,#30c5a2 507px,#29c3aa 510px,#1fc0b1 512px,#02bac3 516px,#01b8ca 517px,#1babde 519px,#23a0e5 520px,#2e85f8 522px,#3a74fe 523px,#4563fd 524px,#4854f6 525px,#463bdd 527px,#422fc2 529px,#412dbd 530px,#422fc2 532px,#463ada 535px,#4746ea 537px,#475cfa 540px,#416bfe 542px,#3b73fe 543px,#307ffb 545px,#2e87f7 547px,#2d8af5 549px,#2e84f8 559px,#327cfc 561px,#4369fe 563px,#465dfb 564px,#4747eb 566px,#4435d0 568px,#422fc2 569px,#412cb9 570px,#402bb6 571px,#412cbb 573px,#4434cf 576px,#4742e6 579px,#484df0 581px,#465dfa 584px,#406cfe 588px,#3e6fff 590px,#406dfe 592px,#4563fc 595px,#4854f5 598px,#4743e7 601px,#4435d0 604px,#412dbb 607px,#402bb6 609px,#402bb7 610px,#412ebe 612px,#4536d4 615px,#4849ed 619px,#4757f7 622px,#465ffb 625px,#465ffb 627px,#475bf9 629px,#484bef 633px,#463cde 636px,#422ec0 640px,#402bb6 643px,#422ebe 646px,#4536d4 649px,#4747ec 653px,#4853f5 656px,#4758f8 659px,#4755f6 662px,#4746ea 666px,#463cdf 668px,#422fc2 672px,#402bb6 675px,#402bb6 676px,#412dbd 678px,#4536d3 681px,#463ee1 683px,#4848ec 685px,#4853f5 688px,#4756f7 690px,#4853f5 693px,#4848ec 696px,#473ee1 698px,#4432cb 701px,#412dbd 703px,#402bb6 705px,#402bb6 706px,#412ebd 708px,#463adc 712px,#4848ec 715px,#4854f6 719px,#4852f4 722px,#4747eb 725px,#463de0 727px,#422fc1 731px,#402bb7 733px,#402bb6 734px,#412dbc 736px,#4537d7 739px,#4742e7 741px,#484df1 743px,#4755f6 745px,#4855f6 748px,#4848ec 751px,#4537d6 754px,#412dbc 757px,#402bb6 759px,#412ebe 761px,#4434cf 763px,#473ee1 765px,#484ef1 768px,#4755f6 771px,#484df0 774px)"></i>
<i style="left:672px;width:3px;background:linear-gradient(#4562fc 166px,#484cf0 171px,#4537d6 177px,#4331c7 180px,#412ebe 183px,#412dbb 185px,#412ebe 187px,#4433cb 189px,#463cdf 191px,#484cef 193px,#465dfb 195px,#4367fd 196px,#3c72ff 197px,#317dfc 198px,#2699e9 201px,#1da8e0 203px,#17aedb 204px,#04b6cd 206px,#01b9c6 207px,#0abdbd 209px,#24c1af 213px,#2dc4a5 216px,#32c69f 220px,#32c69f 224px,#2fc5a2 227px,#24c2ae 231px,#02bac3 236px,#01b8c8 237px,#04b6cd 238px,#1baade 240px,#2b91ef 242px,#2f81fa 243px,#3f6efe 244px,#475cfa 245px,#473fe3 247px,#4536d4 248px,#4332c9 249px,#4331c8 250px,#4538d8 251px,#4849ed 252px,#4661fc 253px,#307ffb 254px,#249de6 255px,#05b6ce 256px,#2ec4a4 257px,#64cd6f 258px,#abc739 259px,#dcbd29 260px,#f6ba3b 261px,#febf3b 262px,#fcd030 264px,#f5e426 267px,#f5ed22 269px,#f6f020 271px,#f8f818 311px,#f9fb15 360px,#f9f916 431px,#f6f21e 481px,#f6f11e 482px,#f5ec22 483px,#f5e227 484px,#fec338 486px,#e7bb2e 487px,#79cc5e 488px,#02bbc3 489px,#2d88f6 490px,#484ff2 491px,#4434ce 492px,#4538d8 493px,#4851f3 494px,#3875fe 495px,#2699e9 496px,#14b0d8 497px,#01b8c9 498px,#08bcbf 499px,#19bfb5 500px,#25c2ad 501px,#2cc4a7 502px,#31c6a0 504px,#2fc5a2 507px,#28c3aa 510px,#1fc0b2 512px,#02bac3 516px,#01b8ca 517px,#1babde 519px,#23a0e5 520px,#2e86f8 522px,#3975fe 523px,#4464fd 524px,#4755f6 525px,#463cdf 527px,#4230c3 529px,#412dbd 530px,#422fc1 532px,#4539d9 535px,#484cef 538px,#4562fc 541px,#3d71ff 543px,#317efb 545px,#2e86f7 547px,#2d89f5 549px,#2e83f9 560px,#317efb 561px,#3876fe 562px,#4660fc 564px,#484aee 566px,#4536d4 568px,#4330c5 569px,#412cbb 570px,#402bb6 571px,#402bb7 572px,#422ebe 574px,#4537d5 577px,#4740e4 579px,#4851f3 582px,#4660fc 585px,#3f6efe 589px,#3f6fff 591px,#416bfe 593px,#465ffb 596px,#4755f6 598px,#4744e8 601px,#4536d3 604px,#412dbd 607px,#402bb6 609px,#402bb6 610px,#422fc2 613px,#463de0 617px,#4848ec 619px,#4759f8 623px,#465ffb 626px,#475cfa 629px,#484cf0 633px,#4742e6 635px,#4435d1 638px,#412dbc 641px,#402bb6 643px,#412dbd 646px,#4435d1 649px,#4746ea 653px,#4852f4 656px,#4758f8 659px,#4755f6 662px,#4747eb 666px,#4536d3 670px,#412ebe 673px,#402bb6 676px,#402bb8 677px,#422fc1 679px,#463ddf 683px,#4746ea 685px,#4852f4 688px,#4756f7 690px,#4854f5 693px,#4849ed 696px,#463bdd 699px,#422ebf 703px,#402bb7 705px,#402bb6 706px,#402bb8 707px,#422fc2 709px,#4742e7 714px,#484cef 716px,#4854f5 719px,#4853f4 722px,#4848ec 725px,#473ee2 727px,#412dbd 732px,#402bb6 734px,#412cba 736px,#4332ca 738px,#4741e5 741px,#484cef 743px,#4854f5 745px,#4755f6 748px,#4849ed 751px,#463ee1 753px,#412ebe 757px,#402bb6 759px,#412dbc 761px,#463cdf 765px,#484df0 768px,#4755f6 771px,#484ef1 774px)"></i>
</div></div>
<svg width="1042" height="769" viewBox="0 0 1042 769">
<defs><linearGradient id="cb" x1="0" y1="1" x2="0" y2="0"><stop offset="0.0000" stop-color="#3e26a8"/><stop offset="0.0159" stop-color="#402ab4"/><stop offset="0.0317" stop-color="#422ec0"/><stop offset="0.0476" stop-color="#4332cb"/><stop offset="0.0635" stop-color="#4537d5"/><stop offset="0.0794" stop-color="#463cde"/><stop offset="0.0952" stop-color="#4741e5"/><stop offset="0.1111" stop-color="#4747eb"/><stop offset="0.1270" stop-color="#484df0"/><stop offset="0.1429" stop-color="#4852f4"/><stop offset="0.1587" stop-color="#4758f8"/><stop offset="0.1746" stop-color="#465efb"/><stop offset="0.1905" stop-color="#4563fd"/><stop offset="0.2063" stop-color="#4269fe"/><stop offset="0.2222" stop-color="#3e6fff"/><stop offset="0.2381" stop-color="#3875fe"/><stop offset="0.2540" stop-color="#327cfc"/><stop offset="0.2698" stop-color="#2f81fa"/><stop offset="0.2857" stop-color="#2e87f7"/><stop offset="0.3016" stop-color="#2d8cf3"/><stop offset="0.3175" stop-color="#2b91ef"/><stop offset="0.3333" stop-color="#2797eb"/><stop offset="0.3492" stop-color="#259be8"/><stop offset="0.3651" stop-color="#23a0e5"/><stop offset="0.3810" stop-color="#20a5e3"/><stop offset="0.3968" stop-color="#1ca9df"/><stop offset="0.4127" stop-color="#18addb"/><stop offset="0.4286" stop-color="#12b1d6"/><stop offset="0.4444" stop-color="#08b5d0"/><stop offset="0.4603" stop-color="#01b8ca"/><stop offset="0.4762" stop-color="#02bac3"/><stop offset="0.4921" stop-color="#0bbdbd"/><stop offset="0.5079" stop-color="#19bfb6"/><stop offset="0.5238" stop-color="#24c1ae"/><stop offset="0.5397" stop-color="#2cc4a7"/><stop offset="0.5556" stop-color="#31c69f"/><stop offset="0.5714" stop-color="#37c897"/><stop offset="0.5873" stop-color="#3fca8e"/><stop offset="0.6032" stop-color="#4acb84"/><stop offset="0.6190" stop-color="#57cc7a"/><stop offset="0.6349" stop-color="#64cd6f"/><stop offset="0.6508" stop-color="#72cd64"/><stop offset="0.6667" stop-color="#81cc59"/><stop offset="0.6825" stop-color="#8fcb4e"/><stop offset="0.6984" stop-color="#9dc943"/><stop offset="0.7143" stop-color="#abc739"/><stop offset="0.7302" stop-color="#b9c431"/><stop offset="0.7460" stop-color="#c5c22a"/><stop offset="0.7619" stop-color="#d1bf27"/><stop offset="0.7778" stop-color="#dcbd29"/><stop offset="0.7937" stop-color="#e6bb2d"/><stop offset="0.8095" stop-color="#f0ba36"/><stop offset="0.8254" stop-color="#f8ba3d"/><stop offset="0.8413" stop-color="#febe3c"/><stop offset="0.8571" stop-color="#fec338"/><stop offset="0.8730" stop-color="#fec934"/><stop offset="0.8889" stop-color="#fccf30"/><stop offset="0.9048" stop-color="#fad62d"/><stop offset="0.9206" stop-color="#f7dc2a"/><stop offset="0.9365" stop-color="#f5e327"/><stop offset="0.9524" stop-color="#f5e924"/><stop offset="0.9683" stop-color="#f6ef20"/><stop offset="0.9841" stop-color="#f7f51b"/><stop offset="1.0000" stop-color="#f9fb15"/></linearGradient></defs>
<rect x="179.5" y="42.4" width="675.0" height="605.1" fill="none" stroke="#262626" stroke-width="0.8"/>
<rect x="875" y="43" width="19" height="604.5" fill="url(#cb)" stroke="#262626" stroke-width="2"/>
<line x1="887" x2="894" y1="527.6" y2="527.6" stroke="#262626" stroke-width="1.6"/>
<text class="t" x="910.8" y="542.0">0.2</text>
<line x1="887" x2="894" y1="406.4" y2="406.4" stroke="#262626" stroke-width="1.6"/>
<text class="t" x="910.8" y="420.8">0.4</text>
<line x1="887" x2="894" y1="285.2" y2="285.2" stroke="#262626" stroke-width="1.6"/>
<text class="t" x="910.8" y="299.6">0.6</text>
<line x1="887" x2="894" y1="164.0" y2="164.0" stroke="#262626" stroke-width="1.6"/>
<text class="t" x="910.8" y="178.4">0.8</text>
<text class="t" x="167.8" y="58.6" text-anchor="end">1400</text>
<text class="t" x="167.8" y="144.8" text-anchor="end">1300</text>
<text class="t" x="167.8" y="231.1" text-anchor="end">1200</text>
<text class="t" x="167.8" y="317.4" text-anchor="end">1100</text>
<text class="t" x="167.8" y="403.6" text-anchor="end">1000</text>
<text class="t" x="167.8" y="489.9" text-anchor="end">900</text>
<text class="t" x="167.8" y="576.1" text-anchor="end">800</text>
<text class="t" x="167.8" y="662.4" text-anchor="end">700</text>
<text class="t" x="280.8" y="697" text-anchor="middle">200</text>
<text class="t" x="415.8" y="697" text-anchor="middle">220</text>
<text class="t" x="550.8" y="697" text-anchor="middle">240</text>
<text class="t" x="685.8" y="697" text-anchor="middle">260</text>
<text class="t" x="820.8" y="697" text-anchor="middle">280</text>
<text class="l" x="516.6" y="744.3" text-anchor="middle">Last PC period, nm</text>
<text class="l" transform="translate(62.5,345.4) rotate(-90)" text-anchor="middle">Wavelength, nm</text>
<text class="l" transform="translate(1023.6,345.5) rotate(-90)" text-anchor="middle">Reflectance</text>
</svg>
</body></html>
